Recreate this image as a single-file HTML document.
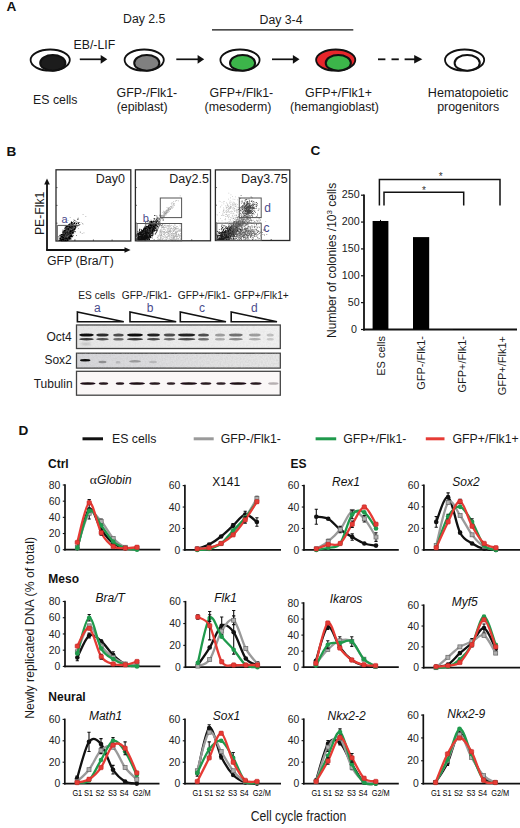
<!DOCTYPE html>
<html><head><meta charset="utf-8"><style>
html,body{margin:0;padding:0;background:#fff;}
svg{display:block;font-family:"Liberation Sans", sans-serif;}
</style></head><body>
<svg width="520" height="828" viewBox="0 0 520 828">
<rect width="520" height="828" fill="#fff"/>
<text x="6.60" y="11.40" font-size="13.6" text-anchor="start" font-weight="bold" font-style="normal" fill="#111" >A</text>
<text x="123.00" y="23.40" font-size="12.3" text-anchor="start" font-weight="normal" font-style="normal" fill="#1a1a1a" >Day 2.5</text>
<text x="259.50" y="23.80" font-size="12.3" text-anchor="start" font-weight="normal" font-style="normal" fill="#1a1a1a" >Day 3-4</text>
<line x1="212" y1="29.9" x2="353.3" y2="29.9" stroke="#111" stroke-width="1.4"/>
<text x="73.50" y="48.60" font-size="12.3" text-anchor="start" font-weight="normal" font-style="normal" fill="#1a1a1a" >EB/-LIF</text>
<ellipse cx="50.2" cy="60.1" rx="19.6" ry="10.6" fill="white" stroke="#111" stroke-width="1.8"/>
<ellipse cx="52.800000000000004" cy="62.9" rx="12.6" ry="7.8" fill="#1c1c1c" stroke="#111" stroke-width="2"/>
<ellipse cx="144.2" cy="60.1" rx="19.6" ry="10.6" fill="white" stroke="#111" stroke-width="1.8"/>
<ellipse cx="146.79999999999998" cy="62.9" rx="12.6" ry="7.8" fill="#808080" stroke="#111" stroke-width="2"/>
<ellipse cx="240" cy="60.1" rx="19.6" ry="10.6" fill="white" stroke="#111" stroke-width="1.8"/>
<ellipse cx="242.6" cy="62.9" rx="12.6" ry="7.8" fill="#3cb54a" stroke="#111" stroke-width="2"/>
<ellipse cx="335.7" cy="60.1" rx="19.6" ry="10.6" fill="#e8262b" stroke="#111" stroke-width="1.8"/>
<ellipse cx="338.3" cy="62.9" rx="12.6" ry="7.8" fill="#3cb54a" stroke="#111" stroke-width="2"/>
<ellipse cx="464.6" cy="60.1" rx="19.6" ry="10.6" fill="white" stroke="#111" stroke-width="1.8"/>
<ellipse cx="467.20000000000005" cy="62.9" rx="12.6" ry="7.8" fill="white" stroke="#111" stroke-width="2"/>
<line x1="79.8" y1="59.3" x2="101.7" y2="59.3" stroke="#111" stroke-width="1.7"/>
<path d="M100.7,54.9 L107.3,59.3 L100.7,63.699999999999996 Z" fill="#111"/>
<line x1="176.3" y1="59.3" x2="198.6" y2="59.3" stroke="#111" stroke-width="1.7"/>
<path d="M197.6,54.9 L204.2,59.3 L197.6,63.699999999999996 Z" fill="#111"/>
<line x1="272" y1="59.3" x2="293.9" y2="59.3" stroke="#111" stroke-width="1.7"/>
<path d="M292.9,54.9 L299.5,59.3 L292.9,63.699999999999996 Z" fill="#111"/>
<line x1="378" y1="59.3" x2="385.4" y2="59.3" stroke="#111" stroke-width="1.8"/>
<line x1="391.5" y1="59.3" x2="398.8" y2="59.3" stroke="#111" stroke-width="1.8"/>
<line x1="404.6" y1="59.3" x2="416.5" y2="59.3" stroke="#111" stroke-width="1.8"/>
<path d="M414.2,55 L422.4,59.3 L414.2,63.6 Z" fill="#111"/>
<text x="55.30" y="103.60" font-size="12.3" text-anchor="middle" font-weight="normal" font-style="normal" fill="#1a1a1a" >ES cells</text>
<text x="146.90" y="96.70" font-size="12.4" text-anchor="middle" font-weight="normal" font-style="normal" fill="#1a1a1a" >GFP-/Flk1-</text>
<text x="142.20" y="111.10" font-size="12.4" text-anchor="middle" font-weight="normal" font-style="normal" fill="#1a1a1a" >(epiblast)</text>
<text x="241.40" y="96.70" font-size="12.4" text-anchor="middle" font-weight="normal" font-style="normal" fill="#1a1a1a" >GFP+/Flk1-</text>
<text x="238.00" y="111.10" font-size="12.4" text-anchor="middle" font-weight="normal" font-style="normal" fill="#1a1a1a" >(mesoderm)</text>
<text x="338.50" y="96.70" font-size="12.4" text-anchor="middle" font-weight="normal" font-style="normal" fill="#1a1a1a" >GFP+/Flk1+</text>
<text x="334.50" y="111.10" font-size="12.4" text-anchor="middle" font-weight="normal" font-style="normal" fill="#1a1a1a" >(hemangioblast)</text>
<text x="468.10" y="96.90" font-size="12.6" text-anchor="middle" font-weight="normal" font-style="normal" fill="#1a1a1a" >Hematopoietic</text>
<text x="468.20" y="111.30" font-size="12.4" text-anchor="middle" font-weight="normal" font-style="normal" fill="#1a1a1a" >progenitors</text>
<text x="6.60" y="155.70" font-size="13.6" text-anchor="start" font-weight="bold" font-style="normal" fill="#111" >B</text>
<defs><filter id="fb" x="0" y="0" width="100%" height="100%"><feGaussianBlur stdDeviation="0.35"/></filter></defs>
<rect x="56" y="169.8" width="74.80000000000001" height="71.19999999999999" fill="white" stroke="#2a2a2a" stroke-width="1.3"/>
<line x1="56" y1="187.60000000000002" x2="57.5" y2="187.60000000000002" stroke="#333" stroke-width="0.8"/>
<line x1="74.7" y1="241" x2="74.7" y2="239.5" stroke="#333" stroke-width="0.8"/>
<line x1="56" y1="205.4" x2="57.5" y2="205.4" stroke="#333" stroke-width="0.8"/>
<line x1="93.4" y1="241" x2="93.4" y2="239.5" stroke="#333" stroke-width="0.8"/>
<line x1="56" y1="223.2" x2="57.5" y2="223.2" stroke="#333" stroke-width="0.8"/>
<line x1="112.10000000000001" y1="241" x2="112.10000000000001" y2="239.5" stroke="#333" stroke-width="0.8"/>
<rect x="135.4" y="169.8" width="75.1" height="71.0" fill="white" stroke="#2a2a2a" stroke-width="1.3"/>
<line x1="135.4" y1="187.55" x2="136.9" y2="187.55" stroke="#333" stroke-width="0.8"/>
<line x1="154.175" y1="240.8" x2="154.175" y2="239.3" stroke="#333" stroke-width="0.8"/>
<line x1="135.4" y1="205.3" x2="136.9" y2="205.3" stroke="#333" stroke-width="0.8"/>
<line x1="172.95" y1="240.8" x2="172.95" y2="239.3" stroke="#333" stroke-width="0.8"/>
<line x1="135.4" y1="223.05" x2="136.9" y2="223.05" stroke="#333" stroke-width="0.8"/>
<line x1="191.725" y1="240.8" x2="191.725" y2="239.3" stroke="#333" stroke-width="0.8"/>
<rect x="215.4" y="169.9" width="74.4" height="70.6" fill="white" stroke="#2a2a2a" stroke-width="1.3"/>
<line x1="215.4" y1="187.55" x2="216.9" y2="187.55" stroke="#333" stroke-width="0.8"/>
<line x1="234.0" y1="240.5" x2="234.0" y2="239.0" stroke="#333" stroke-width="0.8"/>
<line x1="215.4" y1="205.2" x2="216.9" y2="205.2" stroke="#333" stroke-width="0.8"/>
<line x1="252.60000000000002" y1="240.5" x2="252.60000000000002" y2="239.0" stroke="#333" stroke-width="0.8"/>
<line x1="215.4" y1="222.85" x2="216.9" y2="222.85" stroke="#333" stroke-width="0.8"/>
<line x1="271.2" y1="240.5" x2="271.2" y2="239.0" stroke="#333" stroke-width="0.8"/>
<g filter="url(#fb)">
<path d="M68.3,232.4h1.1v1.1h-1.1zM71.0,231.4h1.1v1.1h-1.1zM70.9,234.3h1.1v1.1h-1.1zM71.3,231.2h1.1v1.1h-1.1zM66.4,230.3h1.1v1.1h-1.1zM64.7,235.0h1.1v1.1h-1.1zM68.8,231.3h1.1v1.1h-1.1zM70.8,234.1h1.1v1.1h-1.1zM68.6,232.9h1.1v1.1h-1.1zM68.6,234.5h1.1v1.1h-1.1zM68.1,231.0h1.1v1.1h-1.1zM65.6,236.8h1.1v1.1h-1.1zM67.4,234.7h1.1v1.1h-1.1zM64.8,234.7h1.1v1.1h-1.1zM69.6,231.8h1.1v1.1h-1.1zM68.5,234.3h1.1v1.1h-1.1zM65.7,234.3h1.1v1.1h-1.1zM66.1,237.4h1.1v1.1h-1.1zM68.5,236.0h1.1v1.1h-1.1zM66.9,233.3h1.1v1.1h-1.1zM66.0,234.4h1.1v1.1h-1.1zM70.0,227.9h1.1v1.1h-1.1zM68.7,228.7h1.1v1.1h-1.1zM60.9,240.2h1.1v1.1h-1.1zM65.9,233.6h1.1v1.1h-1.1zM64.5,234.1h1.1v1.1h-1.1zM65.2,230.8h1.1v1.1h-1.1zM66.0,231.5h1.1v1.1h-1.1zM73.3,225.4h1.1v1.1h-1.1zM61.9,236.4h1.1v1.1h-1.1zM64.8,234.1h1.1v1.1h-1.1zM75.0,227.1h1.1v1.1h-1.1zM70.3,232.0h1.1v1.1h-1.1zM67.7,230.0h1.1v1.1h-1.1zM66.2,235.9h1.1v1.1h-1.1zM61.2,239.0h1.1v1.1h-1.1zM69.6,234.4h1.1v1.1h-1.1zM66.3,232.3h1.1v1.1h-1.1zM63.5,238.2h1.1v1.1h-1.1zM66.9,237.4h1.1v1.1h-1.1zM65.4,232.7h1.1v1.1h-1.1zM66.0,238.3h1.1v1.1h-1.1zM65.3,232.8h1.1v1.1h-1.1zM67.4,233.2h1.1v1.1h-1.1zM66.5,232.8h1.1v1.1h-1.1zM65.2,235.2h1.1v1.1h-1.1zM68.7,231.2h1.1v1.1h-1.1zM69.2,229.8h1.1v1.1h-1.1zM66.2,231.0h1.1v1.1h-1.1zM65.8,237.4h1.1v1.1h-1.1zM69.9,231.2h1.1v1.1h-1.1zM67.3,236.6h1.1v1.1h-1.1zM71.3,231.4h1.1v1.1h-1.1zM61.8,236.0h1.1v1.1h-1.1zM71.3,231.1h1.1v1.1h-1.1zM68.6,234.8h1.1v1.1h-1.1zM62.5,237.6h1.1v1.1h-1.1zM67.4,235.6h1.1v1.1h-1.1zM69.1,234.6h1.1v1.1h-1.1zM66.8,231.7h1.1v1.1h-1.1zM62.0,235.7h1.1v1.1h-1.1zM63.2,237.2h1.1v1.1h-1.1zM71.4,235.5h1.1v1.1h-1.1zM65.8,235.4h1.1v1.1h-1.1zM65.7,231.1h1.1v1.1h-1.1zM68.6,230.1h1.1v1.1h-1.1zM60.7,238.7h1.1v1.1h-1.1zM66.9,231.9h1.1v1.1h-1.1zM70.4,228.6h1.1v1.1h-1.1zM62.2,231.7h1.1v1.1h-1.1zM65.0,236.8h1.1v1.1h-1.1zM71.0,231.9h1.1v1.1h-1.1zM67.2,232.1h1.1v1.1h-1.1zM68.8,229.4h1.1v1.1h-1.1zM67.4,235.8h1.1v1.1h-1.1zM60.8,237.7h1.1v1.1h-1.1zM64.7,232.4h1.1v1.1h-1.1zM63.5,233.6h1.1v1.1h-1.1zM68.8,230.1h1.1v1.1h-1.1zM67.9,233.0h1.1v1.1h-1.1zM62.1,239.5h1.1v1.1h-1.1zM64.2,238.5h1.1v1.1h-1.1zM70.5,230.7h1.1v1.1h-1.1zM69.4,231.2h1.1v1.1h-1.1zM63.8,234.9h1.1v1.1h-1.1zM66.4,233.0h1.1v1.1h-1.1zM69.9,232.9h1.1v1.1h-1.1zM66.6,230.4h1.1v1.1h-1.1zM68.9,229.6h1.1v1.1h-1.1zM66.9,231.9h1.1v1.1h-1.1zM66.3,233.5h1.1v1.1h-1.1zM64.5,233.2h1.1v1.1h-1.1zM67.8,227.8h1.1v1.1h-1.1zM67.8,234.8h1.1v1.1h-1.1zM65.9,232.4h1.1v1.1h-1.1zM62.7,238.8h1.1v1.1h-1.1zM68.7,232.7h1.1v1.1h-1.1zM64.5,235.5h1.1v1.1h-1.1zM70.1,230.6h1.1v1.1h-1.1zM65.5,233.1h1.1v1.1h-1.1zM68.2,230.3h1.1v1.1h-1.1zM70.1,228.5h1.1v1.1h-1.1zM67.2,231.3h1.1v1.1h-1.1zM60.8,234.1h1.1v1.1h-1.1zM62.6,239.2h1.1v1.1h-1.1zM72.1,226.8h1.1v1.1h-1.1zM67.2,234.2h1.1v1.1h-1.1zM63.4,234.9h1.1v1.1h-1.1zM67.7,233.1h1.1v1.1h-1.1zM66.6,234.3h1.1v1.1h-1.1zM66.6,228.1h1.1v1.1h-1.1zM63.7,230.8h1.1v1.1h-1.1zM67.5,233.8h1.1v1.1h-1.1zM63.4,235.1h1.1v1.1h-1.1zM69.6,232.5h1.1v1.1h-1.1zM67.0,239.6h1.1v1.1h-1.1zM67.8,230.1h1.1v1.1h-1.1zM70.1,226.7h1.1v1.1h-1.1zM62.5,239.2h1.1v1.1h-1.1zM66.9,229.7h1.1v1.1h-1.1zM75.8,224.7h1.1v1.1h-1.1zM65.4,238.2h1.1v1.1h-1.1zM64.2,238.9h1.1v1.1h-1.1zM67.7,230.4h1.1v1.1h-1.1zM65.8,237.5h1.1v1.1h-1.1zM66.6,236.2h1.1v1.1h-1.1zM64.1,233.4h1.1v1.1h-1.1zM71.3,233.4h1.1v1.1h-1.1zM65.2,234.6h1.1v1.1h-1.1zM68.1,232.6h1.1v1.1h-1.1zM65.5,233.4h1.1v1.1h-1.1zM65.0,237.0h1.1v1.1h-1.1zM67.6,235.8h1.1v1.1h-1.1zM62.9,236.1h1.1v1.1h-1.1zM64.4,231.5h1.1v1.1h-1.1zM63.0,237.2h1.1v1.1h-1.1zM61.8,236.2h1.1v1.1h-1.1zM69.8,226.8h1.1v1.1h-1.1zM66.5,233.4h1.1v1.1h-1.1zM66.6,233.4h1.1v1.1h-1.1zM70.1,232.7h1.1v1.1h-1.1zM64.1,233.9h1.1v1.1h-1.1zM66.7,234.6h1.1v1.1h-1.1zM67.3,231.1h1.1v1.1h-1.1zM69.6,233.6h1.1v1.1h-1.1zM69.6,230.4h1.1v1.1h-1.1zM67.6,237.4h1.1v1.1h-1.1zM63.0,236.8h1.1v1.1h-1.1zM61.9,235.1h1.1v1.1h-1.1zM63.8,233.5h1.1v1.1h-1.1zM69.1,225.3h1.1v1.1h-1.1zM62.1,236.9h1.1v1.1h-1.1zM66.9,232.4h1.1v1.1h-1.1zM67.8,234.0h1.1v1.1h-1.1zM70.0,230.3h1.1v1.1h-1.1zM65.5,233.8h1.1v1.1h-1.1zM64.0,235.0h1.1v1.1h-1.1zM67.5,232.4h1.1v1.1h-1.1zM69.0,230.7h1.1v1.1h-1.1zM69.0,231.0h1.1v1.1h-1.1zM72.9,226.0h1.1v1.1h-1.1zM67.2,232.4h1.1v1.1h-1.1zM62.3,233.6h1.1v1.1h-1.1zM64.8,232.6h1.1v1.1h-1.1zM65.4,232.7h1.1v1.1h-1.1zM69.6,234.7h1.1v1.1h-1.1zM66.1,233.0h1.1v1.1h-1.1zM68.3,233.3h1.1v1.1h-1.1zM69.6,230.4h1.1v1.1h-1.1zM64.6,235.1h1.1v1.1h-1.1zM63.1,237.5h1.1v1.1h-1.1zM67.1,229.7h1.1v1.1h-1.1zM71.0,228.5h1.1v1.1h-1.1zM69.8,232.6h1.1v1.1h-1.1zM68.1,233.3h1.1v1.1h-1.1zM65.3,237.7h1.1v1.1h-1.1zM75.9,222.9h1.1v1.1h-1.1zM72.2,232.0h1.1v1.1h-1.1zM62.7,237.1h1.1v1.1h-1.1zM64.8,236.5h1.1v1.1h-1.1zM68.1,233.7h1.1v1.1h-1.1zM63.7,230.1h1.1v1.1h-1.1zM64.7,234.5h1.1v1.1h-1.1zM70.0,228.3h1.1v1.1h-1.1zM68.0,228.5h1.1v1.1h-1.1zM67.2,233.4h1.1v1.1h-1.1zM61.7,239.2h1.1v1.1h-1.1zM67.6,227.3h1.1v1.1h-1.1zM65.3,231.2h1.1v1.1h-1.1zM66.9,230.1h1.1v1.1h-1.1zM64.5,237.9h1.1v1.1h-1.1zM70.2,224.9h1.1v1.1h-1.1zM69.5,223.3h1.1v1.1h-1.1zM61.7,235.9h1.1v1.1h-1.1zM67.0,231.2h1.1v1.1h-1.1zM67.3,237.7h1.1v1.1h-1.1zM70.4,236.0h1.1v1.1h-1.1zM62.5,237.7h1.1v1.1h-1.1zM73.4,227.0h1.1v1.1h-1.1zM66.1,238.5h1.1v1.1h-1.1zM67.8,235.8h1.1v1.1h-1.1zM68.0,231.2h1.1v1.1h-1.1zM63.1,234.4h1.1v1.1h-1.1zM65.4,233.7h1.1v1.1h-1.1zM62.5,233.5h1.1v1.1h-1.1zM66.8,234.1h1.1v1.1h-1.1zM64.6,238.7h1.1v1.1h-1.1zM62.8,233.0h1.1v1.1h-1.1zM66.1,234.0h1.1v1.1h-1.1zM66.3,234.9h1.1v1.1h-1.1zM68.8,234.4h1.1v1.1h-1.1zM68.0,235.9h1.1v1.1h-1.1zM70.1,231.2h1.1v1.1h-1.1zM64.9,233.8h1.1v1.1h-1.1zM65.9,233.4h1.1v1.1h-1.1zM66.7,237.2h1.1v1.1h-1.1zM64.4,234.7h1.1v1.1h-1.1zM63.2,238.2h1.1v1.1h-1.1zM70.5,232.9h1.1v1.1h-1.1zM63.8,237.9h1.1v1.1h-1.1zM62.7,234.7h1.1v1.1h-1.1zM67.4,231.6h1.1v1.1h-1.1zM68.9,232.4h1.1v1.1h-1.1zM65.4,234.7h1.1v1.1h-1.1zM69.9,233.0h1.1v1.1h-1.1zM66.6,231.6h1.1v1.1h-1.1zM62.1,238.3h1.1v1.1h-1.1zM68.8,230.2h1.1v1.1h-1.1zM63.1,234.8h1.1v1.1h-1.1zM64.2,238.1h1.1v1.1h-1.1zM66.8,232.7h1.1v1.1h-1.1zM67.4,234.8h1.1v1.1h-1.1zM66.5,231.9h1.1v1.1h-1.1zM61.0,238.6h1.1v1.1h-1.1zM74.6,228.2h1.1v1.1h-1.1zM63.8,234.7h1.1v1.1h-1.1zM61.6,238.7h1.1v1.1h-1.1zM67.5,230.1h1.1v1.1h-1.1zM65.4,234.4h1.1v1.1h-1.1zM66.4,231.1h1.1v1.1h-1.1zM65.8,234.6h1.1v1.1h-1.1zM65.6,232.8h1.1v1.1h-1.1zM66.9,231.9h1.1v1.1h-1.1zM65.2,236.6h1.1v1.1h-1.1zM69.7,231.4h1.1v1.1h-1.1zM66.2,235.6h1.1v1.1h-1.1zM63.3,235.9h1.1v1.1h-1.1zM67.6,233.4h1.1v1.1h-1.1zM67.9,231.4h1.1v1.1h-1.1zM66.0,234.1h1.1v1.1h-1.1zM61.9,234.8h1.1v1.1h-1.1zM69.5,231.6h1.1v1.1h-1.1zM61.6,240.0h1.1v1.1h-1.1zM66.4,239.1h1.1v1.1h-1.1zM67.8,233.8h1.1v1.1h-1.1zM61.3,237.4h1.1v1.1h-1.1zM64.9,231.7h1.1v1.1h-1.1zM68.3,234.7h1.1v1.1h-1.1zM68.1,228.9h1.1v1.1h-1.1zM65.2,237.6h1.1v1.1h-1.1zM64.6,235.4h1.1v1.1h-1.1zM70.8,234.2h1.1v1.1h-1.1zM77.8,222.9h1.1v1.1h-1.1zM66.8,237.4h1.1v1.1h-1.1zM64.1,235.6h1.1v1.1h-1.1zM68.8,229.6h1.1v1.1h-1.1zM68.9,235.0h1.1v1.1h-1.1zM67.3,230.0h1.1v1.1h-1.1zM71.0,231.3h1.1v1.1h-1.1zM69.3,237.8h1.1v1.1h-1.1zM66.0,234.4h1.1v1.1h-1.1zM70.2,232.9h1.1v1.1h-1.1zM64.0,236.7h1.1v1.1h-1.1zM70.0,233.1h1.1v1.1h-1.1zM67.1,232.3h1.1v1.1h-1.1zM66.9,237.4h1.1v1.1h-1.1zM63.7,239.3h1.1v1.1h-1.1zM65.9,234.0h1.1v1.1h-1.1zM64.7,237.0h1.1v1.1h-1.1zM68.9,228.9h1.1v1.1h-1.1zM65.6,231.6h1.1v1.1h-1.1zM67.5,229.2h1.1v1.1h-1.1zM67.2,232.8h1.1v1.1h-1.1zM66.1,231.2h1.1v1.1h-1.1zM65.3,236.9h1.1v1.1h-1.1zM69.5,231.3h1.1v1.1h-1.1zM72.6,226.9h1.1v1.1h-1.1zM65.3,234.0h1.1v1.1h-1.1zM65.3,235.7h1.1v1.1h-1.1zM66.4,234.0h1.1v1.1h-1.1zM67.5,236.6h1.1v1.1h-1.1zM63.7,235.2h1.1v1.1h-1.1zM66.7,232.4h1.1v1.1h-1.1zM65.7,234.3h1.1v1.1h-1.1zM70.7,227.6h1.1v1.1h-1.1zM65.8,232.6h1.1v1.1h-1.1zM66.9,231.4h1.1v1.1h-1.1zM71.1,230.8h1.1v1.1h-1.1zM65.1,233.9h1.1v1.1h-1.1zM72.3,228.8h1.1v1.1h-1.1zM68.1,238.0h1.1v1.1h-1.1zM66.5,237.9h1.1v1.1h-1.1zM63.2,232.9h1.1v1.1h-1.1zM67.7,234.6h1.1v1.1h-1.1zM63.6,239.3h1.1v1.1h-1.1zM67.6,234.1h1.1v1.1h-1.1zM59.8,238.1h1.1v1.1h-1.1zM71.9,228.8h1.1v1.1h-1.1zM65.1,232.5h1.1v1.1h-1.1zM67.0,237.2h1.1v1.1h-1.1zM65.9,238.0h1.1v1.1h-1.1zM69.5,237.6h1.1v1.1h-1.1zM65.7,233.8h1.1v1.1h-1.1zM61.7,235.8h1.1v1.1h-1.1zM65.8,238.1h1.1v1.1h-1.1zM67.6,235.0h1.1v1.1h-1.1zM64.9,235.0h1.1v1.1h-1.1zM71.5,231.2h1.1v1.1h-1.1zM71.1,229.7h1.1v1.1h-1.1zM65.1,231.9h1.1v1.1h-1.1zM67.7,231.2h1.1v1.1h-1.1zM62.5,238.1h1.1v1.1h-1.1zM68.5,230.8h1.1v1.1h-1.1zM67.1,233.7h1.1v1.1h-1.1zM67.2,230.7h1.1v1.1h-1.1zM71.1,226.9h1.1v1.1h-1.1zM67.5,232.3h1.1v1.1h-1.1zM63.4,237.3h1.1v1.1h-1.1zM68.1,230.7h1.1v1.1h-1.1zM63.0,238.4h1.1v1.1h-1.1zM62.7,233.3h1.1v1.1h-1.1zM67.7,232.7h1.1v1.1h-1.1zM67.1,229.9h1.1v1.1h-1.1zM67.3,233.2h1.1v1.1h-1.1zM62.5,234.9h1.1v1.1h-1.1zM66.7,236.5h1.1v1.1h-1.1zM69.7,230.2h1.1v1.1h-1.1zM64.9,232.0h1.1v1.1h-1.1zM62.5,240.2h1.1v1.1h-1.1zM68.2,229.3h1.1v1.1h-1.1zM70.7,233.7h1.1v1.1h-1.1zM70.1,230.5h1.1v1.1h-1.1zM64.8,233.8h1.1v1.1h-1.1zM69.6,230.4h1.1v1.1h-1.1zM63.8,237.5h1.1v1.1h-1.1zM70.2,232.4h1.1v1.1h-1.1zM66.0,235.6h1.1v1.1h-1.1zM69.5,231.3h1.1v1.1h-1.1zM68.1,228.3h1.1v1.1h-1.1zM66.0,237.1h1.1v1.1h-1.1zM69.8,235.8h1.1v1.1h-1.1zM67.9,233.9h1.1v1.1h-1.1zM70.2,228.7h1.1v1.1h-1.1zM69.1,230.8h1.1v1.1h-1.1zM62.1,237.1h1.1v1.1h-1.1zM68.5,231.8h1.1v1.1h-1.1zM67.4,229.3h1.1v1.1h-1.1zM73.0,225.2h1.1v1.1h-1.1zM61.6,239.5h1.1v1.1h-1.1zM64.2,234.6h1.1v1.1h-1.1zM71.5,228.8h1.1v1.1h-1.1zM60.9,237.1h1.1v1.1h-1.1zM63.5,238.0h1.1v1.1h-1.1zM66.4,230.0h1.1v1.1h-1.1zM72.4,231.4h1.1v1.1h-1.1zM67.9,238.1h1.1v1.1h-1.1zM69.7,232.2h1.1v1.1h-1.1zM70.0,234.9h1.1v1.1h-1.1zM72.0,228.1h1.1v1.1h-1.1zM67.7,234.0h1.1v1.1h-1.1zM69.1,229.1h1.1v1.1h-1.1zM63.0,235.9h1.1v1.1h-1.1zM66.6,234.2h1.1v1.1h-1.1zM65.8,233.2h1.1v1.1h-1.1zM69.5,228.5h1.1v1.1h-1.1zM69.6,231.9h1.1v1.1h-1.1zM64.6,236.2h1.1v1.1h-1.1zM66.5,229.1h1.1v1.1h-1.1zM68.8,230.1h1.1v1.1h-1.1zM65.5,233.0h1.1v1.1h-1.1zM65.7,234.1h1.1v1.1h-1.1zM64.7,233.0h1.1v1.1h-1.1zM70.2,234.6h1.1v1.1h-1.1zM65.9,231.3h1.1v1.1h-1.1zM65.4,237.4h1.1v1.1h-1.1zM69.9,231.1h1.1v1.1h-1.1zM61.5,237.6h1.1v1.1h-1.1zM65.5,235.6h1.1v1.1h-1.1zM67.6,236.7h1.1v1.1h-1.1zM73.7,226.5h1.1v1.1h-1.1zM66.8,229.9h1.1v1.1h-1.1zM68.5,228.9h1.1v1.1h-1.1zM68.4,232.2h1.1v1.1h-1.1zM70.7,229.1h1.1v1.1h-1.1zM64.1,237.3h1.1v1.1h-1.1zM68.4,229.9h1.1v1.1h-1.1zM62.6,237.4h1.1v1.1h-1.1zM66.6,235.1h1.1v1.1h-1.1zM59.5,235.0h1.1v1.1h-1.1zM72.2,231.0h1.1v1.1h-1.1zM68.5,229.4h1.1v1.1h-1.1zM62.8,234.6h1.1v1.1h-1.1zM70.2,230.4h1.1v1.1h-1.1zM65.2,231.4h1.1v1.1h-1.1zM67.0,234.3h1.1v1.1h-1.1zM66.4,232.7h1.1v1.1h-1.1zM67.2,234.8h1.1v1.1h-1.1zM69.8,231.8h1.1v1.1h-1.1zM69.6,233.5h1.1v1.1h-1.1zM65.2,234.2h1.1v1.1h-1.1zM69.3,229.1h1.1v1.1h-1.1zM65.1,235.7h1.1v1.1h-1.1zM65.6,230.7h1.1v1.1h-1.1zM68.9,232.3h1.1v1.1h-1.1zM71.2,227.7h1.1v1.1h-1.1zM63.5,233.9h1.1v1.1h-1.1zM73.5,227.9h1.1v1.1h-1.1zM69.3,234.1h1.1v1.1h-1.1zM64.4,232.7h1.1v1.1h-1.1zM65.8,236.6h1.1v1.1h-1.1zM70.3,232.4h1.1v1.1h-1.1zM68.2,234.0h1.1v1.1h-1.1zM62.3,236.6h1.1v1.1h-1.1zM61.6,236.2h1.1v1.1h-1.1zM65.1,235.4h1.1v1.1h-1.1zM64.2,235.4h1.1v1.1h-1.1zM69.9,229.1h1.1v1.1h-1.1zM70.6,227.9h1.1v1.1h-1.1zM70.1,230.5h1.1v1.1h-1.1zM67.0,231.4h1.1v1.1h-1.1zM65.4,234.8h1.1v1.1h-1.1zM71.3,236.3h1.1v1.1h-1.1zM69.2,229.8h1.1v1.1h-1.1zM73.9,225.8h1.1v1.1h-1.1zM69.8,230.1h1.1v1.1h-1.1zM66.4,234.6h1.1v1.1h-1.1zM65.6,232.2h1.1v1.1h-1.1zM66.2,235.8h1.1v1.1h-1.1zM64.6,236.3h1.1v1.1h-1.1zM67.5,234.9h1.1v1.1h-1.1zM70.4,234.7h1.1v1.1h-1.1zM72.3,226.4h1.1v1.1h-1.1zM68.1,233.9h1.1v1.1h-1.1zM69.2,227.0h1.1v1.1h-1.1zM72.0,226.6h1.1v1.1h-1.1zM69.3,234.7h1.1v1.1h-1.1zM71.3,227.0h1.1v1.1h-1.1zM67.9,229.9h1.1v1.1h-1.1zM66.0,235.2h1.1v1.1h-1.1zM67.3,232.1h1.1v1.1h-1.1zM66.5,233.0h1.1v1.1h-1.1zM65.6,233.8h1.1v1.1h-1.1zM69.2,236.2h1.1v1.1h-1.1zM66.0,231.8h1.1v1.1h-1.1zM67.5,231.2h1.1v1.1h-1.1zM63.5,236.2h1.1v1.1h-1.1zM68.6,234.7h1.1v1.1h-1.1zM62.1,238.9h1.1v1.1h-1.1zM69.5,233.7h1.1v1.1h-1.1zM68.8,231.1h1.1v1.1h-1.1zM67.3,232.7h1.1v1.1h-1.1zM65.5,230.7h1.1v1.1h-1.1zM70.3,232.3h1.1v1.1h-1.1zM65.7,236.5h1.1v1.1h-1.1zM66.7,234.7h1.1v1.1h-1.1zM68.1,231.2h1.1v1.1h-1.1zM69.1,229.0h1.1v1.1h-1.1zM66.1,230.4h1.1v1.1h-1.1zM75.4,224.4h1.1v1.1h-1.1zM67.0,234.0h1.1v1.1h-1.1zM69.1,229.1h1.1v1.1h-1.1zM69.5,227.7h1.1v1.1h-1.1zM66.6,234.0h1.1v1.1h-1.1zM64.4,236.4h1.1v1.1h-1.1zM65.9,239.7h1.1v1.1h-1.1zM68.4,233.5h1.1v1.1h-1.1zM69.1,228.4h1.1v1.1h-1.1zM66.0,231.1h1.1v1.1h-1.1zM67.0,232.4h1.1v1.1h-1.1zM64.4,233.8h1.1v1.1h-1.1zM68.5,231.2h1.1v1.1h-1.1zM68.4,233.1h1.1v1.1h-1.1zM67.5,233.7h1.1v1.1h-1.1zM62.7,238.4h1.1v1.1h-1.1zM73.8,225.5h1.1v1.1h-1.1zM61.6,237.8h1.1v1.1h-1.1zM63.7,237.4h1.1v1.1h-1.1zM64.6,238.9h1.1v1.1h-1.1zM70.4,229.3h1.1v1.1h-1.1zM62.5,235.4h1.1v1.1h-1.1zM67.0,229.5h1.1v1.1h-1.1zM66.1,229.3h1.1v1.1h-1.1zM70.2,234.2h1.1v1.1h-1.1zM60.9,236.8h1.1v1.1h-1.1zM64.9,235.6h1.1v1.1h-1.1zM74.2,228.8h1.1v1.1h-1.1zM64.8,239.5h1.1v1.1h-1.1zM66.4,238.0h1.1v1.1h-1.1zM65.7,233.4h1.1v1.1h-1.1zM70.2,231.0h1.1v1.1h-1.1zM72.0,235.6h1.1v1.1h-1.1zM68.9,230.4h1.1v1.1h-1.1zM64.4,237.9h1.1v1.1h-1.1zM69.1,229.3h1.1v1.1h-1.1zM68.4,231.1h1.1v1.1h-1.1zM62.9,239.9h1.1v1.1h-1.1zM73.2,228.8h1.1v1.1h-1.1zM72.0,223.5h1.1v1.1h-1.1zM62.6,234.8h1.1v1.1h-1.1zM67.0,233.1h1.1v1.1h-1.1zM71.1,228.1h1.1v1.1h-1.1zM62.3,237.7h1.1v1.1h-1.1zM66.1,236.1h1.1v1.1h-1.1zM66.8,236.8h1.1v1.1h-1.1zM69.0,231.3h1.1v1.1h-1.1zM67.1,231.9h1.1v1.1h-1.1zM64.3,238.9h1.1v1.1h-1.1zM67.9,230.8h1.1v1.1h-1.1zM69.4,224.1h1.1v1.1h-1.1zM72.2,230.1h1.1v1.1h-1.1zM67.8,228.1h1.1v1.1h-1.1zM66.4,232.9h1.1v1.1h-1.1zM69.2,229.2h1.1v1.1h-1.1zM63.6,236.7h1.1v1.1h-1.1zM68.6,230.1h1.1v1.1h-1.1zM64.5,232.1h1.1v1.1h-1.1zM70.8,229.5h1.1v1.1h-1.1zM68.2,231.6h1.1v1.1h-1.1zM63.8,237.6h1.1v1.1h-1.1zM68.8,234.0h1.1v1.1h-1.1zM71.9,229.8h1.1v1.1h-1.1zM65.6,239.1h1.1v1.1h-1.1zM68.0,237.5h1.1v1.1h-1.1zM65.3,236.8h1.1v1.1h-1.1zM60.4,237.5h1.1v1.1h-1.1zM69.9,229.8h1.1v1.1h-1.1zM70.6,228.3h1.1v1.1h-1.1zM69.2,230.3h1.1v1.1h-1.1zM66.7,231.8h1.1v1.1h-1.1zM65.4,232.6h1.1v1.1h-1.1zM68.7,233.2h1.1v1.1h-1.1zM66.2,237.2h1.1v1.1h-1.1zM67.7,228.7h1.1v1.1h-1.1zM70.6,229.8h1.1v1.1h-1.1zM69.2,229.5h1.1v1.1h-1.1zM64.8,235.0h1.1v1.1h-1.1zM68.1,233.7h1.1v1.1h-1.1zM66.3,233.9h1.1v1.1h-1.1zM71.1,225.8h1.1v1.1h-1.1zM67.4,232.7h1.1v1.1h-1.1zM58.6,238.5h1.1v1.1h-1.1zM67.1,231.2h1.1v1.1h-1.1zM71.5,225.6h1.1v1.1h-1.1zM66.7,229.2h1.1v1.1h-1.1zM69.6,230.1h1.1v1.1h-1.1zM67.3,233.5h1.1v1.1h-1.1zM61.5,240.2h1.1v1.1h-1.1zM64.3,238.9h1.1v1.1h-1.1zM68.0,234.9h1.1v1.1h-1.1zM66.6,231.3h1.1v1.1h-1.1zM69.3,231.0h1.1v1.1h-1.1zM67.4,235.7h1.1v1.1h-1.1zM69.5,229.6h1.1v1.1h-1.1zM64.9,233.6h1.1v1.1h-1.1zM63.7,235.2h1.1v1.1h-1.1zM68.7,229.7h1.1v1.1h-1.1zM62.7,235.8h1.1v1.1h-1.1zM63.0,236.8h1.1v1.1h-1.1zM67.6,233.3h1.1v1.1h-1.1zM66.7,235.4h1.1v1.1h-1.1zM65.3,234.2h1.1v1.1h-1.1zM60.9,237.5h1.1v1.1h-1.1zM65.4,235.0h1.1v1.1h-1.1zM65.4,235.5h1.1v1.1h-1.1zM70.6,228.6h1.1v1.1h-1.1zM69.7,233.2h1.1v1.1h-1.1zM66.1,237.9h1.1v1.1h-1.1zM70.0,231.4h1.1v1.1h-1.1zM72.4,226.1h1.1v1.1h-1.1zM68.3,232.1h1.1v1.1h-1.1zM66.6,231.3h1.1v1.1h-1.1zM69.2,224.0h1.1v1.1h-1.1zM66.4,233.1h1.1v1.1h-1.1zM64.4,233.4h1.1v1.1h-1.1zM67.6,236.9h1.1v1.1h-1.1zM74.7,226.1h1.1v1.1h-1.1zM62.0,238.2h1.1v1.1h-1.1zM69.8,235.4h1.1v1.1h-1.1zM60.3,237.0h1.1v1.1h-1.1zM65.4,231.5h1.1v1.1h-1.1zM68.2,229.0h1.1v1.1h-1.1zM64.7,233.2h1.1v1.1h-1.1zM69.1,230.6h1.1v1.1h-1.1zM69.1,230.7h1.1v1.1h-1.1zM70.8,233.6h1.1v1.1h-1.1zM73.1,227.7h1.1v1.1h-1.1zM70.8,231.6h1.1v1.1h-1.1zM66.6,234.9h1.1v1.1h-1.1zM64.7,235.8h1.1v1.1h-1.1zM63.4,235.9h1.1v1.1h-1.1zM65.9,229.9h1.1v1.1h-1.1zM64.6,233.6h1.1v1.1h-1.1zM73.9,222.3h1.1v1.1h-1.1zM73.1,227.0h1.1v1.1h-1.1zM63.7,232.4h1.1v1.1h-1.1zM63.9,233.1h1.1v1.1h-1.1zM71.9,227.0h1.1v1.1h-1.1zM60.0,239.5h1.1v1.1h-1.1zM66.0,235.4h1.1v1.1h-1.1zM68.9,229.2h1.1v1.1h-1.1zM63.1,236.0h1.1v1.1h-1.1zM63.5,233.7h1.1v1.1h-1.1zM65.7,234.6h1.1v1.1h-1.1zM67.6,230.0h1.1v1.1h-1.1zM66.3,232.1h1.1v1.1h-1.1zM67.0,231.1h1.1v1.1h-1.1zM68.8,231.2h1.1v1.1h-1.1zM67.1,233.3h1.1v1.1h-1.1zM67.4,227.2h1.1v1.1h-1.1zM64.5,236.0h1.1v1.1h-1.1zM63.3,239.3h1.1v1.1h-1.1zM65.6,235.7h1.1v1.1h-1.1zM68.0,228.1h1.1v1.1h-1.1zM66.2,231.8h1.1v1.1h-1.1zM66.4,236.6h1.1v1.1h-1.1zM62.8,236.7h1.1v1.1h-1.1zM66.8,236.4h1.1v1.1h-1.1zM67.5,236.2h1.1v1.1h-1.1zM63.7,234.4h1.1v1.1h-1.1zM63.4,239.3h1.1v1.1h-1.1zM65.3,235.0h1.1v1.1h-1.1zM72.6,231.5h1.1v1.1h-1.1zM65.4,233.7h1.1v1.1h-1.1zM66.0,231.6h1.1v1.1h-1.1zM64.5,236.0h1.1v1.1h-1.1zM67.3,233.1h1.1v1.1h-1.1zM72.4,226.6h1.1v1.1h-1.1zM65.8,231.9h1.1v1.1h-1.1zM67.4,226.8h1.1v1.1h-1.1zM66.1,233.2h1.1v1.1h-1.1zM67.2,230.7h1.1v1.1h-1.1zM68.7,237.2h1.1v1.1h-1.1zM68.8,230.1h1.1v1.1h-1.1zM65.5,230.7h1.1v1.1h-1.1zM63.4,234.0h1.1v1.1h-1.1zM69.8,230.3h1.1v1.1h-1.1zM65.9,237.8h1.1v1.1h-1.1zM68.2,230.5h1.1v1.1h-1.1zM64.3,237.1h1.1v1.1h-1.1zM68.7,231.5h1.1v1.1h-1.1zM65.2,238.7h1.1v1.1h-1.1zM68.3,225.5h1.1v1.1h-1.1zM67.7,232.5h1.1v1.1h-1.1zM71.4,228.2h1.1v1.1h-1.1zM65.9,237.5h1.1v1.1h-1.1zM66.0,235.6h1.1v1.1h-1.1zM67.6,228.9h1.1v1.1h-1.1zM61.6,235.8h1.1v1.1h-1.1zM70.0,229.5h1.1v1.1h-1.1zM68.4,231.7h1.1v1.1h-1.1zM70.3,230.0h1.1v1.1h-1.1zM64.5,233.5h1.1v1.1h-1.1zM66.7,229.9h1.1v1.1h-1.1zM67.0,237.8h1.1v1.1h-1.1zM63.2,238.8h1.1v1.1h-1.1zM65.9,235.9h1.1v1.1h-1.1zM63.1,233.9h1.1v1.1h-1.1zM66.2,236.6h1.1v1.1h-1.1zM62.5,233.3h1.1v1.1h-1.1zM68.6,232.9h1.1v1.1h-1.1zM65.0,235.4h1.1v1.1h-1.1zM64.7,237.0h1.1v1.1h-1.1zM73.2,225.9h1.1v1.1h-1.1zM59.7,234.7h1.1v1.1h-1.1zM70.3,225.8h1.1v1.1h-1.1zM72.5,228.2h1.1v1.1h-1.1zM64.9,230.3h1.1v1.1h-1.1zM62.5,233.6h1.1v1.1h-1.1zM66.5,232.3h1.1v1.1h-1.1zM65.9,239.5h1.1v1.1h-1.1zM69.9,234.0h1.1v1.1h-1.1zM65.9,232.6h1.1v1.1h-1.1zM69.8,232.3h1.1v1.1h-1.1zM70.3,230.2h1.1v1.1h-1.1zM72.1,226.8h1.1v1.1h-1.1zM66.2,235.2h1.1v1.1h-1.1zM68.7,228.5h1.1v1.1h-1.1zM65.7,237.2h1.1v1.1h-1.1zM65.8,237.9h1.1v1.1h-1.1zM69.0,238.6h1.1v1.1h-1.1zM65.4,238.1h1.1v1.1h-1.1zM66.0,226.9h1.1v1.1h-1.1zM67.6,228.4h1.1v1.1h-1.1zM70.9,228.7h1.1v1.1h-1.1zM66.8,233.5h1.1v1.1h-1.1zM64.9,230.3h1.1v1.1h-1.1zM65.0,235.4h1.1v1.1h-1.1zM63.0,237.4h1.1v1.1h-1.1zM68.0,231.5h1.1v1.1h-1.1zM67.4,232.1h1.1v1.1h-1.1zM65.0,238.6h1.1v1.1h-1.1zM70.6,232.6h1.1v1.1h-1.1zM64.7,232.8h1.1v1.1h-1.1zM63.8,234.8h1.1v1.1h-1.1zM64.3,234.6h1.1v1.1h-1.1zM63.7,237.4h1.1v1.1h-1.1zM68.9,229.1h1.1v1.1h-1.1zM67.9,230.7h1.1v1.1h-1.1zM68.8,227.7h1.1v1.1h-1.1zM68.5,233.8h1.1v1.1h-1.1zM64.4,239.2h1.1v1.1h-1.1zM67.1,235.8h1.1v1.1h-1.1zM63.3,237.8h1.1v1.1h-1.1zM68.7,232.0h1.1v1.1h-1.1zM68.8,227.7h1.1v1.1h-1.1zM66.2,231.0h1.1v1.1h-1.1zM64.3,235.1h1.1v1.1h-1.1zM66.6,235.4h1.1v1.1h-1.1zM67.1,232.4h1.1v1.1h-1.1zM61.0,237.8h1.1v1.1h-1.1zM67.3,232.9h1.1v1.1h-1.1zM67.9,233.0h1.1v1.1h-1.1zM65.5,235.6h1.1v1.1h-1.1zM64.6,234.3h1.1v1.1h-1.1zM67.3,232.8h1.1v1.1h-1.1zM63.8,236.1h1.1v1.1h-1.1zM64.0,236.2h1.1v1.1h-1.1zM68.8,230.3h1.1v1.1h-1.1zM68.5,233.3h1.1v1.1h-1.1zM74.1,228.8h1.1v1.1h-1.1zM66.2,238.9h1.1v1.1h-1.1zM68.8,229.3h1.1v1.1h-1.1zM69.0,229.3h1.1v1.1h-1.1zM64.3,236.0h1.1v1.1h-1.1zM62.6,230.7h1.1v1.1h-1.1zM62.9,232.6h1.1v1.1h-1.1zM68.0,235.7h1.1v1.1h-1.1zM62.7,231.9h1.1v1.1h-1.1zM72.9,228.9h1.1v1.1h-1.1zM68.1,236.1h1.1v1.1h-1.1zM69.6,231.0h1.1v1.1h-1.1zM66.7,237.3h1.1v1.1h-1.1zM63.0,236.1h1.1v1.1h-1.1zM72.1,231.2h1.1v1.1h-1.1zM67.5,234.4h1.1v1.1h-1.1zM71.7,227.5h1.1v1.1h-1.1zM65.2,239.4h1.1v1.1h-1.1zM67.7,235.5h1.1v1.1h-1.1zM65.8,232.4h1.1v1.1h-1.1zM72.6,229.4h1.1v1.1h-1.1zM72.9,227.2h1.1v1.1h-1.1zM65.1,236.2h1.1v1.1h-1.1zM65.4,239.3h1.1v1.1h-1.1zM71.5,229.1h1.1v1.1h-1.1zM65.7,233.3h1.1v1.1h-1.1zM66.0,236.9h1.1v1.1h-1.1zM64.9,232.5h1.1v1.1h-1.1zM59.3,238.4h1.1v1.1h-1.1zM66.8,228.1h1.1v1.1h-1.1zM68.4,232.4h1.1v1.1h-1.1zM67.0,232.8h1.1v1.1h-1.1zM64.0,237.5h1.1v1.1h-1.1zM69.2,231.8h1.1v1.1h-1.1zM72.2,227.0h1.1v1.1h-1.1zM61.9,237.3h1.1v1.1h-1.1zM66.8,233.5h1.1v1.1h-1.1zM65.3,235.1h1.1v1.1h-1.1zM66.9,231.6h1.1v1.1h-1.1zM66.5,233.3h1.1v1.1h-1.1zM65.7,233.7h1.1v1.1h-1.1zM63.2,236.2h1.1v1.1h-1.1zM66.1,233.2h1.1v1.1h-1.1zM65.3,236.1h1.1v1.1h-1.1zM69.2,236.3h1.1v1.1h-1.1zM65.3,232.9h1.1v1.1h-1.1zM69.3,231.5h1.1v1.1h-1.1zM62.9,234.2h1.1v1.1h-1.1zM68.1,236.4h1.1v1.1h-1.1zM69.2,229.0h1.1v1.1h-1.1zM66.2,234.5h1.1v1.1h-1.1zM67.8,235.9h1.1v1.1h-1.1zM70.5,231.2h1.1v1.1h-1.1zM65.2,230.9h1.1v1.1h-1.1zM67.7,233.7h1.1v1.1h-1.1zM66.9,232.4h1.1v1.1h-1.1zM64.1,239.0h1.1v1.1h-1.1zM68.2,231.9h1.1v1.1h-1.1zM71.5,229.1h1.1v1.1h-1.1zM68.7,231.6h1.1v1.1h-1.1zM62.1,239.4h1.1v1.1h-1.1zM69.2,233.6h1.1v1.1h-1.1zM61.9,235.4h1.1v1.1h-1.1zM65.4,233.9h1.1v1.1h-1.1zM65.6,232.0h1.1v1.1h-1.1zM63.1,238.0h1.1v1.1h-1.1zM69.8,227.8h1.1v1.1h-1.1zM66.3,233.6h1.1v1.1h-1.1zM68.2,229.9h1.1v1.1h-1.1zM67.8,230.5h1.1v1.1h-1.1zM68.1,226.5h1.1v1.1h-1.1zM70.0,228.8h1.1v1.1h-1.1zM63.0,239.5h1.1v1.1h-1.1zM65.9,232.7h1.1v1.1h-1.1zM64.5,234.5h1.1v1.1h-1.1zM71.2,232.4h1.1v1.1h-1.1zM69.6,230.1h1.1v1.1h-1.1zM70.9,228.8h1.1v1.1h-1.1zM65.2,234.6h1.1v1.1h-1.1zM66.9,231.7h1.1v1.1h-1.1zM65.7,232.1h1.1v1.1h-1.1zM72.5,230.1h1.1v1.1h-1.1zM68.7,225.5h1.1v1.1h-1.1zM66.1,235.1h1.1v1.1h-1.1zM77.3,218.7h1.1v1.1h-1.1zM66.3,233.2h1.1v1.1h-1.1zM63.4,233.2h1.1v1.1h-1.1zM66.6,229.8h1.1v1.1h-1.1zM70.3,231.5h1.1v1.1h-1.1zM67.2,230.6h1.1v1.1h-1.1zM66.2,236.9h1.1v1.1h-1.1zM71.8,228.4h1.1v1.1h-1.1zM67.7,233.8h1.1v1.1h-1.1zM72.2,228.2h1.1v1.1h-1.1zM68.9,226.7h1.1v1.1h-1.1zM62.4,237.8h1.1v1.1h-1.1zM65.0,237.9h1.1v1.1h-1.1zM62.1,235.9h1.1v1.1h-1.1zM69.9,234.2h1.1v1.1h-1.1zM66.1,232.6h1.1v1.1h-1.1zM67.4,232.3h1.1v1.1h-1.1zM63.0,235.4h1.1v1.1h-1.1zM68.5,232.1h1.1v1.1h-1.1zM69.6,227.1h1.1v1.1h-1.1zM62.6,238.3h1.1v1.1h-1.1zM64.5,232.9h1.1v1.1h-1.1zM69.2,233.7h1.1v1.1h-1.1zM64.0,232.1h1.1v1.1h-1.1zM66.9,234.6h1.1v1.1h-1.1zM72.1,226.7h1.1v1.1h-1.1zM71.0,228.8h1.1v1.1h-1.1zM67.7,229.0h1.1v1.1h-1.1zM66.1,237.4h1.1v1.1h-1.1zM74.5,225.7h1.1v1.1h-1.1zM68.0,232.1h1.1v1.1h-1.1zM65.6,235.9h1.1v1.1h-1.1zM65.6,234.5h1.1v1.1h-1.1zM66.3,235.9h1.1v1.1h-1.1zM71.5,224.3h1.1v1.1h-1.1zM68.1,233.1h1.1v1.1h-1.1zM67.5,233.5h1.1v1.1h-1.1zM65.0,227.7h1.1v1.1h-1.1zM63.6,237.3h1.1v1.1h-1.1zM63.3,237.6h1.1v1.1h-1.1zM70.3,232.3h1.1v1.1h-1.1zM64.4,236.8h1.1v1.1h-1.1zM68.4,229.6h1.1v1.1h-1.1zM67.9,227.6h1.1v1.1h-1.1zM65.5,233.3h1.1v1.1h-1.1zM60.7,238.3h1.1v1.1h-1.1zM66.4,233.5h1.1v1.1h-1.1zM70.9,230.9h1.1v1.1h-1.1zM63.1,238.7h1.1v1.1h-1.1zM70.3,225.2h1.1v1.1h-1.1zM66.4,234.9h1.1v1.1h-1.1zM61.8,236.8h1.1v1.1h-1.1zM64.1,232.2h1.1v1.1h-1.1zM69.7,230.8h1.1v1.1h-1.1zM62.1,238.1h1.1v1.1h-1.1zM68.4,234.5h1.1v1.1h-1.1zM63.3,239.0h1.1v1.1h-1.1zM69.0,227.8h1.1v1.1h-1.1zM67.5,233.0h1.1v1.1h-1.1zM67.4,236.4h1.1v1.1h-1.1zM69.4,229.1h1.1v1.1h-1.1zM61.6,237.3h1.1v1.1h-1.1zM64.7,234.2h1.1v1.1h-1.1zM70.8,225.3h1.1v1.1h-1.1zM64.7,232.6h1.1v1.1h-1.1zM68.7,226.7h1.1v1.1h-1.1zM67.9,233.1h1.1v1.1h-1.1zM66.4,237.3h1.1v1.1h-1.1zM65.5,234.0h1.1v1.1h-1.1zM68.1,233.9h1.1v1.1h-1.1zM66.9,235.9h1.1v1.1h-1.1zM66.9,238.4h1.1v1.1h-1.1zM64.3,236.2h1.1v1.1h-1.1zM62.0,238.8h1.1v1.1h-1.1zM67.7,233.4h1.1v1.1h-1.1zM68.0,232.0h1.1v1.1h-1.1zM69.3,230.8h1.1v1.1h-1.1zM68.4,229.8h1.1v1.1h-1.1zM67.0,233.7h1.1v1.1h-1.1zM61.3,237.9h1.1v1.1h-1.1zM66.8,232.8h1.1v1.1h-1.1zM68.1,229.5h1.1v1.1h-1.1zM67.1,230.6h1.1v1.1h-1.1zM68.5,230.3h1.1v1.1h-1.1zM68.8,229.2h1.1v1.1h-1.1zM69.8,230.3h1.1v1.1h-1.1zM67.8,234.4h1.1v1.1h-1.1zM58.7,239.9h1.1v1.1h-1.1zM66.1,237.4h1.1v1.1h-1.1zM64.5,229.6h1.1v1.1h-1.1zM65.8,235.5h1.1v1.1h-1.1zM69.7,231.5h1.1v1.1h-1.1zM68.0,229.6h1.1v1.1h-1.1zM66.5,233.0h1.1v1.1h-1.1zM70.9,225.3h1.1v1.1h-1.1zM65.3,238.1h1.1v1.1h-1.1zM64.8,226.4h1.1v1.1h-1.1zM64.0,234.2h1.1v1.1h-1.1zM61.7,234.4h1.1v1.1h-1.1zM68.7,231.3h1.1v1.1h-1.1zM66.9,237.1h1.1v1.1h-1.1zM70.9,231.3h1.1v1.1h-1.1zM64.4,238.6h1.1v1.1h-1.1zM67.2,233.5h1.1v1.1h-1.1zM63.2,235.8h1.1v1.1h-1.1zM67.9,235.6h1.1v1.1h-1.1zM66.6,235.5h1.1v1.1h-1.1zM62.3,236.9h1.1v1.1h-1.1zM66.7,229.5h1.1v1.1h-1.1zM62.3,237.5h1.1v1.1h-1.1zM65.6,238.3h1.1v1.1h-1.1zM71.1,231.2h1.1v1.1h-1.1zM71.8,231.3h1.1v1.1h-1.1zM67.5,230.0h1.1v1.1h-1.1zM67.2,231.7h1.1v1.1h-1.1zM75.2,226.0h1.1v1.1h-1.1zM63.7,238.3h1.1v1.1h-1.1zM65.8,237.1h1.1v1.1h-1.1zM62.0,235.8h1.1v1.1h-1.1zM68.7,229.5h1.1v1.1h-1.1zM67.5,232.2h1.1v1.1h-1.1zM69.4,228.7h1.1v1.1h-1.1zM68.9,229.2h1.1v1.1h-1.1zM63.7,232.5h1.1v1.1h-1.1zM66.8,238.3h1.1v1.1h-1.1zM64.2,237.4h1.1v1.1h-1.1zM70.9,223.2h1.1v1.1h-1.1zM71.1,230.7h1.1v1.1h-1.1zM68.5,231.1h1.1v1.1h-1.1zM66.9,235.4h1.1v1.1h-1.1zM65.9,233.9h1.1v1.1h-1.1zM64.7,233.9h1.1v1.1h-1.1zM64.8,233.8h1.1v1.1h-1.1zM67.7,234.4h1.1v1.1h-1.1zM66.4,235.4h1.1v1.1h-1.1zM68.5,232.9h1.1v1.1h-1.1zM69.1,233.8h1.1v1.1h-1.1zM69.6,230.4h1.1v1.1h-1.1zM68.2,234.5h1.1v1.1h-1.1zM70.7,231.5h1.1v1.1h-1.1zM63.6,237.6h1.1v1.1h-1.1zM71.0,226.2h1.1v1.1h-1.1zM61.6,236.8h1.1v1.1h-1.1zM63.8,232.8h1.1v1.1h-1.1zM70.7,232.0h1.1v1.1h-1.1zM64.3,236.8h1.1v1.1h-1.1zM68.1,230.0h1.1v1.1h-1.1zM63.2,238.6h1.1v1.1h-1.1zM66.5,233.3h1.1v1.1h-1.1zM66.5,235.0h1.1v1.1h-1.1zM70.4,234.1h1.1v1.1h-1.1zM65.4,238.5h1.1v1.1h-1.1zM73.6,223.2h1.1v1.1h-1.1zM67.6,234.5h1.1v1.1h-1.1zM68.4,234.8h1.1v1.1h-1.1zM68.0,231.5h1.1v1.1h-1.1zM65.5,233.9h1.1v1.1h-1.1zM67.8,237.9h1.1v1.1h-1.1zM66.7,232.8h1.1v1.1h-1.1zM67.5,228.5h1.1v1.1h-1.1zM68.9,231.0h1.1v1.1h-1.1zM72.9,232.2h1.1v1.1h-1.1zM66.2,236.3h1.1v1.1h-1.1zM66.1,237.5h1.1v1.1h-1.1zM69.4,223.4h1.1v1.1h-1.1zM65.4,233.8h1.1v1.1h-1.1zM70.0,232.9h1.1v1.1h-1.1zM68.4,230.2h1.1v1.1h-1.1zM72.9,229.3h1.1v1.1h-1.1zM63.8,239.2h1.1v1.1h-1.1zM66.2,235.8h1.1v1.1h-1.1zM68.2,236.9h1.1v1.1h-1.1zM65.4,234.1h1.1v1.1h-1.1zM66.8,234.0h1.1v1.1h-1.1zM65.3,230.5h1.1v1.1h-1.1zM70.3,232.7h1.1v1.1h-1.1zM69.0,231.4h1.1v1.1h-1.1zM63.3,238.0h1.1v1.1h-1.1zM70.6,230.4h1.1v1.1h-1.1zM64.0,236.4h1.1v1.1h-1.1zM65.3,239.5h1.1v1.1h-1.1zM64.3,237.4h1.1v1.1h-1.1zM65.6,237.5h1.1v1.1h-1.1zM66.2,231.9h1.1v1.1h-1.1zM68.9,230.0h1.1v1.1h-1.1zM64.1,234.6h1.1v1.1h-1.1zM68.6,229.3h1.1v1.1h-1.1zM67.5,232.6h1.1v1.1h-1.1zM70.0,232.7h1.1v1.1h-1.1zM63.9,240.1h1.1v1.1h-1.1zM71.0,230.7h1.1v1.1h-1.1zM63.0,239.9h1.1v1.1h-1.1zM68.8,233.7h1.1v1.1h-1.1zM73.1,229.8h1.1v1.1h-1.1zM72.5,226.3h1.1v1.1h-1.1zM69.1,231.9h1.1v1.1h-1.1zM70.3,230.6h1.1v1.1h-1.1zM62.4,233.7h1.1v1.1h-1.1zM65.5,235.2h1.1v1.1h-1.1zM70.9,229.3h1.1v1.1h-1.1zM68.1,234.2h1.1v1.1h-1.1zM66.2,233.6h1.1v1.1h-1.1zM64.4,239.9h1.1v1.1h-1.1zM66.5,232.2h1.1v1.1h-1.1zM68.5,230.7h1.1v1.1h-1.1zM67.2,238.3h1.1v1.1h-1.1zM63.6,234.0h1.1v1.1h-1.1zM71.3,227.2h1.1v1.1h-1.1zM67.3,232.6h1.1v1.1h-1.1zM66.0,234.4h1.1v1.1h-1.1zM63.0,237.3h1.1v1.1h-1.1zM66.2,236.5h1.1v1.1h-1.1zM64.7,233.2h1.1v1.1h-1.1zM68.9,226.7h1.1v1.1h-1.1zM65.9,236.3h1.1v1.1h-1.1zM70.3,225.2h1.1v1.1h-1.1zM64.9,237.4h1.1v1.1h-1.1zM66.0,234.8h1.1v1.1h-1.1zM68.3,229.4h1.1v1.1h-1.1zM65.8,234.0h1.1v1.1h-1.1zM64.4,236.5h1.1v1.1h-1.1zM67.2,234.4h1.1v1.1h-1.1zM67.3,231.0h1.1v1.1h-1.1zM61.8,239.8h1.1v1.1h-1.1zM64.1,232.8h1.1v1.1h-1.1zM66.2,233.5h1.1v1.1h-1.1zM63.0,232.9h1.1v1.1h-1.1zM68.9,230.5h1.1v1.1h-1.1zM64.6,235.1h1.1v1.1h-1.1zM68.9,237.0h1.1v1.1h-1.1zM68.9,234.6h1.1v1.1h-1.1zM68.7,230.4h1.1v1.1h-1.1zM67.6,235.2h1.1v1.1h-1.1zM71.6,227.8h1.1v1.1h-1.1zM62.6,235.7h1.1v1.1h-1.1zM67.0,225.8h1.1v1.1h-1.1zM66.1,237.9h1.1v1.1h-1.1zM67.0,234.4h1.1v1.1h-1.1zM65.0,229.9h1.1v1.1h-1.1zM73.6,226.0h1.1v1.1h-1.1zM70.7,230.8h1.1v1.1h-1.1zM64.7,234.2h1.1v1.1h-1.1zM71.7,229.1h1.1v1.1h-1.1zM63.7,232.4h1.1v1.1h-1.1zM64.3,236.2h1.1v1.1h-1.1zM68.2,231.6h1.1v1.1h-1.1zM68.3,233.8h1.1v1.1h-1.1zM70.1,230.1h1.1v1.1h-1.1zM65.6,235.7h1.1v1.1h-1.1zM68.7,232.4h1.1v1.1h-1.1zM67.7,230.2h1.1v1.1h-1.1zM69.8,233.8h1.1v1.1h-1.1zM66.3,233.1h1.1v1.1h-1.1zM66.0,236.9h1.1v1.1h-1.1zM69.4,229.8h1.1v1.1h-1.1zM66.9,232.5h1.1v1.1h-1.1zM69.1,232.0h1.1v1.1h-1.1zM66.5,235.2h1.1v1.1h-1.1zM68.8,234.7h1.1v1.1h-1.1zM65.5,238.5h1.1v1.1h-1.1zM66.3,232.4h1.1v1.1h-1.1zM69.7,230.9h1.1v1.1h-1.1zM67.3,233.1h1.1v1.1h-1.1zM68.1,229.1h1.1v1.1h-1.1zM66.1,230.9h1.1v1.1h-1.1zM71.1,228.3h1.1v1.1h-1.1zM65.5,233.5h1.1v1.1h-1.1zM60.2,238.2h1.1v1.1h-1.1zM67.9,231.5h1.1v1.1h-1.1zM66.7,234.2h1.1v1.1h-1.1zM64.2,237.2h1.1v1.1h-1.1zM66.9,229.5h1.1v1.1h-1.1zM66.7,231.7h1.1v1.1h-1.1zM70.1,233.0h1.1v1.1h-1.1zM64.8,233.8h1.1v1.1h-1.1zM66.9,232.2h1.1v1.1h-1.1zM70.9,234.8h1.1v1.1h-1.1zM72.3,226.8h1.1v1.1h-1.1zM64.2,235.4h1.1v1.1h-1.1zM64.0,231.3h1.1v1.1h-1.1zM68.3,232.2h1.1v1.1h-1.1zM59.9,238.5h1.1v1.1h-1.1zM62.3,239.5h1.1v1.1h-1.1zM71.7,224.0h1.1v1.1h-1.1zM59.4,238.4h1.1v1.1h-1.1zM70.8,232.8h1.1v1.1h-1.1zM64.3,236.5h1.1v1.1h-1.1zM66.0,237.2h1.1v1.1h-1.1zM63.2,236.0h1.1v1.1h-1.1zM69.2,230.4h1.1v1.1h-1.1zM62.4,238.3h1.1v1.1h-1.1zM69.9,232.0h1.1v1.1h-1.1zM68.3,232.5h1.1v1.1h-1.1zM72.0,225.1h1.1v1.1h-1.1zM67.9,236.9h1.1v1.1h-1.1zM71.1,228.9h1.1v1.1h-1.1zM70.0,230.3h1.1v1.1h-1.1zM64.9,233.6h1.1v1.1h-1.1zM62.7,240.2h1.1v1.1h-1.1zM68.9,225.9h1.1v1.1h-1.1zM63.6,239.1h1.1v1.1h-1.1zM64.1,234.2h1.1v1.1h-1.1zM69.6,230.1h1.1v1.1h-1.1zM69.5,228.7h1.1v1.1h-1.1zM64.8,236.8h1.1v1.1h-1.1zM67.2,233.8h1.1v1.1h-1.1zM66.0,234.2h1.1v1.1h-1.1zM70.1,228.7h1.1v1.1h-1.1zM71.7,222.0h1.1v1.1h-1.1zM58.9,238.4h1.1v1.1h-1.1zM71.2,231.1h1.1v1.1h-1.1zM64.7,231.7h1.1v1.1h-1.1zM66.5,239.6h1.1v1.1h-1.1zM71.4,224.8h1.1v1.1h-1.1zM68.0,233.2h1.1v1.1h-1.1zM65.3,236.6h1.1v1.1h-1.1zM65.5,235.4h1.1v1.1h-1.1zM66.1,236.2h1.1v1.1h-1.1zM65.3,231.1h1.1v1.1h-1.1zM66.3,233.9h1.1v1.1h-1.1zM68.3,230.5h1.1v1.1h-1.1zM71.3,227.4h1.1v1.1h-1.1zM68.4,230.3h1.1v1.1h-1.1zM62.4,237.4h1.1v1.1h-1.1zM61.2,238.8h1.1v1.1h-1.1zM66.0,237.2h1.1v1.1h-1.1zM68.5,228.3h1.1v1.1h-1.1zM66.4,235.0h1.1v1.1h-1.1zM65.4,236.3h1.1v1.1h-1.1zM67.0,232.7h1.1v1.1h-1.1zM63.4,239.2h1.1v1.1h-1.1zM64.4,238.3h1.1v1.1h-1.1zM67.5,230.8h1.1v1.1h-1.1zM66.4,234.8h1.1v1.1h-1.1zM68.3,237.1h1.1v1.1h-1.1zM66.1,230.9h1.1v1.1h-1.1zM64.7,235.3h1.1v1.1h-1.1zM63.7,235.2h1.1v1.1h-1.1zM68.4,237.2h1.1v1.1h-1.1zM66.5,229.5h1.1v1.1h-1.1zM67.0,233.1h1.1v1.1h-1.1zM64.8,238.9h1.1v1.1h-1.1zM64.7,233.6h1.1v1.1h-1.1zM68.4,230.6h1.1v1.1h-1.1zM71.0,225.3h1.1v1.1h-1.1zM61.6,236.3h1.1v1.1h-1.1zM67.7,231.9h1.1v1.1h-1.1zM66.8,234.8h1.1v1.1h-1.1zM68.5,229.7h1.1v1.1h-1.1zM68.3,231.7h1.1v1.1h-1.1zM71.9,228.3h1.1v1.1h-1.1zM70.0,232.5h1.1v1.1h-1.1zM63.5,234.1h1.1v1.1h-1.1zM66.2,236.0h1.1v1.1h-1.1zM67.0,231.1h1.1v1.1h-1.1zM65.2,229.8h1.1v1.1h-1.1zM72.4,223.2h1.1v1.1h-1.1zM72.5,227.5h1.1v1.1h-1.1zM63.9,238.2h1.1v1.1h-1.1zM66.2,230.8h1.1v1.1h-1.1zM65.4,240.2h1.1v1.1h-1.1zM62.7,240.2h1.1v1.1h-1.1zM68.8,230.3h1.1v1.1h-1.1zM67.6,230.6h1.1v1.1h-1.1zM64.5,237.8h1.1v1.1h-1.1zM70.9,226.5h1.1v1.1h-1.1zM65.7,238.3h1.1v1.1h-1.1zM64.0,238.2h1.1v1.1h-1.1zM69.5,231.4h1.1v1.1h-1.1zM67.0,232.1h1.1v1.1h-1.1zM64.2,232.4h1.1v1.1h-1.1zM67.4,234.1h1.1v1.1h-1.1zM66.0,231.4h1.1v1.1h-1.1zM66.3,233.7h1.1v1.1h-1.1zM66.3,234.0h1.1v1.1h-1.1zM60.3,239.8h1.1v1.1h-1.1zM64.3,239.4h1.1v1.1h-1.1zM66.4,229.4h1.1v1.1h-1.1zM67.0,237.6h1.1v1.1h-1.1zM67.5,230.6h1.1v1.1h-1.1zM71.7,229.5h1.1v1.1h-1.1zM67.7,236.0h1.1v1.1h-1.1zM66.3,231.3h1.1v1.1h-1.1zM71.6,224.5h1.1v1.1h-1.1zM70.1,231.6h1.1v1.1h-1.1zM72.3,226.3h1.1v1.1h-1.1zM71.2,227.4h1.1v1.1h-1.1zM66.3,228.4h1.1v1.1h-1.1zM64.1,232.0h1.1v1.1h-1.1zM65.2,237.1h1.1v1.1h-1.1zM65.7,239.1h1.1v1.1h-1.1zM67.1,230.7h1.1v1.1h-1.1zM66.9,230.6h1.1v1.1h-1.1zM66.6,234.2h1.1v1.1h-1.1zM69.9,230.5h1.1v1.1h-1.1zM65.9,236.2h1.1v1.1h-1.1zM69.3,228.5h1.1v1.1h-1.1zM64.1,231.1h1.1v1.1h-1.1zM68.8,235.0h1.1v1.1h-1.1zM66.1,232.8h1.1v1.1h-1.1zM68.3,235.0h1.1v1.1h-1.1zM70.9,221.5h1.1v1.1h-1.1zM62.8,239.9h1.1v1.1h-1.1zM66.6,232.1h1.1v1.1h-1.1zM68.7,227.3h1.1v1.1h-1.1zM70.2,231.5h1.1v1.1h-1.1zM67.8,235.8h1.1v1.1h-1.1zM70.9,225.9h1.1v1.1h-1.1zM64.7,238.1h1.1v1.1h-1.1zM61.6,237.2h1.1v1.1h-1.1zM67.5,230.4h1.1v1.1h-1.1zM62.3,238.7h1.1v1.1h-1.1zM70.2,230.5h1.1v1.1h-1.1zM67.2,229.1h1.1v1.1h-1.1zM70.3,231.5h1.1v1.1h-1.1zM66.8,236.2h1.1v1.1h-1.1zM67.0,232.4h1.1v1.1h-1.1zM62.4,235.8h1.1v1.1h-1.1zM68.3,224.1h1.1v1.1h-1.1zM68.9,230.2h1.1v1.1h-1.1zM67.9,229.7h1.1v1.1h-1.1zM67.6,229.1h1.1v1.1h-1.1zM71.0,227.5h1.1v1.1h-1.1zM70.1,228.5h1.1v1.1h-1.1zM69.0,230.2h1.1v1.1h-1.1zM67.2,233.6h1.1v1.1h-1.1zM66.3,234.9h1.1v1.1h-1.1zM69.9,232.0h1.1v1.1h-1.1zM66.7,231.0h1.1v1.1h-1.1zM68.5,233.1h1.1v1.1h-1.1zM66.2,234.7h1.1v1.1h-1.1zM70.9,226.3h1.1v1.1h-1.1zM62.1,236.8h1.1v1.1h-1.1zM68.8,234.9h1.1v1.1h-1.1zM65.5,235.8h1.1v1.1h-1.1zM69.0,228.8h1.1v1.1h-1.1zM70.9,227.8h1.1v1.1h-1.1zM70.3,228.5h1.1v1.1h-1.1zM68.2,229.8h1.1v1.1h-1.1zM60.9,237.3h1.1v1.1h-1.1zM72.9,225.4h1.1v1.1h-1.1zM68.0,231.1h1.1v1.1h-1.1zM66.1,233.4h1.1v1.1h-1.1zM68.3,234.3h1.1v1.1h-1.1zM64.0,233.2h1.1v1.1h-1.1zM66.6,230.7h1.1v1.1h-1.1zM67.9,232.3h1.1v1.1h-1.1zM67.0,235.6h1.1v1.1h-1.1zM67.8,234.2h1.1v1.1h-1.1zM65.0,229.2h1.1v1.1h-1.1zM69.0,231.8h1.1v1.1h-1.1zM67.0,234.3h1.1v1.1h-1.1zM69.1,232.3h1.1v1.1h-1.1zM68.7,228.6h1.1v1.1h-1.1zM66.2,235.7h1.1v1.1h-1.1zM72.4,228.7h1.1v1.1h-1.1zM63.6,238.5h1.1v1.1h-1.1zM62.3,235.4h1.1v1.1h-1.1zM64.9,237.9h1.1v1.1h-1.1zM71.1,229.0h1.1v1.1h-1.1zM73.1,230.5h1.1v1.1h-1.1zM66.8,232.7h1.1v1.1h-1.1zM70.2,225.6h1.1v1.1h-1.1zM66.6,231.7h1.1v1.1h-1.1zM66.4,235.9h1.1v1.1h-1.1zM66.3,231.5h1.1v1.1h-1.1zM64.9,232.8h1.1v1.1h-1.1zM67.7,229.6h1.1v1.1h-1.1zM70.0,229.7h1.1v1.1h-1.1zM65.0,234.7h1.1v1.1h-1.1zM70.4,230.9h1.1v1.1h-1.1zM63.5,240.0h1.1v1.1h-1.1zM64.2,233.9h1.1v1.1h-1.1zM68.2,233.9h1.1v1.1h-1.1zM69.7,230.1h1.1v1.1h-1.1zM60.4,235.9h1.1v1.1h-1.1zM69.8,225.6h1.1v1.1h-1.1zM68.6,231.7h1.1v1.1h-1.1zM66.0,235.9h1.1v1.1h-1.1zM69.8,228.3h1.1v1.1h-1.1zM65.7,231.9h1.1v1.1h-1.1zM70.4,229.1h1.1v1.1h-1.1zM70.7,222.4h1.1v1.1h-1.1zM69.8,230.9h1.1v1.1h-1.1zM65.1,235.2h1.1v1.1h-1.1zM65.6,234.9h1.1v1.1h-1.1zM67.5,230.4h1.1v1.1h-1.1zM68.8,233.1h1.1v1.1h-1.1zM61.1,234.1h1.1v1.1h-1.1zM63.7,235.0h1.1v1.1h-1.1zM69.5,231.3h1.1v1.1h-1.1zM72.4,223.5h1.1v1.1h-1.1zM69.5,231.0h1.1v1.1h-1.1zM65.1,233.3h1.1v1.1h-1.1zM70.6,231.5h1.1v1.1h-1.1zM69.2,229.9h1.1v1.1h-1.1zM67.8,233.7h1.1v1.1h-1.1zM63.1,236.6h1.1v1.1h-1.1zM62.0,238.1h1.1v1.1h-1.1zM70.4,228.7h1.1v1.1h-1.1zM65.2,233.4h1.1v1.1h-1.1zM64.1,234.5h1.1v1.1h-1.1zM67.0,235.1h1.1v1.1h-1.1zM66.5,231.3h1.1v1.1h-1.1zM71.6,228.9h1.1v1.1h-1.1zM65.9,225.9h1.1v1.1h-1.1zM60.4,238.0h1.1v1.1h-1.1zM71.7,228.8h1.1v1.1h-1.1zM67.0,238.0h1.1v1.1h-1.1zM64.2,238.7h1.1v1.1h-1.1zM64.5,237.4h1.1v1.1h-1.1zM68.3,234.4h1.1v1.1h-1.1zM62.4,236.2h1.1v1.1h-1.1zM63.5,239.9h1.1v1.1h-1.1zM65.5,233.9h1.1v1.1h-1.1zM71.8,225.5h1.1v1.1h-1.1zM64.9,236.1h1.1v1.1h-1.1zM67.9,231.3h1.1v1.1h-1.1zM66.0,232.2h1.1v1.1h-1.1zM74.0,222.8h1.1v1.1h-1.1zM60.2,239.7h1.1v1.1h-1.1zM72.1,230.6h1.1v1.1h-1.1zM64.3,239.1h1.1v1.1h-1.1zM64.6,235.2h1.1v1.1h-1.1zM68.9,235.4h1.1v1.1h-1.1zM77.7,222.3h1.1v1.1h-1.1zM65.4,236.8h1.1v1.1h-1.1zM60.8,240.1h1.1v1.1h-1.1zM70.9,228.6h1.1v1.1h-1.1zM65.3,237.2h1.1v1.1h-1.1zM68.2,235.8h1.1v1.1h-1.1zM66.5,233.3h1.1v1.1h-1.1zM66.3,232.4h1.1v1.1h-1.1zM69.7,236.4h1.1v1.1h-1.1zM69.6,233.8h1.1v1.1h-1.1zM68.4,232.2h1.1v1.1h-1.1zM68.0,229.1h1.1v1.1h-1.1zM66.4,235.5h1.1v1.1h-1.1zM66.4,237.4h1.1v1.1h-1.1zM65.0,238.3h1.1v1.1h-1.1zM69.7,231.9h1.1v1.1h-1.1zM66.8,233.6h1.1v1.1h-1.1zM70.1,232.4h1.1v1.1h-1.1zM67.5,230.6h1.1v1.1h-1.1zM71.0,226.3h1.1v1.1h-1.1zM66.7,232.0h1.1v1.1h-1.1zM68.1,229.8h1.1v1.1h-1.1zM66.3,240.1h1.1v1.1h-1.1zM61.4,235.8h1.1v1.1h-1.1zM66.3,234.8h1.1v1.1h-1.1zM62.0,237.0h1.1v1.1h-1.1zM67.0,229.4h1.1v1.1h-1.1zM63.3,238.6h1.1v1.1h-1.1zM64.8,231.4h1.1v1.1h-1.1zM67.1,240.0h1.1v1.1h-1.1zM65.7,234.5h1.1v1.1h-1.1zM66.8,234.8h1.1v1.1h-1.1zM60.6,239.4h1.1v1.1h-1.1zM67.9,233.4h1.1v1.1h-1.1zM67.5,228.0h1.1v1.1h-1.1zM69.0,231.0h1.1v1.1h-1.1zM64.8,235.8h1.1v1.1h-1.1zM68.3,237.9h1.1v1.1h-1.1zM63.4,237.9h1.1v1.1h-1.1zM68.1,230.5h1.1v1.1h-1.1zM70.1,227.1h1.1v1.1h-1.1zM63.6,234.1h1.1v1.1h-1.1zM69.5,234.1h1.1v1.1h-1.1zM68.3,230.2h1.1v1.1h-1.1zM66.7,232.4h1.1v1.1h-1.1zM73.5,225.3h1.1v1.1h-1.1zM69.8,230.6h1.1v1.1h-1.1zM66.3,229.7h1.1v1.1h-1.1zM66.8,230.9h1.1v1.1h-1.1zM71.2,230.2h1.1v1.1h-1.1zM61.4,235.0h1.1v1.1h-1.1zM64.4,236.6h1.1v1.1h-1.1zM67.5,231.4h1.1v1.1h-1.1zM63.5,235.0h1.1v1.1h-1.1zM67.6,232.4h1.1v1.1h-1.1zM69.7,230.9h1.1v1.1h-1.1zM65.4,227.3h1.1v1.1h-1.1zM69.4,234.9h1.1v1.1h-1.1zM66.6,232.2h1.1v1.1h-1.1zM72.9,228.1h1.1v1.1h-1.1zM63.6,237.4h1.1v1.1h-1.1zM63.4,236.2h1.1v1.1h-1.1zM63.6,237.5h1.1v1.1h-1.1zM70.2,238.3h1.1v1.1h-1.1zM66.2,238.9h1.1v1.1h-1.1zM66.4,232.8h1.1v1.1h-1.1zM65.3,236.1h1.1v1.1h-1.1zM64.4,240.1h1.1v1.1h-1.1zM63.3,239.9h1.1v1.1h-1.1zM70.4,228.7h1.1v1.1h-1.1zM66.3,233.4h1.1v1.1h-1.1zM64.6,233.1h1.1v1.1h-1.1zM68.0,234.0h1.1v1.1h-1.1zM68.2,234.8h1.1v1.1h-1.1zM72.2,232.7h1.1v1.1h-1.1zM67.6,230.5h1.1v1.1h-1.1zM66.1,236.3h1.1v1.1h-1.1zM64.4,236.5h1.1v1.1h-1.1zM65.6,238.9h1.1v1.1h-1.1zM63.1,238.1h1.1v1.1h-1.1zM69.8,227.2h1.1v1.1h-1.1zM61.8,235.1h1.1v1.1h-1.1zM64.7,236.7h1.1v1.1h-1.1zM66.2,237.6h1.1v1.1h-1.1zM66.9,231.4h1.1v1.1h-1.1zM68.1,239.5h1.1v1.1h-1.1zM67.3,230.5h1.1v1.1h-1.1z" fill="#000"/>
<path d="M68.8,228.3h0.8v0.8h-0.8zM73.4,232.7h0.8v0.8h-0.8zM72.5,226.4h0.8v0.8h-0.8zM67.4,232.8h0.8v0.8h-0.8zM62.0,234.9h0.8v0.8h-0.8zM64.2,237.2h0.8v0.8h-0.8zM72.6,228.8h0.8v0.8h-0.8zM68.3,231.4h0.8v0.8h-0.8zM71.1,231.5h0.8v0.8h-0.8zM65.5,236.7h0.8v0.8h-0.8zM70.9,233.1h0.8v0.8h-0.8zM70.7,232.3h0.8v0.8h-0.8zM70.2,228.6h0.8v0.8h-0.8zM68.9,239.0h0.8v0.8h-0.8zM75.6,223.7h0.8v0.8h-0.8zM63.7,231.9h0.8v0.8h-0.8zM68.1,232.8h0.8v0.8h-0.8zM66.0,233.7h0.8v0.8h-0.8zM65.4,238.8h0.8v0.8h-0.8zM67.0,228.2h0.8v0.8h-0.8zM64.9,235.1h0.8v0.8h-0.8zM79.3,224.1h0.8v0.8h-0.8zM59.4,237.7h0.8v0.8h-0.8zM66.4,234.0h0.8v0.8h-0.8zM62.8,237.9h0.8v0.8h-0.8zM72.2,223.9h0.8v0.8h-0.8zM66.6,234.4h0.8v0.8h-0.8zM66.9,226.9h0.8v0.8h-0.8zM61.0,238.3h0.8v0.8h-0.8zM69.3,227.6h0.8v0.8h-0.8zM69.8,228.2h0.8v0.8h-0.8zM72.3,225.1h0.8v0.8h-0.8zM68.8,230.9h0.8v0.8h-0.8zM69.2,228.8h0.8v0.8h-0.8zM67.7,230.4h0.8v0.8h-0.8zM72.4,227.9h0.8v0.8h-0.8zM68.3,235.7h0.8v0.8h-0.8zM72.2,230.9h0.8v0.8h-0.8zM63.1,232.9h0.8v0.8h-0.8zM71.3,228.8h0.8v0.8h-0.8zM68.5,234.7h0.8v0.8h-0.8zM64.7,234.9h0.8v0.8h-0.8zM66.2,236.3h0.8v0.8h-0.8zM73.3,224.1h0.8v0.8h-0.8zM58.6,237.0h0.8v0.8h-0.8zM71.5,229.5h0.8v0.8h-0.8zM62.9,236.3h0.8v0.8h-0.8zM64.4,233.1h0.8v0.8h-0.8zM65.3,234.0h0.8v0.8h-0.8zM79.2,222.0h0.8v0.8h-0.8zM67.3,237.1h0.8v0.8h-0.8zM65.6,236.1h0.8v0.8h-0.8zM68.3,235.5h0.8v0.8h-0.8zM67.9,230.1h0.8v0.8h-0.8zM67.2,227.3h0.8v0.8h-0.8zM57.9,236.3h0.8v0.8h-0.8zM69.6,229.7h0.8v0.8h-0.8zM75.4,221.7h0.8v0.8h-0.8zM70.4,229.2h0.8v0.8h-0.8zM73.7,230.1h0.8v0.8h-0.8zM66.5,229.6h0.8v0.8h-0.8zM65.4,231.7h0.8v0.8h-0.8zM74.4,227.2h0.8v0.8h-0.8zM66.0,233.1h0.8v0.8h-0.8zM62.6,229.5h0.8v0.8h-0.8zM71.0,224.2h0.8v0.8h-0.8zM67.5,232.2h0.8v0.8h-0.8zM70.7,229.3h0.8v0.8h-0.8zM70.3,227.9h0.8v0.8h-0.8zM72.9,230.8h0.8v0.8h-0.8zM73.5,219.5h0.8v0.8h-0.8zM68.4,230.0h0.8v0.8h-0.8zM70.5,225.6h0.8v0.8h-0.8zM72.7,229.3h0.8v0.8h-0.8zM62.4,239.9h0.8v0.8h-0.8zM66.6,237.3h0.8v0.8h-0.8zM76.4,221.4h0.8v0.8h-0.8zM75.1,239.8h0.8v0.8h-0.8zM69.2,233.5h0.8v0.8h-0.8zM61.0,237.4h0.8v0.8h-0.8zM66.5,233.7h0.8v0.8h-0.8zM61.8,238.0h0.8v0.8h-0.8zM67.2,236.4h0.8v0.8h-0.8zM72.3,230.8h0.8v0.8h-0.8zM65.4,236.9h0.8v0.8h-0.8zM65.1,234.8h0.8v0.8h-0.8zM71.8,223.9h0.8v0.8h-0.8zM73.4,232.3h0.8v0.8h-0.8zM72.5,231.2h0.8v0.8h-0.8zM65.5,221.8h0.8v0.8h-0.8zM65.9,234.9h0.8v0.8h-0.8zM64.5,232.5h0.8v0.8h-0.8zM74.6,231.1h0.8v0.8h-0.8zM64.6,231.1h0.8v0.8h-0.8zM65.6,230.2h0.8v0.8h-0.8zM69.4,228.0h0.8v0.8h-0.8zM70.0,228.4h0.8v0.8h-0.8zM71.2,233.0h0.8v0.8h-0.8zM60.5,239.2h0.8v0.8h-0.8zM64.7,236.4h0.8v0.8h-0.8zM68.4,232.6h0.8v0.8h-0.8zM67.7,238.7h0.8v0.8h-0.8zM66.0,227.2h0.8v0.8h-0.8zM70.2,225.4h0.8v0.8h-0.8zM64.7,235.6h0.8v0.8h-0.8zM69.3,234.5h0.8v0.8h-0.8zM63.8,234.4h0.8v0.8h-0.8zM73.1,227.5h0.8v0.8h-0.8zM70.5,226.5h0.8v0.8h-0.8zM77.8,217.7h0.8v0.8h-0.8zM70.8,234.2h0.8v0.8h-0.8zM63.7,236.4h0.8v0.8h-0.8zM76.2,235.0h0.8v0.8h-0.8zM67.9,233.8h0.8v0.8h-0.8zM71.2,233.0h0.8v0.8h-0.8zM74.6,226.9h0.8v0.8h-0.8zM63.4,230.8h0.8v0.8h-0.8zM67.5,225.6h0.8v0.8h-0.8zM69.8,224.7h0.8v0.8h-0.8zM67.3,230.4h0.8v0.8h-0.8zM66.3,232.6h0.8v0.8h-0.8zM64.0,233.0h0.8v0.8h-0.8zM76.3,226.8h0.8v0.8h-0.8zM67.7,235.9h0.8v0.8h-0.8zM73.5,225.8h0.8v0.8h-0.8zM67.2,235.5h0.8v0.8h-0.8zM66.2,230.2h0.8v0.8h-0.8zM71.4,231.7h0.8v0.8h-0.8zM74.3,220.1h0.8v0.8h-0.8zM72.5,233.4h0.8v0.8h-0.8zM67.5,229.6h0.8v0.8h-0.8zM66.5,231.3h0.8v0.8h-0.8zM69.4,235.5h0.8v0.8h-0.8zM67.0,236.2h0.8v0.8h-0.8zM73.2,221.0h0.8v0.8h-0.8zM75.3,225.5h0.8v0.8h-0.8zM65.3,235.5h0.8v0.8h-0.8zM68.7,231.1h0.8v0.8h-0.8zM64.7,239.0h0.8v0.8h-0.8zM73.2,228.2h0.8v0.8h-0.8zM73.1,230.2h0.8v0.8h-0.8zM69.6,232.2h0.8v0.8h-0.8zM65.6,236.6h0.8v0.8h-0.8zM70.9,227.8h0.8v0.8h-0.8zM73.8,231.3h0.8v0.8h-0.8zM65.6,231.5h0.8v0.8h-0.8zM75.2,231.4h0.8v0.8h-0.8zM70.5,238.7h0.8v0.8h-0.8zM64.0,236.6h0.8v0.8h-0.8zM73.2,235.0h0.8v0.8h-0.8zM77.3,225.4h0.8v0.8h-0.8zM70.6,233.5h0.8v0.8h-0.8zM79.9,231.8h0.8v0.8h-0.8zM68.4,232.4h0.8v0.8h-0.8zM67.7,235.0h0.8v0.8h-0.8zM69.4,224.6h0.8v0.8h-0.8zM65.3,225.3h0.8v0.8h-0.8zM74.4,225.2h0.8v0.8h-0.8zM72.9,227.7h0.8v0.8h-0.8zM66.4,237.3h0.8v0.8h-0.8zM64.2,227.8h0.8v0.8h-0.8zM64.2,238.6h0.8v0.8h-0.8zM63.4,233.6h0.8v0.8h-0.8zM65.3,231.5h0.8v0.8h-0.8zM66.5,230.7h0.8v0.8h-0.8zM74.8,220.4h0.8v0.8h-0.8zM59.6,235.4h0.8v0.8h-0.8zM66.5,230.8h0.8v0.8h-0.8zM61.7,235.2h0.8v0.8h-0.8zM64.2,228.4h0.8v0.8h-0.8zM69.1,229.4h0.8v0.8h-0.8zM61.8,237.7h0.8v0.8h-0.8zM74.1,227.3h0.8v0.8h-0.8zM62.7,235.5h0.8v0.8h-0.8zM71.5,226.8h0.8v0.8h-0.8zM66.0,230.8h0.8v0.8h-0.8zM69.5,225.7h0.8v0.8h-0.8zM71.1,229.7h0.8v0.8h-0.8zM67.1,233.7h0.8v0.8h-0.8zM69.8,229.4h0.8v0.8h-0.8zM63.8,239.7h0.8v0.8h-0.8zM61.0,237.2h0.8v0.8h-0.8zM66.6,233.8h0.8v0.8h-0.8zM74.0,225.3h0.8v0.8h-0.8zM67.6,237.8h0.8v0.8h-0.8z" fill="#444"/>
<path d="M66.9,236.0h0.7v0.7h-0.7zM72.5,228.5h0.7v0.7h-0.7zM72.9,222.1h0.7v0.7h-0.7zM71.2,229.2h0.7v0.7h-0.7zM73.2,225.5h0.7v0.7h-0.7zM69.8,217.0h0.7v0.7h-0.7zM83.6,232.6h0.7v0.7h-0.7zM67.9,235.6h0.7v0.7h-0.7zM67.9,231.2h0.7v0.7h-0.7zM59.2,236.3h0.7v0.7h-0.7zM75.0,222.5h0.7v0.7h-0.7zM81.8,233.0h0.7v0.7h-0.7zM80.8,222.4h0.7v0.7h-0.7zM70.4,223.0h0.7v0.7h-0.7zM71.6,234.4h0.7v0.7h-0.7zM79.9,223.9h0.7v0.7h-0.7zM69.8,234.1h0.7v0.7h-0.7zM73.6,226.6h0.7v0.7h-0.7zM72.6,227.4h0.7v0.7h-0.7zM77.9,224.3h0.7v0.7h-0.7zM77.2,222.5h0.7v0.7h-0.7zM68.1,224.8h0.7v0.7h-0.7zM68.0,227.3h0.7v0.7h-0.7zM73.8,227.2h0.7v0.7h-0.7zM66.9,224.9h0.7v0.7h-0.7zM77.6,222.6h0.7v0.7h-0.7zM74.6,224.5h0.7v0.7h-0.7zM82.0,223.2h0.7v0.7h-0.7zM85.5,216.3h0.7v0.7h-0.7zM69.4,229.8h0.7v0.7h-0.7zM70.5,228.7h0.7v0.7h-0.7zM77.2,226.2h0.7v0.7h-0.7zM78.3,228.0h0.7v0.7h-0.7zM69.4,225.4h0.7v0.7h-0.7zM62.3,229.9h0.7v0.7h-0.7zM82.7,214.0h0.7v0.7h-0.7zM67.7,220.0h0.7v0.7h-0.7zM66.7,229.7h0.7v0.7h-0.7zM66.1,239.6h0.7v0.7h-0.7zM82.7,223.8h0.7v0.7h-0.7z" fill="#888"/>
<path d="M150.9,222.0h1.0v1.0h-1.0zM148.7,232.6h1.0v1.0h-1.0zM149.9,232.9h1.0v1.0h-1.0zM144.7,234.5h1.0v1.0h-1.0zM145.8,234.9h1.0v1.0h-1.0zM145.9,228.1h1.0v1.0h-1.0zM148.6,225.3h1.0v1.0h-1.0zM149.0,229.8h1.0v1.0h-1.0zM148.8,229.0h1.0v1.0h-1.0zM146.5,231.1h1.0v1.0h-1.0zM143.4,233.3h1.0v1.0h-1.0zM149.9,233.1h1.0v1.0h-1.0zM149.4,226.2h1.0v1.0h-1.0zM147.3,230.7h1.0v1.0h-1.0zM145.5,236.4h1.0v1.0h-1.0zM159.6,214.7h1.0v1.0h-1.0zM144.5,234.7h1.0v1.0h-1.0zM148.7,229.3h1.0v1.0h-1.0zM153.3,226.7h1.0v1.0h-1.0zM139.3,231.9h1.0v1.0h-1.0zM148.8,228.6h1.0v1.0h-1.0zM142.0,234.3h1.0v1.0h-1.0zM147.5,234.4h1.0v1.0h-1.0zM143.6,235.0h1.0v1.0h-1.0zM153.5,222.7h1.0v1.0h-1.0zM142.5,239.2h1.0v1.0h-1.0zM150.2,230.2h1.0v1.0h-1.0zM148.7,232.9h1.0v1.0h-1.0zM155.6,224.8h1.0v1.0h-1.0zM143.6,233.3h1.0v1.0h-1.0zM146.3,233.2h1.0v1.0h-1.0zM148.3,231.0h1.0v1.0h-1.0zM143.6,236.3h1.0v1.0h-1.0zM144.2,235.6h1.0v1.0h-1.0zM146.9,231.9h1.0v1.0h-1.0zM142.5,235.0h1.0v1.0h-1.0zM147.2,231.0h1.0v1.0h-1.0zM150.7,224.3h1.0v1.0h-1.0zM141.1,234.9h1.0v1.0h-1.0zM141.3,239.9h1.0v1.0h-1.0zM145.8,231.7h1.0v1.0h-1.0zM148.8,229.9h1.0v1.0h-1.0zM148.9,227.7h1.0v1.0h-1.0zM139.6,234.2h1.0v1.0h-1.0zM153.3,230.0h1.0v1.0h-1.0zM149.8,228.2h1.0v1.0h-1.0zM152.3,223.7h1.0v1.0h-1.0zM143.9,237.0h1.0v1.0h-1.0zM148.5,228.3h1.0v1.0h-1.0zM150.2,226.1h1.0v1.0h-1.0zM136.6,237.6h1.0v1.0h-1.0zM148.6,224.2h1.0v1.0h-1.0zM153.7,225.7h1.0v1.0h-1.0zM149.6,229.2h1.0v1.0h-1.0zM149.3,229.2h1.0v1.0h-1.0zM151.2,229.3h1.0v1.0h-1.0zM145.1,232.1h1.0v1.0h-1.0zM140.8,238.2h1.0v1.0h-1.0zM141.6,234.5h1.0v1.0h-1.0zM144.8,231.1h1.0v1.0h-1.0zM142.1,234.3h1.0v1.0h-1.0zM152.8,228.4h1.0v1.0h-1.0zM146.3,234.5h1.0v1.0h-1.0zM144.8,230.6h1.0v1.0h-1.0zM138.9,239.2h1.0v1.0h-1.0zM148.8,230.0h1.0v1.0h-1.0zM142.6,233.6h1.0v1.0h-1.0zM154.4,225.7h1.0v1.0h-1.0zM138.3,238.3h1.0v1.0h-1.0zM147.7,229.6h1.0v1.0h-1.0zM144.6,232.9h1.0v1.0h-1.0zM142.4,230.5h1.0v1.0h-1.0zM151.3,221.2h1.0v1.0h-1.0zM149.6,225.9h1.0v1.0h-1.0zM145.2,237.3h1.0v1.0h-1.0zM153.8,226.1h1.0v1.0h-1.0zM144.9,235.2h1.0v1.0h-1.0zM149.3,227.0h1.0v1.0h-1.0zM138.8,238.8h1.0v1.0h-1.0zM145.6,233.1h1.0v1.0h-1.0zM146.1,233.3h1.0v1.0h-1.0zM143.1,230.8h1.0v1.0h-1.0zM139.0,237.8h1.0v1.0h-1.0zM137.6,239.1h1.0v1.0h-1.0zM148.9,233.6h1.0v1.0h-1.0zM148.6,228.0h1.0v1.0h-1.0zM145.7,230.2h1.0v1.0h-1.0zM146.8,234.4h1.0v1.0h-1.0zM139.8,237.8h1.0v1.0h-1.0zM147.3,234.2h1.0v1.0h-1.0zM143.0,232.7h1.0v1.0h-1.0zM146.9,237.7h1.0v1.0h-1.0zM147.5,230.7h1.0v1.0h-1.0zM147.9,231.0h1.0v1.0h-1.0zM148.2,229.4h1.0v1.0h-1.0zM145.7,232.7h1.0v1.0h-1.0zM143.4,235.4h1.0v1.0h-1.0zM145.5,232.0h1.0v1.0h-1.0zM147.6,234.9h1.0v1.0h-1.0zM136.3,235.7h1.0v1.0h-1.0zM143.5,231.4h1.0v1.0h-1.0zM139.3,238.6h1.0v1.0h-1.0zM145.7,237.5h1.0v1.0h-1.0zM145.0,235.3h1.0v1.0h-1.0zM149.8,228.4h1.0v1.0h-1.0zM144.3,231.8h1.0v1.0h-1.0zM152.3,232.1h1.0v1.0h-1.0zM154.4,226.4h1.0v1.0h-1.0zM151.5,234.9h1.0v1.0h-1.0zM146.1,227.6h1.0v1.0h-1.0zM146.7,237.3h1.0v1.0h-1.0zM150.2,227.7h1.0v1.0h-1.0zM145.8,230.1h1.0v1.0h-1.0zM147.4,231.5h1.0v1.0h-1.0zM142.3,236.9h1.0v1.0h-1.0zM142.4,235.4h1.0v1.0h-1.0zM141.7,232.5h1.0v1.0h-1.0zM146.8,230.6h1.0v1.0h-1.0zM149.4,224.7h1.0v1.0h-1.0zM140.6,238.6h1.0v1.0h-1.0zM143.1,231.2h1.0v1.0h-1.0zM145.9,233.3h1.0v1.0h-1.0zM155.9,220.7h1.0v1.0h-1.0zM147.6,234.0h1.0v1.0h-1.0zM143.3,232.9h1.0v1.0h-1.0zM147.8,226.2h1.0v1.0h-1.0zM139.9,234.5h1.0v1.0h-1.0zM149.6,229.6h1.0v1.0h-1.0zM153.2,220.4h1.0v1.0h-1.0zM145.7,230.9h1.0v1.0h-1.0zM147.5,235.9h1.0v1.0h-1.0zM142.3,238.6h1.0v1.0h-1.0zM148.3,234.2h1.0v1.0h-1.0zM147.7,231.7h1.0v1.0h-1.0zM144.5,235.6h1.0v1.0h-1.0zM152.0,226.3h1.0v1.0h-1.0zM143.7,231.4h1.0v1.0h-1.0zM147.6,231.5h1.0v1.0h-1.0zM146.5,228.8h1.0v1.0h-1.0zM153.6,226.3h1.0v1.0h-1.0zM140.8,229.2h1.0v1.0h-1.0zM143.8,228.1h1.0v1.0h-1.0zM147.8,230.0h1.0v1.0h-1.0zM149.5,228.9h1.0v1.0h-1.0zM150.3,225.1h1.0v1.0h-1.0zM147.3,233.0h1.0v1.0h-1.0zM140.8,232.1h1.0v1.0h-1.0zM150.5,235.2h1.0v1.0h-1.0zM146.0,237.2h1.0v1.0h-1.0zM147.0,230.0h1.0v1.0h-1.0zM149.6,222.5h1.0v1.0h-1.0zM145.5,230.9h1.0v1.0h-1.0zM149.8,230.9h1.0v1.0h-1.0zM145.2,232.5h1.0v1.0h-1.0zM149.0,226.2h1.0v1.0h-1.0zM145.3,233.5h1.0v1.0h-1.0zM148.6,229.3h1.0v1.0h-1.0zM146.8,234.3h1.0v1.0h-1.0zM143.7,236.8h1.0v1.0h-1.0zM141.7,235.2h1.0v1.0h-1.0zM142.7,233.1h1.0v1.0h-1.0zM151.7,226.2h1.0v1.0h-1.0zM159.9,216.6h1.0v1.0h-1.0zM146.3,232.6h1.0v1.0h-1.0zM141.9,233.1h1.0v1.0h-1.0zM149.2,229.1h1.0v1.0h-1.0zM147.4,227.9h1.0v1.0h-1.0zM145.4,234.6h1.0v1.0h-1.0zM155.3,223.0h1.0v1.0h-1.0zM150.0,227.0h1.0v1.0h-1.0zM148.2,224.7h1.0v1.0h-1.0zM148.8,232.7h1.0v1.0h-1.0zM145.9,229.4h1.0v1.0h-1.0zM150.1,226.2h1.0v1.0h-1.0zM140.7,237.5h1.0v1.0h-1.0zM144.0,235.6h1.0v1.0h-1.0zM146.2,230.1h1.0v1.0h-1.0zM139.7,237.1h1.0v1.0h-1.0zM151.4,221.7h1.0v1.0h-1.0zM145.8,235.7h1.0v1.0h-1.0zM144.2,232.5h1.0v1.0h-1.0zM147.4,229.1h1.0v1.0h-1.0zM149.8,221.3h1.0v1.0h-1.0zM145.6,230.6h1.0v1.0h-1.0zM144.9,236.1h1.0v1.0h-1.0zM144.5,237.1h1.0v1.0h-1.0zM146.1,228.7h1.0v1.0h-1.0zM144.4,234.0h1.0v1.0h-1.0zM157.8,221.5h1.0v1.0h-1.0zM149.8,223.4h1.0v1.0h-1.0zM144.0,236.6h1.0v1.0h-1.0zM150.0,231.3h1.0v1.0h-1.0zM154.2,218.6h1.0v1.0h-1.0zM136.5,238.8h1.0v1.0h-1.0zM146.8,235.1h1.0v1.0h-1.0zM151.2,225.2h1.0v1.0h-1.0zM144.4,235.0h1.0v1.0h-1.0zM145.2,229.2h1.0v1.0h-1.0zM146.5,235.3h1.0v1.0h-1.0zM150.3,228.8h1.0v1.0h-1.0zM144.4,238.4h1.0v1.0h-1.0zM145.4,229.8h1.0v1.0h-1.0zM139.8,237.1h1.0v1.0h-1.0zM148.9,225.0h1.0v1.0h-1.0zM147.3,226.7h1.0v1.0h-1.0zM144.5,229.4h1.0v1.0h-1.0zM147.2,231.4h1.0v1.0h-1.0zM145.4,229.7h1.0v1.0h-1.0zM145.1,232.9h1.0v1.0h-1.0zM146.2,229.4h1.0v1.0h-1.0zM148.8,230.1h1.0v1.0h-1.0zM147.7,232.7h1.0v1.0h-1.0zM145.5,235.1h1.0v1.0h-1.0zM146.4,234.3h1.0v1.0h-1.0zM144.5,233.1h1.0v1.0h-1.0zM149.7,230.2h1.0v1.0h-1.0zM146.9,230.1h1.0v1.0h-1.0zM153.7,221.0h1.0v1.0h-1.0zM143.9,230.1h1.0v1.0h-1.0zM146.9,230.8h1.0v1.0h-1.0zM144.5,234.5h1.0v1.0h-1.0zM149.8,233.2h1.0v1.0h-1.0zM144.1,232.5h1.0v1.0h-1.0zM145.4,237.3h1.0v1.0h-1.0zM144.9,228.2h1.0v1.0h-1.0zM153.3,223.9h1.0v1.0h-1.0zM146.8,238.7h1.0v1.0h-1.0zM143.4,233.7h1.0v1.0h-1.0zM145.1,230.1h1.0v1.0h-1.0zM146.2,228.6h1.0v1.0h-1.0zM155.8,228.7h1.0v1.0h-1.0zM146.0,236.1h1.0v1.0h-1.0zM145.3,231.1h1.0v1.0h-1.0zM142.7,234.2h1.0v1.0h-1.0zM139.0,231.5h1.0v1.0h-1.0zM144.5,233.2h1.0v1.0h-1.0zM144.5,238.7h1.0v1.0h-1.0zM145.5,226.4h1.0v1.0h-1.0zM152.9,228.2h1.0v1.0h-1.0zM145.6,234.6h1.0v1.0h-1.0zM146.3,236.9h1.0v1.0h-1.0zM151.5,224.6h1.0v1.0h-1.0zM146.3,232.8h1.0v1.0h-1.0zM155.2,226.7h1.0v1.0h-1.0zM147.2,233.3h1.0v1.0h-1.0zM141.9,235.6h1.0v1.0h-1.0zM144.2,233.6h1.0v1.0h-1.0zM149.2,226.9h1.0v1.0h-1.0zM151.5,226.7h1.0v1.0h-1.0zM146.1,232.3h1.0v1.0h-1.0zM150.3,226.8h1.0v1.0h-1.0zM138.6,233.3h1.0v1.0h-1.0zM145.6,228.1h1.0v1.0h-1.0zM146.0,232.1h1.0v1.0h-1.0zM149.1,226.1h1.0v1.0h-1.0zM143.0,233.7h1.0v1.0h-1.0zM148.5,229.5h1.0v1.0h-1.0zM145.1,236.4h1.0v1.0h-1.0zM150.2,233.2h1.0v1.0h-1.0zM149.8,229.1h1.0v1.0h-1.0zM146.8,231.5h1.0v1.0h-1.0zM143.4,232.4h1.0v1.0h-1.0zM149.9,229.3h1.0v1.0h-1.0zM147.2,230.1h1.0v1.0h-1.0zM145.2,233.6h1.0v1.0h-1.0zM145.5,229.9h1.0v1.0h-1.0zM148.2,233.5h1.0v1.0h-1.0zM144.7,232.4h1.0v1.0h-1.0zM148.1,225.1h1.0v1.0h-1.0zM154.1,223.5h1.0v1.0h-1.0zM142.8,232.1h1.0v1.0h-1.0zM147.1,232.8h1.0v1.0h-1.0zM145.0,237.7h1.0v1.0h-1.0zM142.0,238.3h1.0v1.0h-1.0zM151.3,226.1h1.0v1.0h-1.0zM142.6,233.2h1.0v1.0h-1.0zM147.4,229.2h1.0v1.0h-1.0zM145.8,235.9h1.0v1.0h-1.0zM147.2,227.8h1.0v1.0h-1.0zM147.3,227.9h1.0v1.0h-1.0zM148.4,231.0h1.0v1.0h-1.0zM148.7,229.8h1.0v1.0h-1.0zM147.9,230.7h1.0v1.0h-1.0zM152.1,227.9h1.0v1.0h-1.0zM152.3,222.2h1.0v1.0h-1.0zM147.9,227.7h1.0v1.0h-1.0zM148.0,233.5h1.0v1.0h-1.0zM143.0,236.6h1.0v1.0h-1.0zM144.4,233.3h1.0v1.0h-1.0zM145.4,232.8h1.0v1.0h-1.0zM154.0,226.0h1.0v1.0h-1.0zM140.8,239.0h1.0v1.0h-1.0zM142.4,234.1h1.0v1.0h-1.0zM140.6,234.5h1.0v1.0h-1.0zM151.8,228.8h1.0v1.0h-1.0zM142.0,232.9h1.0v1.0h-1.0zM136.3,239.1h1.0v1.0h-1.0zM147.2,229.2h1.0v1.0h-1.0zM153.8,228.8h1.0v1.0h-1.0zM151.5,226.9h1.0v1.0h-1.0zM137.8,232.7h1.0v1.0h-1.0zM145.2,233.0h1.0v1.0h-1.0zM143.5,228.4h1.0v1.0h-1.0zM139.7,237.6h1.0v1.0h-1.0zM143.0,238.5h1.0v1.0h-1.0zM145.4,235.7h1.0v1.0h-1.0zM146.8,232.0h1.0v1.0h-1.0zM148.4,230.8h1.0v1.0h-1.0zM147.2,230.0h1.0v1.0h-1.0zM145.7,231.6h1.0v1.0h-1.0zM147.6,234.7h1.0v1.0h-1.0zM145.6,234.5h1.0v1.0h-1.0zM153.1,228.8h1.0v1.0h-1.0zM154.0,225.2h1.0v1.0h-1.0zM145.5,234.3h1.0v1.0h-1.0zM147.4,233.7h1.0v1.0h-1.0zM141.2,240.0h1.0v1.0h-1.0zM147.8,236.1h1.0v1.0h-1.0zM150.6,229.5h1.0v1.0h-1.0zM145.6,231.4h1.0v1.0h-1.0zM147.7,229.5h1.0v1.0h-1.0zM144.8,230.8h1.0v1.0h-1.0zM147.6,231.6h1.0v1.0h-1.0zM148.5,227.6h1.0v1.0h-1.0zM148.0,226.2h1.0v1.0h-1.0zM148.3,234.8h1.0v1.0h-1.0zM148.5,233.0h1.0v1.0h-1.0zM144.9,234.4h1.0v1.0h-1.0zM142.7,232.7h1.0v1.0h-1.0zM152.4,223.5h1.0v1.0h-1.0zM148.1,229.6h1.0v1.0h-1.0zM155.4,229.9h1.0v1.0h-1.0zM150.0,229.0h1.0v1.0h-1.0zM156.6,226.3h1.0v1.0h-1.0zM144.9,231.7h1.0v1.0h-1.0zM147.6,234.3h1.0v1.0h-1.0zM147.9,233.1h1.0v1.0h-1.0zM156.2,219.4h1.0v1.0h-1.0zM144.2,232.6h1.0v1.0h-1.0zM147.9,232.1h1.0v1.0h-1.0zM150.2,222.9h1.0v1.0h-1.0zM150.8,227.3h1.0v1.0h-1.0zM142.8,231.8h1.0v1.0h-1.0zM154.4,223.6h1.0v1.0h-1.0zM149.7,229.9h1.0v1.0h-1.0zM154.2,226.0h1.0v1.0h-1.0zM150.2,229.3h1.0v1.0h-1.0zM150.0,227.7h1.0v1.0h-1.0zM143.0,234.0h1.0v1.0h-1.0zM151.6,223.8h1.0v1.0h-1.0zM143.0,233.8h1.0v1.0h-1.0zM146.6,230.5h1.0v1.0h-1.0zM150.7,225.8h1.0v1.0h-1.0zM145.8,233.3h1.0v1.0h-1.0zM146.4,229.9h1.0v1.0h-1.0zM144.5,229.1h1.0v1.0h-1.0zM148.7,231.8h1.0v1.0h-1.0zM148.3,227.7h1.0v1.0h-1.0zM138.0,235.8h1.0v1.0h-1.0zM143.3,232.5h1.0v1.0h-1.0zM155.2,221.6h1.0v1.0h-1.0zM138.4,240.0h1.0v1.0h-1.0zM144.6,234.7h1.0v1.0h-1.0zM153.4,230.7h1.0v1.0h-1.0zM137.1,237.8h1.0v1.0h-1.0zM145.9,237.8h1.0v1.0h-1.0zM143.8,235.4h1.0v1.0h-1.0zM153.1,223.9h1.0v1.0h-1.0zM139.7,232.0h1.0v1.0h-1.0zM149.2,228.2h1.0v1.0h-1.0zM145.4,235.3h1.0v1.0h-1.0zM145.3,229.8h1.0v1.0h-1.0zM139.7,234.3h1.0v1.0h-1.0zM138.6,236.2h1.0v1.0h-1.0zM145.3,233.8h1.0v1.0h-1.0zM141.2,237.8h1.0v1.0h-1.0zM148.8,234.7h1.0v1.0h-1.0zM146.7,230.2h1.0v1.0h-1.0zM150.0,230.8h1.0v1.0h-1.0zM151.4,222.7h1.0v1.0h-1.0zM152.6,224.7h1.0v1.0h-1.0zM144.1,238.1h1.0v1.0h-1.0zM143.3,234.4h1.0v1.0h-1.0zM154.9,224.6h1.0v1.0h-1.0zM144.7,229.8h1.0v1.0h-1.0zM143.8,231.8h1.0v1.0h-1.0zM150.6,225.8h1.0v1.0h-1.0zM142.5,232.6h1.0v1.0h-1.0zM150.1,226.5h1.0v1.0h-1.0zM148.0,235.0h1.0v1.0h-1.0zM152.1,225.2h1.0v1.0h-1.0zM146.7,232.5h1.0v1.0h-1.0zM152.9,230.1h1.0v1.0h-1.0zM151.5,226.7h1.0v1.0h-1.0zM153.6,223.9h1.0v1.0h-1.0zM142.8,234.4h1.0v1.0h-1.0zM147.1,234.9h1.0v1.0h-1.0zM142.4,239.3h1.0v1.0h-1.0zM148.2,236.8h1.0v1.0h-1.0zM145.2,228.5h1.0v1.0h-1.0zM153.5,227.0h1.0v1.0h-1.0zM148.6,236.6h1.0v1.0h-1.0zM155.6,223.3h1.0v1.0h-1.0zM148.0,230.9h1.0v1.0h-1.0zM148.9,225.8h1.0v1.0h-1.0zM147.8,234.4h1.0v1.0h-1.0zM140.1,235.7h1.0v1.0h-1.0zM154.0,224.6h1.0v1.0h-1.0zM145.2,232.3h1.0v1.0h-1.0zM152.5,227.2h1.0v1.0h-1.0zM144.7,232.6h1.0v1.0h-1.0zM148.8,228.2h1.0v1.0h-1.0zM148.0,233.8h1.0v1.0h-1.0zM145.5,233.1h1.0v1.0h-1.0zM147.8,233.6h1.0v1.0h-1.0zM148.8,227.4h1.0v1.0h-1.0zM144.3,239.3h1.0v1.0h-1.0zM143.7,236.8h1.0v1.0h-1.0zM153.1,228.9h1.0v1.0h-1.0zM145.1,236.0h1.0v1.0h-1.0zM145.2,228.4h1.0v1.0h-1.0zM137.1,233.8h1.0v1.0h-1.0zM147.8,234.1h1.0v1.0h-1.0zM150.9,225.9h1.0v1.0h-1.0zM146.7,230.6h1.0v1.0h-1.0zM146.5,229.4h1.0v1.0h-1.0zM144.4,232.5h1.0v1.0h-1.0zM147.9,231.6h1.0v1.0h-1.0zM139.6,238.5h1.0v1.0h-1.0zM145.2,226.4h1.0v1.0h-1.0zM152.9,226.1h1.0v1.0h-1.0zM149.5,226.8h1.0v1.0h-1.0zM139.7,235.1h1.0v1.0h-1.0zM147.2,229.3h1.0v1.0h-1.0zM148.5,233.8h1.0v1.0h-1.0zM152.2,225.1h1.0v1.0h-1.0zM150.3,230.8h1.0v1.0h-1.0zM152.0,223.1h1.0v1.0h-1.0zM148.6,225.7h1.0v1.0h-1.0zM142.6,235.6h1.0v1.0h-1.0zM143.3,229.8h1.0v1.0h-1.0zM141.2,233.4h1.0v1.0h-1.0zM146.3,233.7h1.0v1.0h-1.0zM147.2,236.3h1.0v1.0h-1.0zM146.2,232.9h1.0v1.0h-1.0zM150.0,223.0h1.0v1.0h-1.0zM142.9,232.6h1.0v1.0h-1.0zM142.1,237.3h1.0v1.0h-1.0zM144.0,234.3h1.0v1.0h-1.0zM148.7,237.4h1.0v1.0h-1.0zM147.5,237.1h1.0v1.0h-1.0zM145.7,231.9h1.0v1.0h-1.0zM148.5,236.7h1.0v1.0h-1.0zM150.1,225.1h1.0v1.0h-1.0zM149.2,226.0h1.0v1.0h-1.0zM146.0,237.2h1.0v1.0h-1.0zM149.4,225.6h1.0v1.0h-1.0zM151.9,224.4h1.0v1.0h-1.0zM149.5,234.0h1.0v1.0h-1.0zM142.7,234.8h1.0v1.0h-1.0zM151.0,231.7h1.0v1.0h-1.0zM147.8,233.0h1.0v1.0h-1.0zM147.7,229.4h1.0v1.0h-1.0zM143.5,237.4h1.0v1.0h-1.0zM157.7,223.8h1.0v1.0h-1.0zM147.5,233.7h1.0v1.0h-1.0zM147.8,227.9h1.0v1.0h-1.0zM146.0,235.7h1.0v1.0h-1.0zM143.8,227.3h1.0v1.0h-1.0zM141.5,237.5h1.0v1.0h-1.0zM153.4,229.1h1.0v1.0h-1.0zM138.9,235.8h1.0v1.0h-1.0zM139.5,237.7h1.0v1.0h-1.0zM151.6,226.2h1.0v1.0h-1.0zM144.1,233.0h1.0v1.0h-1.0zM146.9,232.8h1.0v1.0h-1.0zM152.6,227.6h1.0v1.0h-1.0zM150.2,230.3h1.0v1.0h-1.0zM147.8,229.5h1.0v1.0h-1.0zM155.0,233.3h1.0v1.0h-1.0zM136.9,238.5h1.0v1.0h-1.0zM152.2,225.3h1.0v1.0h-1.0zM155.2,227.8h1.0v1.0h-1.0zM156.2,224.3h1.0v1.0h-1.0zM145.5,237.2h1.0v1.0h-1.0zM144.4,233.7h1.0v1.0h-1.0zM154.5,223.9h1.0v1.0h-1.0zM151.3,230.6h1.0v1.0h-1.0zM157.3,225.9h1.0v1.0h-1.0zM147.0,227.5h1.0v1.0h-1.0zM143.6,233.6h1.0v1.0h-1.0zM141.7,237.4h1.0v1.0h-1.0zM146.2,235.4h1.0v1.0h-1.0zM151.1,223.2h1.0v1.0h-1.0zM145.1,236.8h1.0v1.0h-1.0zM138.6,238.5h1.0v1.0h-1.0zM149.6,231.3h1.0v1.0h-1.0zM153.4,225.6h1.0v1.0h-1.0zM159.9,222.7h1.0v1.0h-1.0zM150.8,224.2h1.0v1.0h-1.0zM152.2,227.9h1.0v1.0h-1.0zM139.2,239.1h1.0v1.0h-1.0zM144.5,232.1h1.0v1.0h-1.0zM147.1,234.6h1.0v1.0h-1.0zM146.2,229.4h1.0v1.0h-1.0zM144.4,236.8h1.0v1.0h-1.0zM148.9,226.3h1.0v1.0h-1.0zM150.6,224.0h1.0v1.0h-1.0zM148.8,232.0h1.0v1.0h-1.0zM149.4,236.0h1.0v1.0h-1.0zM148.7,231.3h1.0v1.0h-1.0zM147.2,228.3h1.0v1.0h-1.0zM151.0,228.4h1.0v1.0h-1.0zM143.0,234.9h1.0v1.0h-1.0zM152.2,223.9h1.0v1.0h-1.0zM147.6,231.6h1.0v1.0h-1.0zM147.2,233.1h1.0v1.0h-1.0zM151.4,229.5h1.0v1.0h-1.0zM142.5,233.1h1.0v1.0h-1.0zM153.5,229.9h1.0v1.0h-1.0zM155.7,221.3h1.0v1.0h-1.0zM146.3,227.1h1.0v1.0h-1.0zM146.6,229.2h1.0v1.0h-1.0zM145.3,233.8h1.0v1.0h-1.0zM152.0,223.4h1.0v1.0h-1.0zM152.2,226.6h1.0v1.0h-1.0zM139.2,237.0h1.0v1.0h-1.0zM152.8,228.6h1.0v1.0h-1.0zM144.5,234.8h1.0v1.0h-1.0zM141.6,236.4h1.0v1.0h-1.0zM148.3,233.3h1.0v1.0h-1.0zM142.7,233.1h1.0v1.0h-1.0zM151.6,226.0h1.0v1.0h-1.0zM142.6,238.1h1.0v1.0h-1.0zM142.1,237.9h1.0v1.0h-1.0zM143.0,235.9h1.0v1.0h-1.0zM147.8,233.4h1.0v1.0h-1.0zM148.6,228.0h1.0v1.0h-1.0zM142.3,236.4h1.0v1.0h-1.0zM142.5,233.5h1.0v1.0h-1.0zM140.2,238.5h1.0v1.0h-1.0zM144.2,230.6h1.0v1.0h-1.0zM140.7,234.4h1.0v1.0h-1.0zM156.1,221.6h1.0v1.0h-1.0zM153.4,221.2h1.0v1.0h-1.0zM144.2,236.9h1.0v1.0h-1.0zM149.1,232.3h1.0v1.0h-1.0zM149.6,230.5h1.0v1.0h-1.0zM145.8,235.1h1.0v1.0h-1.0zM146.1,234.0h1.0v1.0h-1.0zM147.2,226.3h1.0v1.0h-1.0zM144.0,231.1h1.0v1.0h-1.0zM146.2,233.4h1.0v1.0h-1.0zM145.0,230.0h1.0v1.0h-1.0zM151.0,224.9h1.0v1.0h-1.0zM145.7,232.6h1.0v1.0h-1.0zM149.0,230.2h1.0v1.0h-1.0zM145.4,228.0h1.0v1.0h-1.0zM150.0,228.3h1.0v1.0h-1.0zM147.5,233.7h1.0v1.0h-1.0zM145.4,234.3h1.0v1.0h-1.0zM146.4,236.9h1.0v1.0h-1.0zM147.2,229.7h1.0v1.0h-1.0zM149.6,232.8h1.0v1.0h-1.0zM149.3,235.9h1.0v1.0h-1.0zM149.0,231.6h1.0v1.0h-1.0zM158.5,222.3h1.0v1.0h-1.0zM151.9,229.5h1.0v1.0h-1.0zM151.3,224.5h1.0v1.0h-1.0zM149.3,232.5h1.0v1.0h-1.0zM140.6,234.2h1.0v1.0h-1.0zM153.1,225.9h1.0v1.0h-1.0zM147.5,232.7h1.0v1.0h-1.0zM153.3,228.8h1.0v1.0h-1.0zM144.1,234.1h1.0v1.0h-1.0zM152.8,228.0h1.0v1.0h-1.0zM145.7,232.8h1.0v1.0h-1.0zM153.5,229.5h1.0v1.0h-1.0zM149.4,226.8h1.0v1.0h-1.0zM141.2,235.9h1.0v1.0h-1.0zM149.1,230.4h1.0v1.0h-1.0zM151.6,231.9h1.0v1.0h-1.0zM147.1,232.2h1.0v1.0h-1.0zM139.3,239.5h1.0v1.0h-1.0zM147.1,229.3h1.0v1.0h-1.0zM147.3,234.5h1.0v1.0h-1.0zM150.9,225.0h1.0v1.0h-1.0zM142.0,236.0h1.0v1.0h-1.0zM150.6,226.6h1.0v1.0h-1.0zM149.3,232.6h1.0v1.0h-1.0zM156.3,218.7h1.0v1.0h-1.0zM141.3,234.8h1.0v1.0h-1.0zM151.3,227.5h1.0v1.0h-1.0zM144.7,234.0h1.0v1.0h-1.0zM140.5,233.6h1.0v1.0h-1.0zM150.0,225.3h1.0v1.0h-1.0zM148.4,227.8h1.0v1.0h-1.0zM151.4,226.8h1.0v1.0h-1.0zM138.7,237.5h1.0v1.0h-1.0zM145.0,239.9h1.0v1.0h-1.0zM149.8,229.2h1.0v1.0h-1.0zM145.3,237.1h1.0v1.0h-1.0zM153.0,226.0h1.0v1.0h-1.0zM154.4,224.3h1.0v1.0h-1.0zM147.6,233.2h1.0v1.0h-1.0zM146.5,230.8h1.0v1.0h-1.0zM144.1,228.6h1.0v1.0h-1.0zM146.4,233.4h1.0v1.0h-1.0zM145.6,230.5h1.0v1.0h-1.0zM148.1,234.5h1.0v1.0h-1.0zM147.3,228.2h1.0v1.0h-1.0zM145.8,233.2h1.0v1.0h-1.0zM144.8,233.9h1.0v1.0h-1.0zM144.8,232.0h1.0v1.0h-1.0zM143.7,233.7h1.0v1.0h-1.0zM146.3,231.6h1.0v1.0h-1.0zM149.5,229.3h1.0v1.0h-1.0zM156.1,222.5h1.0v1.0h-1.0zM140.1,238.9h1.0v1.0h-1.0zM141.1,237.7h1.0v1.0h-1.0zM143.1,228.4h1.0v1.0h-1.0zM149.3,233.4h1.0v1.0h-1.0zM147.9,232.7h1.0v1.0h-1.0zM152.8,221.1h1.0v1.0h-1.0zM137.9,238.5h1.0v1.0h-1.0zM142.9,229.0h1.0v1.0h-1.0zM136.8,232.8h1.0v1.0h-1.0zM144.9,232.1h1.0v1.0h-1.0zM151.8,231.6h1.0v1.0h-1.0zM141.1,238.2h1.0v1.0h-1.0zM151.7,227.2h1.0v1.0h-1.0zM143.5,235.4h1.0v1.0h-1.0zM143.5,237.1h1.0v1.0h-1.0zM140.0,238.9h1.0v1.0h-1.0zM142.7,233.4h1.0v1.0h-1.0zM142.9,234.0h1.0v1.0h-1.0zM151.6,228.8h1.0v1.0h-1.0zM139.7,238.0h1.0v1.0h-1.0zM144.8,227.7h1.0v1.0h-1.0zM151.4,228.5h1.0v1.0h-1.0zM146.3,233.0h1.0v1.0h-1.0zM152.4,230.0h1.0v1.0h-1.0zM144.2,234.8h1.0v1.0h-1.0zM148.8,229.6h1.0v1.0h-1.0zM145.4,232.8h1.0v1.0h-1.0zM154.8,220.5h1.0v1.0h-1.0zM146.2,233.2h1.0v1.0h-1.0zM144.9,232.1h1.0v1.0h-1.0zM147.0,228.1h1.0v1.0h-1.0zM144.6,233.7h1.0v1.0h-1.0zM146.3,232.5h1.0v1.0h-1.0zM149.0,230.5h1.0v1.0h-1.0zM151.8,228.5h1.0v1.0h-1.0zM148.0,237.5h1.0v1.0h-1.0zM146.8,230.8h1.0v1.0h-1.0zM148.4,234.3h1.0v1.0h-1.0zM149.9,228.3h1.0v1.0h-1.0zM150.7,228.0h1.0v1.0h-1.0zM150.0,230.9h1.0v1.0h-1.0zM146.7,229.0h1.0v1.0h-1.0zM154.4,223.2h1.0v1.0h-1.0zM144.4,236.5h1.0v1.0h-1.0zM151.6,221.9h1.0v1.0h-1.0zM147.8,227.6h1.0v1.0h-1.0zM139.8,237.8h1.0v1.0h-1.0zM147.5,230.9h1.0v1.0h-1.0zM142.2,239.1h1.0v1.0h-1.0zM144.4,230.1h1.0v1.0h-1.0zM151.2,229.2h1.0v1.0h-1.0zM144.6,236.0h1.0v1.0h-1.0zM150.8,221.0h1.0v1.0h-1.0zM144.5,235.3h1.0v1.0h-1.0zM146.0,230.1h1.0v1.0h-1.0zM142.4,238.7h1.0v1.0h-1.0zM146.3,231.9h1.0v1.0h-1.0zM146.5,230.6h1.0v1.0h-1.0zM147.7,227.8h1.0v1.0h-1.0zM157.1,219.9h1.0v1.0h-1.0zM155.0,225.0h1.0v1.0h-1.0zM147.7,225.5h1.0v1.0h-1.0zM144.4,231.8h1.0v1.0h-1.0zM145.4,232.4h1.0v1.0h-1.0zM145.4,232.5h1.0v1.0h-1.0zM142.7,234.6h1.0v1.0h-1.0zM150.2,228.7h1.0v1.0h-1.0zM146.9,231.8h1.0v1.0h-1.0zM145.9,225.9h1.0v1.0h-1.0zM147.6,234.0h1.0v1.0h-1.0zM146.4,227.6h1.0v1.0h-1.0zM156.4,225.2h1.0v1.0h-1.0zM149.8,230.9h1.0v1.0h-1.0zM148.2,224.5h1.0v1.0h-1.0zM143.7,235.3h1.0v1.0h-1.0zM148.7,234.0h1.0v1.0h-1.0zM147.8,235.1h1.0v1.0h-1.0zM149.6,229.3h1.0v1.0h-1.0zM147.2,228.8h1.0v1.0h-1.0zM146.3,236.1h1.0v1.0h-1.0zM146.3,227.4h1.0v1.0h-1.0zM145.3,228.4h1.0v1.0h-1.0zM141.9,239.5h1.0v1.0h-1.0zM145.2,229.5h1.0v1.0h-1.0zM153.2,226.6h1.0v1.0h-1.0zM141.8,233.6h1.0v1.0h-1.0zM150.9,225.3h1.0v1.0h-1.0zM152.1,229.7h1.0v1.0h-1.0zM147.9,230.2h1.0v1.0h-1.0zM150.2,230.1h1.0v1.0h-1.0zM143.6,234.5h1.0v1.0h-1.0zM149.6,227.2h1.0v1.0h-1.0zM140.2,236.5h1.0v1.0h-1.0zM141.1,234.8h1.0v1.0h-1.0zM150.3,229.2h1.0v1.0h-1.0zM143.4,236.8h1.0v1.0h-1.0zM158.6,224.5h1.0v1.0h-1.0zM149.3,230.0h1.0v1.0h-1.0zM150.8,226.6h1.0v1.0h-1.0zM152.3,227.4h1.0v1.0h-1.0zM148.1,235.0h1.0v1.0h-1.0zM145.2,228.8h1.0v1.0h-1.0zM152.1,231.4h1.0v1.0h-1.0zM146.2,229.8h1.0v1.0h-1.0zM152.8,222.7h1.0v1.0h-1.0zM156.0,230.2h1.0v1.0h-1.0zM150.1,231.6h1.0v1.0h-1.0zM151.9,224.4h1.0v1.0h-1.0zM149.2,232.0h1.0v1.0h-1.0zM152.9,229.5h1.0v1.0h-1.0zM149.3,231.3h1.0v1.0h-1.0zM148.1,233.9h1.0v1.0h-1.0zM144.1,235.8h1.0v1.0h-1.0zM145.3,235.0h1.0v1.0h-1.0zM145.8,229.1h1.0v1.0h-1.0zM147.6,227.5h1.0v1.0h-1.0zM143.5,230.9h1.0v1.0h-1.0zM150.9,229.5h1.0v1.0h-1.0zM146.6,231.7h1.0v1.0h-1.0zM144.6,237.9h1.0v1.0h-1.0zM144.5,237.1h1.0v1.0h-1.0zM153.8,222.9h1.0v1.0h-1.0zM136.3,234.3h1.0v1.0h-1.0zM143.6,230.5h1.0v1.0h-1.0zM150.8,227.4h1.0v1.0h-1.0zM150.2,228.1h1.0v1.0h-1.0zM141.7,239.1h1.0v1.0h-1.0zM151.5,226.6h1.0v1.0h-1.0zM154.3,215.1h1.0v1.0h-1.0zM143.0,237.8h1.0v1.0h-1.0zM146.6,231.1h1.0v1.0h-1.0zM146.4,227.3h1.0v1.0h-1.0zM146.0,234.8h1.0v1.0h-1.0zM149.5,228.6h1.0v1.0h-1.0zM149.0,238.9h1.0v1.0h-1.0zM141.3,230.4h1.0v1.0h-1.0zM142.5,233.7h1.0v1.0h-1.0zM147.1,231.5h1.0v1.0h-1.0zM148.7,228.5h1.0v1.0h-1.0zM152.4,227.8h1.0v1.0h-1.0zM148.2,233.0h1.0v1.0h-1.0zM143.5,236.8h1.0v1.0h-1.0zM145.3,233.5h1.0v1.0h-1.0zM144.0,232.5h1.0v1.0h-1.0zM145.9,233.3h1.0v1.0h-1.0zM151.2,229.9h1.0v1.0h-1.0zM146.9,232.0h1.0v1.0h-1.0zM144.3,227.7h1.0v1.0h-1.0zM150.2,233.5h1.0v1.0h-1.0zM146.1,230.9h1.0v1.0h-1.0zM146.7,234.7h1.0v1.0h-1.0zM149.5,227.2h1.0v1.0h-1.0zM148.6,233.3h1.0v1.0h-1.0zM146.2,231.3h1.0v1.0h-1.0zM144.9,238.6h1.0v1.0h-1.0zM146.3,236.5h1.0v1.0h-1.0zM143.6,233.1h1.0v1.0h-1.0zM144.9,224.4h1.0v1.0h-1.0zM140.3,239.8h1.0v1.0h-1.0zM148.7,226.5h1.0v1.0h-1.0zM149.3,232.3h1.0v1.0h-1.0zM144.7,235.2h1.0v1.0h-1.0zM142.9,234.7h1.0v1.0h-1.0zM147.8,227.6h1.0v1.0h-1.0zM146.7,229.1h1.0v1.0h-1.0zM145.8,236.0h1.0v1.0h-1.0zM142.9,235.2h1.0v1.0h-1.0zM147.3,232.2h1.0v1.0h-1.0zM145.9,235.7h1.0v1.0h-1.0zM148.8,229.0h1.0v1.0h-1.0zM142.0,231.0h1.0v1.0h-1.0zM148.6,235.1h1.0v1.0h-1.0zM151.8,225.3h1.0v1.0h-1.0zM145.1,231.6h1.0v1.0h-1.0zM145.1,233.7h1.0v1.0h-1.0zM145.7,229.8h1.0v1.0h-1.0zM139.9,235.7h1.0v1.0h-1.0zM140.7,239.0h1.0v1.0h-1.0zM145.8,230.5h1.0v1.0h-1.0zM145.3,234.7h1.0v1.0h-1.0zM141.7,238.5h1.0v1.0h-1.0zM154.2,230.2h1.0v1.0h-1.0zM149.5,228.0h1.0v1.0h-1.0zM148.2,230.6h1.0v1.0h-1.0zM143.9,233.1h1.0v1.0h-1.0zM148.1,234.2h1.0v1.0h-1.0zM145.4,234.8h1.0v1.0h-1.0zM151.3,228.2h1.0v1.0h-1.0zM148.6,230.7h1.0v1.0h-1.0zM147.5,231.8h1.0v1.0h-1.0zM140.1,234.7h1.0v1.0h-1.0zM146.8,226.1h1.0v1.0h-1.0zM144.8,232.3h1.0v1.0h-1.0zM155.1,223.2h1.0v1.0h-1.0zM150.2,224.6h1.0v1.0h-1.0zM145.3,230.3h1.0v1.0h-1.0zM146.7,234.4h1.0v1.0h-1.0zM143.2,233.8h1.0v1.0h-1.0zM143.0,233.9h1.0v1.0h-1.0zM147.8,229.6h1.0v1.0h-1.0zM139.2,236.4h1.0v1.0h-1.0zM152.5,228.4h1.0v1.0h-1.0zM152.3,230.5h1.0v1.0h-1.0zM148.1,233.7h1.0v1.0h-1.0zM152.7,230.4h1.0v1.0h-1.0zM153.6,218.2h1.0v1.0h-1.0zM149.8,231.5h1.0v1.0h-1.0zM154.1,223.5h1.0v1.0h-1.0zM148.0,234.9h1.0v1.0h-1.0zM143.4,233.3h1.0v1.0h-1.0zM152.6,228.2h1.0v1.0h-1.0zM152.1,228.1h1.0v1.0h-1.0zM147.3,231.8h1.0v1.0h-1.0zM144.8,233.5h1.0v1.0h-1.0zM148.3,232.0h1.0v1.0h-1.0zM147.2,230.8h1.0v1.0h-1.0zM150.5,224.2h1.0v1.0h-1.0zM151.7,228.7h1.0v1.0h-1.0zM150.6,233.2h1.0v1.0h-1.0zM146.8,233.2h1.0v1.0h-1.0zM144.8,237.5h1.0v1.0h-1.0zM149.9,232.5h1.0v1.0h-1.0zM151.1,227.1h1.0v1.0h-1.0zM145.8,230.4h1.0v1.0h-1.0zM140.5,239.5h1.0v1.0h-1.0zM150.3,229.8h1.0v1.0h-1.0zM141.8,234.2h1.0v1.0h-1.0zM144.7,233.3h1.0v1.0h-1.0zM142.9,234.0h1.0v1.0h-1.0zM149.0,232.0h1.0v1.0h-1.0zM147.4,232.6h1.0v1.0h-1.0zM147.8,229.8h1.0v1.0h-1.0zM145.5,236.3h1.0v1.0h-1.0zM150.5,230.0h1.0v1.0h-1.0zM140.8,238.3h1.0v1.0h-1.0zM144.9,234.4h1.0v1.0h-1.0zM146.6,233.8h1.0v1.0h-1.0zM145.5,234.8h1.0v1.0h-1.0zM147.4,233.6h1.0v1.0h-1.0zM148.7,228.3h1.0v1.0h-1.0zM155.0,227.9h1.0v1.0h-1.0zM141.9,236.9h1.0v1.0h-1.0zM145.8,232.5h1.0v1.0h-1.0zM156.4,224.9h1.0v1.0h-1.0zM149.6,223.0h1.0v1.0h-1.0zM149.0,229.6h1.0v1.0h-1.0zM153.4,227.3h1.0v1.0h-1.0zM151.6,228.6h1.0v1.0h-1.0zM141.7,232.0h1.0v1.0h-1.0zM149.0,227.3h1.0v1.0h-1.0zM150.8,225.2h1.0v1.0h-1.0zM151.5,228.9h1.0v1.0h-1.0zM148.1,233.3h1.0v1.0h-1.0zM146.1,233.9h1.0v1.0h-1.0zM157.1,220.8h1.0v1.0h-1.0zM147.0,229.2h1.0v1.0h-1.0zM151.2,230.8h1.0v1.0h-1.0zM137.7,234.7h1.0v1.0h-1.0zM150.9,229.3h1.0v1.0h-1.0zM149.1,231.4h1.0v1.0h-1.0zM144.0,236.0h1.0v1.0h-1.0zM152.6,225.8h1.0v1.0h-1.0zM147.3,231.8h1.0v1.0h-1.0zM150.9,229.7h1.0v1.0h-1.0zM148.0,228.5h1.0v1.0h-1.0zM145.3,235.9h1.0v1.0h-1.0zM148.4,230.3h1.0v1.0h-1.0zM153.1,225.5h1.0v1.0h-1.0zM138.2,232.6h1.0v1.0h-1.0zM140.6,234.3h1.0v1.0h-1.0zM142.9,235.4h1.0v1.0h-1.0zM149.2,227.3h1.0v1.0h-1.0zM146.6,235.1h1.0v1.0h-1.0zM146.0,228.0h1.0v1.0h-1.0zM153.9,228.2h1.0v1.0h-1.0zM143.6,237.9h1.0v1.0h-1.0zM153.7,225.2h1.0v1.0h-1.0zM146.4,230.7h1.0v1.0h-1.0zM144.5,230.6h1.0v1.0h-1.0zM151.6,222.8h1.0v1.0h-1.0zM147.9,228.4h1.0v1.0h-1.0zM141.5,237.5h1.0v1.0h-1.0zM147.9,232.9h1.0v1.0h-1.0zM145.0,236.2h1.0v1.0h-1.0zM149.9,232.0h1.0v1.0h-1.0zM146.7,235.3h1.0v1.0h-1.0zM144.5,232.1h1.0v1.0h-1.0zM150.3,226.4h1.0v1.0h-1.0zM147.0,229.1h1.0v1.0h-1.0zM147.7,234.2h1.0v1.0h-1.0zM148.5,230.2h1.0v1.0h-1.0zM143.8,236.6h1.0v1.0h-1.0zM145.7,233.8h1.0v1.0h-1.0zM152.8,222.9h1.0v1.0h-1.0zM137.9,233.7h1.0v1.0h-1.0zM142.8,237.1h1.0v1.0h-1.0zM147.0,233.1h1.0v1.0h-1.0zM149.8,231.4h1.0v1.0h-1.0zM145.2,235.0h1.0v1.0h-1.0zM146.3,230.1h1.0v1.0h-1.0zM137.5,236.5h1.0v1.0h-1.0zM154.0,223.7h1.0v1.0h-1.0zM147.2,234.6h1.0v1.0h-1.0zM147.5,230.9h1.0v1.0h-1.0zM156.6,217.5h1.0v1.0h-1.0zM142.0,231.6h1.0v1.0h-1.0zM137.6,233.3h1.0v1.0h-1.0zM143.2,236.4h1.0v1.0h-1.0zM154.9,224.7h1.0v1.0h-1.0zM142.8,229.2h1.0v1.0h-1.0zM142.8,234.2h1.0v1.0h-1.0zM149.2,233.9h1.0v1.0h-1.0zM143.5,228.6h1.0v1.0h-1.0zM153.8,229.3h1.0v1.0h-1.0zM152.0,230.1h1.0v1.0h-1.0zM150.1,231.2h1.0v1.0h-1.0zM149.9,230.2h1.0v1.0h-1.0zM144.5,236.0h1.0v1.0h-1.0zM142.8,238.3h1.0v1.0h-1.0zM151.5,232.2h1.0v1.0h-1.0zM147.6,227.6h1.0v1.0h-1.0zM145.0,228.2h1.0v1.0h-1.0zM145.1,227.3h1.0v1.0h-1.0zM150.2,229.1h1.0v1.0h-1.0zM143.9,238.3h1.0v1.0h-1.0zM144.5,232.1h1.0v1.0h-1.0zM144.1,236.2h1.0v1.0h-1.0zM151.2,230.9h1.0v1.0h-1.0zM147.3,233.7h1.0v1.0h-1.0zM149.5,230.4h1.0v1.0h-1.0zM148.7,227.7h1.0v1.0h-1.0zM142.7,235.1h1.0v1.0h-1.0zM154.9,226.1h1.0v1.0h-1.0zM148.7,230.5h1.0v1.0h-1.0zM153.5,229.0h1.0v1.0h-1.0zM153.3,223.0h1.0v1.0h-1.0zM146.6,235.2h1.0v1.0h-1.0zM144.2,234.1h1.0v1.0h-1.0zM148.5,231.4h1.0v1.0h-1.0zM149.0,224.0h1.0v1.0h-1.0zM153.0,227.4h1.0v1.0h-1.0zM137.3,239.2h1.0v1.0h-1.0zM155.1,226.9h1.0v1.0h-1.0zM146.6,234.9h1.0v1.0h-1.0zM148.2,228.4h1.0v1.0h-1.0zM143.9,239.8h1.0v1.0h-1.0zM145.8,237.9h1.0v1.0h-1.0zM151.5,232.6h1.0v1.0h-1.0zM150.0,227.4h1.0v1.0h-1.0zM147.2,236.2h1.0v1.0h-1.0zM146.3,228.5h1.0v1.0h-1.0zM147.3,230.5h1.0v1.0h-1.0zM145.3,234.7h1.0v1.0h-1.0zM150.1,223.3h1.0v1.0h-1.0zM159.0,222.8h1.0v1.0h-1.0zM150.8,229.7h1.0v1.0h-1.0zM139.7,239.2h1.0v1.0h-1.0zM144.2,227.9h1.0v1.0h-1.0zM145.1,231.7h1.0v1.0h-1.0zM152.3,228.7h1.0v1.0h-1.0zM148.4,232.3h1.0v1.0h-1.0zM154.8,220.6h1.0v1.0h-1.0zM148.0,226.6h1.0v1.0h-1.0zM149.7,229.0h1.0v1.0h-1.0zM143.8,231.4h1.0v1.0h-1.0zM140.8,233.2h1.0v1.0h-1.0zM149.1,234.2h1.0v1.0h-1.0zM148.0,230.7h1.0v1.0h-1.0zM149.7,230.0h1.0v1.0h-1.0zM147.6,230.3h1.0v1.0h-1.0zM147.5,234.3h1.0v1.0h-1.0zM148.9,232.8h1.0v1.0h-1.0zM144.9,233.5h1.0v1.0h-1.0zM142.2,235.5h1.0v1.0h-1.0zM142.8,234.9h1.0v1.0h-1.0zM150.6,230.7h1.0v1.0h-1.0zM150.4,228.5h1.0v1.0h-1.0zM144.3,230.8h1.0v1.0h-1.0zM148.7,234.2h1.0v1.0h-1.0zM149.5,229.2h1.0v1.0h-1.0zM147.3,233.0h1.0v1.0h-1.0zM162.7,219.5h1.0v1.0h-1.0zM148.5,231.8h1.0v1.0h-1.0zM146.2,235.2h1.0v1.0h-1.0zM139.3,239.7h1.0v1.0h-1.0zM149.0,231.6h1.0v1.0h-1.0zM152.9,228.3h1.0v1.0h-1.0zM147.5,232.5h1.0v1.0h-1.0zM152.2,225.8h1.0v1.0h-1.0zM144.3,234.0h1.0v1.0h-1.0zM146.3,231.7h1.0v1.0h-1.0zM146.7,232.8h1.0v1.0h-1.0zM143.2,234.3h1.0v1.0h-1.0zM141.7,239.2h1.0v1.0h-1.0zM142.4,235.2h1.0v1.0h-1.0zM150.5,228.3h1.0v1.0h-1.0zM145.4,231.4h1.0v1.0h-1.0zM147.4,232.7h1.0v1.0h-1.0zM143.0,232.6h1.0v1.0h-1.0zM155.9,231.7h1.0v1.0h-1.0zM142.4,234.4h1.0v1.0h-1.0zM154.0,223.8h1.0v1.0h-1.0zM153.9,228.8h1.0v1.0h-1.0zM143.3,233.9h1.0v1.0h-1.0zM144.8,231.1h1.0v1.0h-1.0zM148.2,227.3h1.0v1.0h-1.0zM154.2,227.6h1.0v1.0h-1.0zM142.0,233.5h1.0v1.0h-1.0zM147.7,236.4h1.0v1.0h-1.0zM158.7,221.1h1.0v1.0h-1.0zM150.8,227.2h1.0v1.0h-1.0zM152.7,229.2h1.0v1.0h-1.0zM155.3,222.8h1.0v1.0h-1.0zM148.5,229.1h1.0v1.0h-1.0zM143.2,231.8h1.0v1.0h-1.0zM137.5,237.3h1.0v1.0h-1.0zM151.1,228.0h1.0v1.0h-1.0zM139.1,233.7h1.0v1.0h-1.0zM147.4,226.2h1.0v1.0h-1.0zM136.3,238.2h1.0v1.0h-1.0zM144.9,233.6h1.0v1.0h-1.0zM144.8,229.6h1.0v1.0h-1.0zM141.4,236.9h1.0v1.0h-1.0zM148.7,237.7h1.0v1.0h-1.0zM143.5,235.3h1.0v1.0h-1.0zM150.3,233.5h1.0v1.0h-1.0zM141.9,237.4h1.0v1.0h-1.0zM144.1,231.0h1.0v1.0h-1.0zM151.9,224.4h1.0v1.0h-1.0zM151.8,224.1h1.0v1.0h-1.0zM155.6,223.5h1.0v1.0h-1.0zM149.8,230.6h1.0v1.0h-1.0zM145.5,233.6h1.0v1.0h-1.0zM147.7,229.4h1.0v1.0h-1.0zM148.7,227.1h1.0v1.0h-1.0zM147.5,229.6h1.0v1.0h-1.0zM151.7,223.5h1.0v1.0h-1.0zM142.9,233.2h1.0v1.0h-1.0zM150.0,236.1h1.0v1.0h-1.0zM141.9,239.6h1.0v1.0h-1.0zM143.5,231.8h1.0v1.0h-1.0zM152.2,225.8h1.0v1.0h-1.0zM147.7,231.7h1.0v1.0h-1.0zM150.0,228.0h1.0v1.0h-1.0zM147.6,228.5h1.0v1.0h-1.0zM151.6,227.6h1.0v1.0h-1.0zM143.6,235.4h1.0v1.0h-1.0zM149.9,229.7h1.0v1.0h-1.0zM151.6,230.0h1.0v1.0h-1.0zM150.9,225.3h1.0v1.0h-1.0zM153.1,225.4h1.0v1.0h-1.0zM144.0,233.0h1.0v1.0h-1.0zM139.5,236.6h1.0v1.0h-1.0zM143.3,233.5h1.0v1.0h-1.0zM152.8,225.7h1.0v1.0h-1.0zM141.8,235.1h1.0v1.0h-1.0zM139.6,236.2h1.0v1.0h-1.0zM140.2,236.3h1.0v1.0h-1.0zM141.6,237.5h1.0v1.0h-1.0zM152.2,230.3h1.0v1.0h-1.0zM145.7,236.8h1.0v1.0h-1.0zM141.8,231.9h1.0v1.0h-1.0zM151.3,225.8h1.0v1.0h-1.0zM151.8,228.0h1.0v1.0h-1.0zM150.0,226.8h1.0v1.0h-1.0zM143.5,234.7h1.0v1.0h-1.0zM138.2,237.8h1.0v1.0h-1.0zM148.7,230.1h1.0v1.0h-1.0zM154.1,223.3h1.0v1.0h-1.0zM144.1,231.8h1.0v1.0h-1.0zM146.6,233.4h1.0v1.0h-1.0zM155.0,224.3h1.0v1.0h-1.0zM144.3,230.7h1.0v1.0h-1.0zM140.0,239.7h1.0v1.0h-1.0zM147.9,232.9h1.0v1.0h-1.0zM146.2,235.8h1.0v1.0h-1.0zM151.5,230.4h1.0v1.0h-1.0zM157.5,223.1h1.0v1.0h-1.0zM143.3,234.8h1.0v1.0h-1.0zM148.4,231.5h1.0v1.0h-1.0zM146.4,234.2h1.0v1.0h-1.0zM144.3,234.6h1.0v1.0h-1.0zM149.4,229.9h1.0v1.0h-1.0zM151.9,222.9h1.0v1.0h-1.0zM149.3,229.9h1.0v1.0h-1.0zM144.5,232.7h1.0v1.0h-1.0zM148.9,228.9h1.0v1.0h-1.0zM150.7,232.9h1.0v1.0h-1.0zM150.8,228.1h1.0v1.0h-1.0zM145.1,234.4h1.0v1.0h-1.0zM146.5,229.9h1.0v1.0h-1.0zM151.6,221.8h1.0v1.0h-1.0zM145.1,229.6h1.0v1.0h-1.0zM150.6,226.5h1.0v1.0h-1.0zM146.5,231.2h1.0v1.0h-1.0zM144.4,228.5h1.0v1.0h-1.0zM142.8,233.8h1.0v1.0h-1.0zM159.0,218.5h1.0v1.0h-1.0zM150.7,224.8h1.0v1.0h-1.0zM151.3,225.5h1.0v1.0h-1.0zM152.0,226.4h1.0v1.0h-1.0zM144.6,237.9h1.0v1.0h-1.0zM144.3,235.4h1.0v1.0h-1.0zM148.6,234.5h1.0v1.0h-1.0zM137.7,237.0h1.0v1.0h-1.0zM145.2,237.5h1.0v1.0h-1.0zM150.2,227.4h1.0v1.0h-1.0zM146.3,238.5h1.0v1.0h-1.0zM148.0,233.3h1.0v1.0h-1.0zM147.2,232.5h1.0v1.0h-1.0zM149.3,234.0h1.0v1.0h-1.0zM143.0,234.2h1.0v1.0h-1.0zM152.4,228.9h1.0v1.0h-1.0zM149.3,230.2h1.0v1.0h-1.0zM139.6,237.5h1.0v1.0h-1.0zM144.4,235.3h1.0v1.0h-1.0zM147.2,232.4h1.0v1.0h-1.0zM153.7,224.2h1.0v1.0h-1.0zM143.6,236.1h1.0v1.0h-1.0zM138.6,236.0h1.0v1.0h-1.0zM152.6,228.5h1.0v1.0h-1.0zM146.2,231.5h1.0v1.0h-1.0zM147.4,231.8h1.0v1.0h-1.0zM148.3,228.0h1.0v1.0h-1.0zM150.7,226.4h1.0v1.0h-1.0zM146.6,229.8h1.0v1.0h-1.0zM144.8,231.2h1.0v1.0h-1.0zM145.9,230.3h1.0v1.0h-1.0zM141.8,236.5h1.0v1.0h-1.0zM140.7,234.3h1.0v1.0h-1.0zM148.0,227.1h1.0v1.0h-1.0zM148.3,230.7h1.0v1.0h-1.0zM143.6,236.0h1.0v1.0h-1.0zM150.5,230.0h1.0v1.0h-1.0zM148.2,231.5h1.0v1.0h-1.0zM140.1,236.1h1.0v1.0h-1.0zM144.1,231.2h1.0v1.0h-1.0zM143.0,239.0h1.0v1.0h-1.0zM139.8,232.2h1.0v1.0h-1.0zM148.5,230.3h1.0v1.0h-1.0zM142.8,238.0h1.0v1.0h-1.0zM143.5,238.9h1.0v1.0h-1.0zM150.7,231.8h1.0v1.0h-1.0zM144.4,237.6h1.0v1.0h-1.0zM148.8,235.5h1.0v1.0h-1.0zM143.0,230.0h1.0v1.0h-1.0zM145.8,231.8h1.0v1.0h-1.0zM149.1,230.3h1.0v1.0h-1.0zM141.5,230.1h1.0v1.0h-1.0zM142.5,233.9h1.0v1.0h-1.0zM146.9,235.3h1.0v1.0h-1.0zM150.8,225.2h1.0v1.0h-1.0zM152.5,228.7h1.0v1.0h-1.0zM147.8,232.7h1.0v1.0h-1.0zM154.1,227.6h1.0v1.0h-1.0zM151.3,229.5h1.0v1.0h-1.0zM143.3,237.2h1.0v1.0h-1.0zM154.5,225.6h1.0v1.0h-1.0zM157.5,217.5h1.0v1.0h-1.0zM151.2,232.3h1.0v1.0h-1.0zM139.8,238.5h1.0v1.0h-1.0zM152.1,223.5h1.0v1.0h-1.0zM150.3,229.4h1.0v1.0h-1.0zM144.3,229.9h1.0v1.0h-1.0zM150.3,235.5h1.0v1.0h-1.0zM147.6,234.6h1.0v1.0h-1.0zM144.2,231.6h1.0v1.0h-1.0zM146.0,234.1h1.0v1.0h-1.0zM151.6,227.6h1.0v1.0h-1.0zM144.4,232.7h1.0v1.0h-1.0zM148.4,229.1h1.0v1.0h-1.0zM142.1,235.3h1.0v1.0h-1.0zM147.0,231.5h1.0v1.0h-1.0zM143.4,235.7h1.0v1.0h-1.0zM145.2,229.5h1.0v1.0h-1.0zM146.4,231.3h1.0v1.0h-1.0zM147.2,230.1h1.0v1.0h-1.0zM148.3,235.5h1.0v1.0h-1.0zM150.0,228.9h1.0v1.0h-1.0zM142.0,238.4h1.0v1.0h-1.0zM145.8,233.8h1.0v1.0h-1.0zM153.6,224.7h1.0v1.0h-1.0zM145.5,233.6h1.0v1.0h-1.0zM153.5,224.5h1.0v1.0h-1.0zM145.3,226.9h1.0v1.0h-1.0zM146.2,232.7h1.0v1.0h-1.0zM146.5,230.3h1.0v1.0h-1.0zM153.4,223.9h1.0v1.0h-1.0zM144.3,231.6h1.0v1.0h-1.0zM141.0,235.3h1.0v1.0h-1.0zM149.3,229.3h1.0v1.0h-1.0zM149.5,227.6h1.0v1.0h-1.0zM150.9,227.8h1.0v1.0h-1.0zM141.0,238.9h1.0v1.0h-1.0zM148.8,229.8h1.0v1.0h-1.0zM147.6,231.4h1.0v1.0h-1.0zM145.1,231.8h1.0v1.0h-1.0zM144.8,233.4h1.0v1.0h-1.0zM150.1,230.4h1.0v1.0h-1.0zM146.6,231.6h1.0v1.0h-1.0zM147.9,232.7h1.0v1.0h-1.0zM155.7,222.6h1.0v1.0h-1.0zM149.0,232.9h1.0v1.0h-1.0zM140.7,235.4h1.0v1.0h-1.0zM143.7,236.2h1.0v1.0h-1.0zM145.2,236.3h1.0v1.0h-1.0zM139.1,237.8h1.0v1.0h-1.0zM152.0,226.9h1.0v1.0h-1.0zM155.5,223.7h1.0v1.0h-1.0zM144.2,234.3h1.0v1.0h-1.0zM152.4,228.9h1.0v1.0h-1.0zM144.5,235.5h1.0v1.0h-1.0zM143.8,234.4h1.0v1.0h-1.0zM147.4,232.4h1.0v1.0h-1.0zM156.8,230.2h1.0v1.0h-1.0zM150.0,223.6h1.0v1.0h-1.0zM149.6,229.5h1.0v1.0h-1.0zM145.9,232.8h1.0v1.0h-1.0zM152.2,226.1h1.0v1.0h-1.0zM151.3,220.7h1.0v1.0h-1.0zM144.0,235.2h1.0v1.0h-1.0zM147.3,229.5h1.0v1.0h-1.0zM148.0,232.9h1.0v1.0h-1.0zM142.6,232.9h1.0v1.0h-1.0zM144.8,239.4h1.0v1.0h-1.0zM143.4,235.3h1.0v1.0h-1.0zM146.7,230.3h1.0v1.0h-1.0zM148.6,230.8h1.0v1.0h-1.0zM145.3,228.7h1.0v1.0h-1.0zM150.8,224.2h1.0v1.0h-1.0zM145.0,235.5h1.0v1.0h-1.0zM141.2,236.8h1.0v1.0h-1.0zM142.1,237.0h1.0v1.0h-1.0zM145.1,226.4h1.0v1.0h-1.0zM142.5,231.9h1.0v1.0h-1.0z" fill="#000"/>
<path d="M149.8,233.0h0.9v0.9h-0.9zM142.6,235.6h0.9v0.9h-0.9zM148.8,234.1h0.9v0.9h-0.9zM144.6,238.8h0.9v0.9h-0.9zM143.8,229.7h0.9v0.9h-0.9zM139.7,234.7h0.9v0.9h-0.9zM142.8,237.8h0.9v0.9h-0.9zM140.6,233.3h0.9v0.9h-0.9zM145.6,237.9h0.9v0.9h-0.9zM142.0,234.2h0.9v0.9h-0.9zM140.6,238.4h0.9v0.9h-0.9zM140.1,233.8h0.9v0.9h-0.9zM141.9,236.6h0.9v0.9h-0.9zM141.5,234.1h0.9v0.9h-0.9zM147.5,234.2h0.9v0.9h-0.9zM146.3,232.5h0.9v0.9h-0.9zM148.3,231.1h0.9v0.9h-0.9zM142.1,238.4h0.9v0.9h-0.9zM142.4,235.4h0.9v0.9h-0.9zM142.3,236.4h0.9v0.9h-0.9zM142.9,237.9h0.9v0.9h-0.9zM145.0,233.9h0.9v0.9h-0.9zM145.0,233.1h0.9v0.9h-0.9zM141.3,233.8h0.9v0.9h-0.9zM144.6,236.1h0.9v0.9h-0.9zM147.3,232.6h0.9v0.9h-0.9zM142.7,235.5h0.9v0.9h-0.9zM145.5,231.2h0.9v0.9h-0.9zM142.5,234.3h0.9v0.9h-0.9zM143.0,232.0h0.9v0.9h-0.9zM152.4,234.8h0.9v0.9h-0.9zM143.0,238.2h0.9v0.9h-0.9zM148.4,239.0h0.9v0.9h-0.9zM144.0,228.2h0.9v0.9h-0.9zM140.9,231.3h0.9v0.9h-0.9zM148.1,232.6h0.9v0.9h-0.9zM150.9,228.4h0.9v0.9h-0.9zM147.0,230.6h0.9v0.9h-0.9zM142.3,234.0h0.9v0.9h-0.9zM140.7,236.7h0.9v0.9h-0.9zM139.3,228.8h0.9v0.9h-0.9zM140.7,236.4h0.9v0.9h-0.9zM145.5,232.9h0.9v0.9h-0.9zM147.5,235.7h0.9v0.9h-0.9zM138.4,239.0h0.9v0.9h-0.9zM142.8,237.3h0.9v0.9h-0.9zM142.0,239.5h0.9v0.9h-0.9zM147.2,235.4h0.9v0.9h-0.9zM145.9,235.5h0.9v0.9h-0.9zM148.7,235.4h0.9v0.9h-0.9zM145.8,237.9h0.9v0.9h-0.9zM145.6,234.3h0.9v0.9h-0.9zM147.0,234.8h0.9v0.9h-0.9zM142.7,234.3h0.9v0.9h-0.9zM148.1,235.0h0.9v0.9h-0.9zM144.2,229.6h0.9v0.9h-0.9zM138.3,237.0h0.9v0.9h-0.9zM143.7,237.5h0.9v0.9h-0.9zM143.5,233.5h0.9v0.9h-0.9zM143.6,234.4h0.9v0.9h-0.9zM147.1,239.2h0.9v0.9h-0.9zM145.2,238.7h0.9v0.9h-0.9zM143.7,238.3h0.9v0.9h-0.9zM149.3,233.0h0.9v0.9h-0.9zM140.8,234.0h0.9v0.9h-0.9zM141.8,237.9h0.9v0.9h-0.9zM141.4,237.2h0.9v0.9h-0.9zM144.7,237.0h0.9v0.9h-0.9zM142.6,233.1h0.9v0.9h-0.9zM148.0,231.0h0.9v0.9h-0.9zM145.8,234.7h0.9v0.9h-0.9zM138.3,237.9h0.9v0.9h-0.9zM144.5,238.4h0.9v0.9h-0.9zM143.5,228.6h0.9v0.9h-0.9zM148.4,233.9h0.9v0.9h-0.9zM144.6,231.5h0.9v0.9h-0.9zM139.1,233.7h0.9v0.9h-0.9zM145.9,232.4h0.9v0.9h-0.9zM150.4,234.4h0.9v0.9h-0.9zM136.4,235.5h0.9v0.9h-0.9zM141.6,236.5h0.9v0.9h-0.9zM143.9,235.3h0.9v0.9h-0.9zM143.5,233.9h0.9v0.9h-0.9zM143.8,233.8h0.9v0.9h-0.9zM142.8,235.7h0.9v0.9h-0.9zM142.0,237.6h0.9v0.9h-0.9zM148.0,237.5h0.9v0.9h-0.9zM143.6,236.5h0.9v0.9h-0.9zM146.7,236.3h0.9v0.9h-0.9zM141.6,230.3h0.9v0.9h-0.9zM147.5,234.7h0.9v0.9h-0.9zM148.2,235.3h0.9v0.9h-0.9zM145.0,232.7h0.9v0.9h-0.9zM148.7,232.2h0.9v0.9h-0.9zM138.5,237.4h0.9v0.9h-0.9zM141.9,232.0h0.9v0.9h-0.9zM143.2,233.6h0.9v0.9h-0.9zM141.7,234.4h0.9v0.9h-0.9zM145.5,237.5h0.9v0.9h-0.9zM143.6,233.0h0.9v0.9h-0.9zM143.9,237.7h0.9v0.9h-0.9zM151.5,232.2h0.9v0.9h-0.9zM152.0,233.0h0.9v0.9h-0.9zM142.4,236.6h0.9v0.9h-0.9zM147.8,233.9h0.9v0.9h-0.9zM144.8,231.4h0.9v0.9h-0.9zM142.5,232.4h0.9v0.9h-0.9zM146.2,239.4h0.9v0.9h-0.9zM147.4,236.5h0.9v0.9h-0.9zM142.3,232.6h0.9v0.9h-0.9zM140.5,234.7h0.9v0.9h-0.9zM149.7,237.0h0.9v0.9h-0.9zM144.9,235.6h0.9v0.9h-0.9zM149.4,235.2h0.9v0.9h-0.9zM141.1,237.0h0.9v0.9h-0.9zM140.3,233.7h0.9v0.9h-0.9zM140.2,238.2h0.9v0.9h-0.9zM147.0,235.7h0.9v0.9h-0.9zM149.4,236.0h0.9v0.9h-0.9zM144.0,235.2h0.9v0.9h-0.9zM147.4,234.3h0.9v0.9h-0.9zM140.0,235.3h0.9v0.9h-0.9zM145.3,228.9h0.9v0.9h-0.9zM146.0,232.1h0.9v0.9h-0.9zM145.6,233.2h0.9v0.9h-0.9zM140.9,234.1h0.9v0.9h-0.9zM145.6,231.4h0.9v0.9h-0.9zM144.9,233.1h0.9v0.9h-0.9zM153.4,230.9h0.9v0.9h-0.9zM140.6,239.3h0.9v0.9h-0.9zM146.9,234.1h0.9v0.9h-0.9zM146.7,234.4h0.9v0.9h-0.9zM142.8,232.4h0.9v0.9h-0.9zM142.5,235.1h0.9v0.9h-0.9zM141.2,236.6h0.9v0.9h-0.9zM150.1,233.0h0.9v0.9h-0.9zM147.7,233.2h0.9v0.9h-0.9zM145.7,235.8h0.9v0.9h-0.9zM142.7,231.7h0.9v0.9h-0.9zM151.8,234.7h0.9v0.9h-0.9zM139.4,236.5h0.9v0.9h-0.9zM138.3,236.1h0.9v0.9h-0.9zM143.4,235.8h0.9v0.9h-0.9zM141.0,238.6h0.9v0.9h-0.9zM145.9,232.7h0.9v0.9h-0.9zM148.6,236.9h0.9v0.9h-0.9zM144.8,232.3h0.9v0.9h-0.9zM142.0,234.9h0.9v0.9h-0.9zM139.3,233.8h0.9v0.9h-0.9zM147.4,237.3h0.9v0.9h-0.9zM136.6,239.8h0.9v0.9h-0.9zM138.2,238.4h0.9v0.9h-0.9zM137.0,233.8h0.9v0.9h-0.9zM137.7,237.0h0.9v0.9h-0.9zM142.6,234.1h0.9v0.9h-0.9zM140.8,239.2h0.9v0.9h-0.9zM147.3,235.8h0.9v0.9h-0.9zM145.3,238.2h0.9v0.9h-0.9zM137.1,237.9h0.9v0.9h-0.9zM152.0,234.2h0.9v0.9h-0.9zM145.7,236.1h0.9v0.9h-0.9zM146.4,236.3h0.9v0.9h-0.9zM144.5,239.7h0.9v0.9h-0.9zM141.6,239.3h0.9v0.9h-0.9zM147.8,232.4h0.9v0.9h-0.9zM139.5,233.3h0.9v0.9h-0.9zM144.0,236.1h0.9v0.9h-0.9zM142.2,239.4h0.9v0.9h-0.9zM142.2,237.3h0.9v0.9h-0.9zM142.0,237.1h0.9v0.9h-0.9zM141.3,236.0h0.9v0.9h-0.9zM150.4,234.3h0.9v0.9h-0.9zM140.3,231.5h0.9v0.9h-0.9zM144.4,230.6h0.9v0.9h-0.9zM138.2,234.7h0.9v0.9h-0.9zM140.5,235.5h0.9v0.9h-0.9zM140.6,236.0h0.9v0.9h-0.9zM145.5,237.9h0.9v0.9h-0.9zM137.6,237.4h0.9v0.9h-0.9zM140.0,238.7h0.9v0.9h-0.9zM145.9,236.7h0.9v0.9h-0.9zM138.1,234.1h0.9v0.9h-0.9zM145.4,237.0h0.9v0.9h-0.9zM147.3,232.8h0.9v0.9h-0.9zM148.1,232.1h0.9v0.9h-0.9zM147.0,234.2h0.9v0.9h-0.9zM144.2,238.4h0.9v0.9h-0.9zM148.0,233.1h0.9v0.9h-0.9zM144.6,238.7h0.9v0.9h-0.9zM143.3,237.3h0.9v0.9h-0.9zM148.2,235.2h0.9v0.9h-0.9zM145.8,236.0h0.9v0.9h-0.9zM143.5,232.4h0.9v0.9h-0.9zM138.2,234.4h0.9v0.9h-0.9zM142.9,232.9h0.9v0.9h-0.9zM143.1,231.8h0.9v0.9h-0.9zM147.3,236.6h0.9v0.9h-0.9zM150.1,229.5h0.9v0.9h-0.9zM148.5,236.5h0.9v0.9h-0.9zM140.1,236.5h0.9v0.9h-0.9zM146.5,231.7h0.9v0.9h-0.9zM140.6,232.8h0.9v0.9h-0.9zM148.9,231.7h0.9v0.9h-0.9zM137.5,234.5h0.9v0.9h-0.9zM142.0,238.9h0.9v0.9h-0.9zM138.5,233.0h0.9v0.9h-0.9zM152.3,225.8h0.9v0.9h-0.9zM143.6,238.3h0.9v0.9h-0.9zM147.3,238.9h0.9v0.9h-0.9zM145.9,233.6h0.9v0.9h-0.9zM145.1,229.4h0.9v0.9h-0.9zM141.8,238.7h0.9v0.9h-0.9zM148.9,229.6h0.9v0.9h-0.9zM145.7,236.8h0.9v0.9h-0.9zM142.1,238.9h0.9v0.9h-0.9zM146.5,235.9h0.9v0.9h-0.9zM143.6,235.3h0.9v0.9h-0.9zM143.4,237.8h0.9v0.9h-0.9zM143.7,234.6h0.9v0.9h-0.9zM150.0,228.6h0.9v0.9h-0.9zM147.1,230.6h0.9v0.9h-0.9zM141.8,236.3h0.9v0.9h-0.9zM140.4,236.0h0.9v0.9h-0.9zM146.9,233.1h0.9v0.9h-0.9zM137.7,234.9h0.9v0.9h-0.9zM137.2,239.3h0.9v0.9h-0.9zM141.9,239.4h0.9v0.9h-0.9zM138.2,237.2h0.9v0.9h-0.9zM137.2,237.1h0.9v0.9h-0.9zM140.2,236.5h0.9v0.9h-0.9zM144.6,234.6h0.9v0.9h-0.9zM143.0,238.2h0.9v0.9h-0.9zM139.5,236.6h0.9v0.9h-0.9zM144.7,231.7h0.9v0.9h-0.9zM140.5,238.6h0.9v0.9h-0.9zM140.0,238.4h0.9v0.9h-0.9zM146.3,236.3h0.9v0.9h-0.9zM139.8,237.0h0.9v0.9h-0.9zM139.5,236.6h0.9v0.9h-0.9zM144.8,235.6h0.9v0.9h-0.9zM141.8,234.3h0.9v0.9h-0.9zM140.1,235.0h0.9v0.9h-0.9zM142.9,237.4h0.9v0.9h-0.9zM146.1,232.0h0.9v0.9h-0.9zM142.1,231.7h0.9v0.9h-0.9zM143.1,239.4h0.9v0.9h-0.9zM141.9,236.2h0.9v0.9h-0.9zM144.2,226.4h0.9v0.9h-0.9zM141.4,234.4h0.9v0.9h-0.9zM146.6,237.0h0.9v0.9h-0.9zM144.5,234.8h0.9v0.9h-0.9zM140.7,235.3h0.9v0.9h-0.9zM144.5,235.6h0.9v0.9h-0.9zM139.4,236.5h0.9v0.9h-0.9zM142.1,235.4h0.9v0.9h-0.9zM147.9,233.4h0.9v0.9h-0.9zM141.3,233.8h0.9v0.9h-0.9zM151.8,235.7h0.9v0.9h-0.9zM139.2,229.0h0.9v0.9h-0.9zM142.2,230.6h0.9v0.9h-0.9zM145.7,237.2h0.9v0.9h-0.9zM141.6,238.5h0.9v0.9h-0.9zM150.5,237.1h0.9v0.9h-0.9zM149.2,233.4h0.9v0.9h-0.9zM146.8,237.3h0.9v0.9h-0.9zM145.0,237.0h0.9v0.9h-0.9zM142.5,235.7h0.9v0.9h-0.9zM141.7,230.1h0.9v0.9h-0.9zM146.4,232.1h0.9v0.9h-0.9zM147.3,234.2h0.9v0.9h-0.9zM145.0,235.4h0.9v0.9h-0.9zM142.0,233.3h0.9v0.9h-0.9zM145.9,237.3h0.9v0.9h-0.9zM142.4,235.0h0.9v0.9h-0.9zM138.5,236.0h0.9v0.9h-0.9zM150.0,230.5h0.9v0.9h-0.9zM141.0,237.5h0.9v0.9h-0.9zM138.5,235.3h0.9v0.9h-0.9zM146.2,229.7h0.9v0.9h-0.9zM145.5,234.6h0.9v0.9h-0.9zM148.7,238.2h0.9v0.9h-0.9zM137.3,231.2h0.9v0.9h-0.9zM139.0,230.0h0.9v0.9h-0.9zM144.7,231.9h0.9v0.9h-0.9zM151.3,227.4h0.9v0.9h-0.9zM146.8,236.0h0.9v0.9h-0.9zM140.9,231.4h0.9v0.9h-0.9zM146.2,234.4h0.9v0.9h-0.9zM144.4,236.2h0.9v0.9h-0.9zM143.0,239.6h0.9v0.9h-0.9zM137.0,238.7h0.9v0.9h-0.9zM143.6,232.4h0.9v0.9h-0.9zM138.7,238.8h0.9v0.9h-0.9zM146.3,231.3h0.9v0.9h-0.9zM141.0,235.8h0.9v0.9h-0.9zM141.2,235.7h0.9v0.9h-0.9zM139.8,237.8h0.9v0.9h-0.9zM141.2,236.9h0.9v0.9h-0.9zM145.6,236.3h0.9v0.9h-0.9zM141.5,236.4h0.9v0.9h-0.9zM143.5,236.7h0.9v0.9h-0.9zM139.0,233.8h0.9v0.9h-0.9zM145.2,234.7h0.9v0.9h-0.9zM144.8,234.9h0.9v0.9h-0.9zM143.7,233.1h0.9v0.9h-0.9zM139.3,237.2h0.9v0.9h-0.9zM139.5,235.9h0.9v0.9h-0.9zM145.4,233.7h0.9v0.9h-0.9zM146.9,230.4h0.9v0.9h-0.9zM140.7,234.4h0.9v0.9h-0.9zM141.9,238.0h0.9v0.9h-0.9zM144.3,235.7h0.9v0.9h-0.9zM141.1,234.6h0.9v0.9h-0.9zM140.9,235.0h0.9v0.9h-0.9zM145.1,235.4h0.9v0.9h-0.9zM143.0,231.6h0.9v0.9h-0.9zM148.6,231.9h0.9v0.9h-0.9zM138.3,237.9h0.9v0.9h-0.9zM146.5,234.1h0.9v0.9h-0.9zM140.7,230.9h0.9v0.9h-0.9zM141.3,239.6h0.9v0.9h-0.9zM144.9,232.2h0.9v0.9h-0.9zM149.3,234.5h0.9v0.9h-0.9zM143.7,232.4h0.9v0.9h-0.9zM145.9,239.3h0.9v0.9h-0.9zM143.5,234.5h0.9v0.9h-0.9zM137.8,239.4h0.9v0.9h-0.9zM147.3,236.5h0.9v0.9h-0.9zM148.9,234.9h0.9v0.9h-0.9zM143.1,233.6h0.9v0.9h-0.9zM141.7,237.9h0.9v0.9h-0.9zM141.3,235.3h0.9v0.9h-0.9zM142.7,232.8h0.9v0.9h-0.9zM141.5,234.7h0.9v0.9h-0.9zM136.4,234.7h0.9v0.9h-0.9zM142.0,233.8h0.9v0.9h-0.9zM148.5,230.3h0.9v0.9h-0.9zM149.8,235.1h0.9v0.9h-0.9zM143.5,237.3h0.9v0.9h-0.9zM142.1,235.4h0.9v0.9h-0.9zM149.7,237.3h0.9v0.9h-0.9zM142.5,230.3h0.9v0.9h-0.9zM147.4,232.5h0.9v0.9h-0.9zM146.6,236.7h0.9v0.9h-0.9zM139.7,233.7h0.9v0.9h-0.9zM146.1,235.2h0.9v0.9h-0.9zM148.3,230.6h0.9v0.9h-0.9zM147.4,238.6h0.9v0.9h-0.9zM151.4,232.3h0.9v0.9h-0.9zM141.8,239.1h0.9v0.9h-0.9zM139.7,233.0h0.9v0.9h-0.9zM143.6,234.4h0.9v0.9h-0.9zM146.3,239.6h0.9v0.9h-0.9zM147.8,235.1h0.9v0.9h-0.9zM143.1,233.2h0.9v0.9h-0.9zM145.1,233.4h0.9v0.9h-0.9zM144.7,227.7h0.9v0.9h-0.9zM140.0,238.9h0.9v0.9h-0.9zM140.7,234.1h0.9v0.9h-0.9zM146.8,227.2h0.9v0.9h-0.9zM140.5,234.2h0.9v0.9h-0.9zM137.9,234.2h0.9v0.9h-0.9zM143.3,233.9h0.9v0.9h-0.9z" fill="#111"/>
<path d="M147.6,228.2h0.8v0.8h-0.8zM147.9,235.1h0.8v0.8h-0.8zM160.8,225.2h0.8v0.8h-0.8zM153.5,222.8h0.8v0.8h-0.8zM154.9,223.5h0.8v0.8h-0.8zM154.9,226.2h0.8v0.8h-0.8zM153.6,220.9h0.8v0.8h-0.8zM149.6,221.6h0.8v0.8h-0.8zM151.2,228.8h0.8v0.8h-0.8zM156.4,222.4h0.8v0.8h-0.8zM147.7,221.7h0.8v0.8h-0.8zM148.2,229.5h0.8v0.8h-0.8zM151.4,224.0h0.8v0.8h-0.8zM140.3,235.3h0.8v0.8h-0.8zM151.6,226.2h0.8v0.8h-0.8zM144.4,227.2h0.8v0.8h-0.8zM140.6,231.5h0.8v0.8h-0.8zM156.5,226.6h0.8v0.8h-0.8zM161.7,218.1h0.8v0.8h-0.8zM156.6,220.3h0.8v0.8h-0.8zM154.0,224.0h0.8v0.8h-0.8zM147.9,231.4h0.8v0.8h-0.8zM144.3,234.1h0.8v0.8h-0.8zM154.7,233.6h0.8v0.8h-0.8zM146.3,229.1h0.8v0.8h-0.8zM153.4,227.0h0.8v0.8h-0.8zM156.4,215.6h0.8v0.8h-0.8zM156.3,224.0h0.8v0.8h-0.8zM156.7,228.8h0.8v0.8h-0.8zM152.6,224.8h0.8v0.8h-0.8zM141.9,233.0h0.8v0.8h-0.8zM150.6,219.7h0.8v0.8h-0.8zM154.4,228.3h0.8v0.8h-0.8zM145.9,229.1h0.8v0.8h-0.8zM151.1,227.7h0.8v0.8h-0.8zM151.6,229.4h0.8v0.8h-0.8zM151.7,221.8h0.8v0.8h-0.8zM148.8,229.5h0.8v0.8h-0.8zM159.4,224.0h0.8v0.8h-0.8zM149.3,224.8h0.8v0.8h-0.8zM148.0,228.7h0.8v0.8h-0.8zM157.7,219.8h0.8v0.8h-0.8zM146.5,224.2h0.8v0.8h-0.8zM150.0,225.9h0.8v0.8h-0.8zM148.1,234.1h0.8v0.8h-0.8zM161.3,225.2h0.8v0.8h-0.8zM148.7,225.0h0.8v0.8h-0.8zM153.8,224.2h0.8v0.8h-0.8zM150.5,229.1h0.8v0.8h-0.8zM151.7,224.8h0.8v0.8h-0.8zM143.6,232.1h0.8v0.8h-0.8zM148.4,228.7h0.8v0.8h-0.8zM144.0,232.4h0.8v0.8h-0.8zM147.6,226.7h0.8v0.8h-0.8zM154.0,222.6h0.8v0.8h-0.8zM148.3,229.2h0.8v0.8h-0.8zM145.4,222.4h0.8v0.8h-0.8zM152.2,226.2h0.8v0.8h-0.8zM158.5,218.0h0.8v0.8h-0.8zM155.0,222.9h0.8v0.8h-0.8zM138.7,230.9h0.8v0.8h-0.8zM161.9,224.3h0.8v0.8h-0.8zM143.0,235.5h0.8v0.8h-0.8zM140.2,231.0h0.8v0.8h-0.8zM154.5,228.2h0.8v0.8h-0.8zM159.8,220.4h0.8v0.8h-0.8zM145.9,229.8h0.8v0.8h-0.8zM148.1,235.8h0.8v0.8h-0.8zM150.7,229.8h0.8v0.8h-0.8zM149.4,224.0h0.8v0.8h-0.8zM155.8,218.7h0.8v0.8h-0.8zM152.3,227.5h0.8v0.8h-0.8zM152.9,232.5h0.8v0.8h-0.8zM147.9,228.2h0.8v0.8h-0.8zM154.8,229.4h0.8v0.8h-0.8zM153.6,225.0h0.8v0.8h-0.8zM144.5,230.5h0.8v0.8h-0.8zM153.1,230.9h0.8v0.8h-0.8zM152.4,221.4h0.8v0.8h-0.8zM161.0,215.4h0.8v0.8h-0.8zM148.3,220.1h0.8v0.8h-0.8zM139.6,237.7h0.8v0.8h-0.8zM150.0,231.8h0.8v0.8h-0.8zM149.9,222.3h0.8v0.8h-0.8zM145.7,225.5h0.8v0.8h-0.8zM160.1,224.5h0.8v0.8h-0.8zM151.1,229.8h0.8v0.8h-0.8zM151.7,222.8h0.8v0.8h-0.8zM153.0,224.5h0.8v0.8h-0.8zM153.2,233.6h0.8v0.8h-0.8zM145.7,227.2h0.8v0.8h-0.8zM151.5,231.0h0.8v0.8h-0.8zM147.0,233.8h0.8v0.8h-0.8zM151.9,227.7h0.8v0.8h-0.8zM147.4,230.4h0.8v0.8h-0.8zM152.7,228.8h0.8v0.8h-0.8zM143.7,230.6h0.8v0.8h-0.8zM158.7,219.1h0.8v0.8h-0.8zM156.5,227.4h0.8v0.8h-0.8zM157.1,219.7h0.8v0.8h-0.8zM148.2,230.7h0.8v0.8h-0.8zM151.2,230.9h0.8v0.8h-0.8zM149.4,221.1h0.8v0.8h-0.8zM147.7,220.8h0.8v0.8h-0.8zM155.6,228.5h0.8v0.8h-0.8zM155.5,223.7h0.8v0.8h-0.8zM154.4,225.6h0.8v0.8h-0.8zM155.3,220.3h0.8v0.8h-0.8zM148.6,229.9h0.8v0.8h-0.8zM157.5,223.7h0.8v0.8h-0.8zM151.2,224.2h0.8v0.8h-0.8zM147.7,226.4h0.8v0.8h-0.8zM145.1,226.3h0.8v0.8h-0.8zM145.2,221.9h0.8v0.8h-0.8zM149.5,226.7h0.8v0.8h-0.8zM151.7,224.1h0.8v0.8h-0.8zM151.8,237.6h0.8v0.8h-0.8zM146.6,228.8h0.8v0.8h-0.8zM150.0,222.7h0.8v0.8h-0.8zM152.8,233.8h0.8v0.8h-0.8zM147.2,227.6h0.8v0.8h-0.8zM152.6,223.7h0.8v0.8h-0.8zM154.2,228.2h0.8v0.8h-0.8zM150.6,232.1h0.8v0.8h-0.8zM149.6,233.3h0.8v0.8h-0.8zM155.0,225.8h0.8v0.8h-0.8zM152.4,221.2h0.8v0.8h-0.8zM152.4,222.6h0.8v0.8h-0.8zM152.3,223.5h0.8v0.8h-0.8zM151.1,229.9h0.8v0.8h-0.8zM146.5,230.7h0.8v0.8h-0.8zM153.2,229.9h0.8v0.8h-0.8zM150.8,228.5h0.8v0.8h-0.8zM148.8,231.1h0.8v0.8h-0.8zM147.0,221.2h0.8v0.8h-0.8zM165.0,213.0h0.8v0.8h-0.8zM146.2,227.5h0.8v0.8h-0.8zM151.4,230.9h0.8v0.8h-0.8zM154.0,223.3h0.8v0.8h-0.8zM149.3,232.5h0.8v0.8h-0.8zM150.6,230.8h0.8v0.8h-0.8zM147.7,228.3h0.8v0.8h-0.8zM149.1,226.1h0.8v0.8h-0.8zM157.4,225.5h0.8v0.8h-0.8zM156.6,227.5h0.8v0.8h-0.8zM142.4,232.8h0.8v0.8h-0.8zM145.8,225.4h0.8v0.8h-0.8zM148.3,234.2h0.8v0.8h-0.8zM149.1,222.6h0.8v0.8h-0.8z" fill="#444"/>
<path d="M165.9,212.6h0.7v0.7h-0.7zM155.6,221.1h0.7v0.7h-0.7zM169.9,206.4h0.7v0.7h-0.7zM167.6,210.4h0.7v0.7h-0.7zM163.8,213.8h0.7v0.7h-0.7zM160.4,218.1h0.7v0.7h-0.7zM155.0,226.8h0.7v0.7h-0.7zM164.4,211.6h0.7v0.7h-0.7zM167.7,208.0h0.7v0.7h-0.7zM167.8,212.0h0.7v0.7h-0.7zM160.3,218.6h0.7v0.7h-0.7zM168.4,208.1h0.7v0.7h-0.7zM167.6,210.8h0.7v0.7h-0.7zM159.7,220.5h0.7v0.7h-0.7zM157.8,219.8h0.7v0.7h-0.7zM162.3,217.5h0.7v0.7h-0.7zM171.0,206.1h0.7v0.7h-0.7zM164.2,216.2h0.7v0.7h-0.7zM171.7,202.0h0.7v0.7h-0.7zM172.8,207.4h0.7v0.7h-0.7zM158.4,220.1h0.7v0.7h-0.7zM165.7,214.2h0.7v0.7h-0.7zM179.8,195.6h0.7v0.7h-0.7zM166.2,212.5h0.7v0.7h-0.7zM169.9,209.4h0.7v0.7h-0.7zM167.5,210.4h0.7v0.7h-0.7zM164.3,213.1h0.7v0.7h-0.7zM162.1,215.1h0.7v0.7h-0.7zM166.5,210.2h0.7v0.7h-0.7zM168.4,210.6h0.7v0.7h-0.7zM167.7,208.5h0.7v0.7h-0.7zM170.2,208.5h0.7v0.7h-0.7zM161.1,217.5h0.7v0.7h-0.7zM161.6,216.4h0.7v0.7h-0.7zM168.6,207.9h0.7v0.7h-0.7zM166.2,211.0h0.7v0.7h-0.7zM155.8,219.9h0.7v0.7h-0.7zM162.1,217.3h0.7v0.7h-0.7zM175.8,200.3h0.7v0.7h-0.7zM165.3,214.8h0.7v0.7h-0.7zM164.0,212.9h0.7v0.7h-0.7zM166.7,209.8h0.7v0.7h-0.7zM167.9,209.8h0.7v0.7h-0.7zM159.4,218.6h0.7v0.7h-0.7zM161.8,214.7h0.7v0.7h-0.7zM170.9,203.1h0.7v0.7h-0.7zM160.8,216.3h0.7v0.7h-0.7zM165.5,211.4h0.7v0.7h-0.7zM172.6,205.7h0.7v0.7h-0.7zM165.9,213.2h0.7v0.7h-0.7zM164.6,211.8h0.7v0.7h-0.7zM162.5,217.1h0.7v0.7h-0.7zM161.6,215.1h0.7v0.7h-0.7zM170.2,206.2h0.7v0.7h-0.7zM168.0,209.0h0.7v0.7h-0.7zM166.2,210.2h0.7v0.7h-0.7zM164.2,215.1h0.7v0.7h-0.7zM174.2,205.4h0.7v0.7h-0.7zM172.7,202.8h0.7v0.7h-0.7zM166.8,211.7h0.7v0.7h-0.7zM162.1,216.2h0.7v0.7h-0.7zM161.4,217.8h0.7v0.7h-0.7zM175.2,200.7h0.7v0.7h-0.7zM178.1,200.6h0.7v0.7h-0.7zM163.5,215.8h0.7v0.7h-0.7zM167.1,211.6h0.7v0.7h-0.7zM158.6,223.5h0.7v0.7h-0.7zM161.6,215.6h0.7v0.7h-0.7zM174.1,202.9h0.7v0.7h-0.7zM169.8,208.9h0.7v0.7h-0.7zM170.3,208.9h0.7v0.7h-0.7zM164.4,213.9h0.7v0.7h-0.7zM161.8,217.8h0.7v0.7h-0.7zM165.6,214.9h0.7v0.7h-0.7zM170.5,206.6h0.7v0.7h-0.7zM167.3,210.2h0.7v0.7h-0.7zM168.7,209.1h0.7v0.7h-0.7zM166.6,207.2h0.7v0.7h-0.7zM163.0,216.3h0.7v0.7h-0.7zM166.7,212.1h0.7v0.7h-0.7zM163.4,218.2h0.7v0.7h-0.7zM159.9,216.4h0.7v0.7h-0.7zM168.1,210.1h0.7v0.7h-0.7zM160.3,219.0h0.7v0.7h-0.7zM172.9,205.5h0.7v0.7h-0.7zM165.7,210.3h0.7v0.7h-0.7zM157.3,216.6h0.7v0.7h-0.7zM163.2,215.1h0.7v0.7h-0.7zM161.1,217.8h0.7v0.7h-0.7zM170.1,207.9h0.7v0.7h-0.7zM167.6,209.0h0.7v0.7h-0.7zM165.3,211.4h0.7v0.7h-0.7zM172.9,204.1h0.7v0.7h-0.7zM165.2,211.3h0.7v0.7h-0.7zM163.9,212.8h0.7v0.7h-0.7zM161.9,217.0h0.7v0.7h-0.7zM160.9,218.5h0.7v0.7h-0.7zM166.5,209.6h0.7v0.7h-0.7zM167.8,206.9h0.7v0.7h-0.7zM164.5,211.9h0.7v0.7h-0.7zM167.5,211.4h0.7v0.7h-0.7zM165.7,211.7h0.7v0.7h-0.7zM173.8,204.5h0.7v0.7h-0.7zM167.2,211.7h0.7v0.7h-0.7zM171.8,207.5h0.7v0.7h-0.7zM164.6,212.9h0.7v0.7h-0.7zM162.1,216.5h0.7v0.7h-0.7zM159.6,220.5h0.7v0.7h-0.7zM160.5,217.3h0.7v0.7h-0.7zM166.7,209.6h0.7v0.7h-0.7zM162.1,218.1h0.7v0.7h-0.7zM171.6,208.2h0.7v0.7h-0.7zM163.2,213.7h0.7v0.7h-0.7zM157.9,221.9h0.7v0.7h-0.7zM166.7,211.9h0.7v0.7h-0.7zM163.6,215.0h0.7v0.7h-0.7zM173.5,203.0h0.7v0.7h-0.7zM167.9,208.5h0.7v0.7h-0.7zM160.1,216.5h0.7v0.7h-0.7zM166.7,212.8h0.7v0.7h-0.7zM159.3,219.4h0.7v0.7h-0.7zM159.2,220.4h0.7v0.7h-0.7zM163.7,211.5h0.7v0.7h-0.7zM168.6,210.6h0.7v0.7h-0.7zM164.1,215.6h0.7v0.7h-0.7zM170.8,207.1h0.7v0.7h-0.7zM159.2,222.9h0.7v0.7h-0.7zM168.1,209.9h0.7v0.7h-0.7zM166.7,211.4h0.7v0.7h-0.7zM158.2,219.1h0.7v0.7h-0.7zM166.9,209.9h0.7v0.7h-0.7zM164.5,214.4h0.7v0.7h-0.7zM171.0,207.0h0.7v0.7h-0.7zM159.6,221.0h0.7v0.7h-0.7zM168.0,208.8h0.7v0.7h-0.7zM164.6,214.3h0.7v0.7h-0.7zM171.4,204.4h0.7v0.7h-0.7zM176.6,199.9h0.7v0.7h-0.7zM163.3,213.9h0.7v0.7h-0.7zM162.5,212.2h0.7v0.7h-0.7zM165.7,213.6h0.7v0.7h-0.7zM164.4,212.2h0.7v0.7h-0.7zM169.2,207.0h0.7v0.7h-0.7zM163.2,215.3h0.7v0.7h-0.7zM161.2,215.3h0.7v0.7h-0.7zM164.4,212.1h0.7v0.7h-0.7zM163.3,210.7h0.7v0.7h-0.7zM171.7,205.5h0.7v0.7h-0.7zM163.6,215.6h0.7v0.7h-0.7zM162.4,215.1h0.7v0.7h-0.7zM168.9,210.5h0.7v0.7h-0.7zM168.9,211.1h0.7v0.7h-0.7zM161.5,218.0h0.7v0.7h-0.7zM163.6,214.1h0.7v0.7h-0.7zM160.0,219.7h0.7v0.7h-0.7zM169.3,209.4h0.7v0.7h-0.7zM161.9,216.7h0.7v0.7h-0.7zM163.3,216.7h0.7v0.7h-0.7zM163.9,214.9h0.7v0.7h-0.7zM160.4,216.2h0.7v0.7h-0.7zM165.4,212.2h0.7v0.7h-0.7zM169.3,208.4h0.7v0.7h-0.7zM165.6,210.4h0.7v0.7h-0.7zM173.4,201.3h0.7v0.7h-0.7zM166.0,212.0h0.7v0.7h-0.7zM158.4,221.2h0.7v0.7h-0.7zM164.3,212.1h0.7v0.7h-0.7zM163.1,216.0h0.7v0.7h-0.7zM168.6,207.4h0.7v0.7h-0.7zM163.4,212.8h0.7v0.7h-0.7z" fill="#a0a0a0"/>
<path d="M157.2,236.8h0.7v0.7h-0.7zM159.3,230.9h0.7v0.7h-0.7zM174.5,234.5h0.7v0.7h-0.7zM180.5,228.4h0.7v0.7h-0.7zM171.5,239.3h0.7v0.7h-0.7zM176.4,233.9h0.7v0.7h-0.7zM170.7,235.1h0.7v0.7h-0.7zM169.2,226.4h0.7v0.7h-0.7zM174.7,235.4h0.7v0.7h-0.7zM162.0,231.0h0.7v0.7h-0.7zM164.2,235.4h0.7v0.7h-0.7zM176.2,231.9h0.7v0.7h-0.7zM167.3,237.6h0.7v0.7h-0.7zM162.0,239.1h0.7v0.7h-0.7zM175.5,231.8h0.7v0.7h-0.7zM166.3,231.3h0.7v0.7h-0.7zM162.2,238.8h0.7v0.7h-0.7zM175.7,228.0h0.7v0.7h-0.7zM166.8,225.9h0.7v0.7h-0.7zM174.5,238.3h0.7v0.7h-0.7zM168.7,231.6h0.7v0.7h-0.7zM166.9,231.8h0.7v0.7h-0.7zM178.5,234.2h0.7v0.7h-0.7zM163.7,224.6h0.7v0.7h-0.7zM173.9,235.9h0.7v0.7h-0.7zM171.1,238.7h0.7v0.7h-0.7zM170.3,238.8h0.7v0.7h-0.7zM165.4,236.6h0.7v0.7h-0.7zM162.5,226.7h0.7v0.7h-0.7zM163.0,227.4h0.7v0.7h-0.7zM176.4,237.6h0.7v0.7h-0.7zM175.6,231.6h0.7v0.7h-0.7zM180.6,229.3h0.7v0.7h-0.7zM165.1,236.4h0.7v0.7h-0.7zM166.1,239.6h0.7v0.7h-0.7zM163.3,231.3h0.7v0.7h-0.7zM159.9,231.2h0.7v0.7h-0.7zM158.8,234.7h0.7v0.7h-0.7zM160.3,239.2h0.7v0.7h-0.7zM175.1,232.0h0.7v0.7h-0.7zM174.9,235.7h0.7v0.7h-0.7zM178.9,234.8h0.7v0.7h-0.7zM171.6,236.9h0.7v0.7h-0.7zM168.2,232.8h0.7v0.7h-0.7zM163.8,234.3h0.7v0.7h-0.7zM174.3,236.3h0.7v0.7h-0.7zM169.3,239.6h0.7v0.7h-0.7zM161.3,234.0h0.7v0.7h-0.7zM170.7,225.3h0.7v0.7h-0.7zM173.6,227.4h0.7v0.7h-0.7zM179.8,226.4h0.7v0.7h-0.7zM165.6,238.1h0.7v0.7h-0.7zM171.3,238.7h0.7v0.7h-0.7zM175.7,228.6h0.7v0.7h-0.7zM176.4,226.5h0.7v0.7h-0.7zM162.7,238.4h0.7v0.7h-0.7zM160.7,233.3h0.7v0.7h-0.7zM158.0,238.7h0.7v0.7h-0.7zM169.5,233.4h0.7v0.7h-0.7zM175.5,234.4h0.7v0.7h-0.7zM161.4,234.7h0.7v0.7h-0.7zM156.9,239.2h0.7v0.7h-0.7zM161.9,230.9h0.7v0.7h-0.7zM164.8,232.8h0.7v0.7h-0.7zM169.7,231.1h0.7v0.7h-0.7zM175.4,235.0h0.7v0.7h-0.7zM180.8,235.8h0.7v0.7h-0.7zM176.1,233.5h0.7v0.7h-0.7zM177.8,233.9h0.7v0.7h-0.7zM161.8,225.2h0.7v0.7h-0.7zM173.9,229.2h0.7v0.7h-0.7zM180.9,226.8h0.7v0.7h-0.7zM171.3,228.3h0.7v0.7h-0.7zM178.2,227.8h0.7v0.7h-0.7zM173.0,228.3h0.7v0.7h-0.7zM169.1,237.4h0.7v0.7h-0.7zM174.0,228.9h0.7v0.7h-0.7zM172.9,237.7h0.7v0.7h-0.7zM162.5,226.4h0.7v0.7h-0.7zM164.9,226.8h0.7v0.7h-0.7zM177.8,235.5h0.7v0.7h-0.7zM162.4,227.2h0.7v0.7h-0.7zM161.4,237.0h0.7v0.7h-0.7zM169.6,225.5h0.7v0.7h-0.7zM176.4,239.0h0.7v0.7h-0.7zM165.5,229.6h0.7v0.7h-0.7zM161.1,234.7h0.7v0.7h-0.7zM180.6,229.7h0.7v0.7h-0.7zM163.8,233.5h0.7v0.7h-0.7zM160.2,236.0h0.7v0.7h-0.7zM169.9,226.4h0.7v0.7h-0.7zM163.4,236.6h0.7v0.7h-0.7zM159.7,232.0h0.7v0.7h-0.7zM173.3,231.3h0.7v0.7h-0.7zM176.0,238.0h0.7v0.7h-0.7zM177.4,238.9h0.7v0.7h-0.7zM164.0,227.1h0.7v0.7h-0.7zM158.7,235.7h0.7v0.7h-0.7zM178.5,239.6h0.7v0.7h-0.7zM175.1,227.5h0.7v0.7h-0.7zM168.4,238.7h0.7v0.7h-0.7zM157.2,237.2h0.7v0.7h-0.7zM162.6,238.5h0.7v0.7h-0.7zM176.7,234.7h0.7v0.7h-0.7zM167.8,226.8h0.7v0.7h-0.7zM168.2,231.6h0.7v0.7h-0.7zM162.7,232.2h0.7v0.7h-0.7zM166.9,224.9h0.7v0.7h-0.7zM163.9,225.4h0.7v0.7h-0.7zM159.6,238.8h0.7v0.7h-0.7zM165.9,227.1h0.7v0.7h-0.7zM165.9,237.2h0.7v0.7h-0.7zM176.5,236.7h0.7v0.7h-0.7zM170.0,231.2h0.7v0.7h-0.7zM170.9,225.1h0.7v0.7h-0.7zM172.8,230.4h0.7v0.7h-0.7zM164.3,233.6h0.7v0.7h-0.7zM167.8,225.7h0.7v0.7h-0.7zM163.9,236.9h0.7v0.7h-0.7zM166.0,234.1h0.7v0.7h-0.7zM166.9,236.1h0.7v0.7h-0.7zM163.6,239.6h0.7v0.7h-0.7zM170.6,230.8h0.7v0.7h-0.7zM175.9,233.9h0.7v0.7h-0.7zM164.7,236.7h0.7v0.7h-0.7zM160.4,238.5h0.7v0.7h-0.7zM178.0,234.5h0.7v0.7h-0.7zM178.4,234.5h0.7v0.7h-0.7zM167.6,229.5h0.7v0.7h-0.7zM175.7,229.8h0.7v0.7h-0.7zM171.1,233.0h0.7v0.7h-0.7zM173.4,237.2h0.7v0.7h-0.7zM171.1,234.5h0.7v0.7h-0.7zM167.6,228.1h0.7v0.7h-0.7zM174.3,227.1h0.7v0.7h-0.7zM180.8,228.0h0.7v0.7h-0.7zM180.5,233.3h0.7v0.7h-0.7zM160.0,237.3h0.7v0.7h-0.7zM161.4,227.2h0.7v0.7h-0.7zM179.5,231.1h0.7v0.7h-0.7zM165.1,229.8h0.7v0.7h-0.7zM170.6,237.1h0.7v0.7h-0.7zM180.1,231.1h0.7v0.7h-0.7zM170.4,229.2h0.7v0.7h-0.7zM164.4,227.0h0.7v0.7h-0.7zM176.4,236.5h0.7v0.7h-0.7zM166.1,232.2h0.7v0.7h-0.7zM159.8,230.1h0.7v0.7h-0.7zM174.3,236.3h0.7v0.7h-0.7zM174.4,238.8h0.7v0.7h-0.7zM166.5,239.1h0.7v0.7h-0.7zM169.1,225.4h0.7v0.7h-0.7zM173.9,237.3h0.7v0.7h-0.7zM176.2,232.7h0.7v0.7h-0.7zM164.3,231.6h0.7v0.7h-0.7zM179.5,235.4h0.7v0.7h-0.7zM178.6,236.4h0.7v0.7h-0.7zM174.3,236.6h0.7v0.7h-0.7zM162.6,232.6h0.7v0.7h-0.7zM165.6,226.4h0.7v0.7h-0.7zM173.5,233.1h0.7v0.7h-0.7zM175.4,236.2h0.7v0.7h-0.7zM169.6,229.9h0.7v0.7h-0.7zM173.8,237.4h0.7v0.7h-0.7zM170.3,239.8h0.7v0.7h-0.7zM164.1,230.9h0.7v0.7h-0.7zM176.8,231.4h0.7v0.7h-0.7zM160.6,231.0h0.7v0.7h-0.7zM178.0,237.9h0.7v0.7h-0.7zM174.9,227.1h0.7v0.7h-0.7zM178.4,231.3h0.7v0.7h-0.7zM173.8,229.7h0.7v0.7h-0.7zM171.4,231.4h0.7v0.7h-0.7zM164.2,228.5h0.7v0.7h-0.7zM159.7,230.6h0.7v0.7h-0.7zM172.6,230.0h0.7v0.7h-0.7zM175.6,231.7h0.7v0.7h-0.7zM162.4,225.3h0.7v0.7h-0.7zM161.9,239.5h0.7v0.7h-0.7zM165.2,225.0h0.7v0.7h-0.7zM172.5,233.5h0.7v0.7h-0.7zM174.4,237.1h0.7v0.7h-0.7zM161.7,233.4h0.7v0.7h-0.7zM159.0,234.6h0.7v0.7h-0.7zM163.4,226.7h0.7v0.7h-0.7zM163.9,233.9h0.7v0.7h-0.7zM180.3,238.9h0.7v0.7h-0.7zM172.0,238.1h0.7v0.7h-0.7zM163.5,231.6h0.7v0.7h-0.7zM177.3,238.2h0.7v0.7h-0.7zM174.2,224.7h0.7v0.7h-0.7zM173.1,237.1h0.7v0.7h-0.7zM172.6,230.9h0.7v0.7h-0.7zM171.9,236.7h0.7v0.7h-0.7zM158.2,238.6h0.7v0.7h-0.7zM167.7,233.9h0.7v0.7h-0.7zM164.9,235.2h0.7v0.7h-0.7zM173.3,236.5h0.7v0.7h-0.7zM180.7,224.6h0.7v0.7h-0.7zM174.8,233.5h0.7v0.7h-0.7zM172.3,232.0h0.7v0.7h-0.7zM176.7,231.7h0.7v0.7h-0.7zM166.8,231.7h0.7v0.7h-0.7zM161.2,233.4h0.7v0.7h-0.7zM161.9,229.8h0.7v0.7h-0.7zM163.4,230.9h0.7v0.7h-0.7zM162.8,236.6h0.7v0.7h-0.7zM174.2,229.6h0.7v0.7h-0.7zM179.2,229.9h0.7v0.7h-0.7zM179.2,239.8h0.7v0.7h-0.7zM169.4,235.8h0.7v0.7h-0.7zM177.2,236.1h0.7v0.7h-0.7zM167.2,231.8h0.7v0.7h-0.7zM170.0,239.0h0.7v0.7h-0.7zM179.5,230.7h0.7v0.7h-0.7zM161.0,231.1h0.7v0.7h-0.7zM158.9,234.2h0.7v0.7h-0.7zM168.4,232.4h0.7v0.7h-0.7zM176.7,236.3h0.7v0.7h-0.7zM167.7,233.3h0.7v0.7h-0.7zM157.7,235.2h0.7v0.7h-0.7zM160.3,237.8h0.7v0.7h-0.7zM168.9,235.0h0.7v0.7h-0.7zM160.3,229.2h0.7v0.7h-0.7zM165.3,232.0h0.7v0.7h-0.7zM180.4,238.1h0.7v0.7h-0.7zM166.3,225.4h0.7v0.7h-0.7zM166.1,236.7h0.7v0.7h-0.7zM163.0,226.0h0.7v0.7h-0.7zM174.7,232.7h0.7v0.7h-0.7zM168.8,229.5h0.7v0.7h-0.7zM180.9,235.5h0.7v0.7h-0.7zM179.6,229.2h0.7v0.7h-0.7zM162.5,225.7h0.7v0.7h-0.7zM180.6,235.0h0.7v0.7h-0.7zM175.2,232.4h0.7v0.7h-0.7zM179.9,230.0h0.7v0.7h-0.7zM160.8,235.1h0.7v0.7h-0.7zM179.9,234.6h0.7v0.7h-0.7zM161.4,234.6h0.7v0.7h-0.7zM178.6,228.8h0.7v0.7h-0.7zM169.2,231.5h0.7v0.7h-0.7zM160.8,226.5h0.7v0.7h-0.7zM174.0,224.6h0.7v0.7h-0.7zM162.8,232.2h0.7v0.7h-0.7zM161.5,236.4h0.7v0.7h-0.7zM171.2,227.9h0.7v0.7h-0.7zM173.8,239.3h0.7v0.7h-0.7zM164.2,225.1h0.7v0.7h-0.7zM164.4,231.4h0.7v0.7h-0.7zM169.7,231.7h0.7v0.7h-0.7zM174.9,239.1h0.7v0.7h-0.7zM175.9,234.7h0.7v0.7h-0.7zM173.7,230.9h0.7v0.7h-0.7zM160.1,235.7h0.7v0.7h-0.7zM167.5,229.4h0.7v0.7h-0.7zM168.1,230.8h0.7v0.7h-0.7zM174.3,226.7h0.7v0.7h-0.7zM171.4,235.2h0.7v0.7h-0.7zM168.1,235.6h0.7v0.7h-0.7zM169.8,227.9h0.7v0.7h-0.7zM166.6,236.8h0.7v0.7h-0.7zM175.7,228.4h0.7v0.7h-0.7zM173.7,230.6h0.7v0.7h-0.7zM160.9,239.6h0.7v0.7h-0.7zM175.3,224.8h0.7v0.7h-0.7zM167.7,229.6h0.7v0.7h-0.7zM163.0,232.6h0.7v0.7h-0.7zM166.6,231.5h0.7v0.7h-0.7zM174.0,224.6h0.7v0.7h-0.7zM173.5,239.0h0.7v0.7h-0.7zM172.5,228.0h0.7v0.7h-0.7zM177.6,229.5h0.7v0.7h-0.7zM173.1,226.5h0.7v0.7h-0.7zM178.2,227.7h0.7v0.7h-0.7zM173.1,238.6h0.7v0.7h-0.7zM168.0,226.6h0.7v0.7h-0.7zM175.5,233.4h0.7v0.7h-0.7zM176.6,239.5h0.7v0.7h-0.7zM161.1,233.4h0.7v0.7h-0.7zM173.9,227.0h0.7v0.7h-0.7zM173.4,228.4h0.7v0.7h-0.7zM178.0,230.3h0.7v0.7h-0.7zM165.8,226.7h0.7v0.7h-0.7zM170.4,238.8h0.7v0.7h-0.7zM159.4,238.8h0.7v0.7h-0.7zM172.6,225.5h0.7v0.7h-0.7zM173.4,228.4h0.7v0.7h-0.7zM167.4,238.6h0.7v0.7h-0.7zM169.1,234.1h0.7v0.7h-0.7zM170.8,227.0h0.7v0.7h-0.7zM173.0,230.6h0.7v0.7h-0.7zM167.4,240.0h0.7v0.7h-0.7zM160.1,235.2h0.7v0.7h-0.7zM173.6,238.2h0.7v0.7h-0.7zM172.5,229.0h0.7v0.7h-0.7zM167.9,235.2h0.7v0.7h-0.7zM160.0,237.0h0.7v0.7h-0.7zM159.1,232.8h0.7v0.7h-0.7zM169.3,224.6h0.7v0.7h-0.7zM160.9,239.2h0.7v0.7h-0.7zM163.8,229.2h0.7v0.7h-0.7zM166.6,228.4h0.7v0.7h-0.7zM176.1,239.9h0.7v0.7h-0.7zM167.0,230.4h0.7v0.7h-0.7zM162.0,227.1h0.7v0.7h-0.7zM161.9,238.4h0.7v0.7h-0.7zM162.4,235.8h0.7v0.7h-0.7zM175.6,239.2h0.7v0.7h-0.7zM179.2,237.1h0.7v0.7h-0.7zM170.7,230.8h0.7v0.7h-0.7zM168.6,228.0h0.7v0.7h-0.7zM161.6,229.7h0.7v0.7h-0.7zM176.7,227.9h0.7v0.7h-0.7zM170.3,234.4h0.7v0.7h-0.7zM170.7,235.1h0.7v0.7h-0.7zM166.2,238.9h0.7v0.7h-0.7zM167.6,228.8h0.7v0.7h-0.7zM164.7,239.1h0.7v0.7h-0.7zM173.6,235.6h0.7v0.7h-0.7zM180.7,236.5h0.7v0.7h-0.7zM171.3,239.2h0.7v0.7h-0.7zM167.3,233.9h0.7v0.7h-0.7zM171.6,235.7h0.7v0.7h-0.7zM173.2,238.6h0.7v0.7h-0.7zM177.1,228.3h0.7v0.7h-0.7zM160.9,229.4h0.7v0.7h-0.7zM176.5,237.3h0.7v0.7h-0.7zM178.3,239.2h0.7v0.7h-0.7zM178.1,233.6h0.7v0.7h-0.7zM173.1,226.1h0.7v0.7h-0.7zM173.5,239.9h0.7v0.7h-0.7zM180.9,229.3h0.7v0.7h-0.7zM177.1,231.6h0.7v0.7h-0.7zM171.5,237.1h0.7v0.7h-0.7zM179.8,224.6h0.7v0.7h-0.7zM178.9,235.7h0.7v0.7h-0.7zM158.3,239.1h0.7v0.7h-0.7zM171.0,233.1h0.7v0.7h-0.7zM167.1,232.4h0.7v0.7h-0.7zM162.9,229.3h0.7v0.7h-0.7zM160.4,231.1h0.7v0.7h-0.7zM167.8,233.6h0.7v0.7h-0.7zM161.7,233.4h0.7v0.7h-0.7zM160.7,230.2h0.7v0.7h-0.7zM174.9,232.5h0.7v0.7h-0.7zM156.9,237.5h0.7v0.7h-0.7zM179.5,230.2h0.7v0.7h-0.7zM162.9,238.2h0.7v0.7h-0.7zM160.3,232.5h0.7v0.7h-0.7zM170.2,232.2h0.7v0.7h-0.7zM175.5,229.1h0.7v0.7h-0.7zM167.7,234.8h0.7v0.7h-0.7zM174.0,229.0h0.7v0.7h-0.7zM179.4,231.0h0.7v0.7h-0.7zM170.2,239.4h0.7v0.7h-0.7zM173.2,233.2h0.7v0.7h-0.7zM168.9,227.3h0.7v0.7h-0.7zM175.8,225.9h0.7v0.7h-0.7zM167.6,233.8h0.7v0.7h-0.7zM175.1,235.4h0.7v0.7h-0.7zM158.3,236.6h0.7v0.7h-0.7zM170.5,228.3h0.7v0.7h-0.7zM172.3,234.6h0.7v0.7h-0.7zM169.2,238.3h0.7v0.7h-0.7zM179.3,237.1h0.7v0.7h-0.7zM160.6,233.7h0.7v0.7h-0.7zM170.3,236.5h0.7v0.7h-0.7zM177.2,226.3h0.7v0.7h-0.7zM164.6,227.0h0.7v0.7h-0.7zM167.4,225.3h0.7v0.7h-0.7zM171.7,237.7h0.7v0.7h-0.7zM173.1,236.2h0.7v0.7h-0.7zM165.5,239.6h0.7v0.7h-0.7zM174.2,228.4h0.7v0.7h-0.7zM165.1,232.9h0.7v0.7h-0.7zM164.0,233.9h0.7v0.7h-0.7zM171.8,233.2h0.7v0.7h-0.7zM160.8,237.9h0.7v0.7h-0.7zM174.3,236.0h0.7v0.7h-0.7zM160.0,234.7h0.7v0.7h-0.7zM172.6,229.5h0.7v0.7h-0.7zM169.2,235.7h0.7v0.7h-0.7zM165.9,237.2h0.7v0.7h-0.7zM179.6,230.6h0.7v0.7h-0.7zM161.5,235.2h0.7v0.7h-0.7zM167.6,232.9h0.7v0.7h-0.7zM161.3,236.7h0.7v0.7h-0.7zM167.6,228.7h0.7v0.7h-0.7zM165.2,224.7h0.7v0.7h-0.7zM164.6,236.5h0.7v0.7h-0.7zM167.5,230.7h0.7v0.7h-0.7zM158.8,239.1h0.7v0.7h-0.7zM160.9,231.9h0.7v0.7h-0.7zM168.9,230.7h0.7v0.7h-0.7zM163.2,227.8h0.7v0.7h-0.7zM180.3,229.8h0.7v0.7h-0.7zM170.1,230.1h0.7v0.7h-0.7zM179.3,229.7h0.7v0.7h-0.7zM172.6,235.3h0.7v0.7h-0.7zM161.3,226.4h0.7v0.7h-0.7zM180.9,238.6h0.7v0.7h-0.7zM169.5,230.3h0.7v0.7h-0.7zM178.4,238.3h0.7v0.7h-0.7zM169.0,239.6h0.7v0.7h-0.7zM180.0,239.6h0.7v0.7h-0.7zM175.6,235.9h0.7v0.7h-0.7zM171.7,236.4h0.7v0.7h-0.7zM170.9,230.5h0.7v0.7h-0.7zM177.1,236.2h0.7v0.7h-0.7zM162.8,226.2h0.7v0.7h-0.7zM163.1,234.1h0.7v0.7h-0.7zM161.0,227.8h0.7v0.7h-0.7zM175.1,230.9h0.7v0.7h-0.7zM179.5,224.9h0.7v0.7h-0.7zM176.4,226.9h0.7v0.7h-0.7zM161.9,231.3h0.7v0.7h-0.7zM167.0,236.3h0.7v0.7h-0.7zM175.0,228.2h0.7v0.7h-0.7zM162.2,225.6h0.7v0.7h-0.7zM166.3,231.5h0.7v0.7h-0.7zM177.3,230.7h0.7v0.7h-0.7zM162.8,232.3h0.7v0.7h-0.7zM174.3,233.1h0.7v0.7h-0.7zM175.1,228.9h0.7v0.7h-0.7zM175.1,228.4h0.7v0.7h-0.7zM157.1,239.6h0.7v0.7h-0.7zM168.3,225.0h0.7v0.7h-0.7zM163.9,234.4h0.7v0.7h-0.7zM162.8,227.5h0.7v0.7h-0.7zM176.3,235.7h0.7v0.7h-0.7zM170.6,230.9h0.7v0.7h-0.7zM161.3,236.7h0.7v0.7h-0.7zM173.9,239.5h0.7v0.7h-0.7zM174.0,230.3h0.7v0.7h-0.7zM179.4,230.9h0.7v0.7h-0.7zM180.6,238.2h0.7v0.7h-0.7zM168.5,236.2h0.7v0.7h-0.7zM178.6,239.5h0.7v0.7h-0.7zM176.4,231.2h0.7v0.7h-0.7zM175.9,237.9h0.7v0.7h-0.7zM159.2,239.6h0.7v0.7h-0.7zM168.6,233.5h0.7v0.7h-0.7zM169.9,226.3h0.7v0.7h-0.7zM176.1,228.6h0.7v0.7h-0.7zM164.4,232.2h0.7v0.7h-0.7zM163.2,231.5h0.7v0.7h-0.7zM161.2,232.2h0.7v0.7h-0.7zM173.1,235.0h0.7v0.7h-0.7zM169.7,228.7h0.7v0.7h-0.7zM176.0,232.1h0.7v0.7h-0.7zM179.8,235.8h0.7v0.7h-0.7zM170.6,233.6h0.7v0.7h-0.7zM179.6,237.3h0.7v0.7h-0.7zM180.3,233.0h0.7v0.7h-0.7zM173.4,234.1h0.7v0.7h-0.7zM176.0,234.3h0.7v0.7h-0.7z" fill="#aaaaaa"/>
<path d="M231.0,227.9h0.9v0.9h-0.9zM228.9,225.6h0.9v0.9h-0.9zM224.5,231.6h0.9v0.9h-0.9zM225.7,230.1h0.9v0.9h-0.9zM228.1,236.2h0.9v0.9h-0.9zM233.4,233.6h0.9v0.9h-0.9zM227.6,227.9h0.9v0.9h-0.9zM227.8,232.8h0.9v0.9h-0.9zM220.1,232.8h0.9v0.9h-0.9zM216.9,237.2h0.9v0.9h-0.9zM228.3,231.9h0.9v0.9h-0.9zM242.8,222.9h0.9v0.9h-0.9zM232.3,235.9h0.9v0.9h-0.9zM232.3,232.2h0.9v0.9h-0.9zM224.8,232.1h0.9v0.9h-0.9zM227.2,230.3h0.9v0.9h-0.9zM218.0,233.4h0.9v0.9h-0.9zM226.7,233.3h0.9v0.9h-0.9zM231.6,235.0h0.9v0.9h-0.9zM219.1,237.6h0.9v0.9h-0.9zM230.1,227.4h0.9v0.9h-0.9zM225.5,232.5h0.9v0.9h-0.9zM227.6,227.5h0.9v0.9h-0.9zM224.3,225.3h0.9v0.9h-0.9zM219.7,238.7h0.9v0.9h-0.9zM230.9,228.0h0.9v0.9h-0.9zM226.0,228.0h0.9v0.9h-0.9zM232.4,233.2h0.9v0.9h-0.9zM239.3,228.8h0.9v0.9h-0.9zM232.9,235.4h0.9v0.9h-0.9zM235.6,228.4h0.9v0.9h-0.9zM224.5,232.4h0.9v0.9h-0.9zM224.3,238.1h0.9v0.9h-0.9zM225.7,230.0h0.9v0.9h-0.9zM226.6,232.4h0.9v0.9h-0.9zM230.4,236.0h0.9v0.9h-0.9zM229.0,227.9h0.9v0.9h-0.9zM231.5,231.1h0.9v0.9h-0.9zM233.0,228.3h0.9v0.9h-0.9zM222.2,231.6h0.9v0.9h-0.9zM227.0,228.7h0.9v0.9h-0.9zM229.9,229.0h0.9v0.9h-0.9zM228.2,232.4h0.9v0.9h-0.9zM230.1,235.9h0.9v0.9h-0.9zM237.8,228.5h0.9v0.9h-0.9zM228.1,229.9h0.9v0.9h-0.9zM219.4,235.0h0.9v0.9h-0.9zM225.1,237.7h0.9v0.9h-0.9zM235.6,227.9h0.9v0.9h-0.9zM231.0,230.5h0.9v0.9h-0.9zM218.9,238.8h0.9v0.9h-0.9zM222.2,237.8h0.9v0.9h-0.9zM228.2,231.9h0.9v0.9h-0.9zM226.9,238.7h0.9v0.9h-0.9zM232.9,238.1h0.9v0.9h-0.9zM219.1,235.3h0.9v0.9h-0.9zM225.8,233.1h0.9v0.9h-0.9zM229.6,235.3h0.9v0.9h-0.9zM230.8,233.0h0.9v0.9h-0.9zM226.3,232.4h0.9v0.9h-0.9zM224.8,231.7h0.9v0.9h-0.9zM225.0,232.5h0.9v0.9h-0.9zM230.8,234.1h0.9v0.9h-0.9zM231.9,234.2h0.9v0.9h-0.9zM221.2,233.8h0.9v0.9h-0.9zM222.9,237.5h0.9v0.9h-0.9zM225.2,230.5h0.9v0.9h-0.9zM224.5,234.0h0.9v0.9h-0.9zM238.7,224.4h0.9v0.9h-0.9zM227.5,229.6h0.9v0.9h-0.9zM225.0,237.4h0.9v0.9h-0.9zM225.4,238.7h0.9v0.9h-0.9zM220.4,232.6h0.9v0.9h-0.9zM223.6,232.9h0.9v0.9h-0.9zM229.8,230.5h0.9v0.9h-0.9zM230.4,228.8h0.9v0.9h-0.9zM232.7,234.3h0.9v0.9h-0.9zM226.6,231.4h0.9v0.9h-0.9zM226.8,233.1h0.9v0.9h-0.9zM229.0,239.5h0.9v0.9h-0.9zM225.0,236.3h0.9v0.9h-0.9zM218.6,237.1h0.9v0.9h-0.9zM228.7,239.2h0.9v0.9h-0.9zM226.6,235.1h0.9v0.9h-0.9zM229.8,233.9h0.9v0.9h-0.9zM228.4,236.9h0.9v0.9h-0.9zM220.7,236.4h0.9v0.9h-0.9zM235.3,230.4h0.9v0.9h-0.9zM236.2,230.1h0.9v0.9h-0.9zM225.5,236.6h0.9v0.9h-0.9zM239.2,226.4h0.9v0.9h-0.9zM237.0,231.2h0.9v0.9h-0.9zM232.1,234.2h0.9v0.9h-0.9zM217.0,238.6h0.9v0.9h-0.9zM236.2,228.8h0.9v0.9h-0.9zM231.5,229.0h0.9v0.9h-0.9zM222.0,234.9h0.9v0.9h-0.9zM234.7,229.8h0.9v0.9h-0.9zM224.5,238.6h0.9v0.9h-0.9zM227.6,234.4h0.9v0.9h-0.9zM231.7,234.2h0.9v0.9h-0.9zM233.1,231.0h0.9v0.9h-0.9zM226.0,236.1h0.9v0.9h-0.9zM230.5,232.3h0.9v0.9h-0.9zM228.8,233.9h0.9v0.9h-0.9zM223.9,231.8h0.9v0.9h-0.9zM229.3,231.7h0.9v0.9h-0.9zM223.7,232.1h0.9v0.9h-0.9zM223.5,231.8h0.9v0.9h-0.9zM216.7,237.4h0.9v0.9h-0.9zM221.2,233.6h0.9v0.9h-0.9zM230.2,231.6h0.9v0.9h-0.9zM218.0,239.7h0.9v0.9h-0.9zM233.4,221.8h0.9v0.9h-0.9zM227.0,233.2h0.9v0.9h-0.9zM227.2,235.9h0.9v0.9h-0.9zM217.4,235.6h0.9v0.9h-0.9zM225.3,238.7h0.9v0.9h-0.9zM235.3,228.4h0.9v0.9h-0.9zM227.6,235.5h0.9v0.9h-0.9zM231.3,231.7h0.9v0.9h-0.9zM236.5,230.2h0.9v0.9h-0.9zM225.2,238.2h0.9v0.9h-0.9zM225.1,232.9h0.9v0.9h-0.9zM234.1,227.6h0.9v0.9h-0.9zM232.2,228.5h0.9v0.9h-0.9zM221.8,235.1h0.9v0.9h-0.9zM228.6,232.8h0.9v0.9h-0.9zM231.5,227.2h0.9v0.9h-0.9zM232.9,234.6h0.9v0.9h-0.9zM226.8,228.2h0.9v0.9h-0.9zM232.4,227.8h0.9v0.9h-0.9zM223.8,238.0h0.9v0.9h-0.9zM227.4,233.6h0.9v0.9h-0.9zM220.5,234.0h0.9v0.9h-0.9zM229.6,235.0h0.9v0.9h-0.9zM224.6,237.2h0.9v0.9h-0.9zM221.5,238.0h0.9v0.9h-0.9zM219.8,235.1h0.9v0.9h-0.9zM232.3,232.0h0.9v0.9h-0.9zM216.3,233.7h0.9v0.9h-0.9zM217.1,236.5h0.9v0.9h-0.9zM219.3,238.5h0.9v0.9h-0.9zM237.3,233.7h0.9v0.9h-0.9zM225.9,233.6h0.9v0.9h-0.9zM221.6,237.0h0.9v0.9h-0.9zM231.7,227.1h0.9v0.9h-0.9zM225.3,238.8h0.9v0.9h-0.9zM231.5,233.2h0.9v0.9h-0.9zM225.3,229.6h0.9v0.9h-0.9zM224.9,232.6h0.9v0.9h-0.9zM226.5,239.1h0.9v0.9h-0.9zM223.6,233.0h0.9v0.9h-0.9zM225.5,238.7h0.9v0.9h-0.9zM222.6,238.2h0.9v0.9h-0.9zM226.8,235.8h0.9v0.9h-0.9zM230.9,230.3h0.9v0.9h-0.9zM229.1,233.0h0.9v0.9h-0.9zM230.4,234.7h0.9v0.9h-0.9zM223.0,225.4h0.9v0.9h-0.9zM221.3,234.2h0.9v0.9h-0.9zM232.7,234.9h0.9v0.9h-0.9zM227.0,228.8h0.9v0.9h-0.9zM235.4,226.9h0.9v0.9h-0.9zM232.3,235.6h0.9v0.9h-0.9zM218.1,235.6h0.9v0.9h-0.9zM227.8,235.9h0.9v0.9h-0.9zM229.8,234.4h0.9v0.9h-0.9zM237.3,234.5h0.9v0.9h-0.9zM228.2,235.6h0.9v0.9h-0.9zM221.9,237.9h0.9v0.9h-0.9zM231.1,232.9h0.9v0.9h-0.9zM228.8,232.9h0.9v0.9h-0.9zM232.3,230.4h0.9v0.9h-0.9zM222.9,229.0h0.9v0.9h-0.9zM228.2,235.0h0.9v0.9h-0.9zM228.6,239.2h0.9v0.9h-0.9zM221.6,237.8h0.9v0.9h-0.9zM227.7,232.2h0.9v0.9h-0.9zM226.6,233.1h0.9v0.9h-0.9zM229.5,227.0h0.9v0.9h-0.9zM234.5,230.6h0.9v0.9h-0.9zM228.6,237.3h0.9v0.9h-0.9zM226.3,237.5h0.9v0.9h-0.9zM222.8,238.8h0.9v0.9h-0.9zM235.1,233.8h0.9v0.9h-0.9zM225.4,234.5h0.9v0.9h-0.9zM226.0,237.1h0.9v0.9h-0.9zM229.9,232.8h0.9v0.9h-0.9zM221.2,234.0h0.9v0.9h-0.9zM224.4,234.7h0.9v0.9h-0.9zM226.1,234.5h0.9v0.9h-0.9zM234.2,235.5h0.9v0.9h-0.9zM220.9,239.1h0.9v0.9h-0.9zM220.0,239.2h0.9v0.9h-0.9zM219.7,232.9h0.9v0.9h-0.9zM219.0,233.0h0.9v0.9h-0.9zM230.2,232.1h0.9v0.9h-0.9zM224.3,237.8h0.9v0.9h-0.9zM236.7,229.3h0.9v0.9h-0.9zM232.5,232.8h0.9v0.9h-0.9zM227.0,235.6h0.9v0.9h-0.9zM221.4,228.4h0.9v0.9h-0.9zM229.8,232.0h0.9v0.9h-0.9zM237.7,223.5h0.9v0.9h-0.9zM230.2,235.5h0.9v0.9h-0.9zM224.6,231.5h0.9v0.9h-0.9zM244.2,221.8h0.9v0.9h-0.9zM219.3,234.8h0.9v0.9h-0.9zM227.3,235.6h0.9v0.9h-0.9zM235.7,233.0h0.9v0.9h-0.9zM222.6,236.7h0.9v0.9h-0.9zM226.2,235.7h0.9v0.9h-0.9zM227.1,229.5h0.9v0.9h-0.9zM229.4,232.5h0.9v0.9h-0.9zM224.6,234.7h0.9v0.9h-0.9zM225.6,231.7h0.9v0.9h-0.9zM223.0,230.2h0.9v0.9h-0.9zM228.8,229.4h0.9v0.9h-0.9zM221.6,224.5h0.9v0.9h-0.9zM224.8,234.0h0.9v0.9h-0.9zM233.2,234.4h0.9v0.9h-0.9zM233.9,231.2h0.9v0.9h-0.9zM222.0,234.9h0.9v0.9h-0.9zM220.9,237.8h0.9v0.9h-0.9zM221.3,239.2h0.9v0.9h-0.9zM226.8,230.6h0.9v0.9h-0.9zM221.1,234.1h0.9v0.9h-0.9zM229.0,229.8h0.9v0.9h-0.9zM218.0,238.8h0.9v0.9h-0.9zM232.6,229.7h0.9v0.9h-0.9zM223.6,232.8h0.9v0.9h-0.9zM237.0,229.0h0.9v0.9h-0.9zM228.8,233.4h0.9v0.9h-0.9zM225.3,238.2h0.9v0.9h-0.9zM222.4,231.4h0.9v0.9h-0.9zM220.9,228.9h0.9v0.9h-0.9zM219.4,239.0h0.9v0.9h-0.9zM223.5,238.3h0.9v0.9h-0.9zM239.8,229.8h0.9v0.9h-0.9zM233.0,238.2h0.9v0.9h-0.9zM228.7,231.9h0.9v0.9h-0.9zM221.9,231.1h0.9v0.9h-0.9zM221.3,227.8h0.9v0.9h-0.9zM221.8,235.6h0.9v0.9h-0.9zM235.8,227.3h0.9v0.9h-0.9zM226.8,228.4h0.9v0.9h-0.9zM233.5,233.1h0.9v0.9h-0.9zM225.6,235.4h0.9v0.9h-0.9zM220.3,238.6h0.9v0.9h-0.9zM230.1,226.9h0.9v0.9h-0.9zM225.5,236.8h0.9v0.9h-0.9zM226.1,233.0h0.9v0.9h-0.9zM226.6,233.0h0.9v0.9h-0.9zM223.9,231.8h0.9v0.9h-0.9zM236.1,230.5h0.9v0.9h-0.9zM230.1,228.5h0.9v0.9h-0.9zM228.0,234.6h0.9v0.9h-0.9zM227.7,229.2h0.9v0.9h-0.9zM223.5,234.5h0.9v0.9h-0.9zM225.6,233.7h0.9v0.9h-0.9zM230.6,230.0h0.9v0.9h-0.9zM221.4,232.1h0.9v0.9h-0.9zM223.6,228.7h0.9v0.9h-0.9zM240.5,224.0h0.9v0.9h-0.9zM223.6,238.6h0.9v0.9h-0.9zM224.9,234.0h0.9v0.9h-0.9zM229.5,233.6h0.9v0.9h-0.9zM217.6,235.4h0.9v0.9h-0.9zM235.8,230.5h0.9v0.9h-0.9zM226.4,239.3h0.9v0.9h-0.9zM228.5,233.8h0.9v0.9h-0.9zM228.8,227.7h0.9v0.9h-0.9zM224.3,232.7h0.9v0.9h-0.9zM233.2,236.4h0.9v0.9h-0.9zM217.9,238.2h0.9v0.9h-0.9zM226.6,232.3h0.9v0.9h-0.9zM222.9,237.3h0.9v0.9h-0.9zM222.9,236.7h0.9v0.9h-0.9zM227.8,236.6h0.9v0.9h-0.9zM230.5,233.3h0.9v0.9h-0.9zM234.7,231.3h0.9v0.9h-0.9zM240.1,232.3h0.9v0.9h-0.9zM233.8,228.3h0.9v0.9h-0.9zM229.4,227.2h0.9v0.9h-0.9zM220.9,235.7h0.9v0.9h-0.9zM219.8,238.7h0.9v0.9h-0.9zM223.7,234.8h0.9v0.9h-0.9zM227.5,232.6h0.9v0.9h-0.9zM234.5,221.7h0.9v0.9h-0.9zM222.6,236.7h0.9v0.9h-0.9zM228.4,228.8h0.9v0.9h-0.9zM224.7,231.7h0.9v0.9h-0.9zM239.3,224.0h0.9v0.9h-0.9zM229.3,235.3h0.9v0.9h-0.9zM224.7,231.0h0.9v0.9h-0.9zM227.4,234.2h0.9v0.9h-0.9zM217.0,236.3h0.9v0.9h-0.9zM235.9,237.9h0.9v0.9h-0.9zM230.5,235.3h0.9v0.9h-0.9zM231.8,230.6h0.9v0.9h-0.9zM235.5,227.6h0.9v0.9h-0.9zM232.1,232.3h0.9v0.9h-0.9zM221.7,231.6h0.9v0.9h-0.9zM225.7,235.6h0.9v0.9h-0.9zM237.7,221.5h0.9v0.9h-0.9zM217.0,235.2h0.9v0.9h-0.9zM231.7,226.0h0.9v0.9h-0.9zM222.5,237.8h0.9v0.9h-0.9zM227.6,231.4h0.9v0.9h-0.9zM227.3,234.5h0.9v0.9h-0.9zM233.1,231.8h0.9v0.9h-0.9zM230.7,230.3h0.9v0.9h-0.9zM230.0,236.7h0.9v0.9h-0.9zM229.7,227.1h0.9v0.9h-0.9zM236.2,226.3h0.9v0.9h-0.9zM224.3,235.6h0.9v0.9h-0.9zM220.1,232.3h0.9v0.9h-0.9zM223.6,232.1h0.9v0.9h-0.9zM225.5,235.0h0.9v0.9h-0.9zM227.6,234.0h0.9v0.9h-0.9zM238.0,231.0h0.9v0.9h-0.9zM232.8,232.2h0.9v0.9h-0.9zM226.2,237.5h0.9v0.9h-0.9zM231.3,234.0h0.9v0.9h-0.9zM221.9,233.0h0.9v0.9h-0.9zM232.0,229.9h0.9v0.9h-0.9zM223.7,234.2h0.9v0.9h-0.9zM219.3,239.4h0.9v0.9h-0.9zM225.9,238.9h0.9v0.9h-0.9zM237.8,226.7h0.9v0.9h-0.9zM227.2,236.2h0.9v0.9h-0.9zM221.9,234.5h0.9v0.9h-0.9zM222.6,234.5h0.9v0.9h-0.9zM234.5,231.1h0.9v0.9h-0.9zM223.2,238.4h0.9v0.9h-0.9zM224.5,233.7h0.9v0.9h-0.9zM227.2,237.3h0.9v0.9h-0.9zM231.9,235.1h0.9v0.9h-0.9zM233.7,228.5h0.9v0.9h-0.9zM229.2,229.8h0.9v0.9h-0.9zM230.0,229.5h0.9v0.9h-0.9zM223.5,237.9h0.9v0.9h-0.9zM218.0,231.8h0.9v0.9h-0.9zM230.5,237.5h0.9v0.9h-0.9zM225.8,226.6h0.9v0.9h-0.9zM229.5,229.2h0.9v0.9h-0.9zM228.5,231.4h0.9v0.9h-0.9zM223.2,236.3h0.9v0.9h-0.9zM221.2,234.9h0.9v0.9h-0.9zM230.6,226.2h0.9v0.9h-0.9zM230.6,230.2h0.9v0.9h-0.9zM229.0,232.2h0.9v0.9h-0.9zM230.5,235.7h0.9v0.9h-0.9zM220.1,234.5h0.9v0.9h-0.9zM234.0,236.1h0.9v0.9h-0.9zM229.3,233.5h0.9v0.9h-0.9zM216.9,236.3h0.9v0.9h-0.9zM228.0,237.9h0.9v0.9h-0.9zM235.4,233.9h0.9v0.9h-0.9zM225.9,239.1h0.9v0.9h-0.9zM235.3,227.7h0.9v0.9h-0.9zM218.5,238.9h0.9v0.9h-0.9zM233.1,228.9h0.9v0.9h-0.9zM224.3,233.8h0.9v0.9h-0.9zM216.9,231.1h0.9v0.9h-0.9zM225.7,237.3h0.9v0.9h-0.9zM231.1,231.1h0.9v0.9h-0.9zM216.3,234.4h0.9v0.9h-0.9zM233.8,232.3h0.9v0.9h-0.9zM227.4,227.4h0.9v0.9h-0.9zM229.2,235.4h0.9v0.9h-0.9zM235.7,234.2h0.9v0.9h-0.9zM219.6,232.7h0.9v0.9h-0.9zM231.7,232.8h0.9v0.9h-0.9zM230.7,228.2h0.9v0.9h-0.9zM236.4,231.2h0.9v0.9h-0.9zM219.9,236.3h0.9v0.9h-0.9zM223.4,236.9h0.9v0.9h-0.9zM235.3,232.8h0.9v0.9h-0.9zM221.9,239.4h0.9v0.9h-0.9zM225.6,232.5h0.9v0.9h-0.9zM235.6,230.6h0.9v0.9h-0.9zM226.9,235.6h0.9v0.9h-0.9zM228.8,236.9h0.9v0.9h-0.9zM246.5,223.9h0.9v0.9h-0.9zM234.0,233.6h0.9v0.9h-0.9zM228.5,230.5h0.9v0.9h-0.9zM228.9,238.3h0.9v0.9h-0.9zM226.2,236.6h0.9v0.9h-0.9zM217.1,238.8h0.9v0.9h-0.9zM231.7,231.6h0.9v0.9h-0.9zM223.5,232.6h0.9v0.9h-0.9zM224.1,233.3h0.9v0.9h-0.9zM235.4,232.9h0.9v0.9h-0.9zM226.9,233.2h0.9v0.9h-0.9zM224.0,228.3h0.9v0.9h-0.9zM222.0,233.4h0.9v0.9h-0.9zM230.9,234.4h0.9v0.9h-0.9zM232.3,232.4h0.9v0.9h-0.9zM230.7,233.6h0.9v0.9h-0.9zM218.4,235.1h0.9v0.9h-0.9zM226.3,235.8h0.9v0.9h-0.9zM230.1,234.1h0.9v0.9h-0.9zM220.7,237.2h0.9v0.9h-0.9zM224.0,237.4h0.9v0.9h-0.9zM225.3,232.3h0.9v0.9h-0.9zM231.0,227.8h0.9v0.9h-0.9zM225.1,237.9h0.9v0.9h-0.9zM231.7,231.5h0.9v0.9h-0.9zM222.3,232.1h0.9v0.9h-0.9zM234.0,234.4h0.9v0.9h-0.9zM227.3,236.1h0.9v0.9h-0.9zM231.0,230.8h0.9v0.9h-0.9zM226.6,235.0h0.9v0.9h-0.9zM223.7,234.4h0.9v0.9h-0.9zM229.6,234.0h0.9v0.9h-0.9zM225.0,232.1h0.9v0.9h-0.9zM219.9,238.2h0.9v0.9h-0.9zM221.0,232.7h0.9v0.9h-0.9zM229.4,230.5h0.9v0.9h-0.9zM230.7,230.4h0.9v0.9h-0.9zM225.3,227.1h0.9v0.9h-0.9zM222.3,237.2h0.9v0.9h-0.9zM221.5,238.8h0.9v0.9h-0.9zM239.7,228.9h0.9v0.9h-0.9zM233.1,230.4h0.9v0.9h-0.9zM224.9,230.7h0.9v0.9h-0.9zM231.7,235.9h0.9v0.9h-0.9zM227.9,232.4h0.9v0.9h-0.9zM221.6,230.4h0.9v0.9h-0.9zM228.3,229.6h0.9v0.9h-0.9zM220.5,237.3h0.9v0.9h-0.9zM224.8,236.7h0.9v0.9h-0.9zM227.5,234.1h0.9v0.9h-0.9zM231.3,225.5h0.9v0.9h-0.9zM224.8,234.5h0.9v0.9h-0.9zM222.1,231.7h0.9v0.9h-0.9zM218.1,235.2h0.9v0.9h-0.9zM226.7,238.1h0.9v0.9h-0.9zM227.6,237.2h0.9v0.9h-0.9zM226.9,236.9h0.9v0.9h-0.9zM220.7,235.0h0.9v0.9h-0.9zM222.0,235.0h0.9v0.9h-0.9zM228.8,231.9h0.9v0.9h-0.9zM220.6,235.6h0.9v0.9h-0.9zM234.3,229.1h0.9v0.9h-0.9zM232.8,237.5h0.9v0.9h-0.9zM222.9,238.1h0.9v0.9h-0.9zM217.8,238.7h0.9v0.9h-0.9zM225.8,233.0h0.9v0.9h-0.9zM232.2,231.5h0.9v0.9h-0.9zM229.1,238.1h0.9v0.9h-0.9zM226.8,234.8h0.9v0.9h-0.9zM216.9,239.0h0.9v0.9h-0.9zM233.1,236.0h0.9v0.9h-0.9zM219.2,237.8h0.9v0.9h-0.9zM233.2,226.7h0.9v0.9h-0.9zM225.3,232.9h0.9v0.9h-0.9zM234.4,227.6h0.9v0.9h-0.9zM228.3,229.9h0.9v0.9h-0.9zM229.2,232.2h0.9v0.9h-0.9zM231.2,225.0h0.9v0.9h-0.9zM226.0,236.4h0.9v0.9h-0.9zM230.1,234.7h0.9v0.9h-0.9zM225.7,231.6h0.9v0.9h-0.9zM226.3,237.6h0.9v0.9h-0.9zM233.3,238.5h0.9v0.9h-0.9zM224.8,233.7h0.9v0.9h-0.9zM228.2,239.7h0.9v0.9h-0.9zM230.5,233.7h0.9v0.9h-0.9zM233.6,228.6h0.9v0.9h-0.9zM228.1,226.3h0.9v0.9h-0.9zM233.0,231.5h0.9v0.9h-0.9zM218.9,235.4h0.9v0.9h-0.9zM219.4,237.5h0.9v0.9h-0.9zM228.2,231.0h0.9v0.9h-0.9zM226.6,236.9h0.9v0.9h-0.9zM223.9,234.5h0.9v0.9h-0.9zM240.6,229.0h0.9v0.9h-0.9zM222.5,232.1h0.9v0.9h-0.9zM230.3,229.7h0.9v0.9h-0.9zM225.2,232.2h0.9v0.9h-0.9zM220.0,238.2h0.9v0.9h-0.9zM223.4,237.5h0.9v0.9h-0.9zM228.1,232.2h0.9v0.9h-0.9zM227.9,230.4h0.9v0.9h-0.9zM237.7,236.7h0.9v0.9h-0.9zM233.1,238.7h0.9v0.9h-0.9zM237.0,228.0h0.9v0.9h-0.9zM220.4,233.8h0.9v0.9h-0.9zM219.1,231.6h0.9v0.9h-0.9zM232.7,234.5h0.9v0.9h-0.9zM228.1,239.0h0.9v0.9h-0.9zM231.0,228.2h0.9v0.9h-0.9zM235.6,228.8h0.9v0.9h-0.9zM229.4,234.3h0.9v0.9h-0.9zM225.8,237.5h0.9v0.9h-0.9zM224.2,233.8h0.9v0.9h-0.9zM227.1,231.5h0.9v0.9h-0.9zM216.5,235.3h0.9v0.9h-0.9zM229.7,234.0h0.9v0.9h-0.9zM227.0,231.8h0.9v0.9h-0.9zM230.2,237.9h0.9v0.9h-0.9zM232.6,232.3h0.9v0.9h-0.9zM234.6,227.8h0.9v0.9h-0.9zM220.5,237.6h0.9v0.9h-0.9zM225.0,233.7h0.9v0.9h-0.9zM235.2,228.2h0.9v0.9h-0.9zM225.6,231.6h0.9v0.9h-0.9zM229.7,231.1h0.9v0.9h-0.9zM226.4,232.4h0.9v0.9h-0.9zM226.5,231.2h0.9v0.9h-0.9zM229.3,235.2h0.9v0.9h-0.9zM233.8,231.1h0.9v0.9h-0.9zM230.2,233.0h0.9v0.9h-0.9zM233.7,233.7h0.9v0.9h-0.9zM229.3,236.8h0.9v0.9h-0.9zM224.4,234.2h0.9v0.9h-0.9zM228.4,237.8h0.9v0.9h-0.9zM233.0,232.0h0.9v0.9h-0.9zM227.1,233.7h0.9v0.9h-0.9zM229.4,232.9h0.9v0.9h-0.9zM218.0,235.2h0.9v0.9h-0.9zM223.0,230.0h0.9v0.9h-0.9zM237.1,230.0h0.9v0.9h-0.9zM229.4,228.3h0.9v0.9h-0.9zM230.1,232.7h0.9v0.9h-0.9zM222.1,237.9h0.9v0.9h-0.9zM218.6,235.7h0.9v0.9h-0.9zM223.2,234.4h0.9v0.9h-0.9zM222.5,237.8h0.9v0.9h-0.9zM225.5,232.0h0.9v0.9h-0.9zM229.2,236.2h0.9v0.9h-0.9zM230.2,234.1h0.9v0.9h-0.9zM221.8,234.8h0.9v0.9h-0.9zM223.8,237.5h0.9v0.9h-0.9zM221.5,236.4h0.9v0.9h-0.9zM227.7,239.6h0.9v0.9h-0.9zM223.9,233.7h0.9v0.9h-0.9zM228.8,235.4h0.9v0.9h-0.9zM228.9,233.9h0.9v0.9h-0.9zM232.6,233.4h0.9v0.9h-0.9zM225.4,227.7h0.9v0.9h-0.9zM235.8,234.0h0.9v0.9h-0.9zM232.9,226.8h0.9v0.9h-0.9zM237.8,230.7h0.9v0.9h-0.9zM230.8,225.2h0.9v0.9h-0.9zM226.5,234.6h0.9v0.9h-0.9zM235.9,230.9h0.9v0.9h-0.9zM222.4,227.3h0.9v0.9h-0.9zM221.9,231.4h0.9v0.9h-0.9zM236.5,227.2h0.9v0.9h-0.9zM236.0,235.8h0.9v0.9h-0.9zM228.0,234.3h0.9v0.9h-0.9zM225.8,232.6h0.9v0.9h-0.9zM221.0,236.2h0.9v0.9h-0.9zM231.3,230.2h0.9v0.9h-0.9zM228.3,235.6h0.9v0.9h-0.9zM224.8,235.6h0.9v0.9h-0.9zM231.5,231.4h0.9v0.9h-0.9zM223.5,233.1h0.9v0.9h-0.9zM236.0,230.4h0.9v0.9h-0.9zM219.0,237.9h0.9v0.9h-0.9zM240.5,229.9h0.9v0.9h-0.9zM223.7,237.1h0.9v0.9h-0.9zM229.7,230.3h0.9v0.9h-0.9zM224.2,237.6h0.9v0.9h-0.9zM222.1,234.5h0.9v0.9h-0.9zM226.8,234.2h0.9v0.9h-0.9zM228.8,228.6h0.9v0.9h-0.9zM222.0,236.2h0.9v0.9h-0.9zM221.7,233.3h0.9v0.9h-0.9zM230.3,238.4h0.9v0.9h-0.9zM231.7,232.4h0.9v0.9h-0.9zM229.6,229.5h0.9v0.9h-0.9zM226.4,235.3h0.9v0.9h-0.9zM226.5,232.2h0.9v0.9h-0.9zM222.6,238.9h0.9v0.9h-0.9zM225.0,238.0h0.9v0.9h-0.9zM227.3,230.8h0.9v0.9h-0.9zM230.6,235.8h0.9v0.9h-0.9zM224.9,233.5h0.9v0.9h-0.9zM221.2,225.8h0.9v0.9h-0.9zM236.3,223.1h0.9v0.9h-0.9zM222.7,239.5h0.9v0.9h-0.9zM227.1,234.8h0.9v0.9h-0.9zM225.4,238.7h0.9v0.9h-0.9zM223.6,238.3h0.9v0.9h-0.9zM227.0,239.6h0.9v0.9h-0.9zM225.4,231.2h0.9v0.9h-0.9zM223.7,239.6h0.9v0.9h-0.9zM240.4,233.7h0.9v0.9h-0.9zM224.7,234.0h0.9v0.9h-0.9zM223.2,231.6h0.9v0.9h-0.9zM235.0,228.8h0.9v0.9h-0.9zM235.9,230.5h0.9v0.9h-0.9zM235.0,231.9h0.9v0.9h-0.9zM233.9,232.1h0.9v0.9h-0.9zM221.9,234.0h0.9v0.9h-0.9zM223.5,233.5h0.9v0.9h-0.9zM223.4,239.2h0.9v0.9h-0.9zM233.8,227.8h0.9v0.9h-0.9zM231.0,229.9h0.9v0.9h-0.9zM221.7,238.0h0.9v0.9h-0.9zM216.3,238.5h0.9v0.9h-0.9zM216.8,235.1h0.9v0.9h-0.9zM227.8,235.2h0.9v0.9h-0.9zM230.6,233.8h0.9v0.9h-0.9zM234.8,229.3h0.9v0.9h-0.9zM224.9,235.1h0.9v0.9h-0.9zM228.0,232.4h0.9v0.9h-0.9zM219.7,238.5h0.9v0.9h-0.9zM223.1,233.2h0.9v0.9h-0.9zM219.0,239.1h0.9v0.9h-0.9zM224.3,231.0h0.9v0.9h-0.9zM231.9,233.5h0.9v0.9h-0.9zM225.1,235.1h0.9v0.9h-0.9zM226.1,235.9h0.9v0.9h-0.9zM231.8,228.6h0.9v0.9h-0.9zM223.9,236.1h0.9v0.9h-0.9zM231.6,229.1h0.9v0.9h-0.9zM231.3,238.5h0.9v0.9h-0.9zM223.7,238.5h0.9v0.9h-0.9zM221.0,237.0h0.9v0.9h-0.9zM228.4,235.4h0.9v0.9h-0.9zM232.8,233.2h0.9v0.9h-0.9zM225.5,235.7h0.9v0.9h-0.9zM216.9,235.7h0.9v0.9h-0.9zM231.5,231.1h0.9v0.9h-0.9zM227.5,232.3h0.9v0.9h-0.9zM224.3,234.1h0.9v0.9h-0.9zM227.4,237.0h0.9v0.9h-0.9zM237.0,226.6h0.9v0.9h-0.9zM233.4,232.2h0.9v0.9h-0.9zM231.9,235.1h0.9v0.9h-0.9zM227.8,231.5h0.9v0.9h-0.9zM218.9,232.7h0.9v0.9h-0.9zM230.7,230.0h0.9v0.9h-0.9zM222.3,237.8h0.9v0.9h-0.9zM223.9,237.9h0.9v0.9h-0.9zM222.1,239.0h0.9v0.9h-0.9zM227.7,229.8h0.9v0.9h-0.9zM218.7,237.7h0.9v0.9h-0.9zM228.9,231.8h0.9v0.9h-0.9zM220.4,232.1h0.9v0.9h-0.9zM227.1,227.5h0.9v0.9h-0.9zM233.4,225.4h0.9v0.9h-0.9zM224.4,235.3h0.9v0.9h-0.9zM224.4,233.0h0.9v0.9h-0.9zM223.1,236.2h0.9v0.9h-0.9zM222.7,236.1h0.9v0.9h-0.9zM224.6,232.7h0.9v0.9h-0.9zM224.8,230.2h0.9v0.9h-0.9zM216.8,239.5h0.9v0.9h-0.9zM227.9,236.0h0.9v0.9h-0.9zM220.8,235.6h0.9v0.9h-0.9zM227.3,236.9h0.9v0.9h-0.9zM233.1,235.3h0.9v0.9h-0.9zM229.7,229.0h0.9v0.9h-0.9zM233.1,230.1h0.9v0.9h-0.9zM230.4,234.2h0.9v0.9h-0.9zM233.7,229.0h0.9v0.9h-0.9zM216.5,239.1h0.9v0.9h-0.9zM223.9,238.7h0.9v0.9h-0.9zM220.6,237.6h0.9v0.9h-0.9zM222.4,235.8h0.9v0.9h-0.9zM229.8,231.0h0.9v0.9h-0.9zM226.4,235.9h0.9v0.9h-0.9zM236.0,226.7h0.9v0.9h-0.9zM233.5,235.0h0.9v0.9h-0.9zM222.0,226.9h0.9v0.9h-0.9zM223.7,236.5h0.9v0.9h-0.9zM227.0,227.2h0.9v0.9h-0.9zM217.3,239.7h0.9v0.9h-0.9zM229.9,232.7h0.9v0.9h-0.9zM230.9,226.5h0.9v0.9h-0.9zM223.6,231.2h0.9v0.9h-0.9zM231.6,228.0h0.9v0.9h-0.9zM229.1,230.3h0.9v0.9h-0.9zM227.1,235.7h0.9v0.9h-0.9zM226.4,235.0h0.9v0.9h-0.9zM233.1,224.0h0.9v0.9h-0.9zM235.0,225.8h0.9v0.9h-0.9zM216.3,234.0h0.9v0.9h-0.9zM229.4,237.7h0.9v0.9h-0.9zM216.6,238.7h0.9v0.9h-0.9zM223.6,234.9h0.9v0.9h-0.9zM233.5,230.2h0.9v0.9h-0.9zM226.6,232.3h0.9v0.9h-0.9zM231.5,233.0h0.9v0.9h-0.9zM231.8,234.2h0.9v0.9h-0.9zM229.5,231.6h0.9v0.9h-0.9zM232.9,232.7h0.9v0.9h-0.9zM226.8,231.5h0.9v0.9h-0.9zM229.1,235.4h0.9v0.9h-0.9zM229.6,233.1h0.9v0.9h-0.9zM231.8,234.8h0.9v0.9h-0.9zM239.2,224.1h0.9v0.9h-0.9zM220.6,238.6h0.9v0.9h-0.9zM216.8,231.0h0.9v0.9h-0.9z" fill="#1a1a1a"/>
<path d="M230.9,231.4h0.8v0.8h-0.8zM236.1,223.6h0.8v0.8h-0.8zM231.4,227.6h0.8v0.8h-0.8zM236.3,225.6h0.8v0.8h-0.8zM248.7,221.6h0.8v0.8h-0.8zM232.7,227.7h0.8v0.8h-0.8zM242.2,222.6h0.8v0.8h-0.8zM232.1,226.7h0.8v0.8h-0.8zM234.5,222.7h0.8v0.8h-0.8zM238.4,222.7h0.8v0.8h-0.8zM236.9,227.9h0.8v0.8h-0.8zM235.0,228.0h0.8v0.8h-0.8zM240.7,220.9h0.8v0.8h-0.8zM245.6,223.2h0.8v0.8h-0.8zM230.9,230.1h0.8v0.8h-0.8zM237.4,230.8h0.8v0.8h-0.8zM237.3,221.7h0.8v0.8h-0.8zM243.6,219.2h0.8v0.8h-0.8zM246.0,216.2h0.8v0.8h-0.8zM236.0,225.7h0.8v0.8h-0.8zM242.8,221.6h0.8v0.8h-0.8zM243.6,220.8h0.8v0.8h-0.8zM232.7,225.5h0.8v0.8h-0.8zM234.2,221.8h0.8v0.8h-0.8zM233.3,225.4h0.8v0.8h-0.8zM239.1,220.9h0.8v0.8h-0.8zM235.7,225.4h0.8v0.8h-0.8zM239.9,223.3h0.8v0.8h-0.8zM232.8,227.1h0.8v0.8h-0.8zM233.6,231.2h0.8v0.8h-0.8zM237.0,223.2h0.8v0.8h-0.8zM233.3,221.8h0.8v0.8h-0.8zM246.8,221.8h0.8v0.8h-0.8zM241.5,224.7h0.8v0.8h-0.8zM242.7,218.8h0.8v0.8h-0.8zM242.6,223.8h0.8v0.8h-0.8zM235.8,215.0h0.8v0.8h-0.8zM226.2,232.2h0.8v0.8h-0.8zM229.8,223.9h0.8v0.8h-0.8zM233.3,228.2h0.8v0.8h-0.8zM236.0,224.8h0.8v0.8h-0.8zM237.7,223.8h0.8v0.8h-0.8zM240.4,221.7h0.8v0.8h-0.8zM236.7,223.0h0.8v0.8h-0.8zM225.9,233.2h0.8v0.8h-0.8zM242.6,216.3h0.8v0.8h-0.8zM237.0,225.2h0.8v0.8h-0.8zM238.4,223.8h0.8v0.8h-0.8zM233.0,223.5h0.8v0.8h-0.8zM244.7,225.3h0.8v0.8h-0.8zM237.6,219.2h0.8v0.8h-0.8zM230.3,228.3h0.8v0.8h-0.8zM233.0,223.0h0.8v0.8h-0.8zM235.7,217.0h0.8v0.8h-0.8zM239.6,221.5h0.8v0.8h-0.8zM245.1,222.6h0.8v0.8h-0.8zM238.0,228.5h0.8v0.8h-0.8zM237.7,222.8h0.8v0.8h-0.8zM239.1,228.0h0.8v0.8h-0.8zM238.6,224.8h0.8v0.8h-0.8zM234.6,225.7h0.8v0.8h-0.8zM239.0,217.4h0.8v0.8h-0.8zM235.0,231.5h0.8v0.8h-0.8zM241.1,227.8h0.8v0.8h-0.8zM233.7,230.1h0.8v0.8h-0.8zM238.9,221.4h0.8v0.8h-0.8zM238.9,225.5h0.8v0.8h-0.8zM249.5,215.5h0.8v0.8h-0.8zM234.1,226.1h0.8v0.8h-0.8zM246.5,216.4h0.8v0.8h-0.8zM234.5,224.9h0.8v0.8h-0.8zM242.4,223.7h0.8v0.8h-0.8zM238.5,220.3h0.8v0.8h-0.8zM228.0,224.6h0.8v0.8h-0.8zM238.8,225.3h0.8v0.8h-0.8zM242.2,221.0h0.8v0.8h-0.8zM233.5,231.3h0.8v0.8h-0.8zM242.3,218.6h0.8v0.8h-0.8zM230.9,231.1h0.8v0.8h-0.8zM241.5,225.7h0.8v0.8h-0.8zM232.4,226.9h0.8v0.8h-0.8zM231.4,225.5h0.8v0.8h-0.8zM239.3,220.4h0.8v0.8h-0.8zM243.5,224.0h0.8v0.8h-0.8zM238.4,220.5h0.8v0.8h-0.8zM235.5,226.2h0.8v0.8h-0.8zM239.1,222.9h0.8v0.8h-0.8zM237.5,226.9h0.8v0.8h-0.8zM241.5,221.4h0.8v0.8h-0.8zM229.9,233.5h0.8v0.8h-0.8zM236.3,222.0h0.8v0.8h-0.8zM245.9,224.2h0.8v0.8h-0.8zM242.9,235.5h0.8v0.8h-0.8zM235.3,227.3h0.8v0.8h-0.8zM232.1,228.4h0.8v0.8h-0.8zM234.5,221.3h0.8v0.8h-0.8zM237.6,228.8h0.8v0.8h-0.8zM238.7,219.7h0.8v0.8h-0.8zM233.6,231.6h0.8v0.8h-0.8zM241.5,227.5h0.8v0.8h-0.8zM236.3,230.0h0.8v0.8h-0.8zM233.4,234.5h0.8v0.8h-0.8zM229.6,226.3h0.8v0.8h-0.8zM225.4,228.2h0.8v0.8h-0.8zM228.9,237.4h0.8v0.8h-0.8zM233.8,228.3h0.8v0.8h-0.8zM247.3,217.8h0.8v0.8h-0.8zM231.6,226.3h0.8v0.8h-0.8zM236.5,222.0h0.8v0.8h-0.8zM232.9,224.5h0.8v0.8h-0.8zM227.9,225.9h0.8v0.8h-0.8zM239.8,225.6h0.8v0.8h-0.8zM231.4,233.6h0.8v0.8h-0.8zM242.7,222.1h0.8v0.8h-0.8zM234.1,230.8h0.8v0.8h-0.8zM243.9,217.6h0.8v0.8h-0.8zM237.2,217.2h0.8v0.8h-0.8zM236.4,222.1h0.8v0.8h-0.8zM238.7,228.2h0.8v0.8h-0.8zM237.5,228.4h0.8v0.8h-0.8zM235.0,224.6h0.8v0.8h-0.8zM238.5,223.8h0.8v0.8h-0.8zM241.6,225.0h0.8v0.8h-0.8zM238.1,224.3h0.8v0.8h-0.8zM233.6,224.4h0.8v0.8h-0.8zM237.1,222.3h0.8v0.8h-0.8zM234.6,228.2h0.8v0.8h-0.8zM240.9,219.3h0.8v0.8h-0.8zM235.2,228.9h0.8v0.8h-0.8zM240.3,221.1h0.8v0.8h-0.8zM235.1,228.0h0.8v0.8h-0.8zM238.4,221.6h0.8v0.8h-0.8zM237.8,225.0h0.8v0.8h-0.8zM239.5,224.7h0.8v0.8h-0.8zM243.1,222.3h0.8v0.8h-0.8zM237.3,227.8h0.8v0.8h-0.8zM237.9,232.9h0.8v0.8h-0.8zM237.8,226.3h0.8v0.8h-0.8zM242.0,220.1h0.8v0.8h-0.8zM247.4,217.3h0.8v0.8h-0.8zM231.7,222.7h0.8v0.8h-0.8zM227.3,231.7h0.8v0.8h-0.8zM231.8,226.7h0.8v0.8h-0.8zM243.7,223.4h0.8v0.8h-0.8zM240.5,222.8h0.8v0.8h-0.8zM246.8,222.3h0.8v0.8h-0.8zM242.0,222.2h0.8v0.8h-0.8zM244.7,216.2h0.8v0.8h-0.8zM242.7,221.1h0.8v0.8h-0.8zM238.7,220.5h0.8v0.8h-0.8zM247.3,217.9h0.8v0.8h-0.8zM240.3,224.3h0.8v0.8h-0.8zM238.1,223.4h0.8v0.8h-0.8zM241.4,219.1h0.8v0.8h-0.8zM229.5,227.3h0.8v0.8h-0.8zM235.8,228.2h0.8v0.8h-0.8zM232.6,224.4h0.8v0.8h-0.8zM241.2,226.1h0.8v0.8h-0.8zM240.6,226.5h0.8v0.8h-0.8zM230.4,231.0h0.8v0.8h-0.8zM244.2,221.3h0.8v0.8h-0.8zM242.5,225.5h0.8v0.8h-0.8zM226.8,235.7h0.8v0.8h-0.8zM239.5,222.7h0.8v0.8h-0.8zM231.7,227.6h0.8v0.8h-0.8zM231.5,229.9h0.8v0.8h-0.8zM233.0,229.3h0.8v0.8h-0.8zM246.4,217.4h0.8v0.8h-0.8zM234.9,229.0h0.8v0.8h-0.8zM237.0,217.8h0.8v0.8h-0.8zM236.2,221.1h0.8v0.8h-0.8zM246.1,212.8h0.8v0.8h-0.8zM238.9,223.8h0.8v0.8h-0.8zM233.1,225.5h0.8v0.8h-0.8zM240.5,219.9h0.8v0.8h-0.8zM247.2,221.8h0.8v0.8h-0.8zM241.9,228.9h0.8v0.8h-0.8zM242.0,221.1h0.8v0.8h-0.8zM231.5,226.8h0.8v0.8h-0.8zM229.5,227.8h0.8v0.8h-0.8zM242.3,221.0h0.8v0.8h-0.8zM233.7,220.9h0.8v0.8h-0.8zM240.4,223.5h0.8v0.8h-0.8zM232.6,224.6h0.8v0.8h-0.8zM235.9,232.1h0.8v0.8h-0.8zM233.9,225.2h0.8v0.8h-0.8zM234.5,226.3h0.8v0.8h-0.8zM233.7,223.8h0.8v0.8h-0.8zM236.9,228.7h0.8v0.8h-0.8zM231.0,224.6h0.8v0.8h-0.8zM239.2,223.3h0.8v0.8h-0.8zM232.0,227.7h0.8v0.8h-0.8zM225.1,234.7h0.8v0.8h-0.8zM237.2,224.4h0.8v0.8h-0.8zM242.8,219.9h0.8v0.8h-0.8zM242.1,222.3h0.8v0.8h-0.8zM240.7,222.3h0.8v0.8h-0.8zM234.9,227.0h0.8v0.8h-0.8zM230.9,227.6h0.8v0.8h-0.8zM227.9,228.5h0.8v0.8h-0.8zM235.0,223.0h0.8v0.8h-0.8zM234.7,223.7h0.8v0.8h-0.8zM237.7,217.0h0.8v0.8h-0.8zM243.2,218.7h0.8v0.8h-0.8zM230.2,228.8h0.8v0.8h-0.8zM234.7,225.6h0.8v0.8h-0.8zM234.3,228.8h0.8v0.8h-0.8zM240.1,225.2h0.8v0.8h-0.8zM237.8,221.8h0.8v0.8h-0.8zM235.1,224.3h0.8v0.8h-0.8zM239.0,220.8h0.8v0.8h-0.8zM235.8,230.4h0.8v0.8h-0.8zM243.1,218.8h0.8v0.8h-0.8zM238.9,218.5h0.8v0.8h-0.8zM241.3,218.6h0.8v0.8h-0.8zM244.6,222.9h0.8v0.8h-0.8zM238.0,226.0h0.8v0.8h-0.8zM226.7,233.8h0.8v0.8h-0.8zM247.8,216.8h0.8v0.8h-0.8zM228.5,226.9h0.8v0.8h-0.8zM233.2,225.5h0.8v0.8h-0.8zM247.2,222.6h0.8v0.8h-0.8zM236.2,222.5h0.8v0.8h-0.8zM237.6,224.2h0.8v0.8h-0.8zM244.1,222.1h0.8v0.8h-0.8zM226.5,230.3h0.8v0.8h-0.8zM241.5,222.8h0.8v0.8h-0.8zM224.9,226.4h0.8v0.8h-0.8zM234.4,225.3h0.8v0.8h-0.8zM241.7,217.1h0.8v0.8h-0.8zM236.7,220.8h0.8v0.8h-0.8zM236.8,221.5h0.8v0.8h-0.8zM230.4,228.4h0.8v0.8h-0.8zM233.1,218.2h0.8v0.8h-0.8zM235.1,229.3h0.8v0.8h-0.8zM232.0,225.3h0.8v0.8h-0.8zM245.3,224.0h0.8v0.8h-0.8zM237.0,225.9h0.8v0.8h-0.8zM239.4,223.8h0.8v0.8h-0.8zM237.3,229.3h0.8v0.8h-0.8zM240.7,220.4h0.8v0.8h-0.8zM231.1,233.2h0.8v0.8h-0.8zM228.7,226.7h0.8v0.8h-0.8zM237.3,227.6h0.8v0.8h-0.8zM227.7,229.0h0.8v0.8h-0.8zM238.7,225.1h0.8v0.8h-0.8zM240.7,225.3h0.8v0.8h-0.8zM236.9,226.9h0.8v0.8h-0.8zM237.1,222.2h0.8v0.8h-0.8zM238.8,226.6h0.8v0.8h-0.8zM246.1,213.6h0.8v0.8h-0.8zM240.4,223.5h0.8v0.8h-0.8zM229.6,231.0h0.8v0.8h-0.8zM242.0,224.0h0.8v0.8h-0.8zM232.0,233.3h0.8v0.8h-0.8zM242.9,219.7h0.8v0.8h-0.8zM242.7,216.8h0.8v0.8h-0.8zM228.2,229.1h0.8v0.8h-0.8zM235.5,224.2h0.8v0.8h-0.8zM233.2,226.5h0.8v0.8h-0.8zM234.1,226.2h0.8v0.8h-0.8zM232.9,227.6h0.8v0.8h-0.8zM238.1,221.0h0.8v0.8h-0.8zM236.2,221.7h0.8v0.8h-0.8zM229.4,223.1h0.8v0.8h-0.8zM224.6,233.1h0.8v0.8h-0.8zM238.9,228.6h0.8v0.8h-0.8zM230.9,224.9h0.8v0.8h-0.8zM245.8,216.6h0.8v0.8h-0.8zM234.8,223.7h0.8v0.8h-0.8zM236.1,219.6h0.8v0.8h-0.8zM233.3,227.9h0.8v0.8h-0.8zM225.5,233.6h0.8v0.8h-0.8zM236.7,226.8h0.8v0.8h-0.8zM231.8,235.6h0.8v0.8h-0.8zM239.7,217.4h0.8v0.8h-0.8zM245.4,231.1h0.8v0.8h-0.8zM246.3,219.6h0.8v0.8h-0.8zM235.6,227.7h0.8v0.8h-0.8zM237.5,227.5h0.8v0.8h-0.8zM245.5,218.6h0.8v0.8h-0.8zM241.5,225.8h0.8v0.8h-0.8zM235.8,222.3h0.8v0.8h-0.8zM235.0,220.7h0.8v0.8h-0.8zM232.4,224.3h0.8v0.8h-0.8zM232.4,228.5h0.8v0.8h-0.8zM236.8,225.6h0.8v0.8h-0.8zM233.3,226.1h0.8v0.8h-0.8zM234.1,232.6h0.8v0.8h-0.8zM235.4,229.4h0.8v0.8h-0.8zM235.4,228.8h0.8v0.8h-0.8zM231.5,232.1h0.8v0.8h-0.8zM237.1,226.3h0.8v0.8h-0.8zM244.0,226.3h0.8v0.8h-0.8zM230.4,226.2h0.8v0.8h-0.8zM240.9,227.3h0.8v0.8h-0.8zM236.6,229.5h0.8v0.8h-0.8zM229.7,224.0h0.8v0.8h-0.8zM236.7,224.1h0.8v0.8h-0.8zM229.6,231.4h0.8v0.8h-0.8z" fill="#555"/>
<path d="M244.7,234.4h0.8v0.8h-0.8zM244.7,234.1h0.8v0.8h-0.8zM240.7,239.1h0.8v0.8h-0.8zM242.5,232.8h0.8v0.8h-0.8zM255.6,233.6h0.8v0.8h-0.8zM241.3,237.1h0.8v0.8h-0.8zM235.1,226.9h0.8v0.8h-0.8zM241.3,234.3h0.8v0.8h-0.8zM241.8,232.0h0.8v0.8h-0.8zM229.7,238.1h0.8v0.8h-0.8zM237.3,231.4h0.8v0.8h-0.8zM244.6,236.5h0.8v0.8h-0.8zM246.8,230.3h0.8v0.8h-0.8zM242.5,229.1h0.8v0.8h-0.8zM251.5,230.6h0.8v0.8h-0.8zM245.5,227.4h0.8v0.8h-0.8zM244.8,229.3h0.8v0.8h-0.8zM222.6,237.3h0.8v0.8h-0.8zM250.8,226.4h0.8v0.8h-0.8zM246.8,236.2h0.8v0.8h-0.8zM245.3,230.4h0.8v0.8h-0.8zM249.6,230.1h0.8v0.8h-0.8zM231.8,227.0h0.8v0.8h-0.8zM229.1,232.4h0.8v0.8h-0.8zM230.5,238.8h0.8v0.8h-0.8zM236.0,232.0h0.8v0.8h-0.8zM254.3,233.4h0.8v0.8h-0.8zM250.4,234.6h0.8v0.8h-0.8zM243.7,236.8h0.8v0.8h-0.8zM238.3,230.4h0.8v0.8h-0.8zM250.3,235.4h0.8v0.8h-0.8zM253.7,232.7h0.8v0.8h-0.8zM238.5,229.8h0.8v0.8h-0.8zM247.9,232.6h0.8v0.8h-0.8zM242.1,227.5h0.8v0.8h-0.8zM233.6,236.1h0.8v0.8h-0.8zM248.5,226.6h0.8v0.8h-0.8zM262.9,229.5h0.8v0.8h-0.8zM245.4,236.4h0.8v0.8h-0.8zM241.9,228.0h0.8v0.8h-0.8zM236.4,232.4h0.8v0.8h-0.8zM243.0,237.1h0.8v0.8h-0.8zM252.0,226.7h0.8v0.8h-0.8zM228.2,232.4h0.8v0.8h-0.8zM247.2,232.1h0.8v0.8h-0.8zM232.1,227.9h0.8v0.8h-0.8zM249.2,234.4h0.8v0.8h-0.8zM254.5,236.2h0.8v0.8h-0.8zM241.2,236.8h0.8v0.8h-0.8zM230.8,230.6h0.8v0.8h-0.8zM240.6,238.3h0.8v0.8h-0.8zM251.8,235.5h0.8v0.8h-0.8zM239.1,232.7h0.8v0.8h-0.8zM239.7,235.9h0.8v0.8h-0.8zM239.0,231.9h0.8v0.8h-0.8zM252.9,232.9h0.8v0.8h-0.8zM245.8,237.6h0.8v0.8h-0.8zM245.5,234.4h0.8v0.8h-0.8zM232.0,239.4h0.8v0.8h-0.8zM257.6,230.2h0.8v0.8h-0.8zM252.9,231.8h0.8v0.8h-0.8zM232.3,230.1h0.8v0.8h-0.8zM227.4,235.0h0.8v0.8h-0.8zM243.8,234.8h0.8v0.8h-0.8zM240.2,222.6h0.8v0.8h-0.8zM249.4,226.5h0.8v0.8h-0.8zM242.9,234.0h0.8v0.8h-0.8zM257.3,230.7h0.8v0.8h-0.8zM253.9,224.4h0.8v0.8h-0.8zM243.6,231.2h0.8v0.8h-0.8zM243.4,239.6h0.8v0.8h-0.8zM256.0,233.3h0.8v0.8h-0.8zM244.6,226.6h0.8v0.8h-0.8zM244.2,232.1h0.8v0.8h-0.8zM247.5,224.3h0.8v0.8h-0.8zM248.5,231.6h0.8v0.8h-0.8zM256.6,229.9h0.8v0.8h-0.8zM229.2,237.7h0.8v0.8h-0.8zM237.7,231.1h0.8v0.8h-0.8zM236.0,229.6h0.8v0.8h-0.8zM261.1,231.5h0.8v0.8h-0.8zM244.1,229.8h0.8v0.8h-0.8zM253.3,235.0h0.8v0.8h-0.8zM222.9,231.0h0.8v0.8h-0.8zM241.1,229.0h0.8v0.8h-0.8zM240.5,234.4h0.8v0.8h-0.8zM227.1,232.6h0.8v0.8h-0.8zM242.8,236.3h0.8v0.8h-0.8zM235.2,236.3h0.8v0.8h-0.8zM237.0,236.5h0.8v0.8h-0.8zM250.9,232.3h0.8v0.8h-0.8zM253.7,236.0h0.8v0.8h-0.8zM245.2,232.9h0.8v0.8h-0.8zM248.2,235.1h0.8v0.8h-0.8zM236.6,226.2h0.8v0.8h-0.8zM251.2,232.3h0.8v0.8h-0.8zM248.4,233.3h0.8v0.8h-0.8zM237.7,235.7h0.8v0.8h-0.8zM232.2,233.9h0.8v0.8h-0.8zM251.3,235.4h0.8v0.8h-0.8zM239.3,230.9h0.8v0.8h-0.8zM242.2,228.9h0.8v0.8h-0.8zM252.3,233.0h0.8v0.8h-0.8zM243.0,231.9h0.8v0.8h-0.8zM260.0,231.8h0.8v0.8h-0.8zM241.9,225.5h0.8v0.8h-0.8zM218.9,229.1h0.8v0.8h-0.8zM253.2,238.4h0.8v0.8h-0.8zM241.9,236.3h0.8v0.8h-0.8zM229.2,236.0h0.8v0.8h-0.8zM244.8,239.5h0.8v0.8h-0.8zM241.6,233.4h0.8v0.8h-0.8zM241.3,238.4h0.8v0.8h-0.8zM260.9,229.6h0.8v0.8h-0.8zM238.1,223.2h0.8v0.8h-0.8zM233.9,233.7h0.8v0.8h-0.8zM231.4,223.6h0.8v0.8h-0.8zM245.8,233.9h0.8v0.8h-0.8zM250.1,236.3h0.8v0.8h-0.8zM251.3,234.3h0.8v0.8h-0.8zM244.6,233.8h0.8v0.8h-0.8zM228.2,234.7h0.8v0.8h-0.8zM244.2,231.4h0.8v0.8h-0.8zM245.0,230.6h0.8v0.8h-0.8zM231.8,235.0h0.8v0.8h-0.8zM243.6,234.0h0.8v0.8h-0.8zM257.9,238.5h0.8v0.8h-0.8zM253.8,233.8h0.8v0.8h-0.8zM242.3,235.8h0.8v0.8h-0.8zM241.2,234.8h0.8v0.8h-0.8zM243.0,230.6h0.8v0.8h-0.8zM240.1,229.7h0.8v0.8h-0.8zM251.6,237.7h0.8v0.8h-0.8zM230.9,229.2h0.8v0.8h-0.8zM242.7,235.0h0.8v0.8h-0.8zM245.4,236.6h0.8v0.8h-0.8zM235.0,230.7h0.8v0.8h-0.8zM247.8,235.1h0.8v0.8h-0.8zM253.7,231.9h0.8v0.8h-0.8zM247.8,231.1h0.8v0.8h-0.8zM236.6,227.6h0.8v0.8h-0.8zM254.2,234.2h0.8v0.8h-0.8zM238.7,232.1h0.8v0.8h-0.8zM255.4,238.9h0.8v0.8h-0.8zM249.4,233.4h0.8v0.8h-0.8zM241.2,231.4h0.8v0.8h-0.8zM245.1,238.2h0.8v0.8h-0.8zM251.3,230.7h0.8v0.8h-0.8zM244.8,238.9h0.8v0.8h-0.8zM239.9,236.8h0.8v0.8h-0.8zM254.4,233.6h0.8v0.8h-0.8zM247.3,237.1h0.8v0.8h-0.8zM251.2,230.8h0.8v0.8h-0.8zM242.5,236.1h0.8v0.8h-0.8zM246.4,230.7h0.8v0.8h-0.8zM238.5,234.9h0.8v0.8h-0.8zM235.9,228.1h0.8v0.8h-0.8zM239.0,239.1h0.8v0.8h-0.8zM232.1,225.3h0.8v0.8h-0.8zM247.2,227.5h0.8v0.8h-0.8zM245.6,234.7h0.8v0.8h-0.8zM255.7,232.7h0.8v0.8h-0.8zM250.7,236.3h0.8v0.8h-0.8zM233.3,227.2h0.8v0.8h-0.8zM245.4,230.6h0.8v0.8h-0.8zM249.0,234.0h0.8v0.8h-0.8zM220.7,233.8h0.8v0.8h-0.8zM240.7,233.3h0.8v0.8h-0.8zM243.1,235.1h0.8v0.8h-0.8zM240.9,233.4h0.8v0.8h-0.8zM257.0,227.5h0.8v0.8h-0.8zM240.1,225.6h0.8v0.8h-0.8zM252.8,229.6h0.8v0.8h-0.8zM235.2,228.8h0.8v0.8h-0.8zM244.8,225.1h0.8v0.8h-0.8zM242.9,235.4h0.8v0.8h-0.8zM255.8,236.2h0.8v0.8h-0.8zM239.4,232.7h0.8v0.8h-0.8zM261.1,237.4h0.8v0.8h-0.8zM229.2,236.5h0.8v0.8h-0.8zM246.0,224.6h0.8v0.8h-0.8zM238.4,232.4h0.8v0.8h-0.8zM244.4,239.4h0.8v0.8h-0.8zM248.6,230.4h0.8v0.8h-0.8zM224.8,238.6h0.8v0.8h-0.8zM251.4,235.3h0.8v0.8h-0.8zM242.5,230.4h0.8v0.8h-0.8zM252.4,229.9h0.8v0.8h-0.8zM242.1,234.4h0.8v0.8h-0.8zM256.5,225.8h0.8v0.8h-0.8zM247.2,233.5h0.8v0.8h-0.8zM237.7,233.8h0.8v0.8h-0.8zM248.0,229.8h0.8v0.8h-0.8zM248.0,230.3h0.8v0.8h-0.8zM242.2,227.3h0.8v0.8h-0.8zM234.2,226.0h0.8v0.8h-0.8zM234.1,229.0h0.8v0.8h-0.8zM237.7,233.5h0.8v0.8h-0.8zM238.2,233.6h0.8v0.8h-0.8zM234.7,231.8h0.8v0.8h-0.8zM239.1,235.1h0.8v0.8h-0.8zM256.2,229.6h0.8v0.8h-0.8zM235.2,232.1h0.8v0.8h-0.8zM243.0,235.5h0.8v0.8h-0.8zM232.9,235.3h0.8v0.8h-0.8zM255.8,234.7h0.8v0.8h-0.8zM241.8,223.6h0.8v0.8h-0.8zM252.5,228.9h0.8v0.8h-0.8zM240.9,230.1h0.8v0.8h-0.8zM233.1,236.6h0.8v0.8h-0.8zM257.3,237.5h0.8v0.8h-0.8zM264.1,234.6h0.8v0.8h-0.8zM242.6,236.3h0.8v0.8h-0.8zM249.5,229.7h0.8v0.8h-0.8zM242.5,223.0h0.8v0.8h-0.8zM257.7,230.9h0.8v0.8h-0.8zM241.1,236.2h0.8v0.8h-0.8zM247.1,233.2h0.8v0.8h-0.8zM236.3,235.1h0.8v0.8h-0.8zM241.3,230.7h0.8v0.8h-0.8zM242.4,230.3h0.8v0.8h-0.8zM252.2,231.1h0.8v0.8h-0.8zM247.3,235.1h0.8v0.8h-0.8zM248.6,233.0h0.8v0.8h-0.8zM246.9,231.3h0.8v0.8h-0.8zM236.9,234.3h0.8v0.8h-0.8zM240.9,236.3h0.8v0.8h-0.8zM250.1,234.4h0.8v0.8h-0.8zM240.4,233.5h0.8v0.8h-0.8zM238.1,230.5h0.8v0.8h-0.8zM255.5,230.7h0.8v0.8h-0.8zM244.1,237.1h0.8v0.8h-0.8zM243.8,237.5h0.8v0.8h-0.8zM259.0,227.0h0.8v0.8h-0.8zM239.0,237.4h0.8v0.8h-0.8zM246.0,228.3h0.8v0.8h-0.8zM250.8,234.7h0.8v0.8h-0.8zM234.0,238.3h0.8v0.8h-0.8zM230.4,234.1h0.8v0.8h-0.8zM244.9,233.7h0.8v0.8h-0.8zM259.6,222.4h0.8v0.8h-0.8zM246.4,231.2h0.8v0.8h-0.8zM241.1,239.4h0.8v0.8h-0.8zM240.8,231.4h0.8v0.8h-0.8zM239.9,233.9h0.8v0.8h-0.8zM248.5,228.6h0.8v0.8h-0.8zM237.9,225.3h0.8v0.8h-0.8zM239.8,222.4h0.8v0.8h-0.8zM251.8,233.1h0.8v0.8h-0.8zM240.3,235.1h0.8v0.8h-0.8zM245.8,230.1h0.8v0.8h-0.8zM225.8,226.1h0.8v0.8h-0.8zM245.8,233.9h0.8v0.8h-0.8zM250.3,232.2h0.8v0.8h-0.8zM234.4,233.5h0.8v0.8h-0.8zM229.2,230.9h0.8v0.8h-0.8zM255.9,228.7h0.8v0.8h-0.8zM250.1,237.3h0.8v0.8h-0.8zM230.8,238.2h0.8v0.8h-0.8zM241.9,233.3h0.8v0.8h-0.8zM245.2,233.5h0.8v0.8h-0.8zM254.2,235.3h0.8v0.8h-0.8zM250.9,223.1h0.8v0.8h-0.8zM257.4,236.7h0.8v0.8h-0.8zM241.5,232.4h0.8v0.8h-0.8zM244.6,228.6h0.8v0.8h-0.8zM239.6,232.0h0.8v0.8h-0.8zM250.9,233.7h0.8v0.8h-0.8zM264.6,229.6h0.8v0.8h-0.8zM246.5,232.8h0.8v0.8h-0.8zM239.5,233.2h0.8v0.8h-0.8zM229.1,230.2h0.8v0.8h-0.8zM254.7,232.7h0.8v0.8h-0.8zM253.3,231.9h0.8v0.8h-0.8zM257.0,232.1h0.8v0.8h-0.8zM229.6,236.6h0.8v0.8h-0.8zM248.6,234.7h0.8v0.8h-0.8zM229.7,234.0h0.8v0.8h-0.8zM224.4,236.1h0.8v0.8h-0.8zM239.9,236.4h0.8v0.8h-0.8zM239.0,234.7h0.8v0.8h-0.8zM239.0,239.2h0.8v0.8h-0.8zM241.6,230.1h0.8v0.8h-0.8zM243.6,228.9h0.8v0.8h-0.8zM256.4,223.3h0.8v0.8h-0.8zM236.3,236.7h0.8v0.8h-0.8zM233.1,232.6h0.8v0.8h-0.8zM232.3,232.4h0.8v0.8h-0.8zM227.2,238.5h0.8v0.8h-0.8zM249.9,231.0h0.8v0.8h-0.8zM233.7,232.8h0.8v0.8h-0.8zM236.9,234.6h0.8v0.8h-0.8zM234.8,239.0h0.8v0.8h-0.8zM243.5,232.8h0.8v0.8h-0.8zM234.4,234.5h0.8v0.8h-0.8zM240.2,225.4h0.8v0.8h-0.8zM249.4,234.7h0.8v0.8h-0.8zM253.6,231.2h0.8v0.8h-0.8zM254.2,227.2h0.8v0.8h-0.8zM237.7,226.6h0.8v0.8h-0.8zM246.8,235.7h0.8v0.8h-0.8zM231.9,227.2h0.8v0.8h-0.8zM242.6,223.3h0.8v0.8h-0.8zM240.5,230.9h0.8v0.8h-0.8zM251.5,225.2h0.8v0.8h-0.8zM254.2,229.8h0.8v0.8h-0.8zM246.2,228.6h0.8v0.8h-0.8zM239.3,225.5h0.8v0.8h-0.8zM247.9,234.4h0.8v0.8h-0.8zM240.3,236.4h0.8v0.8h-0.8zM245.5,233.5h0.8v0.8h-0.8zM257.6,223.5h0.8v0.8h-0.8zM251.3,234.3h0.8v0.8h-0.8zM231.1,229.0h0.8v0.8h-0.8zM258.6,231.1h0.8v0.8h-0.8zM234.2,228.5h0.8v0.8h-0.8zM238.3,238.6h0.8v0.8h-0.8zM243.8,234.9h0.8v0.8h-0.8zM247.7,225.4h0.8v0.8h-0.8zM244.0,228.0h0.8v0.8h-0.8zM243.3,232.3h0.8v0.8h-0.8zM240.0,231.2h0.8v0.8h-0.8zM248.2,236.6h0.8v0.8h-0.8zM236.4,230.4h0.8v0.8h-0.8zM258.6,226.4h0.8v0.8h-0.8zM232.6,239.3h0.8v0.8h-0.8zM238.3,231.4h0.8v0.8h-0.8zM259.2,232.9h0.8v0.8h-0.8zM247.0,234.4h0.8v0.8h-0.8zM235.5,238.1h0.8v0.8h-0.8zM250.6,231.1h0.8v0.8h-0.8zM250.9,230.6h0.8v0.8h-0.8zM244.6,232.4h0.8v0.8h-0.8zM243.9,231.9h0.8v0.8h-0.8zM257.7,234.2h0.8v0.8h-0.8zM235.2,232.8h0.8v0.8h-0.8zM246.6,228.0h0.8v0.8h-0.8zM244.1,229.2h0.8v0.8h-0.8zM227.2,234.6h0.8v0.8h-0.8zM243.6,233.5h0.8v0.8h-0.8zM235.2,231.3h0.8v0.8h-0.8zM248.1,231.1h0.8v0.8h-0.8zM250.5,233.0h0.8v0.8h-0.8zM259.3,232.7h0.8v0.8h-0.8zM236.5,231.0h0.8v0.8h-0.8zM255.7,228.9h0.8v0.8h-0.8zM227.8,239.5h0.8v0.8h-0.8zM232.3,229.2h0.8v0.8h-0.8zM258.4,231.3h0.8v0.8h-0.8zM240.3,234.6h0.8v0.8h-0.8zM246.8,229.9h0.8v0.8h-0.8zM238.8,236.5h0.8v0.8h-0.8zM227.4,229.5h0.8v0.8h-0.8zM252.8,237.2h0.8v0.8h-0.8zM238.9,236.6h0.8v0.8h-0.8zM252.8,231.7h0.8v0.8h-0.8zM243.2,235.0h0.8v0.8h-0.8zM251.3,230.4h0.8v0.8h-0.8zM266.4,234.2h0.8v0.8h-0.8zM246.9,237.3h0.8v0.8h-0.8zM247.2,229.5h0.8v0.8h-0.8zM231.7,235.7h0.8v0.8h-0.8zM249.8,231.7h0.8v0.8h-0.8zM231.7,239.6h0.8v0.8h-0.8zM236.1,230.3h0.8v0.8h-0.8zM238.6,237.7h0.8v0.8h-0.8zM244.5,233.7h0.8v0.8h-0.8zM232.5,234.9h0.8v0.8h-0.8zM249.4,230.2h0.8v0.8h-0.8zM231.7,237.5h0.8v0.8h-0.8zM259.2,238.3h0.8v0.8h-0.8zM245.3,229.7h0.8v0.8h-0.8zM243.2,237.7h0.8v0.8h-0.8zM240.7,223.7h0.8v0.8h-0.8zM245.7,238.6h0.8v0.8h-0.8zM232.5,235.1h0.8v0.8h-0.8zM246.2,230.5h0.8v0.8h-0.8zM253.9,226.3h0.8v0.8h-0.8zM220.0,233.3h0.8v0.8h-0.8zM227.1,234.2h0.8v0.8h-0.8zM260.3,235.4h0.8v0.8h-0.8zM248.0,226.3h0.8v0.8h-0.8zM235.1,237.8h0.8v0.8h-0.8zM235.6,230.3h0.8v0.8h-0.8zM237.0,239.3h0.8v0.8h-0.8zM234.7,233.4h0.8v0.8h-0.8zM250.2,227.9h0.8v0.8h-0.8zM239.1,233.2h0.8v0.8h-0.8zM233.6,231.1h0.8v0.8h-0.8zM230.5,239.0h0.8v0.8h-0.8zM242.5,231.9h0.8v0.8h-0.8zM246.7,230.0h0.8v0.8h-0.8zM259.7,232.4h0.8v0.8h-0.8zM245.0,231.6h0.8v0.8h-0.8zM229.6,232.3h0.8v0.8h-0.8zM254.8,226.2h0.8v0.8h-0.8zM226.9,238.7h0.8v0.8h-0.8zM245.3,228.1h0.8v0.8h-0.8zM250.7,229.6h0.8v0.8h-0.8zM240.3,231.3h0.8v0.8h-0.8zM236.7,234.8h0.8v0.8h-0.8zM247.3,236.6h0.8v0.8h-0.8zM254.4,226.5h0.8v0.8h-0.8zM250.5,228.9h0.8v0.8h-0.8zM248.1,235.0h0.8v0.8h-0.8zM262.5,233.9h0.8v0.8h-0.8zM246.3,234.9h0.8v0.8h-0.8zM247.0,238.8h0.8v0.8h-0.8zM242.3,231.8h0.8v0.8h-0.8zM249.9,226.6h0.8v0.8h-0.8zM236.5,228.6h0.8v0.8h-0.8zM241.4,230.8h0.8v0.8h-0.8zM247.7,234.9h0.8v0.8h-0.8zM239.3,227.9h0.8v0.8h-0.8zM226.4,233.2h0.8v0.8h-0.8zM245.4,233.7h0.8v0.8h-0.8zM251.9,234.7h0.8v0.8h-0.8zM229.3,223.3h0.8v0.8h-0.8zM251.7,228.7h0.8v0.8h-0.8zM239.9,238.1h0.8v0.8h-0.8zM244.4,239.4h0.8v0.8h-0.8zM235.8,233.8h0.8v0.8h-0.8zM258.6,233.0h0.8v0.8h-0.8zM246.2,234.1h0.8v0.8h-0.8zM263.6,229.7h0.8v0.8h-0.8zM240.0,237.7h0.8v0.8h-0.8zM247.4,227.3h0.8v0.8h-0.8zM247.4,228.2h0.8v0.8h-0.8zM239.4,234.0h0.8v0.8h-0.8zM239.7,228.3h0.8v0.8h-0.8zM257.9,223.5h0.8v0.8h-0.8zM236.5,236.2h0.8v0.8h-0.8zM247.1,227.4h0.8v0.8h-0.8zM227.0,230.7h0.8v0.8h-0.8zM245.8,231.7h0.8v0.8h-0.8zM245.2,236.9h0.8v0.8h-0.8zM256.7,234.6h0.8v0.8h-0.8zM242.9,225.6h0.8v0.8h-0.8zM249.8,236.4h0.8v0.8h-0.8zM263.7,229.9h0.8v0.8h-0.8zM237.5,226.4h0.8v0.8h-0.8zM244.7,231.8h0.8v0.8h-0.8zM237.5,236.8h0.8v0.8h-0.8zM244.7,228.5h0.8v0.8h-0.8zM230.3,237.8h0.8v0.8h-0.8zM255.0,234.3h0.8v0.8h-0.8zM264.7,229.0h0.8v0.8h-0.8zM235.4,236.0h0.8v0.8h-0.8zM247.5,238.4h0.8v0.8h-0.8zM239.3,234.7h0.8v0.8h-0.8zM244.6,229.3h0.8v0.8h-0.8zM253.9,231.0h0.8v0.8h-0.8zM250.7,229.6h0.8v0.8h-0.8zM258.3,231.1h0.8v0.8h-0.8zM248.6,239.0h0.8v0.8h-0.8zM246.3,228.5h0.8v0.8h-0.8zM254.3,226.6h0.8v0.8h-0.8zM241.0,239.3h0.8v0.8h-0.8zM249.1,232.6h0.8v0.8h-0.8zM254.7,228.8h0.8v0.8h-0.8zM251.0,234.4h0.8v0.8h-0.8zM243.5,222.6h0.8v0.8h-0.8zM244.3,228.3h0.8v0.8h-0.8zM236.6,232.9h0.8v0.8h-0.8zM235.5,234.2h0.8v0.8h-0.8zM229.7,223.3h0.8v0.8h-0.8zM239.2,231.3h0.8v0.8h-0.8zM256.2,224.5h0.8v0.8h-0.8zM244.9,229.3h0.8v0.8h-0.8zM233.7,230.3h0.8v0.8h-0.8zM236.3,229.0h0.8v0.8h-0.8zM245.4,229.0h0.8v0.8h-0.8zM252.9,232.9h0.8v0.8h-0.8zM235.7,237.9h0.8v0.8h-0.8zM242.3,235.2h0.8v0.8h-0.8zM247.4,225.7h0.8v0.8h-0.8zM247.8,238.0h0.8v0.8h-0.8zM243.9,233.6h0.8v0.8h-0.8zM250.0,237.2h0.8v0.8h-0.8zM242.0,235.9h0.8v0.8h-0.8zM246.4,235.1h0.8v0.8h-0.8zM257.3,232.0h0.8v0.8h-0.8zM240.1,232.7h0.8v0.8h-0.8zM240.2,226.1h0.8v0.8h-0.8zM252.4,226.4h0.8v0.8h-0.8zM241.1,233.9h0.8v0.8h-0.8zM244.2,233.6h0.8v0.8h-0.8zM230.4,235.3h0.8v0.8h-0.8zM238.6,235.3h0.8v0.8h-0.8zM244.1,232.4h0.8v0.8h-0.8zM246.6,229.5h0.8v0.8h-0.8zM250.1,227.7h0.8v0.8h-0.8zM251.6,232.8h0.8v0.8h-0.8zM247.9,230.0h0.8v0.8h-0.8zM245.1,228.8h0.8v0.8h-0.8zM249.3,230.8h0.8v0.8h-0.8zM249.6,233.3h0.8v0.8h-0.8zM256.7,227.0h0.8v0.8h-0.8zM243.7,235.8h0.8v0.8h-0.8zM258.3,230.8h0.8v0.8h-0.8zM252.4,237.0h0.8v0.8h-0.8zM234.6,236.6h0.8v0.8h-0.8zM241.7,229.9h0.8v0.8h-0.8zM245.2,232.8h0.8v0.8h-0.8zM233.9,234.1h0.8v0.8h-0.8zM229.4,234.5h0.8v0.8h-0.8zM251.6,233.4h0.8v0.8h-0.8zM244.2,235.2h0.8v0.8h-0.8zM246.2,235.2h0.8v0.8h-0.8zM238.3,233.4h0.8v0.8h-0.8zM253.0,230.7h0.8v0.8h-0.8zM262.0,231.9h0.8v0.8h-0.8zM242.4,227.6h0.8v0.8h-0.8z" fill="#666"/>
<path d="M247.1,212.3h0.8v0.8h-0.8zM249.7,208.4h0.8v0.8h-0.8zM249.2,211.0h0.8v0.8h-0.8zM245.7,203.0h0.8v0.8h-0.8zM246.7,201.7h0.8v0.8h-0.8zM242.7,218.6h0.8v0.8h-0.8zM248.7,207.8h0.8v0.8h-0.8zM250.2,216.6h0.8v0.8h-0.8zM255.5,202.5h0.8v0.8h-0.8zM244.3,207.8h0.8v0.8h-0.8zM248.6,211.1h0.8v0.8h-0.8zM247.8,219.0h0.8v0.8h-0.8zM238.6,215.7h0.8v0.8h-0.8zM253.1,205.1h0.8v0.8h-0.8zM252.3,215.4h0.8v0.8h-0.8zM249.6,212.2h0.8v0.8h-0.8zM249.1,210.7h0.8v0.8h-0.8zM246.7,217.9h0.8v0.8h-0.8zM249.0,209.3h0.8v0.8h-0.8zM248.5,208.2h0.8v0.8h-0.8zM248.6,198.6h0.8v0.8h-0.8zM243.7,211.5h0.8v0.8h-0.8zM239.3,201.5h0.8v0.8h-0.8zM240.2,213.1h0.8v0.8h-0.8zM251.5,200.5h0.8v0.8h-0.8zM255.4,205.7h0.8v0.8h-0.8zM252.2,216.7h0.8v0.8h-0.8zM247.4,207.6h0.8v0.8h-0.8zM242.3,206.0h0.8v0.8h-0.8zM248.1,212.3h0.8v0.8h-0.8zM244.5,200.5h0.8v0.8h-0.8zM248.8,212.8h0.8v0.8h-0.8zM247.9,209.8h0.8v0.8h-0.8zM242.2,212.2h0.8v0.8h-0.8zM250.7,205.0h0.8v0.8h-0.8zM250.1,206.6h0.8v0.8h-0.8zM251.5,200.3h0.8v0.8h-0.8zM247.9,217.5h0.8v0.8h-0.8zM245.5,208.3h0.8v0.8h-0.8zM252.4,201.8h0.8v0.8h-0.8zM247.7,206.4h0.8v0.8h-0.8zM250.8,201.2h0.8v0.8h-0.8zM247.3,201.0h0.8v0.8h-0.8zM243.0,206.7h0.8v0.8h-0.8zM245.8,206.6h0.8v0.8h-0.8zM242.0,205.2h0.8v0.8h-0.8zM243.7,215.7h0.8v0.8h-0.8zM245.7,204.7h0.8v0.8h-0.8zM244.9,211.1h0.8v0.8h-0.8zM257.0,204.7h0.8v0.8h-0.8zM243.6,208.9h0.8v0.8h-0.8zM245.8,199.1h0.8v0.8h-0.8zM249.2,205.3h0.8v0.8h-0.8zM256.1,202.1h0.8v0.8h-0.8zM247.8,214.4h0.8v0.8h-0.8zM249.9,207.2h0.8v0.8h-0.8zM246.5,204.1h0.8v0.8h-0.8zM243.7,213.6h0.8v0.8h-0.8zM244.8,216.5h0.8v0.8h-0.8zM251.3,208.1h0.8v0.8h-0.8zM247.0,206.3h0.8v0.8h-0.8zM247.6,210.7h0.8v0.8h-0.8zM247.4,210.3h0.8v0.8h-0.8zM252.8,203.5h0.8v0.8h-0.8zM254.2,203.9h0.8v0.8h-0.8zM247.7,223.4h0.8v0.8h-0.8zM245.4,205.6h0.8v0.8h-0.8zM245.9,211.3h0.8v0.8h-0.8zM241.4,207.3h0.8v0.8h-0.8zM246.3,201.8h0.8v0.8h-0.8zM250.0,210.1h0.8v0.8h-0.8zM249.9,206.1h0.8v0.8h-0.8zM245.1,205.8h0.8v0.8h-0.8zM247.4,215.5h0.8v0.8h-0.8zM245.8,209.0h0.8v0.8h-0.8zM247.7,209.0h0.8v0.8h-0.8zM251.7,197.4h0.8v0.8h-0.8zM248.6,210.0h0.8v0.8h-0.8zM244.4,208.4h0.8v0.8h-0.8zM245.8,205.0h0.8v0.8h-0.8zM244.6,206.4h0.8v0.8h-0.8zM248.0,211.0h0.8v0.8h-0.8zM246.1,204.0h0.8v0.8h-0.8zM241.9,208.2h0.8v0.8h-0.8zM245.0,199.4h0.8v0.8h-0.8zM250.4,204.8h0.8v0.8h-0.8zM242.8,205.3h0.8v0.8h-0.8zM243.2,208.0h0.8v0.8h-0.8zM248.7,220.7h0.8v0.8h-0.8zM256.0,224.0h0.8v0.8h-0.8zM248.8,202.0h0.8v0.8h-0.8zM244.0,215.5h0.8v0.8h-0.8zM246.2,213.4h0.8v0.8h-0.8zM249.5,215.2h0.8v0.8h-0.8zM253.7,213.8h0.8v0.8h-0.8zM253.8,208.4h0.8v0.8h-0.8zM243.2,211.2h0.8v0.8h-0.8zM245.4,213.5h0.8v0.8h-0.8zM246.5,203.7h0.8v0.8h-0.8zM247.5,208.4h0.8v0.8h-0.8zM250.1,210.4h0.8v0.8h-0.8zM248.9,217.4h0.8v0.8h-0.8zM247.0,213.0h0.8v0.8h-0.8zM253.8,203.9h0.8v0.8h-0.8zM247.8,210.9h0.8v0.8h-0.8zM241.4,208.4h0.8v0.8h-0.8zM247.5,207.5h0.8v0.8h-0.8zM245.6,208.6h0.8v0.8h-0.8zM246.7,206.8h0.8v0.8h-0.8zM255.2,211.9h0.8v0.8h-0.8zM249.6,211.4h0.8v0.8h-0.8zM242.1,209.1h0.8v0.8h-0.8zM248.1,211.2h0.8v0.8h-0.8zM249.4,204.0h0.8v0.8h-0.8zM245.7,211.2h0.8v0.8h-0.8zM251.1,211.2h0.8v0.8h-0.8zM245.5,207.6h0.8v0.8h-0.8zM250.4,210.0h0.8v0.8h-0.8zM245.1,205.0h0.8v0.8h-0.8zM244.1,209.8h0.8v0.8h-0.8zM251.1,204.8h0.8v0.8h-0.8zM241.3,217.7h0.8v0.8h-0.8zM256.0,206.0h0.8v0.8h-0.8zM246.9,211.7h0.8v0.8h-0.8zM239.0,208.0h0.8v0.8h-0.8zM242.4,213.3h0.8v0.8h-0.8zM243.8,206.0h0.8v0.8h-0.8zM238.3,209.1h0.8v0.8h-0.8zM253.8,206.9h0.8v0.8h-0.8zM258.6,208.5h0.8v0.8h-0.8zM244.6,210.3h0.8v0.8h-0.8zM249.6,220.1h0.8v0.8h-0.8zM255.9,216.2h0.8v0.8h-0.8zM245.6,204.3h0.8v0.8h-0.8zM250.3,209.8h0.8v0.8h-0.8zM251.6,214.2h0.8v0.8h-0.8zM240.7,215.2h0.8v0.8h-0.8zM248.8,212.6h0.8v0.8h-0.8zM252.2,209.7h0.8v0.8h-0.8zM248.0,209.8h0.8v0.8h-0.8zM248.3,212.4h0.8v0.8h-0.8zM252.7,207.0h0.8v0.8h-0.8zM253.1,212.4h0.8v0.8h-0.8zM247.3,212.3h0.8v0.8h-0.8zM239.5,208.5h0.8v0.8h-0.8zM246.2,202.0h0.8v0.8h-0.8zM247.3,210.3h0.8v0.8h-0.8zM247.6,206.5h0.8v0.8h-0.8zM248.3,210.1h0.8v0.8h-0.8zM244.6,207.4h0.8v0.8h-0.8zM247.7,209.4h0.8v0.8h-0.8zM241.5,207.4h0.8v0.8h-0.8zM257.0,213.8h0.8v0.8h-0.8zM246.1,204.4h0.8v0.8h-0.8zM245.6,215.2h0.8v0.8h-0.8zM253.3,209.9h0.8v0.8h-0.8zM246.9,207.1h0.8v0.8h-0.8zM248.4,214.2h0.8v0.8h-0.8zM256.8,220.4h0.8v0.8h-0.8zM243.8,204.0h0.8v0.8h-0.8zM247.7,205.9h0.8v0.8h-0.8zM249.0,209.6h0.8v0.8h-0.8zM251.3,211.7h0.8v0.8h-0.8zM244.4,210.3h0.8v0.8h-0.8zM245.5,212.2h0.8v0.8h-0.8zM240.4,206.9h0.8v0.8h-0.8zM251.1,214.9h0.8v0.8h-0.8zM246.0,209.6h0.8v0.8h-0.8zM245.2,220.2h0.8v0.8h-0.8zM248.7,206.1h0.8v0.8h-0.8zM252.2,208.8h0.8v0.8h-0.8zM244.3,210.0h0.8v0.8h-0.8zM239.5,207.2h0.8v0.8h-0.8zM243.4,213.5h0.8v0.8h-0.8zM249.7,203.1h0.8v0.8h-0.8zM248.4,205.8h0.8v0.8h-0.8zM244.1,218.7h0.8v0.8h-0.8zM248.8,208.1h0.8v0.8h-0.8zM245.9,208.4h0.8v0.8h-0.8zM247.6,215.5h0.8v0.8h-0.8zM244.0,205.6h0.8v0.8h-0.8zM241.7,200.5h0.8v0.8h-0.8zM248.3,206.7h0.8v0.8h-0.8zM249.4,203.1h0.8v0.8h-0.8zM247.4,216.8h0.8v0.8h-0.8zM240.7,210.6h0.8v0.8h-0.8zM250.1,206.4h0.8v0.8h-0.8zM251.7,213.3h0.8v0.8h-0.8zM245.0,213.1h0.8v0.8h-0.8zM246.9,202.2h0.8v0.8h-0.8zM247.0,210.6h0.8v0.8h-0.8zM246.0,204.6h0.8v0.8h-0.8zM247.4,213.3h0.8v0.8h-0.8zM251.4,214.8h0.8v0.8h-0.8zM249.8,213.1h0.8v0.8h-0.8zM239.9,210.0h0.8v0.8h-0.8zM246.1,208.0h0.8v0.8h-0.8zM246.6,215.7h0.8v0.8h-0.8zM242.8,206.4h0.8v0.8h-0.8zM236.9,219.5h0.8v0.8h-0.8zM251.0,207.1h0.8v0.8h-0.8zM249.0,208.1h0.8v0.8h-0.8zM249.2,201.2h0.8v0.8h-0.8zM246.2,213.6h0.8v0.8h-0.8zM252.6,206.7h0.8v0.8h-0.8zM254.5,207.9h0.8v0.8h-0.8zM252.5,207.0h0.8v0.8h-0.8zM250.4,211.6h0.8v0.8h-0.8zM254.3,203.9h0.8v0.8h-0.8zM248.3,203.1h0.8v0.8h-0.8zM250.0,208.1h0.8v0.8h-0.8zM242.3,209.1h0.8v0.8h-0.8zM246.0,207.5h0.8v0.8h-0.8zM251.8,205.9h0.8v0.8h-0.8zM251.3,220.1h0.8v0.8h-0.8zM250.2,205.2h0.8v0.8h-0.8zM247.3,208.0h0.8v0.8h-0.8zM240.4,210.1h0.8v0.8h-0.8zM245.3,214.9h0.8v0.8h-0.8zM251.0,210.1h0.8v0.8h-0.8zM240.7,195.2h0.8v0.8h-0.8zM248.9,215.7h0.8v0.8h-0.8zM244.3,207.5h0.8v0.8h-0.8zM245.2,207.7h0.8v0.8h-0.8zM242.6,206.6h0.8v0.8h-0.8zM253.0,206.7h0.8v0.8h-0.8zM248.2,213.2h0.8v0.8h-0.8zM247.4,210.9h0.8v0.8h-0.8zM257.8,210.3h0.8v0.8h-0.8zM244.6,207.5h0.8v0.8h-0.8zM248.5,211.6h0.8v0.8h-0.8zM250.5,211.8h0.8v0.8h-0.8zM248.4,207.6h0.8v0.8h-0.8zM248.1,203.8h0.8v0.8h-0.8zM241.5,216.7h0.8v0.8h-0.8zM244.6,213.3h0.8v0.8h-0.8zM244.3,203.5h0.8v0.8h-0.8zM242.8,209.9h0.8v0.8h-0.8zM248.7,211.8h0.8v0.8h-0.8zM241.2,213.7h0.8v0.8h-0.8zM251.6,212.8h0.8v0.8h-0.8zM251.4,207.7h0.8v0.8h-0.8zM246.6,210.8h0.8v0.8h-0.8zM247.7,218.4h0.8v0.8h-0.8zM249.1,209.5h0.8v0.8h-0.8zM242.8,213.1h0.8v0.8h-0.8zM246.6,214.2h0.8v0.8h-0.8zM252.2,211.1h0.8v0.8h-0.8zM246.8,206.2h0.8v0.8h-0.8zM253.5,204.3h0.8v0.8h-0.8zM250.3,210.6h0.8v0.8h-0.8zM246.2,209.7h0.8v0.8h-0.8zM246.1,208.3h0.8v0.8h-0.8zM251.3,201.2h0.8v0.8h-0.8zM246.9,203.2h0.8v0.8h-0.8zM251.2,208.8h0.8v0.8h-0.8zM238.2,216.3h0.8v0.8h-0.8zM245.6,205.6h0.8v0.8h-0.8zM240.9,207.4h0.8v0.8h-0.8zM249.2,204.4h0.8v0.8h-0.8zM247.1,217.3h0.8v0.8h-0.8zM252.6,213.3h0.8v0.8h-0.8zM243.7,203.0h0.8v0.8h-0.8zM253.3,207.3h0.8v0.8h-0.8zM251.9,204.4h0.8v0.8h-0.8zM244.6,208.8h0.8v0.8h-0.8zM253.5,207.8h0.8v0.8h-0.8zM251.9,216.6h0.8v0.8h-0.8zM243.4,203.4h0.8v0.8h-0.8zM249.0,205.7h0.8v0.8h-0.8zM248.0,207.4h0.8v0.8h-0.8zM249.1,207.2h0.8v0.8h-0.8zM247.2,209.5h0.8v0.8h-0.8zM252.1,208.6h0.8v0.8h-0.8zM246.7,212.0h0.8v0.8h-0.8zM249.1,200.2h0.8v0.8h-0.8zM246.5,207.8h0.8v0.8h-0.8zM245.1,208.2h0.8v0.8h-0.8zM239.7,218.4h0.8v0.8h-0.8zM249.2,210.0h0.8v0.8h-0.8zM247.0,202.5h0.8v0.8h-0.8zM248.5,208.9h0.8v0.8h-0.8zM247.5,204.2h0.8v0.8h-0.8zM244.6,210.2h0.8v0.8h-0.8zM243.2,203.6h0.8v0.8h-0.8zM247.3,211.6h0.8v0.8h-0.8zM240.9,207.4h0.8v0.8h-0.8zM244.0,203.0h0.8v0.8h-0.8zM247.7,206.6h0.8v0.8h-0.8zM246.6,216.6h0.8v0.8h-0.8zM247.5,201.5h0.8v0.8h-0.8zM242.0,207.1h0.8v0.8h-0.8zM245.2,211.4h0.8v0.8h-0.8zM242.8,212.8h0.8v0.8h-0.8zM251.7,205.2h0.8v0.8h-0.8zM247.2,211.3h0.8v0.8h-0.8zM247.1,213.6h0.8v0.8h-0.8zM250.2,206.6h0.8v0.8h-0.8zM252.6,213.0h0.8v0.8h-0.8zM242.6,202.3h0.8v0.8h-0.8zM248.8,213.2h0.8v0.8h-0.8zM243.4,210.7h0.8v0.8h-0.8zM243.9,203.5h0.8v0.8h-0.8zM245.5,200.7h0.8v0.8h-0.8zM244.4,215.1h0.8v0.8h-0.8zM250.6,205.4h0.8v0.8h-0.8zM248.3,215.8h0.8v0.8h-0.8zM242.6,211.8h0.8v0.8h-0.8zM244.8,210.4h0.8v0.8h-0.8zM245.1,210.1h0.8v0.8h-0.8zM252.1,211.2h0.8v0.8h-0.8zM252.7,208.5h0.8v0.8h-0.8zM257.1,203.2h0.8v0.8h-0.8zM240.5,209.4h0.8v0.8h-0.8zM246.4,209.9h0.8v0.8h-0.8zM255.8,207.9h0.8v0.8h-0.8zM248.0,203.6h0.8v0.8h-0.8zM249.2,203.9h0.8v0.8h-0.8zM248.1,205.9h0.8v0.8h-0.8zM246.5,208.0h0.8v0.8h-0.8zM256.0,204.8h0.8v0.8h-0.8zM242.8,214.7h0.8v0.8h-0.8zM256.1,206.5h0.8v0.8h-0.8zM247.0,210.2h0.8v0.8h-0.8zM255.9,204.0h0.8v0.8h-0.8zM244.8,210.0h0.8v0.8h-0.8zM247.1,210.1h0.8v0.8h-0.8zM242.0,209.3h0.8v0.8h-0.8zM247.1,203.5h0.8v0.8h-0.8zM249.8,211.7h0.8v0.8h-0.8zM248.6,206.1h0.8v0.8h-0.8zM248.6,211.8h0.8v0.8h-0.8zM245.9,206.5h0.8v0.8h-0.8zM250.2,207.4h0.8v0.8h-0.8zM250.6,212.7h0.8v0.8h-0.8zM258.5,208.7h0.8v0.8h-0.8zM244.8,208.8h0.8v0.8h-0.8zM252.0,203.7h0.8v0.8h-0.8zM254.3,211.1h0.8v0.8h-0.8zM254.4,210.5h0.8v0.8h-0.8zM248.9,212.6h0.8v0.8h-0.8zM248.2,211.7h0.8v0.8h-0.8zM249.4,211.3h0.8v0.8h-0.8zM251.0,212.3h0.8v0.8h-0.8zM246.4,209.0h0.8v0.8h-0.8zM248.6,205.1h0.8v0.8h-0.8zM251.8,206.1h0.8v0.8h-0.8zM252.0,207.0h0.8v0.8h-0.8zM248.4,206.1h0.8v0.8h-0.8zM243.9,204.2h0.8v0.8h-0.8zM250.4,211.3h0.8v0.8h-0.8zM246.6,198.7h0.8v0.8h-0.8zM244.2,212.5h0.8v0.8h-0.8zM249.4,206.4h0.8v0.8h-0.8zM245.4,210.7h0.8v0.8h-0.8zM244.1,207.1h0.8v0.8h-0.8zM247.0,206.7h0.8v0.8h-0.8zM239.8,198.3h0.8v0.8h-0.8zM247.2,203.3h0.8v0.8h-0.8zM249.4,207.2h0.8v0.8h-0.8zM246.3,207.3h0.8v0.8h-0.8zM246.3,210.2h0.8v0.8h-0.8zM246.5,207.2h0.8v0.8h-0.8zM252.1,212.9h0.8v0.8h-0.8zM257.2,215.4h0.8v0.8h-0.8zM243.5,205.2h0.8v0.8h-0.8zM241.6,201.3h0.8v0.8h-0.8zM251.8,205.4h0.8v0.8h-0.8zM242.0,211.5h0.8v0.8h-0.8zM243.8,213.9h0.8v0.8h-0.8zM249.9,207.5h0.8v0.8h-0.8zM247.0,211.1h0.8v0.8h-0.8zM243.8,207.1h0.8v0.8h-0.8zM250.7,196.6h0.8v0.8h-0.8zM241.2,202.8h0.8v0.8h-0.8zM253.6,206.6h0.8v0.8h-0.8zM243.8,215.5h0.8v0.8h-0.8zM248.3,203.2h0.8v0.8h-0.8zM246.1,206.6h0.8v0.8h-0.8zM253.0,207.9h0.8v0.8h-0.8zM243.5,206.8h0.8v0.8h-0.8zM244.1,208.4h0.8v0.8h-0.8zM250.3,216.8h0.8v0.8h-0.8zM253.8,201.7h0.8v0.8h-0.8zM247.2,212.0h0.8v0.8h-0.8zM248.5,209.9h0.8v0.8h-0.8zM251.4,208.0h0.8v0.8h-0.8zM247.3,205.4h0.8v0.8h-0.8zM250.4,205.6h0.8v0.8h-0.8zM241.0,215.9h0.8v0.8h-0.8zM244.0,215.1h0.8v0.8h-0.8zM250.3,206.0h0.8v0.8h-0.8zM248.1,205.4h0.8v0.8h-0.8zM243.6,208.9h0.8v0.8h-0.8zM245.0,210.5h0.8v0.8h-0.8zM252.2,210.9h0.8v0.8h-0.8zM241.6,206.0h0.8v0.8h-0.8zM244.3,202.1h0.8v0.8h-0.8zM253.0,201.0h0.8v0.8h-0.8zM250.3,205.7h0.8v0.8h-0.8zM245.6,214.3h0.8v0.8h-0.8zM246.5,205.2h0.8v0.8h-0.8zM249.3,209.7h0.8v0.8h-0.8zM240.9,206.0h0.8v0.8h-0.8zM253.8,208.5h0.8v0.8h-0.8zM243.0,213.4h0.8v0.8h-0.8zM246.5,211.6h0.8v0.8h-0.8zM250.0,208.1h0.8v0.8h-0.8zM245.7,209.8h0.8v0.8h-0.8zM253.6,203.5h0.8v0.8h-0.8zM246.9,201.2h0.8v0.8h-0.8zM247.5,209.1h0.8v0.8h-0.8zM254.6,204.0h0.8v0.8h-0.8zM244.6,207.6h0.8v0.8h-0.8zM245.3,206.2h0.8v0.8h-0.8zM251.9,207.7h0.8v0.8h-0.8zM243.3,216.3h0.8v0.8h-0.8zM247.3,210.9h0.8v0.8h-0.8zM250.1,217.9h0.8v0.8h-0.8zM248.5,209.2h0.8v0.8h-0.8z" fill="#444"/>
<path d="M230.6,194.6h0.7v0.7h-0.7zM230.0,206.9h0.7v0.7h-0.7zM244.5,198.6h0.7v0.7h-0.7zM235.3,203.8h0.7v0.7h-0.7zM240.4,207.8h0.7v0.7h-0.7zM239.4,214.0h0.7v0.7h-0.7zM233.6,208.7h0.7v0.7h-0.7zM230.0,206.0h0.7v0.7h-0.7zM226.0,210.3h0.7v0.7h-0.7zM230.3,197.6h0.7v0.7h-0.7zM237.7,211.4h0.7v0.7h-0.7zM236.4,205.9h0.7v0.7h-0.7zM227.8,210.6h0.7v0.7h-0.7zM227.1,210.9h0.7v0.7h-0.7zM232.5,208.3h0.7v0.7h-0.7zM234.8,222.3h0.7v0.7h-0.7zM238.6,207.5h0.7v0.7h-0.7zM244.9,212.0h0.7v0.7h-0.7zM223.6,215.3h0.7v0.7h-0.7zM224.1,212.1h0.7v0.7h-0.7zM224.9,226.5h0.7v0.7h-0.7zM233.9,207.7h0.7v0.7h-0.7zM236.7,209.5h0.7v0.7h-0.7zM232.6,209.4h0.7v0.7h-0.7zM231.9,216.5h0.7v0.7h-0.7zM227.0,205.4h0.7v0.7h-0.7zM229.2,208.1h0.7v0.7h-0.7zM228.3,208.0h0.7v0.7h-0.7zM234.1,215.1h0.7v0.7h-0.7zM225.3,214.2h0.7v0.7h-0.7zM233.2,212.7h0.7v0.7h-0.7zM231.8,215.4h0.7v0.7h-0.7zM225.0,216.0h0.7v0.7h-0.7zM229.2,208.9h0.7v0.7h-0.7zM238.9,211.0h0.7v0.7h-0.7zM238.4,214.5h0.7v0.7h-0.7zM234.8,222.8h0.7v0.7h-0.7zM234.7,206.0h0.7v0.7h-0.7zM219.0,212.1h0.7v0.7h-0.7zM226.9,207.0h0.7v0.7h-0.7zM239.6,211.3h0.7v0.7h-0.7zM231.0,213.4h0.7v0.7h-0.7zM236.9,210.1h0.7v0.7h-0.7zM239.7,226.1h0.7v0.7h-0.7zM216.7,214.2h0.7v0.7h-0.7zM232.2,196.3h0.7v0.7h-0.7zM236.5,208.9h0.7v0.7h-0.7zM229.7,205.5h0.7v0.7h-0.7zM238.2,227.1h0.7v0.7h-0.7zM230.3,207.6h0.7v0.7h-0.7zM230.9,213.4h0.7v0.7h-0.7zM232.8,207.1h0.7v0.7h-0.7zM236.4,210.3h0.7v0.7h-0.7zM229.2,208.8h0.7v0.7h-0.7zM234.0,208.5h0.7v0.7h-0.7zM231.9,205.1h0.7v0.7h-0.7zM230.3,219.1h0.7v0.7h-0.7zM226.1,214.0h0.7v0.7h-0.7zM228.9,212.0h0.7v0.7h-0.7zM231.0,217.6h0.7v0.7h-0.7zM221.5,215.3h0.7v0.7h-0.7zM223.3,209.9h0.7v0.7h-0.7zM230.5,213.2h0.7v0.7h-0.7zM232.4,213.6h0.7v0.7h-0.7zM235.7,203.6h0.7v0.7h-0.7zM226.2,202.6h0.7v0.7h-0.7zM228.3,210.2h0.7v0.7h-0.7zM234.5,204.4h0.7v0.7h-0.7zM233.6,217.0h0.7v0.7h-0.7zM228.4,214.6h0.7v0.7h-0.7zM241.6,205.7h0.7v0.7h-0.7zM222.5,214.4h0.7v0.7h-0.7zM230.0,207.9h0.7v0.7h-0.7zM232.2,218.5h0.7v0.7h-0.7zM226.6,206.4h0.7v0.7h-0.7zM235.2,203.7h0.7v0.7h-0.7zM239.6,223.6h0.7v0.7h-0.7zM234.5,199.3h0.7v0.7h-0.7zM231.5,211.7h0.7v0.7h-0.7zM235.2,203.8h0.7v0.7h-0.7zM229.1,213.9h0.7v0.7h-0.7zM233.8,210.0h0.7v0.7h-0.7zM235.6,216.9h0.7v0.7h-0.7zM237.2,216.5h0.7v0.7h-0.7zM220.2,201.4h0.7v0.7h-0.7zM226.7,206.7h0.7v0.7h-0.7zM233.8,202.6h0.7v0.7h-0.7zM235.2,196.5h0.7v0.7h-0.7zM231.4,206.5h0.7v0.7h-0.7zM227.9,204.9h0.7v0.7h-0.7zM230.2,201.7h0.7v0.7h-0.7zM225.3,219.6h0.7v0.7h-0.7zM224.6,219.3h0.7v0.7h-0.7zM234.0,208.3h0.7v0.7h-0.7zM227.2,214.8h0.7v0.7h-0.7zM225.1,222.5h0.7v0.7h-0.7zM242.9,210.6h0.7v0.7h-0.7zM229.3,207.5h0.7v0.7h-0.7zM225.9,212.6h0.7v0.7h-0.7zM231.2,210.8h0.7v0.7h-0.7zM249.4,217.6h0.7v0.7h-0.7zM230.5,211.4h0.7v0.7h-0.7zM237.3,204.3h0.7v0.7h-0.7zM241.7,207.0h0.7v0.7h-0.7zM236.2,209.4h0.7v0.7h-0.7zM227.0,203.9h0.7v0.7h-0.7zM230.0,208.2h0.7v0.7h-0.7zM238.2,197.1h0.7v0.7h-0.7zM240.4,213.7h0.7v0.7h-0.7zM237.9,214.4h0.7v0.7h-0.7zM229.8,200.4h0.7v0.7h-0.7zM233.5,205.4h0.7v0.7h-0.7zM236.9,212.5h0.7v0.7h-0.7zM228.5,192.7h0.7v0.7h-0.7zM234.2,211.1h0.7v0.7h-0.7zM245.7,215.0h0.7v0.7h-0.7zM242.2,215.2h0.7v0.7h-0.7zM223.5,203.5h0.7v0.7h-0.7zM234.7,217.9h0.7v0.7h-0.7zM221.7,220.5h0.7v0.7h-0.7zM223.5,212.5h0.7v0.7h-0.7zM235.7,216.8h0.7v0.7h-0.7zM225.3,218.1h0.7v0.7h-0.7zM228.2,217.5h0.7v0.7h-0.7zM232.4,203.0h0.7v0.7h-0.7zM235.1,219.1h0.7v0.7h-0.7zM223.7,208.7h0.7v0.7h-0.7zM225.9,208.2h0.7v0.7h-0.7zM230.7,203.9h0.7v0.7h-0.7zM223.1,207.5h0.7v0.7h-0.7zM235.6,205.2h0.7v0.7h-0.7zM236.2,209.7h0.7v0.7h-0.7zM238.6,216.2h0.7v0.7h-0.7zM226.2,207.0h0.7v0.7h-0.7zM234.3,202.8h0.7v0.7h-0.7zM222.7,215.2h0.7v0.7h-0.7zM230.8,225.4h0.7v0.7h-0.7zM225.8,207.4h0.7v0.7h-0.7zM232.9,201.7h0.7v0.7h-0.7zM229.2,207.9h0.7v0.7h-0.7zM221.4,215.1h0.7v0.7h-0.7zM237.5,211.5h0.7v0.7h-0.7zM220.4,205.9h0.7v0.7h-0.7zM239.8,208.8h0.7v0.7h-0.7zM237.5,209.6h0.7v0.7h-0.7zM236.8,217.8h0.7v0.7h-0.7zM232.4,204.1h0.7v0.7h-0.7zM235.1,218.0h0.7v0.7h-0.7zM227.0,207.0h0.7v0.7h-0.7zM225.9,215.9h0.7v0.7h-0.7zM216.9,214.7h0.7v0.7h-0.7zM233.9,207.7h0.7v0.7h-0.7zM223.0,210.8h0.7v0.7h-0.7zM227.5,209.4h0.7v0.7h-0.7zM225.9,211.7h0.7v0.7h-0.7zM235.9,211.0h0.7v0.7h-0.7zM232.4,215.3h0.7v0.7h-0.7zM218.8,200.7h0.7v0.7h-0.7zM233.1,206.7h0.7v0.7h-0.7zM235.0,221.5h0.7v0.7h-0.7zM226.8,205.0h0.7v0.7h-0.7zM223.7,209.9h0.7v0.7h-0.7zM232.7,198.8h0.7v0.7h-0.7zM224.4,225.0h0.7v0.7h-0.7zM230.8,217.7h0.7v0.7h-0.7zM233.4,218.0h0.7v0.7h-0.7zM238.6,216.0h0.7v0.7h-0.7zM218.2,220.5h0.7v0.7h-0.7zM228.4,216.7h0.7v0.7h-0.7zM221.6,201.9h0.7v0.7h-0.7zM230.0,204.4h0.7v0.7h-0.7zM223.9,201.0h0.7v0.7h-0.7zM221.5,204.7h0.7v0.7h-0.7zM227.0,215.6h0.7v0.7h-0.7zM233.8,208.4h0.7v0.7h-0.7zM225.3,210.7h0.7v0.7h-0.7zM228.0,210.5h0.7v0.7h-0.7zM228.7,219.3h0.7v0.7h-0.7zM244.0,214.2h0.7v0.7h-0.7zM237.3,223.6h0.7v0.7h-0.7zM220.2,218.2h0.7v0.7h-0.7zM228.4,206.4h0.7v0.7h-0.7zM234.2,204.5h0.7v0.7h-0.7zM236.9,207.4h0.7v0.7h-0.7zM240.0,212.5h0.7v0.7h-0.7zM237.9,207.1h0.7v0.7h-0.7zM226.8,202.9h0.7v0.7h-0.7zM228.8,216.1h0.7v0.7h-0.7zM240.6,209.8h0.7v0.7h-0.7zM225.6,222.8h0.7v0.7h-0.7zM223.2,208.9h0.7v0.7h-0.7zM231.0,221.4h0.7v0.7h-0.7zM226.8,207.0h0.7v0.7h-0.7zM228.0,198.8h0.7v0.7h-0.7zM228.7,206.9h0.7v0.7h-0.7zM234.2,225.4h0.7v0.7h-0.7zM239.6,217.7h0.7v0.7h-0.7zM227.1,216.0h0.7v0.7h-0.7zM228.7,211.9h0.7v0.7h-0.7zM228.0,206.1h0.7v0.7h-0.7zM227.2,222.1h0.7v0.7h-0.7zM234.4,211.1h0.7v0.7h-0.7zM226.0,212.1h0.7v0.7h-0.7zM241.0,207.7h0.7v0.7h-0.7zM223.3,210.3h0.7v0.7h-0.7zM236.3,212.0h0.7v0.7h-0.7zM243.5,215.0h0.7v0.7h-0.7zM235.9,215.6h0.7v0.7h-0.7zM228.6,211.8h0.7v0.7h-0.7zM225.9,214.3h0.7v0.7h-0.7zM223.0,201.6h0.7v0.7h-0.7zM228.6,211.2h0.7v0.7h-0.7zM230.3,206.2h0.7v0.7h-0.7zM226.7,208.9h0.7v0.7h-0.7zM237.2,221.8h0.7v0.7h-0.7zM228.0,208.7h0.7v0.7h-0.7zM230.6,206.1h0.7v0.7h-0.7zM228.2,214.6h0.7v0.7h-0.7zM232.8,203.8h0.7v0.7h-0.7zM231.5,201.7h0.7v0.7h-0.7zM222.4,213.6h0.7v0.7h-0.7zM222.6,211.5h0.7v0.7h-0.7zM234.8,205.9h0.7v0.7h-0.7zM234.0,204.4h0.7v0.7h-0.7zM229.5,203.3h0.7v0.7h-0.7zM219.9,206.7h0.7v0.7h-0.7zM234.1,227.6h0.7v0.7h-0.7zM235.3,206.2h0.7v0.7h-0.7zM243.3,204.8h0.7v0.7h-0.7zM229.8,211.6h0.7v0.7h-0.7zM230.2,218.9h0.7v0.7h-0.7zM238.5,196.7h0.7v0.7h-0.7zM227.5,204.6h0.7v0.7h-0.7zM235.8,214.3h0.7v0.7h-0.7zM228.8,207.1h0.7v0.7h-0.7zM233.6,213.5h0.7v0.7h-0.7zM236.6,207.6h0.7v0.7h-0.7zM226.2,210.5h0.7v0.7h-0.7zM232.8,204.5h0.7v0.7h-0.7zM234.6,208.5h0.7v0.7h-0.7zM226.9,211.7h0.7v0.7h-0.7zM234.7,210.1h0.7v0.7h-0.7zM234.7,222.3h0.7v0.7h-0.7zM228.4,211.6h0.7v0.7h-0.7zM225.1,205.5h0.7v0.7h-0.7zM235.0,204.2h0.7v0.7h-0.7zM229.2,201.8h0.7v0.7h-0.7zM232.1,211.3h0.7v0.7h-0.7zM242.6,213.5h0.7v0.7h-0.7zM228.7,214.9h0.7v0.7h-0.7zM239.4,197.0h0.7v0.7h-0.7zM237.0,199.5h0.7v0.7h-0.7zM233.5,216.4h0.7v0.7h-0.7zM224.4,228.4h0.7v0.7h-0.7zM230.0,217.2h0.7v0.7h-0.7zM231.9,216.2h0.7v0.7h-0.7zM231.5,207.6h0.7v0.7h-0.7zM230.0,207.6h0.7v0.7h-0.7zM222.3,213.4h0.7v0.7h-0.7z" fill="#b5b5b5"/>
<path d="M241.1,218.6h0.7v0.7h-0.7zM236.7,219.3h0.7v0.7h-0.7zM248.5,221.3h0.7v0.7h-0.7zM238.6,218.0h0.7v0.7h-0.7zM239.1,221.3h0.7v0.7h-0.7zM229.9,220.6h0.7v0.7h-0.7zM250.4,218.8h0.7v0.7h-0.7zM250.1,218.7h0.7v0.7h-0.7zM247.0,218.9h0.7v0.7h-0.7zM240.2,219.8h0.7v0.7h-0.7zM241.4,219.2h0.7v0.7h-0.7zM244.5,221.8h0.7v0.7h-0.7zM247.5,219.0h0.7v0.7h-0.7zM243.7,220.9h0.7v0.7h-0.7zM242.6,219.5h0.7v0.7h-0.7zM243.8,221.3h0.7v0.7h-0.7zM239.5,221.5h0.7v0.7h-0.7zM238.9,218.8h0.7v0.7h-0.7zM247.8,219.6h0.7v0.7h-0.7zM242.2,220.6h0.7v0.7h-0.7zM247.0,221.9h0.7v0.7h-0.7zM251.2,220.6h0.7v0.7h-0.7zM240.8,221.5h0.7v0.7h-0.7zM248.7,220.0h0.7v0.7h-0.7zM248.9,220.0h0.7v0.7h-0.7zM246.1,218.5h0.7v0.7h-0.7zM259.5,217.3h0.7v0.7h-0.7zM244.3,218.9h0.7v0.7h-0.7zM258.8,221.4h0.7v0.7h-0.7zM254.0,221.1h0.7v0.7h-0.7zM247.0,219.7h0.7v0.7h-0.7zM252.9,222.1h0.7v0.7h-0.7zM246.2,221.2h0.7v0.7h-0.7zM258.7,217.8h0.7v0.7h-0.7zM250.9,221.7h0.7v0.7h-0.7zM259.9,220.4h0.7v0.7h-0.7zM241.9,219.8h0.7v0.7h-0.7zM242.4,219.4h0.7v0.7h-0.7zM265.4,220.9h0.7v0.7h-0.7zM248.1,221.5h0.7v0.7h-0.7zM243.9,219.4h0.7v0.7h-0.7zM239.4,221.0h0.7v0.7h-0.7zM249.6,218.1h0.7v0.7h-0.7zM253.4,219.7h0.7v0.7h-0.7zM254.9,221.7h0.7v0.7h-0.7zM248.2,222.0h0.7v0.7h-0.7zM241.1,219.6h0.7v0.7h-0.7zM249.3,221.9h0.7v0.7h-0.7zM244.6,219.9h0.7v0.7h-0.7zM235.6,220.5h0.7v0.7h-0.7zM251.3,219.4h0.7v0.7h-0.7zM241.3,226.2h0.7v0.7h-0.7zM242.4,220.2h0.7v0.7h-0.7zM251.2,220.1h0.7v0.7h-0.7zM245.8,219.6h0.7v0.7h-0.7zM242.1,222.4h0.7v0.7h-0.7zM236.6,223.7h0.7v0.7h-0.7zM259.8,219.1h0.7v0.7h-0.7zM235.8,220.8h0.7v0.7h-0.7zM250.0,219.8h0.7v0.7h-0.7zM246.7,220.9h0.7v0.7h-0.7zM239.3,219.8h0.7v0.7h-0.7zM245.4,223.4h0.7v0.7h-0.7zM246.0,219.8h0.7v0.7h-0.7zM250.1,222.1h0.7v0.7h-0.7zM248.6,222.2h0.7v0.7h-0.7zM256.3,219.9h0.7v0.7h-0.7zM251.7,222.7h0.7v0.7h-0.7zM240.1,220.5h0.7v0.7h-0.7zM256.1,219.7h0.7v0.7h-0.7zM248.6,219.0h0.7v0.7h-0.7zM235.3,221.1h0.7v0.7h-0.7zM257.4,221.2h0.7v0.7h-0.7zM241.5,218.7h0.7v0.7h-0.7zM244.9,220.4h0.7v0.7h-0.7zM249.1,218.2h0.7v0.7h-0.7zM252.5,217.4h0.7v0.7h-0.7zM248.6,222.7h0.7v0.7h-0.7zM258.8,218.4h0.7v0.7h-0.7zM240.2,218.3h0.7v0.7h-0.7zM244.1,220.9h0.7v0.7h-0.7zM245.2,219.2h0.7v0.7h-0.7zM259.7,219.9h0.7v0.7h-0.7zM258.2,219.8h0.7v0.7h-0.7zM238.2,219.7h0.7v0.7h-0.7zM254.3,221.7h0.7v0.7h-0.7zM245.9,221.6h0.7v0.7h-0.7zM228.7,221.3h0.7v0.7h-0.7zM252.9,222.9h0.7v0.7h-0.7zM234.4,219.0h0.7v0.7h-0.7zM232.8,220.6h0.7v0.7h-0.7zM252.0,223.0h0.7v0.7h-0.7zM251.6,220.3h0.7v0.7h-0.7zM244.6,223.3h0.7v0.7h-0.7zM239.1,221.2h0.7v0.7h-0.7zM246.9,218.2h0.7v0.7h-0.7zM240.9,219.7h0.7v0.7h-0.7zM245.1,221.1h0.7v0.7h-0.7zM243.2,220.9h0.7v0.7h-0.7zM245.7,220.9h0.7v0.7h-0.7z" fill="#888"/>
</g>
<path d="M57.3,241 V225.4 H79.5" fill="none" stroke="#555" stroke-width="1"/>
<rect x="160.3" y="198" width="21.299999999999983" height="19.599999999999994" fill="none" stroke="#555" stroke-width="1"/>
<rect x="137" y="223.5" width="44.599999999999994" height="17.30000000000001" fill="none" stroke="#555" stroke-width="1"/>
<line x1="160.4" y1="223.5" x2="155.5" y2="234" stroke="#666" stroke-width="0.9"/>
<rect x="239.3" y="198" width="21.899999999999977" height="19.599999999999994" fill="none" stroke="#555" stroke-width="1"/>
<rect x="216.8" y="223.2" width="44.39999999999998" height="17.30000000000001" fill="none" stroke="#555" stroke-width="1"/>
<text x="61.50" y="222.50" font-size="11" text-anchor="start" font-weight="normal" font-style="normal" fill="#4a4c8c" >a</text>
<text x="142.80" y="222.30" font-size="11" text-anchor="start" font-weight="normal" font-style="normal" fill="#4a4c8c" >b</text>
<text x="263.60" y="231.80" font-size="12" text-anchor="start" font-weight="normal" font-style="normal" fill="#4a4c8c" >c</text>
<text x="264.30" y="211.50" font-size="12" text-anchor="start" font-weight="normal" font-style="normal" fill="#4a4c8c" >d</text>
<text x="124.90" y="183.40" font-size="12.5" text-anchor="end" font-weight="normal" font-style="normal" fill="#1a1a1a" >Day0</text>
<text x="208.90" y="183.10" font-size="12.5" text-anchor="end" font-weight="normal" font-style="normal" fill="#1a1a1a" >Day2.5</text>
<text x="287.60" y="183.10" font-size="12.5" text-anchor="end" font-weight="normal" font-style="normal" fill="#1a1a1a" >Day3.75</text>
<line x1="47" y1="250" x2="47" y2="183" stroke="#111" stroke-width="1.8"/>
<path d="M44.2,184.5 L47,178.6 L49.8,184.5 Z" fill="#111"/>
<line x1="46.1" y1="250" x2="125" y2="250" stroke="#111" stroke-width="1.8"/>
<path d="M124.5,247.2 L130.6,250 L124.5,252.8 Z" fill="#111"/>
<text x="-213.40" y="44.00" font-size="12.2" text-anchor="middle" font-weight="normal" font-style="normal" fill="#1a1a1a" transform="rotate(-90)">PE-Flk1</text>
<text x="47.00" y="264.60" font-size="12.3" text-anchor="start" font-weight="normal" font-style="normal" fill="#1a1a1a" >GFP (Bra/T)</text>
<text x="96.70" y="298.80" font-size="10.2" text-anchor="middle" font-weight="normal" font-style="normal" fill="#1a1a1a" >ES cells</text>
<text x="146.70" y="298.60" font-size="10.2" text-anchor="middle" font-weight="normal" font-style="normal" fill="#1a1a1a" >GFP-/Flk1-</text>
<text x="204.00" y="298.60" font-size="10.2" text-anchor="middle" font-weight="normal" font-style="normal" fill="#1a1a1a" >GFP+/Flk1-</text>
<text x="261.30" y="298.60" font-size="10.2" text-anchor="middle" font-weight="normal" font-style="normal" fill="#1a1a1a" >GFP+/Flk1+</text>
<text x="97.30" y="311.90" font-size="12" text-anchor="middle" font-weight="normal" font-style="normal" fill="#4a4c8c" >a</text>
<text x="150.00" y="311.90" font-size="12" text-anchor="middle" font-weight="normal" font-style="normal" fill="#4a4c8c" >b</text>
<text x="201.90" y="311.90" font-size="12" text-anchor="middle" font-weight="normal" font-style="normal" fill="#4a4c8c" >c</text>
<text x="254.40" y="311.90" font-size="12" text-anchor="middle" font-weight="normal" font-style="normal" fill="#4a4c8c" >d</text>
<path d="M77.4,321.7 L77.4,312 L123.8,321.7 Z" fill="white" stroke="#111" stroke-width="1.6" stroke-linejoin="miter"/>
<path d="M130,321.7 L130,312 L176.2,321.7 Z" fill="white" stroke="#111" stroke-width="1.6" stroke-linejoin="miter"/>
<path d="M180.3,321.7 L180.3,312 L226,321.7 Z" fill="white" stroke="#111" stroke-width="1.6" stroke-linejoin="miter"/>
<path d="M231.2,321.7 L231.2,312 L277,321.7 Z" fill="white" stroke="#111" stroke-width="1.6" stroke-linejoin="miter"/>
<defs><filter id="bl" x="-20%" y="-50%" width="140%" height="200%"><feGaussianBlur stdDeviation="0.9"/></filter><filter id="bl2" x="-20%" y="-50%" width="140%" height="200%"><feGaussianBlur stdDeviation="0.6"/></filter><filter id="bl3" x="-20%" y="-80%" width="140%" height="260%"><feGaussianBlur stdDeviation="0.4"/></filter><linearGradient id="oct" x1="0" y1="0" x2="1" y2="0"><stop offset="0" stop-color="#e6e6e6"/><stop offset="0.5" stop-color="#ebebeb"/><stop offset="1" stop-color="#f0f0f0"/></linearGradient><linearGradient id="sox" x1="0" y1="0" x2="1" y2="0"><stop offset="0" stop-color="#d6d6da"/><stop offset="1" stop-color="#e6e6e6"/></linearGradient></defs>
<rect x="76.5" y="325" width="203.8" height="23.5" fill="url(#oct)" stroke="#444" stroke-width="1.3"/>
<rect x="76.5" y="353.2" width="203.8" height="14.9" fill="url(#sox)" stroke="#444" stroke-width="1.3"/>
<rect x="76.5" y="371.3" width="203.8" height="23.9" fill="#faf7f7" stroke="#444" stroke-width="1.3"/>
<filter id="nz" x="0" y="0" width="100%" height="100%"><feTurbulence type="fractalNoise" baseFrequency="0.6" numOctaves="2" seed="3"/><feColorMatrix values="0 0 0 0 0.5  0 0 0 0 0.5  0 0 0 0 0.5  0 0 0 -1.6 1.05"/></filter>
<rect x="77.2" y="353.9" width="202.4" height="13.5" filter="url(#nz)" opacity="0.4"/>
<rect x="77.2" y="325.7" width="202.4" height="22.1" filter="url(#nz)" opacity="0.2"/>
<text x="71.80" y="341.30" font-size="12" text-anchor="end" font-weight="normal" font-style="normal" fill="#1a1a1a" >Oct4</text>
<text x="71.80" y="363.80" font-size="12" text-anchor="end" font-weight="normal" font-style="normal" fill="#1a1a1a" >Sox2</text>
<text x="72.60" y="387.70" font-size="12" text-anchor="end" font-weight="normal" font-style="normal" fill="#1a1a1a" >Tubulin</text>
<ellipse cx="86.5" cy="335.0" rx="7.3" ry="1.6" fill="#111" opacity="1.00" filter="url(#bl2)"/>
<ellipse cx="86.5" cy="339.2" rx="7.3" ry="1.3" fill="#111" opacity="0.80" filter="url(#bl2)"/>
<ellipse cx="102.5" cy="335.0" rx="6.3" ry="1.6" fill="#111" opacity="0.85" filter="url(#bl2)"/>
<ellipse cx="102.5" cy="339.2" rx="6.3" ry="1.3" fill="#111" opacity="0.68" filter="url(#bl2)"/>
<ellipse cx="118.5" cy="335.0" rx="5.3" ry="1.6" fill="#111" opacity="0.70" filter="url(#bl2)"/>
<ellipse cx="118.5" cy="339.2" rx="5.3" ry="1.3" fill="#111" opacity="0.56" filter="url(#bl2)"/>
<ellipse cx="135" cy="335.0" rx="8.05" ry="1.6" fill="#111" opacity="1.00" filter="url(#bl2)"/>
<ellipse cx="135" cy="339.2" rx="8.05" ry="1.3" fill="#111" opacity="0.80" filter="url(#bl2)"/>
<ellipse cx="153.5" cy="335.0" rx="6.55" ry="1.6" fill="#111" opacity="0.90" filter="url(#bl2)"/>
<ellipse cx="153.5" cy="339.2" rx="6.55" ry="1.3" fill="#111" opacity="0.72" filter="url(#bl2)"/>
<ellipse cx="169.5" cy="335.0" rx="5.8" ry="1.6" fill="#111" opacity="0.70" filter="url(#bl2)"/>
<ellipse cx="169.5" cy="339.2" rx="5.8" ry="1.3" fill="#111" opacity="0.56" filter="url(#bl2)"/>
<ellipse cx="186.6" cy="335.0" rx="8.8" ry="1.6" fill="#111" opacity="0.90" filter="url(#bl2)"/>
<ellipse cx="186.6" cy="339.2" rx="8.8" ry="1.3" fill="#111" opacity="0.72" filter="url(#bl2)"/>
<ellipse cx="203.5" cy="335.0" rx="5.55" ry="1.6" fill="#111" opacity="0.70" filter="url(#bl2)"/>
<ellipse cx="203.5" cy="339.2" rx="5.55" ry="1.3" fill="#111" opacity="0.56" filter="url(#bl2)"/>
<ellipse cx="220" cy="335.0" rx="5.05" ry="1.6" fill="#111" opacity="0.35" filter="url(#bl2)"/>
<ellipse cx="220" cy="339.2" rx="5.05" ry="1.3" fill="#111" opacity="0.28" filter="url(#bl2)"/>
<ellipse cx="235.8" cy="335.0" rx="7.05" ry="1.6" fill="#111" opacity="0.55" filter="url(#bl2)"/>
<ellipse cx="235.8" cy="339.2" rx="7.05" ry="1.3" fill="#111" opacity="0.44" filter="url(#bl2)"/>
<ellipse cx="254.8" cy="335.0" rx="6.05" ry="1.6" fill="#111" opacity="0.35" filter="url(#bl2)"/>
<ellipse cx="254.8" cy="339.2" rx="6.05" ry="1.3" fill="#111" opacity="0.28" filter="url(#bl2)"/>
<ellipse cx="270.2" cy="335.0" rx="3.55" ry="1.6" fill="#111" opacity="0.20" filter="url(#bl2)"/>
<ellipse cx="270.2" cy="339.2" rx="3.55" ry="1.3" fill="#111" opacity="0.16" filter="url(#bl2)"/>
<ellipse cx="86" cy="344" rx="5" ry="1.1" fill="#444" opacity="0.3" filter="url(#bl)"/>
<ellipse cx="85.2" cy="360.2" rx="5.25" ry="1.2" fill="#111" opacity="1.0" filter="url(#bl3)"/>
<ellipse cx="102.5" cy="362" rx="4.0" ry="1.2" fill="#111" opacity="0.35" filter="url(#bl3)"/>
<ellipse cx="118" cy="362.2" rx="2.5" ry="1.2" fill="#111" opacity="0.15" filter="url(#bl3)"/>
<ellipse cx="135" cy="361.3" rx="6.0" ry="1.2" fill="#111" opacity="0.3" filter="url(#bl3)"/>
<ellipse cx="153" cy="362" rx="4.0" ry="1.2" fill="#111" opacity="0.15" filter="url(#bl3)"/>
<ellipse cx="87.8" cy="383.5" rx="7.75" ry="1.35" fill="#1c0c16" opacity="1.0" filter="url(#bl3)"/>
<ellipse cx="103.5" cy="383.5" rx="4.75" ry="1.35" fill="#1c0c16" opacity="0.95" filter="url(#bl3)"/>
<ellipse cx="120" cy="383.5" rx="4.25" ry="1.35" fill="#1c0c16" opacity="0.95" filter="url(#bl3)"/>
<ellipse cx="137" cy="383.5" rx="8.0" ry="1.35" fill="#1c0c16" opacity="1.0" filter="url(#bl3)"/>
<ellipse cx="154.8" cy="383.5" rx="5.5" ry="1.35" fill="#1c0c16" opacity="0.95" filter="url(#bl3)"/>
<ellipse cx="171" cy="383.5" rx="4.25" ry="1.35" fill="#1c0c16" opacity="0.9" filter="url(#bl3)"/>
<ellipse cx="188.7" cy="383.5" rx="8.5" ry="1.35" fill="#1c0c16" opacity="1.0" filter="url(#bl3)"/>
<ellipse cx="205.9" cy="383.5" rx="5.5" ry="1.35" fill="#1c0c16" opacity="0.95" filter="url(#bl3)"/>
<ellipse cx="221" cy="383.5" rx="4.75" ry="1.35" fill="#1c0c16" opacity="0.9" filter="url(#bl3)"/>
<ellipse cx="238" cy="383.5" rx="8.5" ry="1.35" fill="#1c0c16" opacity="1.0" filter="url(#bl3)"/>
<ellipse cx="255.9" cy="383.5" rx="5.75" ry="1.35" fill="#1c0c16" opacity="0.95" filter="url(#bl3)"/>
<ellipse cx="273.3" cy="383.5" rx="5.25" ry="1.35" fill="#1c0c16" opacity="0.3" filter="url(#bl3)"/>
<text x="310.60" y="155.40" font-size="13.6" text-anchor="start" font-weight="bold" font-style="normal" fill="#111" >C</text>
<line x1="364.0" y1="194.6" x2="364.0" y2="330.4" stroke="#111" stroke-width="1.8"/>
<line x1="363.1" y1="329.5" x2="517" y2="329.5" stroke="#111" stroke-width="1.8"/>
<line x1="361.0" y1="329.5" x2="364.0" y2="329.5" stroke="#111" stroke-width="1.2"/>
<text x="357.00" y="332.70" font-size="10.7" text-anchor="end" font-weight="normal" font-style="normal" fill="#1a1a1a" >0</text>
<line x1="361.0" y1="302.64" x2="364.0" y2="302.64" stroke="#111" stroke-width="1.2"/>
<text x="359.60" y="305.84" font-size="10.7" text-anchor="end" font-weight="normal" font-style="normal" fill="#1a1a1a" >50</text>
<line x1="361.0" y1="275.78" x2="364.0" y2="275.78" stroke="#111" stroke-width="1.2"/>
<text x="359.60" y="278.98" font-size="10.7" text-anchor="end" font-weight="normal" font-style="normal" fill="#1a1a1a" >100</text>
<line x1="361.0" y1="248.92000000000002" x2="364.0" y2="248.92000000000002" stroke="#111" stroke-width="1.2"/>
<text x="359.60" y="252.12" font-size="10.7" text-anchor="end" font-weight="normal" font-style="normal" fill="#1a1a1a" >150</text>
<line x1="361.0" y1="222.06" x2="364.0" y2="222.06" stroke="#111" stroke-width="1.2"/>
<text x="359.60" y="225.26" font-size="10.7" text-anchor="end" font-weight="normal" font-style="normal" fill="#1a1a1a" >200</text>
<line x1="361.0" y1="195.2" x2="364.0" y2="195.2" stroke="#111" stroke-width="1.2"/>
<text x="359.60" y="198.40" font-size="10.7" text-anchor="end" font-weight="normal" font-style="normal" fill="#1a1a1a" >250</text>
<rect x="372.6" y="220.98559999999998" width="15.8" height="108.51440000000002" fill="#000"/>
<line x1="380.5" y1="219.9112" x2="380.5" y2="220.98559999999998" stroke="#000" stroke-width="1"/>
<rect x="413" y="237.1016" width="16.2" height="92.39840000000001" fill="#000"/>
<rect x="453" y="329.07024" width="17" height="0.4297599999999875" fill="#000"/>
<path d="M379.4,205.5 V179.4 H500 V205.5" fill="none" stroke="#111" stroke-width="1.5"/>
<path d="M384,205.5 V192.3 H463.7 V205.5" fill="none" stroke="#111" stroke-width="1.5"/>
<text x="440.60" y="179.60" font-size="10" text-anchor="middle" font-weight="normal" font-style="normal" fill="#333" >*</text>
<text x="424.00" y="194.40" font-size="10" text-anchor="middle" font-weight="normal" font-style="normal" fill="#333" >*</text>
<text x="0.00" y="0.00" font-size="12" text-anchor="middle" font-weight="normal" font-style="normal" fill="#1a1a1a" transform="translate(336.2,260.3) rotate(-90)">Number of colonies /10<tspan font-size="8" dy="-4.5">3</tspan><tspan dy="4.5"> cells</tspan></text>
<text x="0.00" y="0.00" font-size="11" text-anchor="end" font-weight="normal" font-style="normal" fill="#1a1a1a" transform="translate(385.2,336) rotate(-90)">ES cells</text>
<text x="0.00" y="0.00" font-size="11" text-anchor="end" font-weight="normal" font-style="normal" fill="#1a1a1a" transform="translate(425.4,336) rotate(-90)">GFP-/Flk1-</text>
<text x="0.00" y="0.00" font-size="11" text-anchor="end" font-weight="normal" font-style="normal" fill="#1a1a1a" transform="translate(465.5,336) rotate(-90)">GFP+/Flk1-</text>
<text x="0.00" y="0.00" font-size="11" text-anchor="end" font-weight="normal" font-style="normal" fill="#1a1a1a" transform="translate(506,336) rotate(-90)">GFP+/Flk1+</text>
<text x="18.40" y="435.40" font-size="13.6" text-anchor="start" font-weight="bold" font-style="normal" fill="#111" >D</text>
<line x1="82.5" y1="438.8" x2="103" y2="438.8" stroke="#111111" stroke-width="3"/>
<text x="112.00" y="442.90" font-size="12.3" text-anchor="start" font-weight="normal" font-style="normal" fill="#1a1a1a" >ES cells</text>
<line x1="193.7" y1="438.8" x2="213.7" y2="438.8" stroke="#9a9a9a" stroke-width="3"/>
<text x="220.80" y="442.90" font-size="12.3" text-anchor="start" font-weight="normal" font-style="normal" fill="#1a1a1a" >GFP-/Flk1-</text>
<line x1="315.6" y1="438.8" x2="336.2" y2="438.8" stroke="#1f9a4c" stroke-width="3"/>
<text x="343.20" y="442.90" font-size="12.3" text-anchor="start" font-weight="normal" font-style="normal" fill="#1a1a1a" >GFP+/Flk1-</text>
<line x1="425.8" y1="438.8" x2="444.5" y2="438.8" stroke="#e63b35" stroke-width="3"/>
<text x="452.50" y="442.90" font-size="12.3" text-anchor="start" font-weight="normal" font-style="normal" fill="#1a1a1a" >GFP+/Flk1+</text>
<text x="48.00" y="468.30" font-size="12" text-anchor="start" font-weight="bold" font-style="normal" fill="#111" >Ctrl</text>
<text x="290.40" y="468.30" font-size="12" text-anchor="start" font-weight="bold" font-style="normal" fill="#111" >ES</text>
<text x="48.30" y="583.20" font-size="12" text-anchor="start" font-weight="bold" font-style="normal" fill="#111" >Meso</text>
<text x="48.30" y="701.20" font-size="12" text-anchor="start" font-weight="bold" font-style="normal" fill="#111" >Neural</text>
<text x="0.00" y="0.00" font-size="12.3" text-anchor="middle" font-weight="normal" font-style="normal" fill="#1a1a1a" transform="translate(33.9,627.9) rotate(-90)">Newly replicated DNA (% of total)</text>
<text x="0.00" y="0.00" font-size="13.8" text-anchor="middle" font-weight="normal" font-style="normal" fill="#1a1a1a" transform="translate(298.5,821) scale(0.885,1)">Cell cycle fraction</text>
<line x1="65.0" y1="484.2" x2="65.0" y2="550.6" stroke="#111" stroke-width="1.7"/>
<line x1="64.2" y1="549.7" x2="160.3" y2="549.7" stroke="#111" stroke-width="1.8"/>
<line x1="62.8" y1="549.7" x2="65.0" y2="549.7" stroke="#111" stroke-width="1.1"/>
<text x="60.40" y="553.30" font-size="10.4" text-anchor="end" font-weight="normal" font-style="normal" fill="#222" >0</text>
<line x1="62.8" y1="533.5250000000001" x2="65.0" y2="533.5250000000001" stroke="#111" stroke-width="1.1"/>
<text x="60.40" y="537.13" font-size="10.4" text-anchor="end" font-weight="normal" font-style="normal" fill="#222" >20</text>
<line x1="62.8" y1="517.35" x2="65.0" y2="517.35" stroke="#111" stroke-width="1.1"/>
<text x="60.40" y="520.95" font-size="10.4" text-anchor="end" font-weight="normal" font-style="normal" fill="#222" >40</text>
<line x1="62.8" y1="501.175" x2="65.0" y2="501.175" stroke="#111" stroke-width="1.1"/>
<text x="60.40" y="504.78" font-size="10.4" text-anchor="end" font-weight="normal" font-style="normal" fill="#222" >60</text>
<line x1="62.8" y1="485.0" x2="65.0" y2="485.0" stroke="#111" stroke-width="1.1"/>
<text x="60.40" y="488.60" font-size="10.4" text-anchor="end" font-weight="normal" font-style="normal" fill="#222" >80</text>
<text x="110.70" y="483.60" font-size="12" text-anchor="middle" font-weight="normal" font-style="normal" fill="#111" ><tspan font-family="Liberation Serif" font-size="13.5">&#945;</tspan><tspan font-style="italic">Globin</tspan></text>
<path d="M77.30,548.08 C79.28,541.61 85.22,512.36 89.20,509.26 C93.18,506.16 97.20,523.82 101.20,529.48 C105.20,535.14 109.18,540.13 113.20,543.23 C117.22,546.33 121.33,547.14 125.30,548.08 C129.27,549.03 135.05,548.76 137.00,548.89" fill="none" stroke="#111111" stroke-width="2.3"/>
<path d="M89.2,499.55750000000006 V518.9675000000001 M87.60000000000001,499.55750000000006 H90.8 M87.60000000000001,518.9675000000001 H90.8" stroke="#111" stroke-width="1.1" fill="none"/>
<path d="M101.2,526.24625 V532.7162500000001 M99.60000000000001,526.24625 H102.8 M99.60000000000001,532.7162500000001 H102.8" stroke="#111" stroke-width="1.1" fill="none"/>
<circle cx="77.3" cy="548.0825000000001" r="2.3" fill="#111111"/>
<circle cx="89.2" cy="509.26250000000005" r="2.3" fill="#111111"/>
<circle cx="101.2" cy="529.48125" r="2.3" fill="#111111"/>
<circle cx="113.2" cy="543.23" r="2.3" fill="#111111"/>
<circle cx="125.3" cy="548.0825000000001" r="2.3" fill="#111111"/>
<circle cx="137.0" cy="548.89125" r="2.3" fill="#111111"/>
<path d="M77.30,547.27 C79.28,541.61 85.22,517.62 89.20,513.31 C93.18,508.99 97.20,517.22 101.20,521.39 C105.20,525.57 109.18,534.06 113.20,538.38 C117.22,542.69 121.33,545.66 125.30,547.27 C129.27,548.89 135.05,547.95 137.00,548.08" fill="none" stroke="#9a9a9a" stroke-width="2.3"/>
<path d="M101.2,518.9675000000001 V523.82 M99.60000000000001,518.9675000000001 H102.8 M99.60000000000001,523.82 H102.8" stroke="#111" stroke-width="1.1" fill="none"/>
<rect x="75.3" y="545.2737500000001" width="4" height="4" fill="#b0b0b0" stroke="#666" stroke-width="0.7"/>
<rect x="87.2" y="511.30625" width="4" height="4" fill="#b0b0b0" stroke="#666" stroke-width="0.7"/>
<rect x="99.2" y="519.3937500000001" width="4" height="4" fill="#b0b0b0" stroke="#666" stroke-width="0.7"/>
<rect x="111.2" y="536.3775" width="4" height="4" fill="#b0b0b0" stroke="#666" stroke-width="0.7"/>
<rect x="123.3" y="545.2737500000001" width="4" height="4" fill="#b0b0b0" stroke="#666" stroke-width="0.7"/>
<rect x="135.0" y="546.0825000000001" width="4" height="4" fill="#b0b0b0" stroke="#666" stroke-width="0.7"/>
<path d="M77.30,548.08 C79.28,541.88 85.22,514.65 89.20,510.88 C93.18,507.11 97.20,520.32 101.20,525.44 C105.20,530.56 109.18,537.84 113.20,541.61 C117.22,545.39 121.33,546.73 125.30,548.08 C129.27,549.43 135.05,549.43 137.00,549.70" fill="none" stroke="#1f9a4c" stroke-width="2.3"/>
<circle cx="77.3" cy="548.0825000000001" r="2.3" fill="#1f9a4c"/>
<circle cx="89.2" cy="510.88" r="2.3" fill="#1f9a4c"/>
<circle cx="101.2" cy="525.4375" r="2.3" fill="#1f9a4c"/>
<circle cx="113.2" cy="541.6125000000001" r="2.3" fill="#1f9a4c"/>
<circle cx="125.3" cy="548.0825000000001" r="2.3" fill="#1f9a4c"/>
<circle cx="137.0" cy="549.7" r="2.3" fill="#1f9a4c"/>
<path d="M77.30,542.42 C79.28,535.82 85.22,504.41 89.20,502.79 C93.18,501.18 97.20,525.44 101.20,532.72 C105.20,540.00 109.18,543.90 113.20,546.47 C117.22,549.03 121.33,547.95 125.30,548.08 C129.27,548.22 135.05,547.41 137.00,547.27" fill="none" stroke="#e63b35" stroke-width="2.3"/>
<path d="M101.2,530.2900000000001 V535.1425 M99.60000000000001,530.2900000000001 H102.8 M99.60000000000001,535.1425 H102.8" stroke="#111" stroke-width="1.1" fill="none"/>
<rect x="75.1" y="540.2212499999999" width="4.4" height="4.4" rx="1" fill="#e63b35" stroke="#b22" stroke-width="0.5"/>
<rect x="87.0" y="500.59250000000003" width="4.4" height="4.4" rx="1" fill="#e63b35" stroke="#b22" stroke-width="0.5"/>
<rect x="99.0" y="530.51625" width="4.4" height="4.4" rx="1" fill="#e63b35" stroke="#b22" stroke-width="0.5"/>
<rect x="111.0" y="544.265" width="4.4" height="4.4" rx="1" fill="#e63b35" stroke="#b22" stroke-width="0.5"/>
<rect x="123.1" y="545.8825" width="4.4" height="4.4" rx="1" fill="#e63b35" stroke="#b22" stroke-width="0.5"/>
<rect x="134.8" y="545.07375" width="4.4" height="4.4" rx="1" fill="#e63b35" stroke="#b22" stroke-width="0.5"/>
<line x1="184.9" y1="484.8" x2="184.9" y2="550.8" stroke="#111" stroke-width="1.7"/>
<line x1="184.1" y1="549.9" x2="281.0" y2="549.9" stroke="#111" stroke-width="1.8"/>
<line x1="182.70000000000002" y1="549.9" x2="184.9" y2="549.9" stroke="#111" stroke-width="1.1"/>
<text x="180.30" y="553.50" font-size="10.4" text-anchor="end" font-weight="normal" font-style="normal" fill="#222" >0</text>
<line x1="182.70000000000002" y1="528.4666666666667" x2="184.9" y2="528.4666666666667" stroke="#111" stroke-width="1.1"/>
<text x="180.30" y="532.07" font-size="10.4" text-anchor="end" font-weight="normal" font-style="normal" fill="#222" >20</text>
<line x1="182.70000000000002" y1="507.03333333333336" x2="184.9" y2="507.03333333333336" stroke="#111" stroke-width="1.1"/>
<text x="180.30" y="510.63" font-size="10.4" text-anchor="end" font-weight="normal" font-style="normal" fill="#222" >40</text>
<line x1="182.70000000000002" y1="485.6" x2="184.9" y2="485.6" stroke="#111" stroke-width="1.1"/>
<text x="180.30" y="489.20" font-size="10.4" text-anchor="end" font-weight="normal" font-style="normal" fill="#222" >60</text>
<text x="226.20" y="485.80" font-size="12" text-anchor="middle" font-weight="normal" font-style="normal" fill="#111" >X141</text>
<path d="M197.20,548.83 C199.18,548.11 205.12,546.60 209.10,544.54 C213.08,542.49 217.10,539.67 221.10,536.50 C225.10,533.34 229.08,529.23 233.10,525.57 C237.12,521.91 241.23,515.12 245.20,514.53 C249.17,513.95 254.95,520.79 256.90,522.04" fill="none" stroke="#111111" stroke-width="2.3"/>
<path d="M256.9,517.75 V526.3233333333333 M255.29999999999998,517.75 H258.5 M255.29999999999998,526.3233333333333 H258.5" stroke="#111" stroke-width="1.1" fill="none"/>
<path d="M245.2,511.32 V517.75 M243.6,511.32 H246.79999999999998 M243.6,517.75 H246.79999999999998" stroke="#111" stroke-width="1.1" fill="none"/>
<path d="M233.10000000000002,523.4298333333334 V527.7165 M231.50000000000003,523.4298333333334 H234.70000000000002 M231.50000000000003,527.7165 H234.70000000000002" stroke="#111" stroke-width="1.1" fill="none"/>
<circle cx="197.20000000000002" cy="548.8283333333333" r="2.3" fill="#111111"/>
<circle cx="209.1" cy="544.5416666666666" r="2.3" fill="#111111"/>
<circle cx="221.10000000000002" cy="536.5041666666666" r="2.3" fill="#111111"/>
<circle cx="233.10000000000002" cy="525.5731666666667" r="2.3" fill="#111111"/>
<circle cx="245.2" cy="514.535" r="2.3" fill="#111111"/>
<circle cx="256.9" cy="522.0366666666666" r="2.3" fill="#111111"/>
<path d="M197.20,548.83 C199.18,548.65 205.12,548.65 209.10,547.76 C213.08,546.86 217.10,545.97 221.10,543.47 C225.10,540.97 229.08,537.04 233.10,532.75 C237.12,528.47 241.23,523.47 245.20,517.75 C249.17,512.03 254.95,501.68 256.90,498.46" fill="none" stroke="#9a9a9a" stroke-width="2.3"/>
<path d="M256.9,496.3166666666667 V500.60333333333335 M255.29999999999998,496.3166666666667 H258.5 M255.29999999999998,500.60333333333335 H258.5" stroke="#111" stroke-width="1.1" fill="none"/>
<rect x="195.20000000000002" y="546.8283333333333" width="4" height="4" fill="#b0b0b0" stroke="#666" stroke-width="0.7"/>
<rect x="207.1" y="545.7566666666667" width="4" height="4" fill="#b0b0b0" stroke="#666" stroke-width="0.7"/>
<rect x="219.10000000000002" y="541.47" width="4" height="4" fill="#b0b0b0" stroke="#666" stroke-width="0.7"/>
<rect x="231.10000000000002" y="530.7533333333333" width="4" height="4" fill="#b0b0b0" stroke="#666" stroke-width="0.7"/>
<rect x="243.2" y="515.75" width="4" height="4" fill="#b0b0b0" stroke="#666" stroke-width="0.7"/>
<rect x="254.89999999999998" y="496.46000000000004" width="4" height="4" fill="#b0b0b0" stroke="#666" stroke-width="0.7"/>
<path d="M197.20,549.90 C199.18,549.72 205.12,549.90 209.10,548.83 C213.08,547.76 217.10,546.51 221.10,543.47 C225.10,540.43 229.08,534.90 233.10,530.61 C237.12,526.32 241.23,522.57 245.20,517.75 C249.17,512.93 254.95,504.35 256.90,501.68" fill="none" stroke="#1f9a4c" stroke-width="2.3"/>
<circle cx="197.20000000000002" cy="549.9" r="2.3" fill="#1f9a4c"/>
<circle cx="209.1" cy="548.8283333333333" r="2.3" fill="#1f9a4c"/>
<circle cx="221.10000000000002" cy="543.47" r="2.3" fill="#1f9a4c"/>
<circle cx="233.10000000000002" cy="530.61" r="2.3" fill="#1f9a4c"/>
<circle cx="245.2" cy="517.75" r="2.3" fill="#1f9a4c"/>
<circle cx="256.9" cy="501.675" r="2.3" fill="#1f9a4c"/>
<path d="M197.20,548.83 C199.18,548.65 205.12,548.65 209.10,547.76 C213.08,546.86 217.10,545.61 221.10,543.47 C225.10,541.33 229.08,538.83 233.10,534.90 C237.12,530.97 241.23,525.43 245.20,519.89 C249.17,514.36 254.95,504.71 256.90,501.68" fill="none" stroke="#e63b35" stroke-width="2.3"/>
<path d="M245.2,516.6783333333333 V523.1083333333333 M243.6,516.6783333333333 H246.79999999999998 M243.6,523.1083333333333 H246.79999999999998" stroke="#111" stroke-width="1.1" fill="none"/>
<rect x="195.00000000000003" y="546.6283333333332" width="4.4" height="4.4" rx="1" fill="#e63b35" stroke="#b22" stroke-width="0.5"/>
<rect x="206.9" y="545.5566666666666" width="4.4" height="4.4" rx="1" fill="#e63b35" stroke="#b22" stroke-width="0.5"/>
<rect x="218.90000000000003" y="541.27" width="4.4" height="4.4" rx="1" fill="#e63b35" stroke="#b22" stroke-width="0.5"/>
<rect x="230.90000000000003" y="532.6966666666666" width="4.4" height="4.4" rx="1" fill="#e63b35" stroke="#b22" stroke-width="0.5"/>
<rect x="243.0" y="517.6933333333333" width="4.4" height="4.4" rx="1" fill="#e63b35" stroke="#b22" stroke-width="0.5"/>
<rect x="254.7" y="499.475" width="4.4" height="4.4" rx="1" fill="#e63b35" stroke="#b22" stroke-width="0.5"/>
<line x1="304.0" y1="484.8" x2="304.0" y2="550.8" stroke="#111" stroke-width="1.7"/>
<line x1="303.2" y1="549.9" x2="398.8" y2="549.9" stroke="#111" stroke-width="1.8"/>
<line x1="301.8" y1="549.9" x2="304.0" y2="549.9" stroke="#111" stroke-width="1.1"/>
<text x="299.40" y="553.50" font-size="10.4" text-anchor="end" font-weight="normal" font-style="normal" fill="#222" >0</text>
<line x1="301.8" y1="528.4666666666667" x2="304.0" y2="528.4666666666667" stroke="#111" stroke-width="1.1"/>
<text x="299.40" y="532.07" font-size="10.4" text-anchor="end" font-weight="normal" font-style="normal" fill="#222" >20</text>
<line x1="301.8" y1="507.03333333333336" x2="304.0" y2="507.03333333333336" stroke="#111" stroke-width="1.1"/>
<text x="299.40" y="510.63" font-size="10.4" text-anchor="end" font-weight="normal" font-style="normal" fill="#222" >40</text>
<line x1="301.8" y1="485.6" x2="304.0" y2="485.6" stroke="#111" stroke-width="1.1"/>
<text x="299.40" y="489.20" font-size="10.4" text-anchor="end" font-weight="normal" font-style="normal" fill="#222" >60</text>
<text x="346.00" y="486.30" font-size="12" text-anchor="middle" font-weight="normal" font-style="italic" fill="#111" >Rex1</text>
<path d="M316.30,516.68 C318.28,517.04 324.22,516.68 328.20,518.82 C332.18,520.97 336.20,526.50 340.20,529.54 C344.20,532.57 348.18,534.72 352.20,537.04 C356.22,539.36 360.33,542.04 364.30,543.47 C368.27,544.90 374.05,545.26 376.00,545.61" fill="none" stroke="#111111" stroke-width="2.3"/>
<path d="M316.3,509.1766666666666 V524.18 M314.7,509.1766666666666 H317.90000000000003 M314.7,524.18 H317.90000000000003" stroke="#111" stroke-width="1.1" fill="none"/>
<path d="M352.2,533.8249999999999 V540.255 M350.59999999999997,533.8249999999999 H353.8 M350.59999999999997,540.255 H353.8" stroke="#111" stroke-width="1.1" fill="none"/>
<path d="M340.2,527.395 V531.6816666666666 M338.59999999999997,527.395 H341.8 M338.59999999999997,531.6816666666666 H341.8" stroke="#111" stroke-width="1.1" fill="none"/>
<circle cx="316.3" cy="516.6783333333333" r="2.3" fill="#111111"/>
<circle cx="328.2" cy="518.8216666666667" r="2.3" fill="#111111"/>
<circle cx="340.2" cy="529.5383333333333" r="2.3" fill="#111111"/>
<circle cx="352.2" cy="537.04" r="2.3" fill="#111111"/>
<circle cx="364.3" cy="543.47" r="2.3" fill="#111111"/>
<circle cx="376.0" cy="545.6133333333333" r="2.3" fill="#111111"/>
<path d="M316.30,548.83 C318.28,547.58 324.22,544.54 328.20,541.33 C332.18,538.11 336.20,534.54 340.20,529.54 C344.20,524.54 348.18,513.11 352.20,511.32 C356.22,509.53 360.33,514.54 364.30,518.82 C368.27,523.11 374.05,534.00 376.00,537.04" fill="none" stroke="#9a9a9a" stroke-width="2.3"/>
<path d="M340.2,526.3233333333333 V532.7533333333333 M338.59999999999997,526.3233333333333 H341.8 M338.59999999999997,532.7533333333333 H341.8" stroke="#111" stroke-width="1.1" fill="none"/>
<path d="M364.3,515.6066666666667 V522.0366666666667 M362.7,515.6066666666667 H365.90000000000003 M362.7,522.0366666666667 H365.90000000000003" stroke="#111" stroke-width="1.1" fill="none"/>
<path d="M376.0,532.7533333333333 V541.3266666666666 M374.4,532.7533333333333 H377.6 M374.4,541.3266666666666 H377.6" stroke="#111" stroke-width="1.1" fill="none"/>
<path d="M328.2,539.1833333333333 V543.4699999999999 M326.59999999999997,539.1833333333333 H329.8 M326.59999999999997,543.4699999999999 H329.8" stroke="#111" stroke-width="1.1" fill="none"/>
<rect x="314.3" y="546.8283333333333" width="4" height="4" fill="#b0b0b0" stroke="#666" stroke-width="0.7"/>
<rect x="326.2" y="539.3266666666666" width="4" height="4" fill="#b0b0b0" stroke="#666" stroke-width="0.7"/>
<rect x="338.2" y="527.5383333333333" width="4" height="4" fill="#b0b0b0" stroke="#666" stroke-width="0.7"/>
<rect x="350.2" y="509.32" width="4" height="4" fill="#b0b0b0" stroke="#666" stroke-width="0.7"/>
<rect x="362.3" y="516.8216666666667" width="4" height="4" fill="#b0b0b0" stroke="#666" stroke-width="0.7"/>
<rect x="374.0" y="535.04" width="4" height="4" fill="#b0b0b0" stroke="#666" stroke-width="0.7"/>
<path d="M316.30,549.90 C318.28,549.54 324.22,548.83 328.20,547.76 C332.18,546.68 336.20,549.01 340.20,543.47 C344.20,537.93 348.18,519.71 352.20,514.53 C356.22,509.36 360.33,510.07 364.30,512.39 C368.27,514.71 374.05,525.79 376.00,528.47" fill="none" stroke="#1f9a4c" stroke-width="2.3"/>
<path d="M352.2,510.2483333333333 V518.8216666666666 M350.59999999999997,510.2483333333333 H353.8 M350.59999999999997,518.8216666666666 H353.8" stroke="#111" stroke-width="1.1" fill="none"/>
<circle cx="316.3" cy="549.9" r="2.3" fill="#1f9a4c"/>
<circle cx="328.2" cy="547.7566666666667" r="2.3" fill="#1f9a4c"/>
<circle cx="340.2" cy="543.47" r="2.3" fill="#1f9a4c"/>
<circle cx="352.2" cy="514.535" r="2.3" fill="#1f9a4c"/>
<circle cx="364.3" cy="512.3916666666667" r="2.3" fill="#1f9a4c"/>
<circle cx="376.0" cy="528.4666666666667" r="2.3" fill="#1f9a4c"/>
<path d="M316.30,548.83 C318.28,548.11 324.22,545.43 328.20,544.54 C332.18,543.65 336.20,546.86 340.20,543.47 C344.20,540.08 348.18,530.25 352.20,524.18 C356.22,518.11 360.33,507.03 364.30,507.03 C368.27,507.03 374.05,521.32 376.00,524.18" fill="none" stroke="#e63b35" stroke-width="2.3"/>
<path d="M352.2,520.9649999999999 V527.395 M350.59999999999997,520.9649999999999 H353.8 M350.59999999999997,527.395 H353.8" stroke="#111" stroke-width="1.1" fill="none"/>
<rect x="314.1" y="546.6283333333332" width="4.4" height="4.4" rx="1" fill="#e63b35" stroke="#b22" stroke-width="0.5"/>
<rect x="326.0" y="542.3416666666666" width="4.4" height="4.4" rx="1" fill="#e63b35" stroke="#b22" stroke-width="0.5"/>
<rect x="338.0" y="541.27" width="4.4" height="4.4" rx="1" fill="#e63b35" stroke="#b22" stroke-width="0.5"/>
<rect x="350.0" y="521.9799999999999" width="4.4" height="4.4" rx="1" fill="#e63b35" stroke="#b22" stroke-width="0.5"/>
<rect x="362.1" y="504.83333333333337" width="4.4" height="4.4" rx="1" fill="#e63b35" stroke="#b22" stroke-width="0.5"/>
<rect x="373.8" y="521.9799999999999" width="4.4" height="4.4" rx="1" fill="#e63b35" stroke="#b22" stroke-width="0.5"/>
<line x1="423.9" y1="484.5" x2="423.9" y2="550.8" stroke="#111" stroke-width="1.7"/>
<line x1="423.09999999999997" y1="549.9" x2="520" y2="549.9" stroke="#111" stroke-width="1.8"/>
<line x1="421.7" y1="549.9" x2="423.9" y2="549.9" stroke="#111" stroke-width="1.1"/>
<text x="419.30" y="553.50" font-size="10.4" text-anchor="end" font-weight="normal" font-style="normal" fill="#222" >0</text>
<line x1="421.7" y1="528.3666666666667" x2="423.9" y2="528.3666666666667" stroke="#111" stroke-width="1.1"/>
<text x="419.30" y="531.97" font-size="10.4" text-anchor="end" font-weight="normal" font-style="normal" fill="#222" >20</text>
<line x1="421.7" y1="506.8333333333333" x2="423.9" y2="506.8333333333333" stroke="#111" stroke-width="1.1"/>
<text x="419.30" y="510.43" font-size="10.4" text-anchor="end" font-weight="normal" font-style="normal" fill="#222" >40</text>
<line x1="421.7" y1="485.3" x2="423.9" y2="485.3" stroke="#111" stroke-width="1.1"/>
<text x="419.30" y="488.90" font-size="10.4" text-anchor="end" font-weight="normal" font-style="normal" fill="#222" >60</text>
<text x="465.90" y="486.30" font-size="12" text-anchor="middle" font-weight="normal" font-style="italic" fill="#111" >Sox2</text>
<path d="M436.20,521.91 C438.18,517.78 444.12,495.35 448.10,497.14 C452.08,498.94 456.10,524.96 460.10,532.67 C464.10,540.39 468.08,540.75 472.10,543.44 C476.12,546.13 480.23,547.75 484.20,548.82 C488.17,549.90 493.95,549.72 495.90,549.90" fill="none" stroke="#111111" stroke-width="2.3"/>
<path d="M436.2,516.5233333333333 V527.29 M434.59999999999997,516.5233333333333 H437.8 M434.59999999999997,527.29 H437.8" stroke="#111" stroke-width="1.1" fill="none"/>
<path d="M448.09999999999997,492.83666666666664 V501.45 M446.49999999999994,492.83666666666664 H449.7 M446.49999999999994,501.45 H449.7" stroke="#111" stroke-width="1.1" fill="none"/>
<circle cx="436.2" cy="521.9066666666666" r="2.3" fill="#111111"/>
<circle cx="448.09999999999997" cy="497.1433333333333" r="2.3" fill="#111111"/>
<circle cx="460.09999999999997" cy="532.6733333333333" r="2.3" fill="#111111"/>
<circle cx="472.09999999999997" cy="543.4399999999999" r="2.3" fill="#111111"/>
<circle cx="484.2" cy="548.8233333333333" r="2.3" fill="#111111"/>
<circle cx="495.9" cy="549.9" r="2.3" fill="#111111"/>
<path d="M436.20,545.59 C438.18,538.42 444.12,507.55 448.10,502.53 C452.08,497.50 456.10,510.06 460.10,515.45 C464.10,520.83 468.08,529.62 472.10,534.83 C476.12,540.03 480.23,544.34 484.20,546.67 C488.17,549.00 493.95,548.46 495.90,548.82" fill="none" stroke="#9a9a9a" stroke-width="2.3"/>
<rect x="434.2" y="543.5933333333334" width="4" height="4" fill="#b0b0b0" stroke="#666" stroke-width="0.7"/>
<rect x="446.09999999999997" y="500.52666666666664" width="4" height="4" fill="#b0b0b0" stroke="#666" stroke-width="0.7"/>
<rect x="458.09999999999997" y="513.4466666666667" width="4" height="4" fill="#b0b0b0" stroke="#666" stroke-width="0.7"/>
<rect x="470.09999999999997" y="532.8266666666666" width="4" height="4" fill="#b0b0b0" stroke="#666" stroke-width="0.7"/>
<rect x="482.2" y="544.67" width="4" height="4" fill="#b0b0b0" stroke="#666" stroke-width="0.7"/>
<rect x="493.9" y="546.8233333333333" width="4" height="4" fill="#b0b0b0" stroke="#666" stroke-width="0.7"/>
<path d="M436.20,547.75 C438.18,542.54 444.12,523.34 448.10,516.52 C452.08,509.70 456.10,505.94 460.10,506.83 C464.10,507.73 468.08,515.45 472.10,521.91 C476.12,528.37 480.23,540.93 484.20,545.59 C488.17,550.26 493.95,549.18 495.90,549.90" fill="none" stroke="#1f9a4c" stroke-width="2.3"/>
<path d="M472.09999999999997,518.6766666666666 V525.1366666666667 M470.49999999999994,518.6766666666666 H473.7 M470.49999999999994,525.1366666666667 H473.7" stroke="#111" stroke-width="1.1" fill="none"/>
<path d="M448.09999999999997,514.37 V518.6766666666666 M446.49999999999994,514.37 H449.7 M446.49999999999994,518.6766666666666 H449.7" stroke="#111" stroke-width="1.1" fill="none"/>
<circle cx="436.2" cy="547.7466666666667" r="2.3" fill="#1f9a4c"/>
<circle cx="448.09999999999997" cy="516.5233333333333" r="2.3" fill="#1f9a4c"/>
<circle cx="460.09999999999997" cy="506.8333333333333" r="2.3" fill="#1f9a4c"/>
<circle cx="472.09999999999997" cy="521.9066666666666" r="2.3" fill="#1f9a4c"/>
<circle cx="484.2" cy="545.5933333333334" r="2.3" fill="#1f9a4c"/>
<circle cx="495.9" cy="549.9" r="2.3" fill="#1f9a4c"/>
<path d="M436.20,547.75 C438.18,543.44 444.12,529.62 448.10,521.91 C452.08,514.19 456.10,500.73 460.10,501.45 C464.10,502.17 468.08,519.22 472.10,526.21 C476.12,533.21 480.23,539.85 484.20,543.44 C488.17,547.03 493.95,547.03 495.90,547.75" fill="none" stroke="#e63b35" stroke-width="2.3"/>
<path d="M460.09999999999997,499.2966666666667 V503.6033333333333 M458.49999999999994,499.2966666666667 H461.7 M458.49999999999994,503.6033333333333 H461.7" stroke="#111" stroke-width="1.1" fill="none"/>
<rect x="434.0" y="545.5466666666666" width="4.4" height="4.4" rx="1" fill="#e63b35" stroke="#b22" stroke-width="0.5"/>
<rect x="445.9" y="519.7066666666666" width="4.4" height="4.4" rx="1" fill="#e63b35" stroke="#b22" stroke-width="0.5"/>
<rect x="457.9" y="499.25" width="4.4" height="4.4" rx="1" fill="#e63b35" stroke="#b22" stroke-width="0.5"/>
<rect x="469.9" y="524.0133333333333" width="4.4" height="4.4" rx="1" fill="#e63b35" stroke="#b22" stroke-width="0.5"/>
<rect x="482.0" y="541.2399999999999" width="4.4" height="4.4" rx="1" fill="#e63b35" stroke="#b22" stroke-width="0.5"/>
<rect x="493.7" y="545.5466666666666" width="4.4" height="4.4" rx="1" fill="#e63b35" stroke="#b22" stroke-width="0.5"/>
<line x1="65.0" y1="600.7" x2="65.0" y2="667.3" stroke="#111" stroke-width="1.7"/>
<line x1="64.2" y1="666.4" x2="160.3" y2="666.4" stroke="#111" stroke-width="1.8"/>
<line x1="62.8" y1="666.4" x2="65.0" y2="666.4" stroke="#111" stroke-width="1.1"/>
<text x="60.40" y="670.00" font-size="10.4" text-anchor="end" font-weight="normal" font-style="normal" fill="#222" >0</text>
<line x1="62.8" y1="650.175" x2="65.0" y2="650.175" stroke="#111" stroke-width="1.1"/>
<text x="60.40" y="653.77" font-size="10.4" text-anchor="end" font-weight="normal" font-style="normal" fill="#222" >20</text>
<line x1="62.8" y1="633.95" x2="65.0" y2="633.95" stroke="#111" stroke-width="1.1"/>
<text x="60.40" y="637.55" font-size="10.4" text-anchor="end" font-weight="normal" font-style="normal" fill="#222" >40</text>
<line x1="62.8" y1="617.725" x2="65.0" y2="617.725" stroke="#111" stroke-width="1.1"/>
<text x="60.40" y="621.33" font-size="10.4" text-anchor="end" font-weight="normal" font-style="normal" fill="#222" >60</text>
<line x1="62.8" y1="601.5" x2="65.0" y2="601.5" stroke="#111" stroke-width="1.1"/>
<text x="60.40" y="605.10" font-size="10.4" text-anchor="end" font-weight="normal" font-style="normal" fill="#222" >80</text>
<text x="110.20" y="601.80" font-size="12" text-anchor="middle" font-weight="normal" font-style="italic" fill="#111" >Bra/T</text>
<path d="M77.30,657.48 C79.28,653.83 85.22,638.28 89.20,635.57 C93.18,632.87 97.20,638.01 101.20,641.25 C105.20,644.50 109.18,651.26 113.20,655.04 C117.22,658.83 121.33,662.21 125.30,663.97 C129.27,665.72 135.05,665.32 137.00,665.59" fill="none" stroke="#111111" stroke-width="2.3"/>
<path d="M77.3,654.2312499999999 V660.7212499999999 M75.7,654.2312499999999 H78.89999999999999 M75.7,660.7212499999999 H78.89999999999999" stroke="#111" stroke-width="1.1" fill="none"/>
<path d="M89.2,633.13875 V638.00625 M87.60000000000001,633.13875 H90.8 M87.60000000000001,638.00625 H90.8" stroke="#111" stroke-width="1.1" fill="none"/>
<path d="M113.2,651.7975 V658.2875 M111.60000000000001,651.7975 H114.8 M111.60000000000001,658.2875 H114.8" stroke="#111" stroke-width="1.1" fill="none"/>
<circle cx="77.3" cy="657.4762499999999" r="2.3" fill="#111111"/>
<circle cx="89.2" cy="635.5725" r="2.3" fill="#111111"/>
<circle cx="101.2" cy="641.25125" r="2.3" fill="#111111"/>
<circle cx="113.2" cy="655.0425" r="2.3" fill="#111111"/>
<circle cx="125.3" cy="663.96625" r="2.3" fill="#111111"/>
<circle cx="137.0" cy="665.58875" r="2.3" fill="#111111"/>
<path d="M77.30,651.80 C79.28,647.47 85.22,626.78 89.20,625.84 C93.18,624.89 97.20,640.85 101.20,646.12 C105.20,651.39 109.18,654.50 113.20,657.48 C117.22,660.45 121.33,662.75 125.30,663.97 C129.27,665.18 135.05,664.64 137.00,664.78" fill="none" stroke="#9a9a9a" stroke-width="2.3"/>
<rect x="75.3" y="649.7975" width="4" height="4" fill="#b0b0b0" stroke="#666" stroke-width="0.7"/>
<rect x="87.2" y="623.8375" width="4" height="4" fill="#b0b0b0" stroke="#666" stroke-width="0.7"/>
<rect x="99.2" y="644.11875" width="4" height="4" fill="#b0b0b0" stroke="#666" stroke-width="0.7"/>
<rect x="111.2" y="655.4762499999999" width="4" height="4" fill="#b0b0b0" stroke="#666" stroke-width="0.7"/>
<rect x="123.3" y="661.96625" width="4" height="4" fill="#b0b0b0" stroke="#666" stroke-width="0.7"/>
<rect x="135.0" y="662.7775" width="4" height="4" fill="#b0b0b0" stroke="#666" stroke-width="0.7"/>
<path d="M77.30,653.42 C79.28,647.47 85.22,618.54 89.20,617.73 C93.18,616.91 97.20,641.66 101.20,648.55 C105.20,655.45 109.18,656.39 113.20,659.10 C117.22,661.80 121.33,663.56 125.30,664.78 C129.27,665.99 135.05,666.13 137.00,666.40" fill="none" stroke="#1f9a4c" stroke-width="2.3"/>
<path d="M89.2,614.48 V620.97 M87.60000000000001,614.48 H90.8 M87.60000000000001,620.97 H90.8" stroke="#111" stroke-width="1.1" fill="none"/>
<circle cx="77.3" cy="653.42" r="2.3" fill="#1f9a4c"/>
<circle cx="89.2" cy="617.725" r="2.3" fill="#1f9a4c"/>
<circle cx="101.2" cy="648.5525" r="2.3" fill="#1f9a4c"/>
<circle cx="113.2" cy="659.09875" r="2.3" fill="#1f9a4c"/>
<circle cx="125.3" cy="664.7775" r="2.3" fill="#1f9a4c"/>
<circle cx="137.0" cy="666.4" r="2.3" fill="#1f9a4c"/>
<path d="M77.30,646.12 C79.28,643.14 85.22,626.51 89.20,628.27 C93.18,630.03 97.20,650.72 101.20,656.66 C105.20,662.61 109.18,662.61 113.20,663.97 C117.22,665.32 121.33,665.18 125.30,664.78 C129.27,664.37 135.05,662.07 137.00,661.53" fill="none" stroke="#e63b35" stroke-width="2.3"/>
<path d="M101.2,654.2312499999999 V659.09875 M99.60000000000001,654.2312499999999 H102.8 M99.60000000000001,659.09875 H102.8" stroke="#111" stroke-width="1.1" fill="none"/>
<rect x="75.1" y="643.9187499999999" width="4.4" height="4.4" rx="1" fill="#e63b35" stroke="#b22" stroke-width="0.5"/>
<rect x="87.0" y="626.07125" width="4.4" height="4.4" rx="1" fill="#e63b35" stroke="#b22" stroke-width="0.5"/>
<rect x="99.0" y="654.4649999999999" width="4.4" height="4.4" rx="1" fill="#e63b35" stroke="#b22" stroke-width="0.5"/>
<rect x="111.0" y="661.7662499999999" width="4.4" height="4.4" rx="1" fill="#e63b35" stroke="#b22" stroke-width="0.5"/>
<rect x="123.1" y="662.5775" width="4.4" height="4.4" rx="1" fill="#e63b35" stroke="#b22" stroke-width="0.5"/>
<rect x="134.8" y="659.3325" width="4.4" height="4.4" rx="1" fill="#e63b35" stroke="#b22" stroke-width="0.5"/>
<line x1="185.5" y1="600.9000000000001" x2="185.5" y2="668.1" stroke="#111" stroke-width="1.7"/>
<line x1="184.7" y1="667.2" x2="281.0" y2="667.2" stroke="#111" stroke-width="1.8"/>
<line x1="183.3" y1="667.2" x2="185.5" y2="667.2" stroke="#111" stroke-width="1.1"/>
<text x="180.90" y="670.80" font-size="10.4" text-anchor="end" font-weight="normal" font-style="normal" fill="#222" >0</text>
<line x1="183.3" y1="645.3666666666667" x2="185.5" y2="645.3666666666667" stroke="#111" stroke-width="1.1"/>
<text x="180.90" y="648.97" font-size="10.4" text-anchor="end" font-weight="normal" font-style="normal" fill="#222" >20</text>
<line x1="183.3" y1="623.5333333333334" x2="185.5" y2="623.5333333333334" stroke="#111" stroke-width="1.1"/>
<text x="180.90" y="627.13" font-size="10.4" text-anchor="end" font-weight="normal" font-style="normal" fill="#222" >40</text>
<line x1="183.3" y1="601.7" x2="185.5" y2="601.7" stroke="#111" stroke-width="1.1"/>
<text x="180.90" y="605.30" font-size="10.4" text-anchor="end" font-weight="normal" font-style="normal" fill="#222" >60</text>
<text x="225.60" y="602.00" font-size="12" text-anchor="middle" font-weight="normal" font-style="italic" fill="#111" >Flk1</text>
<path d="M197.80,665.02 C199.78,662.11 205.72,654.10 209.70,647.55 C213.68,641.00 217.70,628.26 221.70,625.72 C225.70,623.17 229.68,626.81 233.70,632.27 C237.72,637.73 241.83,653.01 245.80,658.47 C249.77,663.93 255.55,663.93 257.50,665.02" fill="none" stroke="#111111" stroke-width="2.3"/>
<path d="M221.7,616.9833333333333 V634.45 M220.1,616.9833333333333 H223.29999999999998 M220.1,634.45 H223.29999999999998" stroke="#111" stroke-width="1.1" fill="none"/>
<path d="M233.7,610.4333333333334 V654.1000000000001 M232.1,610.4333333333334 H235.29999999999998 M232.1,654.1000000000001 H235.29999999999998" stroke="#111" stroke-width="1.1" fill="none"/>
<path d="M257.5,661.7416666666668 V668.2916666666667 M255.9,661.7416666666668 H259.1 M255.9,668.2916666666667 H259.1" stroke="#111" stroke-width="1.1" fill="none"/>
<circle cx="197.8" cy="665.0166666666668" r="2.3" fill="#111111"/>
<circle cx="209.7" cy="647.5500000000001" r="2.3" fill="#111111"/>
<circle cx="221.7" cy="625.7166666666667" r="2.3" fill="#111111"/>
<circle cx="233.7" cy="632.2666666666668" r="2.3" fill="#111111"/>
<circle cx="245.8" cy="658.4666666666667" r="2.3" fill="#111111"/>
<circle cx="257.5" cy="665.0166666666668" r="2.3" fill="#111111"/>
<path d="M197.80,666.11 C199.78,665.02 205.72,665.38 209.70,659.56 C213.68,653.74 217.70,637.73 221.70,631.18 C225.70,624.62 229.68,617.35 233.70,620.26 C237.72,623.17 241.83,641.36 245.80,648.64 C249.77,655.92 255.55,661.38 257.50,663.93" fill="none" stroke="#9a9a9a" stroke-width="2.3"/>
<path d="M233.7,615.8916666666667 V624.625 M232.1,615.8916666666667 H235.29999999999998 M232.1,624.625 H235.29999999999998" stroke="#111" stroke-width="1.1" fill="none"/>
<rect x="195.8" y="664.1083333333333" width="4" height="4" fill="#b0b0b0" stroke="#666" stroke-width="0.7"/>
<rect x="207.7" y="657.5583333333334" width="4" height="4" fill="#b0b0b0" stroke="#666" stroke-width="0.7"/>
<rect x="219.7" y="629.1750000000001" width="4" height="4" fill="#b0b0b0" stroke="#666" stroke-width="0.7"/>
<rect x="231.7" y="618.2583333333333" width="4" height="4" fill="#b0b0b0" stroke="#666" stroke-width="0.7"/>
<rect x="243.8" y="646.6416666666668" width="4" height="4" fill="#b0b0b0" stroke="#666" stroke-width="0.7"/>
<rect x="255.5" y="661.9250000000001" width="4" height="4" fill="#b0b0b0" stroke="#666" stroke-width="0.7"/>
<path d="M197.80,662.83 C199.78,655.37 205.72,622.44 209.70,618.08 C213.68,613.71 217.70,631.36 221.70,636.63 C225.70,641.91 229.68,645.00 233.70,649.73 C237.72,654.46 241.83,662.11 245.80,665.02 C249.77,667.93 255.55,666.84 257.50,667.20" fill="none" stroke="#1f9a4c" stroke-width="2.3"/>
<path d="M209.7,614.8000000000001 V621.35 M208.1,614.8000000000001 H211.29999999999998 M208.1,621.35 H211.29999999999998" stroke="#111" stroke-width="1.1" fill="none"/>
<circle cx="197.8" cy="662.8333333333334" r="2.3" fill="#1f9a4c"/>
<circle cx="209.7" cy="618.075" r="2.3" fill="#1f9a4c"/>
<circle cx="221.7" cy="636.6333333333333" r="2.3" fill="#1f9a4c"/>
<circle cx="233.7" cy="649.7333333333333" r="2.3" fill="#1f9a4c"/>
<circle cx="245.8" cy="665.0166666666668" r="2.3" fill="#1f9a4c"/>
<circle cx="257.5" cy="667.2" r="2.3" fill="#1f9a4c"/>
<path d="M197.80,616.98 C199.78,618.44 205.72,618.26 209.70,625.72 C213.68,633.18 217.70,655.19 221.70,661.74 C225.70,668.29 229.68,664.47 233.70,665.02 C237.72,665.56 241.83,665.02 245.80,665.02 C249.77,665.02 255.55,665.02 257.50,665.02" fill="none" stroke="#e63b35" stroke-width="2.3"/>
<path d="M209.7,611.525 V639.9083333333334 M208.1,611.525 H211.29999999999998 M208.1,639.9083333333334 H211.29999999999998" stroke="#111" stroke-width="1.1" fill="none"/>
<path d="M197.8,614.8000000000001 V619.1666666666666 M196.20000000000002,614.8000000000001 H199.4 M196.20000000000002,619.1666666666666 H199.4" stroke="#111" stroke-width="1.1" fill="none"/>
<rect x="195.60000000000002" y="614.7833333333333" width="4.4" height="4.4" rx="1" fill="#e63b35" stroke="#b22" stroke-width="0.5"/>
<rect x="207.5" y="623.5166666666667" width="4.4" height="4.4" rx="1" fill="#e63b35" stroke="#b22" stroke-width="0.5"/>
<rect x="219.5" y="659.5416666666666" width="4.4" height="4.4" rx="1" fill="#e63b35" stroke="#b22" stroke-width="0.5"/>
<rect x="231.5" y="662.8166666666667" width="4.4" height="4.4" rx="1" fill="#e63b35" stroke="#b22" stroke-width="0.5"/>
<rect x="243.60000000000002" y="662.8166666666667" width="4.4" height="4.4" rx="1" fill="#e63b35" stroke="#b22" stroke-width="0.5"/>
<rect x="255.3" y="662.8166666666667" width="4.4" height="4.4" rx="1" fill="#e63b35" stroke="#b22" stroke-width="0.5"/>
<line x1="303.6" y1="602.2" x2="303.6" y2="668.1" stroke="#111" stroke-width="1.7"/>
<line x1="302.8" y1="667.2" x2="398.8" y2="667.2" stroke="#111" stroke-width="1.8"/>
<line x1="301.40000000000003" y1="667.2" x2="303.6" y2="667.2" stroke="#111" stroke-width="1.1"/>
<text x="299.00" y="670.80" font-size="10.4" text-anchor="end" font-weight="normal" font-style="normal" fill="#222" >0</text>
<line x1="301.40000000000003" y1="651.1500000000001" x2="303.6" y2="651.1500000000001" stroke="#111" stroke-width="1.1"/>
<text x="299.00" y="654.75" font-size="10.4" text-anchor="end" font-weight="normal" font-style="normal" fill="#222" >20</text>
<line x1="301.40000000000003" y1="635.1" x2="303.6" y2="635.1" stroke="#111" stroke-width="1.1"/>
<text x="299.00" y="638.70" font-size="10.4" text-anchor="end" font-weight="normal" font-style="normal" fill="#222" >40</text>
<line x1="301.40000000000003" y1="619.05" x2="303.6" y2="619.05" stroke="#111" stroke-width="1.1"/>
<text x="299.00" y="622.65" font-size="10.4" text-anchor="end" font-weight="normal" font-style="normal" fill="#222" >60</text>
<line x1="301.40000000000003" y1="603.0" x2="303.6" y2="603.0" stroke="#111" stroke-width="1.1"/>
<text x="299.00" y="606.60" font-size="10.4" text-anchor="end" font-weight="normal" font-style="normal" fill="#222" >80</text>
<text x="346.00" y="603.40" font-size="12" text-anchor="middle" font-weight="normal" font-style="italic" fill="#111" >Ikaros</text>
<path d="M315.90,660.78 C317.88,655.16 323.82,629.35 327.80,627.08 C331.78,624.80 335.80,641.65 339.80,647.14 C343.80,652.62 347.78,656.90 351.80,659.98 C355.82,663.05 359.93,664.53 363.90,665.60 C367.87,666.66 373.65,666.26 375.60,666.40" fill="none" stroke="#111111" stroke-width="2.3"/>
<path d="M327.8,624.6675 V629.4825000000001 M326.2,624.6675 H329.40000000000003 M326.2,629.4825000000001 H329.40000000000003" stroke="#111" stroke-width="1.1" fill="none"/>
<circle cx="315.90000000000003" cy="660.7800000000001" r="2.3" fill="#111111"/>
<circle cx="327.8" cy="627.075" r="2.3" fill="#111111"/>
<circle cx="339.8" cy="647.1375" r="2.3" fill="#111111"/>
<circle cx="351.8" cy="659.9775000000001" r="2.3" fill="#111111"/>
<circle cx="363.90000000000003" cy="665.595" r="2.3" fill="#111111"/>
<circle cx="375.6" cy="666.3975" r="2.3" fill="#111111"/>
<path d="M315.90,663.99 C317.88,661.58 323.82,653.42 327.80,649.55 C331.78,645.67 335.80,642.05 339.80,640.72 C343.80,639.38 347.78,638.44 351.80,641.52 C355.82,644.60 359.93,655.03 363.90,659.18 C367.87,663.32 373.65,665.19 375.60,666.40" fill="none" stroke="#9a9a9a" stroke-width="2.3"/>
<path d="M339.8,636.7049999999999 V644.73 M338.2,636.7049999999999 H341.40000000000003 M338.2,644.73 H341.40000000000003" stroke="#111" stroke-width="1.1" fill="none"/>
<rect x="313.90000000000003" y="661.99" width="4" height="4" fill="#b0b0b0" stroke="#666" stroke-width="0.7"/>
<rect x="325.8" y="647.5450000000001" width="4" height="4" fill="#b0b0b0" stroke="#666" stroke-width="0.7"/>
<rect x="337.8" y="638.7175" width="4" height="4" fill="#b0b0b0" stroke="#666" stroke-width="0.7"/>
<rect x="349.8" y="639.52" width="4" height="4" fill="#b0b0b0" stroke="#666" stroke-width="0.7"/>
<rect x="361.90000000000003" y="657.1750000000001" width="4" height="4" fill="#b0b0b0" stroke="#666" stroke-width="0.7"/>
<rect x="373.6" y="664.3975" width="4" height="4" fill="#b0b0b0" stroke="#666" stroke-width="0.7"/>
<path d="M315.90,665.60 C317.88,662.12 323.82,648.48 327.80,644.73 C331.78,640.99 335.80,643.66 339.80,643.12 C343.80,642.59 347.78,638.85 351.80,641.52 C355.82,644.19 359.93,655.03 363.90,659.18 C367.87,663.32 373.65,665.19 375.60,666.40" fill="none" stroke="#1f9a4c" stroke-width="2.3"/>
<path d="M327.8,640.7175 V648.7425000000001 M326.2,640.7175 H329.40000000000003 M326.2,648.7425000000001 H329.40000000000003" stroke="#111" stroke-width="1.1" fill="none"/>
<path d="M351.8,636.7049999999999 V646.335 M350.2,636.7049999999999 H353.40000000000003 M350.2,646.335 H353.40000000000003" stroke="#111" stroke-width="1.1" fill="none"/>
<circle cx="315.90000000000003" cy="665.595" r="2.3" fill="#1f9a4c"/>
<circle cx="327.8" cy="644.73" r="2.3" fill="#1f9a4c"/>
<circle cx="339.8" cy="643.125" r="2.3" fill="#1f9a4c"/>
<circle cx="351.8" cy="641.52" r="2.3" fill="#1f9a4c"/>
<circle cx="363.90000000000003" cy="659.1750000000001" r="2.3" fill="#1f9a4c"/>
<circle cx="375.6" cy="666.3975" r="2.3" fill="#1f9a4c"/>
<path d="M315.90,663.19 C317.88,656.50 323.82,625.60 327.80,623.06 C331.78,620.52 335.80,641.79 339.80,647.94 C343.80,654.09 347.78,657.17 351.80,659.98 C355.82,662.79 359.93,663.86 363.90,664.79 C367.87,665.73 373.65,665.46 375.60,665.60" fill="none" stroke="#e63b35" stroke-width="2.3"/>
<rect x="313.70000000000005" y="660.9875" width="4.4" height="4.4" rx="1" fill="#e63b35" stroke="#b22" stroke-width="0.5"/>
<rect x="325.6" y="620.8625" width="4.4" height="4.4" rx="1" fill="#e63b35" stroke="#b22" stroke-width="0.5"/>
<rect x="337.6" y="645.74" width="4.4" height="4.4" rx="1" fill="#e63b35" stroke="#b22" stroke-width="0.5"/>
<rect x="349.6" y="657.7775" width="4.4" height="4.4" rx="1" fill="#e63b35" stroke="#b22" stroke-width="0.5"/>
<rect x="361.70000000000005" y="662.5925" width="4.4" height="4.4" rx="1" fill="#e63b35" stroke="#b22" stroke-width="0.5"/>
<rect x="373.40000000000003" y="663.395" width="4.4" height="4.4" rx="1" fill="#e63b35" stroke="#b22" stroke-width="0.5"/>
<line x1="423.7" y1="604.4000000000001" x2="423.7" y2="668.6" stroke="#111" stroke-width="1.7"/>
<line x1="422.9" y1="667.7" x2="520" y2="667.7" stroke="#111" stroke-width="1.8"/>
<line x1="421.5" y1="667.7" x2="423.7" y2="667.7" stroke="#111" stroke-width="1.1"/>
<text x="419.10" y="671.30" font-size="10.4" text-anchor="end" font-weight="normal" font-style="normal" fill="#222" >0</text>
<line x1="421.5" y1="646.8666666666667" x2="423.7" y2="646.8666666666667" stroke="#111" stroke-width="1.1"/>
<text x="419.10" y="650.47" font-size="10.4" text-anchor="end" font-weight="normal" font-style="normal" fill="#222" >20</text>
<line x1="421.5" y1="626.0333333333334" x2="423.7" y2="626.0333333333334" stroke="#111" stroke-width="1.1"/>
<text x="419.10" y="629.63" font-size="10.4" text-anchor="end" font-weight="normal" font-style="normal" fill="#222" >40</text>
<line x1="421.5" y1="605.2" x2="423.7" y2="605.2" stroke="#111" stroke-width="1.1"/>
<text x="419.10" y="608.80" font-size="10.4" text-anchor="end" font-weight="normal" font-style="normal" fill="#222" >60</text>
<text x="464.80" y="606.00" font-size="12" text-anchor="middle" font-weight="normal" font-style="italic" fill="#111" >Myf5</text>
<path d="M436.00,666.66 C437.98,666.31 443.92,666.83 447.90,664.58 C451.88,662.32 455.90,656.76 459.90,653.12 C463.90,649.47 467.88,646.87 471.90,642.70 C475.92,638.53 480.03,627.08 484.00,628.12 C487.97,629.16 493.75,645.48 495.70,648.95" fill="none" stroke="#111111" stroke-width="2.3"/>
<path d="M471.9,638.5333333333334 V646.8666666666667 M470.29999999999995,638.5333333333334 H473.5 M470.29999999999995,646.8666666666667 H473.5" stroke="#111" stroke-width="1.1" fill="none"/>
<path d="M484.0,623.95 V632.2833333333333 M482.4,623.95 H485.6 M482.4,632.2833333333333 H485.6" stroke="#111" stroke-width="1.1" fill="none"/>
<path d="M495.7,643.7416666666667 V654.1583333333334 M494.09999999999997,643.7416666666667 H497.3 M494.09999999999997,654.1583333333334 H497.3" stroke="#111" stroke-width="1.1" fill="none"/>
<circle cx="436.0" cy="666.6583333333334" r="2.3" fill="#111111"/>
<circle cx="447.9" cy="664.575" r="2.3" fill="#111111"/>
<circle cx="459.9" cy="653.1166666666667" r="2.3" fill="#111111"/>
<circle cx="471.9" cy="642.7" r="2.3" fill="#111111"/>
<circle cx="484.0" cy="628.1166666666667" r="2.3" fill="#111111"/>
<circle cx="495.7" cy="648.95" r="2.3" fill="#111111"/>
<path d="M436.00,667.70 C437.98,665.96 443.92,660.76 447.90,657.28 C451.88,653.81 455.90,649.47 459.90,646.87 C463.90,644.26 467.88,643.57 471.90,641.66 C475.92,639.75 480.03,633.50 484.00,635.41 C487.97,637.32 493.75,650.17 495.70,653.12" fill="none" stroke="#9a9a9a" stroke-width="2.3"/>
<rect x="434.0" y="665.7" width="4" height="4" fill="#b0b0b0" stroke="#666" stroke-width="0.7"/>
<rect x="445.9" y="655.2833333333334" width="4" height="4" fill="#b0b0b0" stroke="#666" stroke-width="0.7"/>
<rect x="457.9" y="644.8666666666667" width="4" height="4" fill="#b0b0b0" stroke="#666" stroke-width="0.7"/>
<rect x="469.9" y="639.6583333333334" width="4" height="4" fill="#b0b0b0" stroke="#666" stroke-width="0.7"/>
<rect x="482.0" y="633.4083333333334" width="4" height="4" fill="#b0b0b0" stroke="#666" stroke-width="0.7"/>
<rect x="493.7" y="651.1166666666667" width="4" height="4" fill="#b0b0b0" stroke="#666" stroke-width="0.7"/>
<path d="M436.00,667.70 C437.98,667.53 443.92,668.05 447.90,666.66 C451.88,665.27 455.90,663.01 459.90,659.37 C463.90,655.72 467.88,651.90 471.90,644.78 C475.92,637.67 480.03,616.66 484.00,616.66 C487.97,616.66 493.75,640.10 495.70,644.78" fill="none" stroke="#1f9a4c" stroke-width="2.3"/>
<circle cx="436.0" cy="667.7" r="2.3" fill="#1f9a4c"/>
<circle cx="447.9" cy="666.6583333333334" r="2.3" fill="#1f9a4c"/>
<circle cx="459.9" cy="659.3666666666667" r="2.3" fill="#1f9a4c"/>
<circle cx="471.9" cy="644.7833333333334" r="2.3" fill="#1f9a4c"/>
<circle cx="484.0" cy="616.6583333333334" r="2.3" fill="#1f9a4c"/>
<circle cx="495.7" cy="644.7833333333334" r="2.3" fill="#1f9a4c"/>
<path d="M436.00,666.66 C437.98,666.48 443.92,666.31 447.90,665.62 C451.88,664.92 455.90,665.96 459.90,662.49 C463.90,659.02 467.88,651.90 471.90,644.78 C475.92,637.67 480.03,619.44 484.00,619.78 C487.97,620.13 493.75,642.35 495.70,646.87" fill="none" stroke="#e63b35" stroke-width="2.3"/>
<rect x="433.8" y="664.4583333333334" width="4.4" height="4.4" rx="1" fill="#e63b35" stroke="#b22" stroke-width="0.5"/>
<rect x="445.7" y="663.4166666666666" width="4.4" height="4.4" rx="1" fill="#e63b35" stroke="#b22" stroke-width="0.5"/>
<rect x="457.7" y="660.2916666666666" width="4.4" height="4.4" rx="1" fill="#e63b35" stroke="#b22" stroke-width="0.5"/>
<rect x="469.7" y="642.5833333333334" width="4.4" height="4.4" rx="1" fill="#e63b35" stroke="#b22" stroke-width="0.5"/>
<rect x="481.8" y="617.5833333333334" width="4.4" height="4.4" rx="1" fill="#e63b35" stroke="#b22" stroke-width="0.5"/>
<rect x="493.5" y="644.6666666666666" width="4.4" height="4.4" rx="1" fill="#e63b35" stroke="#b22" stroke-width="0.5"/>
<line x1="64.8" y1="718.6" x2="64.8" y2="784.5" stroke="#111" stroke-width="1.7"/>
<line x1="64.0" y1="783.6" x2="159.5" y2="783.6" stroke="#111" stroke-width="1.8"/>
<line x1="62.599999999999994" y1="783.6" x2="64.8" y2="783.6" stroke="#111" stroke-width="1.1"/>
<text x="60.20" y="787.20" font-size="10.4" text-anchor="end" font-weight="normal" font-style="normal" fill="#222" >0</text>
<line x1="62.599999999999994" y1="762.2" x2="64.8" y2="762.2" stroke="#111" stroke-width="1.1"/>
<text x="60.20" y="765.80" font-size="10.4" text-anchor="end" font-weight="normal" font-style="normal" fill="#222" >20</text>
<line x1="62.599999999999994" y1="740.8" x2="64.8" y2="740.8" stroke="#111" stroke-width="1.1"/>
<text x="60.20" y="744.40" font-size="10.4" text-anchor="end" font-weight="normal" font-style="normal" fill="#222" >40</text>
<line x1="62.599999999999994" y1="719.4" x2="64.8" y2="719.4" stroke="#111" stroke-width="1.1"/>
<text x="60.20" y="723.00" font-size="10.4" text-anchor="end" font-weight="normal" font-style="normal" fill="#222" >60</text>
<text x="105.60" y="719.60" font-size="12" text-anchor="middle" font-weight="normal" font-style="italic" fill="#111" >Math1</text>
<path d="M77.10,778.25 C79.08,772.19 85.02,747.58 89.00,741.87 C92.98,736.16 97.00,739.37 101.00,744.01 C105.00,748.65 108.98,763.45 113.00,769.69 C117.02,775.93 121.13,779.14 125.10,781.46 C129.07,783.78 134.85,783.24 136.80,783.60" fill="none" stroke="#111111" stroke-width="2.3"/>
<path d="M89.0,732.24 V751.5 M87.4,732.24 H90.6 M87.4,751.5 H90.6" stroke="#111" stroke-width="1.1" fill="none"/>
<path d="M101.0,738.66 V749.36 M99.4,738.66 H102.6 M99.4,749.36 H102.6" stroke="#111" stroke-width="1.1" fill="none"/>
<path d="M113.0,765.4100000000001 V773.97 M111.4,765.4100000000001 H114.6 M111.4,773.97 H114.6" stroke="#111" stroke-width="1.1" fill="none"/>
<path d="M77.1,776.11 V780.39 M75.5,776.11 H78.69999999999999 M75.5,780.39 H78.69999999999999" stroke="#111" stroke-width="1.1" fill="none"/>
<circle cx="77.1" cy="778.25" r="2.3" fill="#111111"/>
<circle cx="89.0" cy="741.87" r="2.3" fill="#111111"/>
<circle cx="101.0" cy="744.01" r="2.3" fill="#111111"/>
<circle cx="113.0" cy="769.69" r="2.3" fill="#111111"/>
<circle cx="125.1" cy="781.46" r="2.3" fill="#111111"/>
<circle cx="136.8" cy="783.6" r="2.3" fill="#111111"/>
<path d="M77.10,781.46 C79.08,779.50 85.02,774.86 89.00,769.69 C92.98,764.52 97.00,754.17 101.00,750.43 C105.00,746.68 108.98,744.37 113.00,747.22 C117.02,750.07 121.13,762.20 125.10,767.55 C129.07,772.90 134.85,777.36 136.80,779.32" fill="none" stroke="#9a9a9a" stroke-width="2.3"/>
<path d="M101.0,747.2199999999999 V753.64 M99.4,747.2199999999999 H102.6 M99.4,753.64 H102.6" stroke="#111" stroke-width="1.1" fill="none"/>
<rect x="75.1" y="779.46" width="4" height="4" fill="#b0b0b0" stroke="#666" stroke-width="0.7"/>
<rect x="87.0" y="767.69" width="4" height="4" fill="#b0b0b0" stroke="#666" stroke-width="0.7"/>
<rect x="99.0" y="748.43" width="4" height="4" fill="#b0b0b0" stroke="#666" stroke-width="0.7"/>
<rect x="111.0" y="745.22" width="4" height="4" fill="#b0b0b0" stroke="#666" stroke-width="0.7"/>
<rect x="123.1" y="765.55" width="4" height="4" fill="#b0b0b0" stroke="#666" stroke-width="0.7"/>
<rect x="134.8" y="777.32" width="4" height="4" fill="#b0b0b0" stroke="#666" stroke-width="0.7"/>
<path d="M77.10,782.53 C79.08,782.17 85.02,784.13 89.00,780.39 C92.98,776.64 97.00,766.66 101.00,760.06 C105.00,753.46 108.98,742.23 113.00,740.80 C117.02,739.37 121.13,745.79 125.10,751.50 C129.07,757.21 134.85,771.12 136.80,775.04" fill="none" stroke="#1f9a4c" stroke-width="2.3"/>
<path d="M113.0,737.5899999999999 V744.01 M111.4,737.5899999999999 H114.6 M111.4,744.01 H114.6" stroke="#111" stroke-width="1.1" fill="none"/>
<circle cx="77.1" cy="782.53" r="2.3" fill="#1f9a4c"/>
<circle cx="89.0" cy="780.39" r="2.3" fill="#1f9a4c"/>
<circle cx="101.0" cy="760.0600000000001" r="2.3" fill="#1f9a4c"/>
<circle cx="113.0" cy="740.8" r="2.3" fill="#1f9a4c"/>
<circle cx="125.1" cy="751.5" r="2.3" fill="#1f9a4c"/>
<circle cx="136.8" cy="775.04" r="2.3" fill="#1f9a4c"/>
<path d="M77.10,782.53 C79.08,782.00 85.02,781.82 89.00,779.32 C92.98,776.82 97.00,773.26 101.00,767.55 C105.00,761.84 108.98,748.29 113.00,745.08 C117.02,741.87 121.13,743.65 125.10,748.29 C129.07,752.93 134.85,768.80 136.80,772.90" fill="none" stroke="#e63b35" stroke-width="2.3"/>
<path d="M125.1,741.87 V754.7099999999999 M123.5,741.87 H126.69999999999999 M123.5,754.7099999999999 H126.69999999999999" stroke="#111" stroke-width="1.1" fill="none"/>
<rect x="74.89999999999999" y="780.3299999999999" width="4.4" height="4.4" rx="1" fill="#e63b35" stroke="#b22" stroke-width="0.5"/>
<rect x="86.8" y="777.12" width="4.4" height="4.4" rx="1" fill="#e63b35" stroke="#b22" stroke-width="0.5"/>
<rect x="98.8" y="765.3499999999999" width="4.4" height="4.4" rx="1" fill="#e63b35" stroke="#b22" stroke-width="0.5"/>
<rect x="110.8" y="742.88" width="4.4" height="4.4" rx="1" fill="#e63b35" stroke="#b22" stroke-width="0.5"/>
<rect x="122.89999999999999" y="746.0899999999999" width="4.4" height="4.4" rx="1" fill="#e63b35" stroke="#b22" stroke-width="0.5"/>
<rect x="134.60000000000002" y="770.6999999999999" width="4.4" height="4.4" rx="1" fill="#e63b35" stroke="#b22" stroke-width="0.5"/>
<text x="0.00" y="0.00" font-size="8.7" text-anchor="middle" font-weight="normal" font-style="normal" fill="#000" transform="translate(77.30,796.2) scale(0.85,1)">G1</text>
<text x="0.00" y="0.00" font-size="8.7" text-anchor="middle" font-weight="normal" font-style="normal" fill="#000" transform="translate(88.60,796.2) scale(0.85,1)">S1</text>
<text x="0.00" y="0.00" font-size="8.7" text-anchor="middle" font-weight="normal" font-style="normal" fill="#000" transform="translate(99.90,796.2) scale(0.85,1)">S2</text>
<text x="0.00" y="0.00" font-size="8.7" text-anchor="middle" font-weight="normal" font-style="normal" fill="#000" transform="translate(112.40,796.2) scale(0.85,1)">S3</text>
<text x="0.00" y="0.00" font-size="8.7" text-anchor="middle" font-weight="normal" font-style="normal" fill="#000" transform="translate(124.00,796.2) scale(0.85,1)">S4</text>
<text x="0.00" y="0.00" font-size="8.7" text-anchor="middle" font-weight="normal" font-style="normal" fill="#000" transform="translate(141.70,796.2) scale(0.85,1)">G2/M</text>
<line x1="185.0" y1="718.6" x2="185.0" y2="784.5" stroke="#111" stroke-width="1.7"/>
<line x1="184.2" y1="783.6" x2="281.0" y2="783.6" stroke="#111" stroke-width="1.8"/>
<line x1="182.8" y1="783.6" x2="185.0" y2="783.6" stroke="#111" stroke-width="1.1"/>
<text x="180.40" y="787.20" font-size="10.4" text-anchor="end" font-weight="normal" font-style="normal" fill="#222" >0</text>
<line x1="182.8" y1="762.2" x2="185.0" y2="762.2" stroke="#111" stroke-width="1.1"/>
<text x="180.40" y="765.80" font-size="10.4" text-anchor="end" font-weight="normal" font-style="normal" fill="#222" >20</text>
<line x1="182.8" y1="740.8" x2="185.0" y2="740.8" stroke="#111" stroke-width="1.1"/>
<text x="180.40" y="744.40" font-size="10.4" text-anchor="end" font-weight="normal" font-style="normal" fill="#222" >40</text>
<line x1="182.8" y1="719.4" x2="185.0" y2="719.4" stroke="#111" stroke-width="1.1"/>
<text x="180.40" y="723.00" font-size="10.4" text-anchor="end" font-weight="normal" font-style="normal" fill="#222" >60</text>
<text x="226.50" y="720.00" font-size="12" text-anchor="middle" font-weight="normal" font-style="italic" fill="#111" >Sox1</text>
<path d="M197.30,772.90 C199.28,765.41 205.22,730.63 209.20,727.96 C213.18,725.29 217.20,749.00 221.20,756.85 C225.20,764.70 229.18,770.76 233.20,775.04 C237.22,779.32 241.33,781.10 245.30,782.53 C249.27,783.96 255.05,783.42 257.00,783.60" fill="none" stroke="#111111" stroke-width="2.3"/>
<path d="M209.2,724.75 V731.1700000000001 M207.6,724.75 H210.79999999999998 M207.6,731.1700000000001 H210.79999999999998" stroke="#111" stroke-width="1.1" fill="none"/>
<path d="M197.3,769.6899999999999 V776.11 M195.70000000000002,769.6899999999999 H198.9 M195.70000000000002,776.11 H198.9" stroke="#111" stroke-width="1.1" fill="none"/>
<path d="M221.2,754.71 V758.99 M219.6,754.71 H222.79999999999998 M219.6,758.99 H222.79999999999998" stroke="#111" stroke-width="1.1" fill="none"/>
<circle cx="197.3" cy="772.9" r="2.3" fill="#111111"/>
<circle cx="209.2" cy="727.96" r="2.3" fill="#111111"/>
<circle cx="221.2" cy="756.85" r="2.3" fill="#111111"/>
<circle cx="233.2" cy="775.04" r="2.3" fill="#111111"/>
<circle cx="245.3" cy="782.53" r="2.3" fill="#111111"/>
<circle cx="257.0" cy="783.6" r="2.3" fill="#111111"/>
<path d="M197.30,770.76 C199.28,764.34 205.22,735.45 209.20,732.24 C213.18,729.03 217.20,745.08 221.20,751.50 C225.20,757.92 229.18,765.77 233.20,770.76 C237.22,775.75 241.33,779.50 245.30,781.46 C249.27,783.42 255.05,782.35 257.00,782.53" fill="none" stroke="#9a9a9a" stroke-width="2.3"/>
<rect x="195.3" y="768.76" width="4" height="4" fill="#b0b0b0" stroke="#666" stroke-width="0.7"/>
<rect x="207.2" y="730.24" width="4" height="4" fill="#b0b0b0" stroke="#666" stroke-width="0.7"/>
<rect x="219.2" y="749.5" width="4" height="4" fill="#b0b0b0" stroke="#666" stroke-width="0.7"/>
<rect x="231.2" y="768.76" width="4" height="4" fill="#b0b0b0" stroke="#666" stroke-width="0.7"/>
<rect x="243.3" y="779.46" width="4" height="4" fill="#b0b0b0" stroke="#666" stroke-width="0.7"/>
<rect x="255.0" y="780.53" width="4" height="4" fill="#b0b0b0" stroke="#666" stroke-width="0.7"/>
<path d="M197.30,772.90 C199.28,768.98 205.22,754.71 209.20,749.36 C213.18,744.01 217.20,739.37 221.20,740.80 C225.20,742.23 229.18,751.14 233.20,757.92 C237.22,764.70 241.33,777.36 245.30,781.46 C249.27,785.56 255.05,782.35 257.00,782.53" fill="none" stroke="#1f9a4c" stroke-width="2.3"/>
<path d="M209.2,741.87 V756.85 M207.6,741.87 H210.79999999999998 M207.6,756.85 H210.79999999999998" stroke="#111" stroke-width="1.1" fill="none"/>
<path d="M233.2,752.5699999999999 V763.27 M231.6,752.5699999999999 H234.79999999999998 M231.6,763.27 H234.79999999999998" stroke="#111" stroke-width="1.1" fill="none"/>
<circle cx="197.3" cy="772.9" r="2.3" fill="#1f9a4c"/>
<circle cx="209.2" cy="749.36" r="2.3" fill="#1f9a4c"/>
<circle cx="221.2" cy="740.8" r="2.3" fill="#1f9a4c"/>
<circle cx="233.2" cy="757.92" r="2.3" fill="#1f9a4c"/>
<circle cx="245.3" cy="781.46" r="2.3" fill="#1f9a4c"/>
<circle cx="257.0" cy="782.53" r="2.3" fill="#1f9a4c"/>
<path d="M197.30,781.46 C199.28,777.54 205.22,765.94 209.20,757.92 C213.18,749.89 217.20,732.60 221.20,733.31 C225.20,734.02 229.18,754.35 233.20,762.20 C237.22,770.05 241.33,777.18 245.30,780.39 C249.27,783.60 255.05,781.28 257.00,781.46" fill="none" stroke="#e63b35" stroke-width="2.3"/>
<rect x="195.10000000000002" y="779.26" width="4.4" height="4.4" rx="1" fill="#e63b35" stroke="#b22" stroke-width="0.5"/>
<rect x="207.0" y="755.7199999999999" width="4.4" height="4.4" rx="1" fill="#e63b35" stroke="#b22" stroke-width="0.5"/>
<rect x="219.0" y="731.1099999999999" width="4.4" height="4.4" rx="1" fill="#e63b35" stroke="#b22" stroke-width="0.5"/>
<rect x="231.0" y="760.0" width="4.4" height="4.4" rx="1" fill="#e63b35" stroke="#b22" stroke-width="0.5"/>
<rect x="243.10000000000002" y="778.1899999999999" width="4.4" height="4.4" rx="1" fill="#e63b35" stroke="#b22" stroke-width="0.5"/>
<rect x="254.8" y="779.26" width="4.4" height="4.4" rx="1" fill="#e63b35" stroke="#b22" stroke-width="0.5"/>
<text x="0.00" y="0.00" font-size="8.7" text-anchor="middle" font-weight="normal" font-style="normal" fill="#000" transform="translate(197.50,796.2) scale(0.85,1)">G1</text>
<text x="0.00" y="0.00" font-size="8.7" text-anchor="middle" font-weight="normal" font-style="normal" fill="#000" transform="translate(208.80,796.2) scale(0.85,1)">S1</text>
<text x="0.00" y="0.00" font-size="8.7" text-anchor="middle" font-weight="normal" font-style="normal" fill="#000" transform="translate(220.10,796.2) scale(0.85,1)">S2</text>
<text x="0.00" y="0.00" font-size="8.7" text-anchor="middle" font-weight="normal" font-style="normal" fill="#000" transform="translate(232.60,796.2) scale(0.85,1)">S3</text>
<text x="0.00" y="0.00" font-size="8.7" text-anchor="middle" font-weight="normal" font-style="normal" fill="#000" transform="translate(244.20,796.2) scale(0.85,1)">S4</text>
<text x="0.00" y="0.00" font-size="8.7" text-anchor="middle" font-weight="normal" font-style="normal" fill="#000" transform="translate(261.90,796.2) scale(0.85,1)">G2/M</text>
<line x1="303.8" y1="718.4000000000001" x2="303.8" y2="784.5" stroke="#111" stroke-width="1.7"/>
<line x1="303.0" y1="783.6" x2="398.8" y2="783.6" stroke="#111" stroke-width="1.8"/>
<line x1="301.6" y1="783.6" x2="303.8" y2="783.6" stroke="#111" stroke-width="1.1"/>
<text x="299.20" y="787.20" font-size="10.4" text-anchor="end" font-weight="normal" font-style="normal" fill="#222" >0</text>
<line x1="301.6" y1="762.1333333333333" x2="303.8" y2="762.1333333333333" stroke="#111" stroke-width="1.1"/>
<text x="299.20" y="765.73" font-size="10.4" text-anchor="end" font-weight="normal" font-style="normal" fill="#222" >20</text>
<line x1="301.6" y1="740.6666666666667" x2="303.8" y2="740.6666666666667" stroke="#111" stroke-width="1.1"/>
<text x="299.20" y="744.27" font-size="10.4" text-anchor="end" font-weight="normal" font-style="normal" fill="#222" >40</text>
<line x1="301.6" y1="719.2" x2="303.8" y2="719.2" stroke="#111" stroke-width="1.1"/>
<text x="299.20" y="722.80" font-size="10.4" text-anchor="end" font-weight="normal" font-style="normal" fill="#222" >60</text>
<text x="346.60" y="720.00" font-size="12" text-anchor="middle" font-weight="normal" font-style="italic" fill="#111" >Nkx2-2</text>
<path d="M316.10,780.38 C318.08,774.30 324.02,750.15 328.00,743.89 C331.98,737.63 336.00,739.41 340.00,742.81 C344.00,746.21 347.98,757.66 352.00,764.28 C356.02,770.90 360.13,779.31 364.10,782.53 C368.07,785.75 373.85,783.42 375.80,783.60" fill="none" stroke="#111111" stroke-width="2.3"/>
<path d="M328.0,740.6666666666666 V747.1066666666667 M326.4,740.6666666666666 H329.6 M326.4,747.1066666666667 H329.6" stroke="#111" stroke-width="1.1" fill="none"/>
<path d="M352.0,758.9133333333333 V769.6466666666666 M350.4,758.9133333333333 H353.6 M350.4,769.6466666666666 H353.6" stroke="#111" stroke-width="1.1" fill="none"/>
<path d="M340.0,740.6666666666667 V744.96 M338.4,740.6666666666667 H341.6 M338.4,744.96 H341.6" stroke="#111" stroke-width="1.1" fill="none"/>
<circle cx="316.1" cy="780.38" r="2.3" fill="#111111"/>
<circle cx="328.0" cy="743.8866666666667" r="2.3" fill="#111111"/>
<circle cx="340.0" cy="742.8133333333334" r="2.3" fill="#111111"/>
<circle cx="352.0" cy="764.28" r="2.3" fill="#111111"/>
<circle cx="364.1" cy="782.5266666666666" r="2.3" fill="#111111"/>
<circle cx="375.8" cy="783.6" r="2.3" fill="#111111"/>
<path d="M316.10,781.45 C318.08,775.73 324.02,754.26 328.00,747.11 C331.98,739.95 336.00,735.12 340.00,738.52 C344.00,741.92 347.98,760.34 352.00,767.50 C356.02,774.66 360.13,778.95 364.10,781.45 C368.07,783.96 373.85,782.35 375.80,782.53" fill="none" stroke="#9a9a9a" stroke-width="2.3"/>
<path d="M328.0,742.8133333333334 V751.4 M326.4,742.8133333333334 H329.6 M326.4,751.4 H329.6" stroke="#111" stroke-width="1.1" fill="none"/>
<rect x="314.1" y="779.4533333333334" width="4" height="4" fill="#b0b0b0" stroke="#666" stroke-width="0.7"/>
<rect x="326.0" y="745.1066666666667" width="4" height="4" fill="#b0b0b0" stroke="#666" stroke-width="0.7"/>
<rect x="338.0" y="736.52" width="4" height="4" fill="#b0b0b0" stroke="#666" stroke-width="0.7"/>
<rect x="350.0" y="765.5" width="4" height="4" fill="#b0b0b0" stroke="#666" stroke-width="0.7"/>
<rect x="362.1" y="779.4533333333334" width="4" height="4" fill="#b0b0b0" stroke="#666" stroke-width="0.7"/>
<rect x="373.8" y="780.5266666666666" width="4" height="4" fill="#b0b0b0" stroke="#666" stroke-width="0.7"/>
<path d="M316.10,781.45 C318.08,777.16 324.02,763.92 328.00,755.69 C331.98,747.46 336.00,730.65 340.00,732.08 C344.00,733.51 347.98,755.87 352.00,764.28 C356.02,772.69 360.13,779.31 364.10,782.53 C368.07,785.75 373.85,783.42 375.80,783.60" fill="none" stroke="#1f9a4c" stroke-width="2.3"/>
<path d="M340.0,728.86 V735.3000000000001 M338.4,728.86 H341.6 M338.4,735.3000000000001 H341.6" stroke="#111" stroke-width="1.1" fill="none"/>
<circle cx="316.1" cy="781.4533333333334" r="2.3" fill="#1f9a4c"/>
<circle cx="328.0" cy="755.6933333333334" r="2.3" fill="#1f9a4c"/>
<circle cx="340.0" cy="732.08" r="2.3" fill="#1f9a4c"/>
<circle cx="352.0" cy="764.28" r="2.3" fill="#1f9a4c"/>
<circle cx="364.1" cy="782.5266666666666" r="2.3" fill="#1f9a4c"/>
<circle cx="375.8" cy="783.6" r="2.3" fill="#1f9a4c"/>
<path d="M316.10,781.45 C318.08,778.05 324.02,768.39 328.00,761.06 C331.98,753.73 336.00,737.98 340.00,737.45 C344.00,736.91 347.98,751.04 352.00,757.84 C356.02,764.64 360.13,774.30 364.10,778.23 C368.07,782.17 373.85,780.92 375.80,781.45" fill="none" stroke="#e63b35" stroke-width="2.3"/>
<path d="M328.0,757.84 V764.2800000000001 M326.4,757.84 H329.6 M326.4,764.2800000000001 H329.6" stroke="#111" stroke-width="1.1" fill="none"/>
<path d="M352.0,753.5466666666667 V762.1333333333333 M350.4,753.5466666666667 H353.6 M350.4,762.1333333333333 H353.6" stroke="#111" stroke-width="1.1" fill="none"/>
<rect x="313.90000000000003" y="779.2533333333333" width="4.4" height="4.4" rx="1" fill="#e63b35" stroke="#b22" stroke-width="0.5"/>
<rect x="325.8" y="758.86" width="4.4" height="4.4" rx="1" fill="#e63b35" stroke="#b22" stroke-width="0.5"/>
<rect x="337.8" y="735.2466666666667" width="4.4" height="4.4" rx="1" fill="#e63b35" stroke="#b22" stroke-width="0.5"/>
<rect x="349.8" y="755.64" width="4.4" height="4.4" rx="1" fill="#e63b35" stroke="#b22" stroke-width="0.5"/>
<rect x="361.90000000000003" y="776.0333333333333" width="4.4" height="4.4" rx="1" fill="#e63b35" stroke="#b22" stroke-width="0.5"/>
<rect x="373.6" y="779.2533333333333" width="4.4" height="4.4" rx="1" fill="#e63b35" stroke="#b22" stroke-width="0.5"/>
<text x="0.00" y="0.00" font-size="8.7" text-anchor="middle" font-weight="normal" font-style="normal" fill="#000" transform="translate(316.30,796.2) scale(0.85,1)">G1</text>
<text x="0.00" y="0.00" font-size="8.7" text-anchor="middle" font-weight="normal" font-style="normal" fill="#000" transform="translate(327.60,796.2) scale(0.85,1)">S1</text>
<text x="0.00" y="0.00" font-size="8.7" text-anchor="middle" font-weight="normal" font-style="normal" fill="#000" transform="translate(338.90,796.2) scale(0.85,1)">S2</text>
<text x="0.00" y="0.00" font-size="8.7" text-anchor="middle" font-weight="normal" font-style="normal" fill="#000" transform="translate(351.40,796.2) scale(0.85,1)">S3</text>
<text x="0.00" y="0.00" font-size="8.7" text-anchor="middle" font-weight="normal" font-style="normal" fill="#000" transform="translate(363.00,796.2) scale(0.85,1)">S4</text>
<text x="0.00" y="0.00" font-size="8.7" text-anchor="middle" font-weight="normal" font-style="normal" fill="#000" transform="translate(380.70,796.2) scale(0.85,1)">G2/M</text>
<line x1="423.3" y1="714.3000000000001" x2="423.3" y2="784.5" stroke="#111" stroke-width="1.7"/>
<line x1="422.5" y1="783.6" x2="520" y2="783.6" stroke="#111" stroke-width="1.8"/>
<line x1="421.1" y1="783.6" x2="423.3" y2="783.6" stroke="#111" stroke-width="1.1"/>
<text x="418.70" y="787.20" font-size="10.4" text-anchor="end" font-weight="normal" font-style="normal" fill="#222" >0</text>
<line x1="421.1" y1="760.7666666666667" x2="423.3" y2="760.7666666666667" stroke="#111" stroke-width="1.1"/>
<text x="418.70" y="764.37" font-size="10.4" text-anchor="end" font-weight="normal" font-style="normal" fill="#222" >20</text>
<line x1="421.1" y1="737.9333333333334" x2="423.3" y2="737.9333333333334" stroke="#111" stroke-width="1.1"/>
<text x="418.70" y="741.53" font-size="10.4" text-anchor="end" font-weight="normal" font-style="normal" fill="#222" >40</text>
<line x1="421.1" y1="715.1" x2="423.3" y2="715.1" stroke="#111" stroke-width="1.1"/>
<text x="418.70" y="718.70" font-size="10.4" text-anchor="end" font-weight="normal" font-style="normal" fill="#222" >60</text>
<text x="466.30" y="718.30" font-size="12" text-anchor="middle" font-weight="normal" font-style="italic" fill="#111" >Nkx2-9</text>
<path d="M435.60,782.46 C437.58,779.22 443.52,771.23 447.50,763.05 C451.48,754.87 455.50,734.70 459.50,733.37 C463.50,732.03 467.48,747.64 471.50,755.06 C475.52,762.48 479.63,773.33 483.60,777.89 C487.57,782.46 493.35,781.70 495.30,782.46" fill="none" stroke="#111111" stroke-width="2.3"/>
<path d="M447.5,760.7666666666668 V765.3333333333334 M445.9,760.7666666666668 H449.1 M445.9,765.3333333333334 H449.1" stroke="#111" stroke-width="1.1" fill="none"/>
<circle cx="435.6" cy="782.4583333333334" r="2.3" fill="#111111"/>
<circle cx="447.5" cy="763.0500000000001" r="2.3" fill="#111111"/>
<circle cx="459.5" cy="733.3666666666667" r="2.3" fill="#111111"/>
<circle cx="471.5" cy="755.0583333333334" r="2.3" fill="#111111"/>
<circle cx="483.6" cy="777.8916666666667" r="2.3" fill="#111111"/>
<circle cx="495.3" cy="782.4583333333334" r="2.3" fill="#111111"/>
<path d="M435.60,782.46 C437.58,778.84 443.52,768.76 447.50,760.77 C451.48,752.77 455.50,735.08 459.50,734.51 C463.50,733.94 467.48,750.49 471.50,757.34 C475.52,764.19 479.63,771.42 483.60,775.61 C487.57,779.79 493.35,781.32 495.30,782.46" fill="none" stroke="#9a9a9a" stroke-width="2.3"/>
<rect x="433.6" y="780.4583333333334" width="4" height="4" fill="#b0b0b0" stroke="#666" stroke-width="0.7"/>
<rect x="445.5" y="758.7666666666667" width="4" height="4" fill="#b0b0b0" stroke="#666" stroke-width="0.7"/>
<rect x="457.5" y="732.5083333333333" width="4" height="4" fill="#b0b0b0" stroke="#666" stroke-width="0.7"/>
<rect x="469.5" y="755.3416666666667" width="4" height="4" fill="#b0b0b0" stroke="#666" stroke-width="0.7"/>
<rect x="481.6" y="773.6083333333333" width="4" height="4" fill="#b0b0b0" stroke="#666" stroke-width="0.7"/>
<rect x="493.3" y="780.4583333333334" width="4" height="4" fill="#b0b0b0" stroke="#666" stroke-width="0.7"/>
<path d="M435.60,782.46 C437.58,778.65 443.52,768.57 447.50,759.62 C451.48,750.68 455.50,729.75 459.50,728.80 C463.50,727.85 467.48,745.35 471.50,753.92 C475.52,762.48 479.63,775.42 483.60,780.18 C487.57,784.93 493.35,782.08 495.30,782.46" fill="none" stroke="#1f9a4c" stroke-width="2.3"/>
<circle cx="435.6" cy="782.4583333333334" r="2.3" fill="#1f9a4c"/>
<circle cx="447.5" cy="759.625" r="2.3" fill="#1f9a4c"/>
<circle cx="459.5" cy="728.8000000000001" r="2.3" fill="#1f9a4c"/>
<circle cx="471.5" cy="753.9166666666667" r="2.3" fill="#1f9a4c"/>
<circle cx="483.6" cy="780.1750000000001" r="2.3" fill="#1f9a4c"/>
<circle cx="495.3" cy="782.4583333333334" r="2.3" fill="#1f9a4c"/>
<path d="M435.60,782.46 C437.58,777.70 443.52,761.34 447.50,753.92 C451.48,746.50 455.50,738.31 459.50,737.93 C463.50,737.55 467.48,744.59 471.50,751.63 C475.52,758.67 479.63,775.04 483.60,780.18 C487.57,785.31 493.35,782.08 495.30,782.46" fill="none" stroke="#e63b35" stroke-width="2.3"/>
<rect x="433.40000000000003" y="780.2583333333333" width="4.4" height="4.4" rx="1" fill="#e63b35" stroke="#b22" stroke-width="0.5"/>
<rect x="445.3" y="751.7166666666667" width="4.4" height="4.4" rx="1" fill="#e63b35" stroke="#b22" stroke-width="0.5"/>
<rect x="457.3" y="735.7333333333333" width="4.4" height="4.4" rx="1" fill="#e63b35" stroke="#b22" stroke-width="0.5"/>
<rect x="469.3" y="749.4333333333333" width="4.4" height="4.4" rx="1" fill="#e63b35" stroke="#b22" stroke-width="0.5"/>
<rect x="481.40000000000003" y="777.975" width="4.4" height="4.4" rx="1" fill="#e63b35" stroke="#b22" stroke-width="0.5"/>
<rect x="493.1" y="780.2583333333333" width="4.4" height="4.4" rx="1" fill="#e63b35" stroke="#b22" stroke-width="0.5"/>
<text x="0.00" y="0.00" font-size="8.7" text-anchor="middle" font-weight="normal" font-style="normal" fill="#000" transform="translate(435.80,796.2) scale(0.85,1)">G1</text>
<text x="0.00" y="0.00" font-size="8.7" text-anchor="middle" font-weight="normal" font-style="normal" fill="#000" transform="translate(447.10,796.2) scale(0.85,1)">S1</text>
<text x="0.00" y="0.00" font-size="8.7" text-anchor="middle" font-weight="normal" font-style="normal" fill="#000" transform="translate(458.40,796.2) scale(0.85,1)">S2</text>
<text x="0.00" y="0.00" font-size="8.7" text-anchor="middle" font-weight="normal" font-style="normal" fill="#000" transform="translate(470.90,796.2) scale(0.85,1)">S3</text>
<text x="0.00" y="0.00" font-size="8.7" text-anchor="middle" font-weight="normal" font-style="normal" fill="#000" transform="translate(482.50,796.2) scale(0.85,1)">S4</text>
<text x="0.00" y="0.00" font-size="8.7" text-anchor="middle" font-weight="normal" font-style="normal" fill="#000" transform="translate(500.20,796.2) scale(0.85,1)">G2/M</text>
</svg></body></html>
